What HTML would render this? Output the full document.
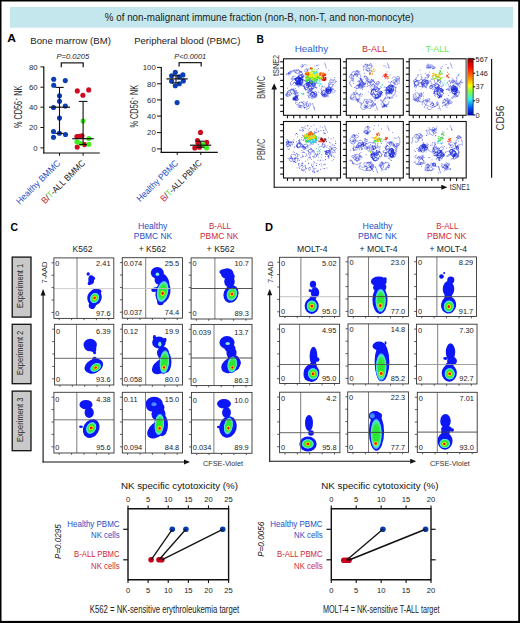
<!DOCTYPE html>
<html><head><meta charset="utf-8"><title>Figure</title>
<style>html,body{margin:0;padding:0;background:#fff;overflow:hidden;width:520px;height:623px;}svg{display:block;}text{font-family:"Liberation Sans",sans-serif;}</style>
</head><body>
<svg width="520" height="623" viewBox="0 0 520 623">
<rect x="0" y="0" width="520" height="623" fill="#fff" />
<rect x="10" y="7" width="503" height="20.7" fill="#c3e7ed" />
<text x="104.8" y="20.5" font-size="10" fill="#1a1a1a" textLength="309" lengthAdjust="spacingAndGlyphs">% of non-malignant immune fraction (non-B, non-T, and non-monocyte)</text>
<text x="7.2" y="42.1" font-size="10" fill="#000" font-weight="bold" textLength="8.7" lengthAdjust="spacingAndGlyphs">A</text>
<text x="30.3" y="44.4" font-size="9.8" fill="#222" textLength="80.6" lengthAdjust="spacingAndGlyphs">Bone marrow (BM)</text>
<text x="134.2" y="44.4" font-size="9.8" fill="#222" textLength="106.2" lengthAdjust="spacingAndGlyphs">Peripheral blood (PBMC)</text>
<text x="56.5" y="58.6" font-size="6.6" fill="#222" font-style="italic" textLength="32.7" lengthAdjust="spacingAndGlyphs">P=0.0205</text>
<path d="M61.3 67.2 V62.9 H83.2 V67.2" fill="none" stroke="#222" stroke-width="1.3"/>
<line x1="43.8" y1="66.4" x2="43.8" y2="153.6" stroke="#111" stroke-width="1.2" />
<line x1="43.2" y1="153.0" x2="99.8" y2="153.0" stroke="#111" stroke-width="1.2" />
<line x1="40.4" y1="66.9" x2="43.8" y2="66.9" stroke="#111" stroke-width="1.0" />
<text x="37.6" y="69.60000000000001" font-size="7.8" fill="#2a2a2a" text-anchor="end">80</text>
<line x1="40.4" y1="87.2" x2="43.8" y2="87.2" stroke="#111" stroke-width="1.0" />
<text x="37.6" y="89.9" font-size="7.8" fill="#2a2a2a" text-anchor="end">60</text>
<line x1="40.4" y1="107.2" x2="43.8" y2="107.2" stroke="#111" stroke-width="1.0" />
<text x="37.6" y="109.9" font-size="7.8" fill="#2a2a2a" text-anchor="end">40</text>
<line x1="40.4" y1="127.5" x2="43.8" y2="127.5" stroke="#111" stroke-width="1.0" />
<text x="37.6" y="130.2" font-size="7.8" fill="#2a2a2a" text-anchor="end">20</text>
<line x1="40.4" y1="147.9" x2="43.8" y2="147.9" stroke="#111" stroke-width="1.0" />
<text x="37.6" y="150.6" font-size="7.8" fill="#2a2a2a" text-anchor="end">0</text>
<line x1="59.5" y1="153" x2="59.5" y2="155.8" stroke="#111" stroke-width="1.0" />
<line x1="83.1" y1="153" x2="83.1" y2="155.8" stroke="#111" stroke-width="1.0" />
<circle cx="53.7" cy="79.2" r="2.55" fill="#0b3db5"/>
<circle cx="65.3" cy="80.6" r="2.55" fill="#0b3db5"/>
<circle cx="53.7" cy="85.3" r="2.55" fill="#0b3db5"/>
<circle cx="59.5" cy="95.7" r="2.55" fill="#0b3db5"/>
<circle cx="59.5" cy="101.2" r="2.55" fill="#0b3db5"/>
<circle cx="53.5" cy="107.5" r="2.55" fill="#0b3db5"/>
<circle cx="65.3" cy="106.0" r="2.55" fill="#0b3db5"/>
<circle cx="59.5" cy="118.0" r="2.55" fill="#0b3db5"/>
<circle cx="53.5" cy="131.5" r="2.55" fill="#0b3db5"/>
<circle cx="59.4" cy="133.3" r="2.55" fill="#0b3db5"/>
<circle cx="65.5" cy="134.5" r="2.55" fill="#0b3db5"/>
<circle cx="53.5" cy="137.3" r="2.55" fill="#0b3db5"/>
<circle cx="77.3" cy="90.9" r="2.55" fill="#cf0a20"/>
<circle cx="88.7" cy="89.9" r="2.55" fill="#cf0a20"/>
<circle cx="82.9" cy="95.2" r="2.55" fill="#cf0a20"/>
<circle cx="76.9" cy="136.5" r="2.55" fill="#cf0a20"/>
<circle cx="79.5" cy="136.2" r="2.55" fill="#cf0a20"/>
<circle cx="82.0" cy="135.7" r="2.55" fill="#cf0a20"/>
<circle cx="84.6" cy="144.6" r="2.55" fill="#cf0a20"/>
<circle cx="77.2" cy="147.1" r="2.55" fill="#cf0a20"/>
<circle cx="83.0" cy="121.1" r="2.55" fill="#3ef01e"/>
<circle cx="76.9" cy="141.8" r="2.55" fill="#3ef01e"/>
<circle cx="80.8" cy="143.5" r="2.55" fill="#3ef01e"/>
<circle cx="88.8" cy="138.5" r="2.55" fill="#3ef01e"/>
<circle cx="88.8" cy="144.2" r="2.55" fill="#3ef01e"/>
<line x1="49" y1="107.2" x2="70" y2="107.2" stroke="#111" stroke-width="1.2" />
<line x1="59.5" y1="87.4" x2="59.5" y2="133.4" stroke="#111" stroke-width="1.1" />
<line x1="55.3" y1="87.4" x2="63.7" y2="87.4" stroke="#111" stroke-width="1.1" />
<line x1="55.3" y1="133.4" x2="63.6" y2="133.4" stroke="#111" stroke-width="1.1" />
<line x1="72.3" y1="138.7" x2="93.8" y2="138.7" stroke="#111" stroke-width="1.2" />
<line x1="83.1" y1="101.4" x2="83.1" y2="144.5" stroke="#111" stroke-width="1.1" />
<line x1="78.8" y1="101.4" x2="87.5" y2="101.4" stroke="#111" stroke-width="1.1" />
<line x1="79.2" y1="144.5" x2="86.9" y2="144.5" stroke="#111" stroke-width="1.1" />
<text x="22.4" y="128.0" font-size="10.6" fill="#2a2a2a" textLength="42.3" lengthAdjust="spacingAndGlyphs" transform="rotate(-90 22.4 128.0)">% CD56<tspan font-size="6" dx="0.8" dy="-4">+</tspan><tspan dy="4"> NK</tspan></text>
<text x="174.2" y="58.6" font-size="6.6" fill="#222" font-style="italic" textLength="32.0" lengthAdjust="spacingAndGlyphs">P&lt;0.0001</text>
<path d="M179.1 66.6 V62.6 H201.2 V66.6" fill="none" stroke="#222" stroke-width="1.3"/>
<line x1="161.3" y1="67.0" x2="161.3" y2="152.9" stroke="#111" stroke-width="1.2" />
<line x1="160.7" y1="152.3" x2="217.8" y2="152.3" stroke="#111" stroke-width="1.2" />
<line x1="157.0" y1="67.4" x2="161.3" y2="67.4" stroke="#111" stroke-width="1.0" />
<text x="155.8" y="70.10000000000001" font-size="7.8" fill="#2a2a2a" text-anchor="end">100</text>
<line x1="157.0" y1="83.8" x2="161.3" y2="83.8" stroke="#111" stroke-width="1.0" />
<text x="155.8" y="86.5" font-size="7.8" fill="#2a2a2a" text-anchor="end">80</text>
<line x1="157.0" y1="99.9" x2="161.3" y2="99.9" stroke="#111" stroke-width="1.0" />
<text x="155.8" y="102.60000000000001" font-size="7.8" fill="#2a2a2a" text-anchor="end">60</text>
<line x1="157.0" y1="116.1" x2="161.3" y2="116.1" stroke="#111" stroke-width="1.0" />
<text x="155.8" y="118.8" font-size="7.8" fill="#2a2a2a" text-anchor="end">40</text>
<line x1="157.0" y1="132.6" x2="161.3" y2="132.6" stroke="#111" stroke-width="1.0" />
<text x="155.8" y="135.29999999999998" font-size="7.8" fill="#2a2a2a" text-anchor="end">20</text>
<line x1="157.0" y1="148.9" x2="161.3" y2="148.9" stroke="#111" stroke-width="1.0" />
<text x="155.8" y="151.6" font-size="7.8" fill="#2a2a2a" text-anchor="end">0</text>
<line x1="177.2" y1="152.3" x2="177.2" y2="155.0" stroke="#111" stroke-width="1.0" />
<line x1="200.8" y1="152.3" x2="200.8" y2="155.0" stroke="#111" stroke-width="1.0" />
<circle cx="175.3" cy="72.4" r="2.55" fill="#0b3db5"/>
<circle cx="171.6" cy="75.7" r="2.55" fill="#0b3db5"/>
<circle cx="182.9" cy="74.9" r="2.55" fill="#0b3db5"/>
<circle cx="179.3" cy="76.9" r="2.55" fill="#0b3db5"/>
<circle cx="171.6" cy="81.3" r="2.55" fill="#0b3db5"/>
<circle cx="183.3" cy="80.9" r="2.55" fill="#0b3db5"/>
<circle cx="175.3" cy="85.7" r="2.55" fill="#0b3db5"/>
<circle cx="179.3" cy="83.7" r="2.55" fill="#0b3db5"/>
<circle cx="177.1" cy="102.6" r="2.55" fill="#0b3db5"/>
<circle cx="200.5" cy="132.4" r="2.55" fill="#cf0a20"/>
<circle cx="197.5" cy="140.6" r="2.55" fill="#cf0a20"/>
<circle cx="206.7" cy="142.4" r="2.55" fill="#cf0a20"/>
<circle cx="198.1" cy="143.2" r="2.55" fill="#cf0a20"/>
<circle cx="194.8" cy="147.9" r="2.55" fill="#cf0a20"/>
<circle cx="199.5" cy="147.2" r="2.55" fill="#cf0a20"/>
<circle cx="203.2" cy="144.5" r="2.55" fill="#3ef01e"/>
<circle cx="206.5" cy="147.9" r="2.55" fill="#3ef01e"/>
<line x1="166.4" y1="78.9" x2="187.7" y2="78.9" stroke="#111" stroke-width="1.2" />
<line x1="176.0" y1="75.7" x2="176.0" y2="82.9" stroke="#111" stroke-width="1.1" />
<line x1="172.0" y1="75.7" x2="180.0" y2="75.7" stroke="#111" stroke-width="1.1" />
<line x1="172.0" y1="82.9" x2="180.0" y2="82.9" stroke="#111" stroke-width="1.1" />
<line x1="190.0" y1="145.2" x2="211.3" y2="145.2" stroke="#111" stroke-width="1.2" />
<line x1="200.8" y1="141.2" x2="200.8" y2="147.2" stroke="#111" stroke-width="1.1" />
<line x1="196.4" y1="141.2" x2="204.5" y2="141.2" stroke="#111" stroke-width="1.1" />
<line x1="196.4" y1="147.2" x2="204.5" y2="147.2" stroke="#111" stroke-width="1.1" />
<text x="137.9" y="127.6" font-size="10.6" fill="#2a2a2a" textLength="42.8" lengthAdjust="spacingAndGlyphs" transform="rotate(-90 137.9 127.6)">% CD56<tspan font-size="6" dx="0.8" dy="-4">+</tspan><tspan dy="4"> NK</tspan></text>
<text x="61.0" y="163.7" font-size="9.0" text-anchor="end" transform="rotate(-45 61.0 163.7)" textLength="58.5" lengthAdjust="spacingAndGlyphs"><tspan fill="#1f4ec2">Healthy BMMC</tspan></text>
<text x="85.7" y="163.7" font-size="9.0" text-anchor="end" transform="rotate(-45 85.7 163.7)" textLength="57.5" lengthAdjust="spacingAndGlyphs"><tspan fill="#d01f38">B</tspan><tspan fill="#222">/</tspan><tspan fill="#66e04a">T</tspan><tspan fill="#222">-ALL BMMC</tspan></text>
<text x="178.8" y="163.7" font-size="9.0" text-anchor="end" transform="rotate(-45 178.8 163.7)" textLength="54.5" lengthAdjust="spacingAndGlyphs"><tspan fill="#1f4ec2">Healthy PBMC</tspan></text>
<text x="202.5" y="163.7" font-size="9.0" text-anchor="end" transform="rotate(-45 202.5 163.7)" textLength="54.5" lengthAdjust="spacingAndGlyphs"><tspan fill="#d01f38">B</tspan><tspan fill="#222">/</tspan><tspan fill="#66e04a">T</tspan><tspan fill="#222">-ALL PBMC</tspan></text>
<text x="256.5" y="42.5" font-size="10.2" fill="#000" font-weight="bold" textLength="7.4" lengthAdjust="spacingAndGlyphs">B</text>
<text x="294.7" y="52.1" font-size="9.3" fill="#2f5fd0" textLength="33.4" lengthAdjust="spacingAndGlyphs">Healthy</text>
<text x="361.9" y="52.1" font-size="9.3" fill="#d01f38" textLength="25.0" lengthAdjust="spacingAndGlyphs">B-ALL</text>
<text x="425.4" y="52.1" font-size="9.3" fill="#6ee84e" textLength="23.8" lengthAdjust="spacingAndGlyphs">T-ALL</text>
<path d="M301.3 72.9 L301.8 72.3 L301.6 71.8 L300.8 71.4 L300.0 71.2 L299.3 71.5 L299.0 72.2 L298.6 72.7 L298.2 73.3 L297.4 73.5 L296.7 73.4 L295.9 73.1 L295.5 72.5 L295.3 72.0 L295.5 71.2 L296.0 70.5 L296.5 69.7 L297.0 70.2 L297.2 71.0 L297.2 71.7 L296.8 72.1 L296.3 72.4 L295.6 72.4 L294.8 72.1 L294.3 71.8 L293.9 71.4 L293.9 70.7 L294.3 70.2 L294.7 70.6" fill="none" stroke="#1422d6" stroke-width="0.70" stroke-opacity="0.90" stroke-dasharray="0.9 0.4"/>
<path d="M296.6 83.0 L296.9 82.5 L297.0 81.8 L297.6 81.3 L298.2 81.2 L298.8 81.5 L299.1 82.0 L299.0 82.8 L298.7 83.3 L298.3 83.9 L297.7 84.2 L297.0 84.3 L296.1 84.0 L295.5 83.5 L295.3 82.9 L295.0 82.4 L294.5 82.2 L293.6 82.3 L293.2 82.9" fill="none" stroke="#1422d6" stroke-width="0.70" stroke-opacity="0.90" stroke-dasharray="0.9 0.4"/>
<path d="M291.1 72.9 L290.5 72.6 L289.8 72.8 L289.1 72.8 L288.6 73.2 L287.8 73.6 L287.9 74.4 L288.3 75.0 L289.2 75.1 L289.7 74.8 L290.0 74.4 L290.0 73.8 L289.6 73.3 L289.1 72.8 L288.4 72.5 L288.3 73.1 L288.8 73.3 L289.6 73.5 L290.2 73.5 L290.9 73.2 L291.4 72.7 L291.5 72.1 L291.3 71.3 L290.8 70.9 L290.4 71.3" fill="none" stroke="#1422d6" stroke-width="0.70" stroke-opacity="0.90" stroke-dasharray="0.9 0.4"/>
<path d="M300.1 72.1 L300.0 71.2 L299.6 70.6 L298.9 70.2 L298.1 70.0 L297.3 70.1 L296.6 70.4 L295.9 70.3 L295.3 70.1 L294.5 70.0 L293.8 70.4 L293.3 70.7 L292.7 70.9 L292.0 70.6 L291.4 71.1 L290.9 71.6 L290.0 71.6 L289.4 71.9 L288.8 72.3 L288.6 72.8 L288.4 73.5 L287.9 73.9 L287.1 73.7 L286.5 73.9 L286.3 74.5 L286.4 75.4" fill="none" stroke="#1422d6" stroke-width="0.70" stroke-opacity="0.90" stroke-dasharray="0.9 0.4"/>
<path d="M302.9 74.6 L302.8 75.2 L302.5 76.0 L302.5 76.8 L302.3 77.4 L301.7 77.9 L300.9 78.0 L300.0 77.9 L299.2 77.7 L298.7 77.3 L298.3 76.5 L298.5 75.8 L298.7 75.1 L299.0 74.4 L299.2 73.8 L299.4 72.9 L299.7 72.4 L300.0 71.6 L300.5 71.0 L301.0 71.5 L300.9 72.4 L300.6 72.8 L300.1 73.3" fill="none" stroke="#1422d6" stroke-width="0.70" stroke-opacity="0.90" stroke-dasharray="0.9 0.4"/>
<path d="M299.2 79.5 L299.7 79.7 L300.2 80.3 L300.6 80.9 L300.8 81.6 L300.7 82.2 L300.3 82.8 L299.6 83.2 L298.8 83.4 L298.2 83.2 L297.7 82.4 L297.7 81.8 L298.0 81.3 L298.7 80.9 L299.5 80.6" fill="none" stroke="#1422d6" stroke-width="0.70" stroke-opacity="0.90" stroke-dasharray="0.9 0.4"/>
<path d="M301.4 82.4 L300.8 82.9 L300.2 83.0 L299.5 83.1 L299.0 83.4 L298.5 84.1 L298.1 84.5 L298.1 85.2 L298.1 85.9 L298.3 86.7 L299.0 87.2 L299.3 86.4 L299.3 85.8 L299.2 85.0 L299.4 84.2" fill="none" stroke="#1422d6" stroke-width="0.70" stroke-opacity="0.90" stroke-dasharray="0.9 0.4"/>
<path d="M302.2 76.4 L302.2 77.2 L301.8 77.8 L301.0 77.9 L300.4 77.6 L300.1 77.0 L299.6 76.6 L299.4 76.0 L299.7 75.4 L300.3 75.0 L301.1 74.9 L301.9 75.4 L302.5 75.9 L302.8 76.4 L302.9 77.0 L302.9 77.7 L302.5 78.4 L301.7 78.5 L300.9 78.5 L300.3 78.4 L299.7 78.0 L299.4 77.1 L298.8 76.7 L298.0 76.6 L297.3 76.9 L296.9 77.4 L296.4 78.0 L295.6 78.3 L294.8 78.5 L294.1 78.5 L293.5 78.3 L293.0 77.6 L292.9 76.8 L293.2 76.1 L293.6 75.7" fill="none" stroke="#1422d6" stroke-width="0.70" stroke-opacity="0.90" stroke-dasharray="0.9 0.4"/>
<path d="M298.7 83.0 L299.0 83.7 L298.9 84.5 L298.5 85.0 L297.8 85.5 L297.2 85.6 L296.5 85.3 L296.1 84.9 L295.6 84.1 L295.7 83.6 L295.4 82.9 L294.9 82.6 L294.1 82.7 L293.5 83.1 L293.1 83.8 L292.9 84.3 L292.3 84.8 L291.7 85.1 L290.9 85.0 L290.4 84.4 L290.4 83.7 L290.5 82.9 L290.7 82.1 L291.1 81.6 L291.7 81.4 L292.2 81.0 L292.6 80.5 L292.7 79.7 L292.4 79.0 L291.8 78.3 L291.2 77.8" fill="none" stroke="#1422d6" stroke-width="0.70" stroke-opacity="0.90" stroke-dasharray="0.9 0.4"/>
<path d="M297.4 81.7 L298.2 81.5 L299.0 81.6 L299.6 81.8 L300.0 82.1 L300.6 82.7 L300.9 83.2 L301.7 83.6 L302.2 83.2 L302.3 82.6 L302.0 82.1 L301.9 81.2 L302.0 80.5 L302.4 80.0 L302.1 79.4 L301.4 79.1 L300.8 79.0 L300.3 78.5 L299.8 78.2 L299.5 77.7 L298.9 77.8 L298.5 78.2 L298.3 79.0 L298.4 79.7" fill="none" stroke="#1422d6" stroke-width="0.90" stroke-opacity="1.00" stroke-dasharray="0.9 0.4"/>
<path d="M299.8 81.1 L300.0 82.0 L300.3 82.7 L300.2 83.3 L299.9 84.0 L299.4 84.5 L298.6 84.7 L297.8 84.3 L297.3 83.8 L296.9 83.1 L296.9 82.2 L297.1 81.7 L297.7 81.1 L298.3 81.0 L299.1 81.4 L299.4 82.0 L299.5 82.7 L299.2 83.5 L298.6 84.0 L298.0 84.1 L297.4 84.1 L297.0 83.6 L296.6 83.0" fill="none" stroke="#1422d6" stroke-width="0.90" stroke-opacity="1.00" stroke-dasharray="0.9 0.4"/>
<path d="M298.7 80.4 L298.7 79.6 L298.9 79.1 L299.5 78.4 L300.1 78.2 L300.9 78.2 L301.2 78.7 L301.8 79.3 L302.3 79.8 L302.1 80.5 L302.3 81.3 L302.5 82.1 L301.9 82.6 L301.3 83.2 L300.8 83.6 L300.7 84.2 L300.7 84.9 L300.1 85.1 L299.5 85.2 L299.0 84.9 L298.3 84.5 L297.4 84.6 L297.1 84.0 L297.2 83.4 L297.3 82.6 L297.6 81.9 L298.1 81.4 L298.9 81.2 L299.5 81.2 L300.3 81.2" fill="none" stroke="#1422d6" stroke-width="0.90" stroke-opacity="1.00" stroke-dasharray="0.9 0.4"/>
<path d="M295.9 81.1 L296.0 80.5 L296.0 79.7 L295.4 79.0 L295.8 78.4 L296.4 77.8 L297.0 77.5 L297.9 77.4 L298.6 77.4 L299.2 77.8 L300.0 78.1 L300.8 78.5 L301.5 79.0 L302.1 79.4 L301.8 79.9 L301.2 80.3 L300.4 80.6 L299.6 80.4 L299.1 79.8 L299.0 79.3 L298.9 78.5" fill="none" stroke="#1422d6" stroke-width="0.90" stroke-opacity="1.00" stroke-dasharray="0.9 0.4"/>
<path d="M297.7 80.7 L297.1 80.1 L296.5 79.7 L295.8 79.6 L295.6 80.3 L296.3 80.8 L297.0 81.1 L297.6 81.3 L298.3 81.5 L299.1 81.3 L299.8 81.4 L300.6 81.6 L301.0 82.1 L301.1 83.0 L300.8 83.5 L300.1 83.8 L299.3 83.6 L298.7 83.2" fill="none" stroke="#1422d6" stroke-width="0.90" stroke-opacity="1.00" stroke-dasharray="0.9 0.4"/>
<path d="M296.2 82.8 L295.8 83.5 L296.4 84.2 L297.0 84.3 L297.9 84.1 L298.5 83.9 L298.9 83.6 L299.7 83.6 L300.2 84.0 L300.7 84.7 L301.6 84.9 L302.0 84.5 L302.4 84.0 L302.8 83.2 L302.6 82.4 L302.2 81.7 L302.3 80.9 L302.7 80.5 L302.6 79.7 L302.1 79.3 L301.5 79.0 L301.1 78.3 L300.3 78.0 L299.5 77.9 L298.9 77.8 L298.3 77.9 L297.7 77.8 L297.1 77.9 L296.5 78.2 L296.0 78.9 L295.6 79.5 L296.0 80.3" fill="none" stroke="#1422d6" stroke-width="0.90" stroke-opacity="1.00" stroke-dasharray="0.9 0.4"/>
<path d="M311.9 85.7 L312.2 85.1 L312.5 84.3 L312.7 83.6 L312.7 82.9 L312.6 82.2 L312.4 81.7 L311.9 81.1 L311.1 80.7 L310.7 81.5 L310.8 82.3 L310.9 83.1 L311.0 83.6 L311.2 84.4 L311.0 84.9 L310.5 85.6 L309.7 85.9 L309.0 86.0 L308.3 85.8 L307.7 85.4 L307.2 84.8 L307.1 84.2 L307.3 83.6 L307.9 83.0 L308.5 82.5 L309.0 82.1 L309.8 82.1 L310.5 82.4 L311.1 82.9 L311.5 83.4" fill="none" stroke="#1422d6" stroke-width="0.70" stroke-opacity="1.00" stroke-dasharray="0.9 0.4"/>
<path d="M305.9 89.1 L305.2 88.7 L304.3 88.6 L304.2 87.7 L304.1 87.1 L303.6 86.6 L303.1 86.1 L302.3 85.9 L301.6 85.8 L301.2 85.2 L301.3 84.6 L302.0 84.5 L302.7 84.9 L303.0 85.3 L303.6 86.0 L304.1 86.6 L304.6 87.3 L304.8 88.0 L305.0 88.7 L305.0 89.5 L305.5 89.7 L306.2 89.7 L307.0 89.7 L307.6 89.5" fill="none" stroke="#1422d6" stroke-width="0.70" stroke-opacity="1.00" stroke-dasharray="0.9 0.4"/>
<path d="M313.0 82.5 L312.4 82.7 L312.0 83.2 L312.0 83.9 L312.2 84.6 L312.4 85.1 L313.0 85.8 L313.5 86.4 L314.2 86.5 L314.8 86.2 L315.1 85.7 L315.3 85.1 L315.3 84.5 L315.0 84.0 L314.5 83.5 L313.9 83.1 L313.4 82.6 L312.7 82.5 L312.0 82.6 L311.5 83.3 L311.3 84.1" fill="none" stroke="#1422d6" stroke-width="0.70" stroke-opacity="1.00" stroke-dasharray="0.9 0.4"/>
<path d="M306.9 83.1 L306.4 83.4 L305.8 83.9 L305.3 84.4 L304.9 84.9 L304.6 85.5 L304.4 86.0 L304.4 86.7 L304.7 87.5 L304.9 88.2 L304.8 88.8 L305.1 89.5 L305.6 89.8 L306.2 89.7 L306.8 89.5 L307.5 89.1 L308.1 89.0 L308.9 89.0 L309.6 89.3 L310.1 90.0" fill="none" stroke="#1422d6" stroke-width="0.70" stroke-opacity="1.00" stroke-dasharray="0.9 0.4"/>
<path d="M313.1 81.4 L312.5 81.9 L312.2 82.5 L312.2 83.3 L312.6 83.9 L313.3 84.4 L313.9 84.5 L314.5 84.5 L315.1 84.3 L315.5 83.8 L315.8 83.2 L316.0 82.3 L315.7 81.7 L314.9 81.7 L314.4 82.5 L314.1 83.1 L314.0 83.8" fill="none" stroke="#1422d6" stroke-width="0.70" stroke-opacity="1.00" stroke-dasharray="0.9 0.4"/>
<path d="M313.7 81.7 L314.1 82.2 L314.8 82.6 L315.5 83.0 L316.0 83.1 L316.9 82.8 L316.4 82.4 L315.7 82.7 L315.1 82.8 L314.4 82.9 L313.8 82.8 L313.2 82.8 L312.5 83.3 L312.1 83.9 L312.1 84.6" fill="none" stroke="#1422d6" stroke-width="0.70" stroke-opacity="1.00" stroke-dasharray="0.9 0.4"/>
<path d="M311.4 88.7 L312.2 88.4 L313.0 88.2 L313.6 88.2 L314.1 87.8 L314.8 87.7 L315.7 87.6 L316.5 87.4 L317.2 87.7 L316.5 88.2 L315.8 87.8 L315.4 87.3 L315.2 86.6 L314.8 86.0 L314.3 85.6 L313.7 85.3" fill="none" stroke="#1422d6" stroke-width="0.70" stroke-opacity="1.00" stroke-dasharray="0.9 0.4"/>
<path d="M308.9 86.5 L308.6 87.3 L308.7 87.9 L309.0 88.3 L309.5 88.8 L310.1 89.0 L310.9 89.3 L311.5 89.1 L312.2 89.0 L312.8 88.7 L313.4 88.4 L313.8 87.6 L313.7 86.9 L313.5 86.2 L313.2 85.4 L312.8 85.0 L312.3 84.4 L311.8 84.0 L311.1 84.0 L310.3 84.1 L309.5 84.0 L309.0 83.5 L308.9 82.9 L309.1 82.2 L309.7 81.6 L310.5 81.3 L311.4 81.3 L312.1 81.8 L312.8 82.2 L313.4 82.6 L313.7 83.1 L313.9 83.7 L313.9 84.4 L313.9 85.2 L313.4 86.0" fill="none" stroke="#1422d6" stroke-width="0.70" stroke-opacity="1.00" stroke-dasharray="0.9 0.4"/>
<path d="M312.8 92.0 L312.3 92.5 L311.5 92.6 L311.0 92.9 L310.7 93.5 L310.5 94.2 L310.4 95.0 L310.7 95.9 L311.1 96.3 L311.8 96.7 L312.4 96.5 L312.7 95.9 L312.5 95.3 L312.8 94.5 L313.2 94.0 L313.3 93.4 L312.9 93.0 L312.2 92.7 L311.4 93.1" fill="none" stroke="#1422d6" stroke-width="0.70" stroke-opacity="0.94" stroke-dasharray="0.9 0.4"/>
<path d="M310.5 91.1 L311.3 91.0 L312.0 91.0 L312.7 91.3 L313.2 91.6 L313.9 92.1 L314.3 92.6 L314.3 93.1 L314.1 93.7 L313.7 94.1 L313.2 94.9 L312.8 95.6 L312.9 96.2 L312.7 96.9 L312.5 97.5 L312.1 97.9 L311.6 98.2" fill="none" stroke="#1422d6" stroke-width="0.70" stroke-opacity="0.94" stroke-dasharray="0.9 0.4"/>
<path d="M309.5 90.5 L310.0 90.1 L310.6 89.5 L311.5 89.3 L311.8 89.9 L311.7 90.5 L311.2 91.3 L310.6 91.5 L309.8 91.5 L309.0 91.3 L308.3 91.1 L307.8 90.7 L308.3 90.3 L308.7 90.7 L309.3 91.4 L309.3 92.0 L309.0 92.7 L308.5 92.9 L307.7 92.8 L307.0 92.6 L307.4 92.0 L308.1 92.0 L308.7 92.4 L309.1 93.0 L309.3 93.9 L309.2 94.6 L309.1 95.5 L308.9 96.1 L308.5 96.5" fill="none" stroke="#1422d6" stroke-width="0.70" stroke-opacity="0.94" stroke-dasharray="0.9 0.4"/>
<path d="M309.0 96.2 L308.6 96.8 L308.2 97.3 L308.6 97.8 L309.4 97.9 L310.1 97.8 L310.9 97.8 L311.5 98.1 L312.1 98.6 L312.9 98.5 L313.3 98.2 L313.5 97.6 L314.1 96.9 L314.7 96.5 L315.4 96.0 L316.1 95.6 L316.7 95.6 L317.1 94.9 L316.7 94.3 L315.9 94.0 L315.2 93.9 L314.3 93.5 L313.8 92.9 L313.3 92.5 L312.7 92.3 L312.1 92.3 L311.5 92.8 L311.1 93.2 L310.8 93.9 L310.6 94.6" fill="none" stroke="#1422d6" stroke-width="0.70" stroke-opacity="0.94" stroke-dasharray="0.9 0.4"/>
<path d="M315.1 97.2 L315.4 97.8 L314.7 97.8 L314.3 97.2 L314.0 96.6 L313.9 96.0 L314.0 95.2 L314.4 94.6 L315.1 94.2 L315.7 94.2 L316.3 94.5 L316.6 95.1 L316.9 95.7 L316.2 95.9 L315.3 95.8 L314.8 95.5 L314.5 94.9 L314.6 94.1 L314.5 93.4 L313.8 92.9 L313.2 92.5 L312.4 92.5 L311.6 92.8 L311.0 93.3 L310.4 94.0 L310.1 94.8 L310.0 95.4 L310.4 96.0 L310.9 96.2 L311.5 96.3 L312.3 95.9 L312.7 95.1" fill="none" stroke="#1422d6" stroke-width="0.70" stroke-opacity="0.94" stroke-dasharray="0.9 0.4"/>
<path d="M315.8 95.9 L316.0 96.7 L315.2 96.9 L314.4 96.9 L313.6 96.7 L312.9 96.5 L312.4 96.0 L311.9 95.4 L311.5 94.8 L311.1 94.1 L310.9 93.5 L311.1 92.7 L311.6 92.2 L312.4 92.0 L313.3 92.2 L313.9 92.3 L314.5 92.9 L315.2 93.5 L315.8 93.5 L316.6 93.2 L317.0 92.5 L316.3 91.9 L315.7 91.7 L315.1 91.8 L314.5 92.0 L314.0 92.4 L313.8 93.2 L313.7 93.9 L314.1 94.7 L314.6 95.1 L315.3 95.1 L315.9 95.1 L316.6 94.9 L317.1 94.2" fill="none" stroke="#1422d6" stroke-width="0.70" stroke-opacity="0.94" stroke-dasharray="0.9 0.4"/>
<path d="M327.5 91.6 L327.0 92.2 L326.4 92.6 L325.7 92.7 L325.1 93.3 L325.0 93.9 L324.8 94.6 L324.4 95.2 L324.4 95.8 L324.9 96.5 L325.5 96.2 L326.2 95.7 L326.6 95.3 L327.0 94.9 L327.0 94.2 L326.8 93.6 L326.7 93.0 L326.6 92.2 L326.7 91.5 L326.7 90.7 L326.6 90.0 L326.4 89.4 L326.2 88.7 L325.9 88.1 L325.4 87.6 L324.7 87.0 L324.0 86.8 L323.2 87.2" fill="none" stroke="#1422d6" stroke-width="0.70" stroke-opacity="0.94" stroke-dasharray="0.9 0.4"/>
<path d="M328.6 96.0 L328.1 95.6 L327.5 95.2 L326.6 95.3 L326.1 95.8 L326.0 96.4 L326.0 96.9 L326.6 96.6 L327.1 96.2 L327.1 95.6 L326.9 95.0 L326.5 94.5 L325.8 94.2 L325.1 94.2 L324.5 94.4 L323.7 94.8 L323.3 95.6 L322.5 95.6 L322.0 95.3 L321.8 94.7 L321.8 93.9 L321.9 93.2 L321.9 92.5 L322.0 91.7 L322.3 91.1 L323.0 90.5 L323.5 90.2 L324.3 90.1 L325.0 90.6 L325.5 91.1 L325.6 91.9" fill="none" stroke="#1422d6" stroke-width="0.70" stroke-opacity="0.94" stroke-dasharray="0.9 0.4"/>
<path d="M324.7 94.8 L324.1 95.0 L323.5 95.3 L323.1 95.8 L322.5 95.6 L322.0 94.9 L322.5 94.4 L323.1 94.2 L324.0 94.5 L324.5 94.9 L324.9 95.6 L324.8 96.4 L324.4 97.0 L323.9 96.5 L324.2 95.9 L324.2 95.3 L323.9 94.5 L324.0 93.8 L324.3 93.3 L325.0 92.9 L325.7 92.6 L326.3 92.5 L327.0 92.3 L327.6 92.4" fill="none" stroke="#1422d6" stroke-width="0.70" stroke-opacity="0.94" stroke-dasharray="0.9 0.4"/>
<path d="M325.8 94.5 L325.0 94.7 L324.1 94.6 L323.4 94.4 L322.8 94.1 L322.4 93.5 L322.0 92.8 L322.0 92.1 L321.9 91.4 L321.6 90.7 L321.4 90.0 L321.0 89.6 L321.2 89.0 L321.4 88.3 L321.8 87.6 L321.6 87.0 L321.9 86.4 L322.3 85.8" fill="none" stroke="#1422d6" stroke-width="0.70" stroke-opacity="0.94" stroke-dasharray="0.9 0.4"/>
<path d="M325.9 95.4 L325.6 95.9 L325.3 96.7 L324.6 97.0 L323.9 97.0 L323.2 96.8 L322.7 96.4 L322.2 95.7 L322.0 95.1 L321.5 94.5 L321.1 93.7 L320.8 93.2 L321.2 92.6 L321.7 92.3 L322.5 92.1" fill="none" stroke="#1422d6" stroke-width="0.70" stroke-opacity="0.94" stroke-dasharray="0.9 0.4"/>
<path d="M322.9 90.3 L323.7 90.2 L324.2 90.5 L324.7 91.0 L324.9 91.7 L324.8 92.5 L324.7 93.3 L324.2 94.0 L323.7 94.3 L323.1 94.4 L322.5 94.0 L322.1 93.5 L321.4 92.9 L321.8 92.4 L322.5 92.0 L323.0 91.9 L323.8 92.2" fill="none" stroke="#1422d6" stroke-width="0.70" stroke-opacity="0.94" stroke-dasharray="0.9 0.4"/>
<path d="M329.2 87.5 L328.9 86.9 L328.7 86.0 L328.9 85.5 L329.3 84.9 L329.7 84.3 L330.2 83.8 L330.3 83.1 L330.2 82.4 L329.5 82.5 L328.9 82.9 L328.4 83.3 L328.2 84.0 L328.4 84.5 L329.1 84.9 L329.9 84.8 L330.6 84.5 L331.3 84.0 L332.1 84.2 L332.6 84.7 L332.7 85.4 L332.5 86.2 L332.2 86.7 L331.8 87.3 L331.5 88.1 L331.6 88.8 L332.1 89.3 L331.8 90.1 L331.8 90.7 L332.1 91.4 L331.8 92.0" fill="none" stroke="#1422d6" stroke-width="0.70" stroke-opacity="0.94" stroke-dasharray="0.9 0.4"/>
<path d="M326.4 92.0 L326.0 91.6 L326.3 91.1 L326.9 90.4 L327.1 89.8 L327.3 89.2 L327.7 88.5 L328.2 87.8 L328.8 87.5 L329.6 87.4 L330.3 87.5 L330.4 88.3 L330.2 88.9 L329.9 89.4 L329.4 89.9 L328.7 90.0 L328.2 90.1 L327.4 89.9" fill="none" stroke="#1422d6" stroke-width="0.90" stroke-opacity="1.00" stroke-dasharray="0.9 0.4"/>
<path d="M330.5 88.7 L331.2 88.7 L331.8 89.0 L331.8 89.6 L331.4 90.3 L330.8 90.9 L330.3 91.5 L330.3 92.1 L330.5 92.8 L329.8 93.2 L329.2 93.7 L328.4 94.0 L327.8 93.9 L327.1 93.6 L326.8 93.0 L326.7 92.4 L326.2 91.8 L326.2 91.0 L326.0 90.1 L326.4 89.4 L326.4 88.9 L326.2 88.3 L326.7 87.8 L327.5 87.7 L327.9 87.1 L327.9 86.5 L328.7 86.2 L329.4 86.5 L330.1 87.1 L330.5 87.6 L330.2 88.2 L329.8 88.8 L329.1 89.3 L328.4 89.3 L327.7 89.3" fill="none" stroke="#1422d6" stroke-width="0.90" stroke-opacity="1.00" stroke-dasharray="0.9 0.4"/>
<path d="M328.6 91.8 L328.4 91.2 L327.9 90.7 L327.0 90.7 L326.5 90.9 L325.8 90.9 L326.2 90.2 L326.6 89.4 L327.2 89.2 L327.9 89.1 L328.5 89.1 L329.1 89.4 L329.4 89.9 L329.9 90.6 L330.4 91.4 L330.5 92.3 L330.4 93.0 L329.5 93.1 L328.9 92.6 L328.5 92.1 L328.6 91.3 L329.1 90.6 L329.6 90.2 L330.3 89.7 L331.1 89.7 L330.7 90.3 L330.3 90.7 L329.6 91.0 L328.8 91.1 L328.2 91.0 L327.8 90.6 L327.7 90.0 L327.8 89.2 L328.1 88.6 L328.6 88.3" fill="none" stroke="#1422d6" stroke-width="0.90" stroke-opacity="1.00" stroke-dasharray="0.9 0.4"/>
<path d="M327.1 88.3 L326.4 88.5 L325.6 88.9 L325.8 89.5 L326.5 89.8 L327.3 90.0 L328.0 90.2 L328.7 90.0 L329.4 89.9 L330.0 90.0 L330.7 90.2 L331.4 90.3 L331.4 90.9 L331.0 91.4 L330.4 91.5" fill="none" stroke="#1422d6" stroke-width="0.90" stroke-opacity="1.00" stroke-dasharray="0.9 0.4"/>
<path d="M328.1 91.2 L328.1 90.5 L328.5 90.0 L329.0 89.5 L329.7 89.3 L330.5 89.4 L331.0 89.7 L330.7 90.3 L330.0 90.8 L329.2 90.7 L328.4 91.2 L327.9 91.8 L327.7 92.3 L327.7 93.2 L327.8 94.0 L328.3 93.5 L328.5 92.9 L328.5 92.3 L328.2 91.8 L327.4 91.8 L326.7 92.0 L326.5 92.6 L327.1 92.4 L327.6 91.6 L327.4 90.8 L327.0 90.0 L326.4 89.8 L325.5 90.0 L326.0 90.6 L326.6 90.3 L327.4 90.7 L327.9 91.2" fill="none" stroke="#1422d6" stroke-width="0.90" stroke-opacity="1.00" stroke-dasharray="0.9 0.4"/>
<path d="M294.5 92.9 L294.1 92.4 L294.1 91.6 L294.3 90.9 L294.0 90.2 L293.6 89.7 L293.2 90.4 L293.3 91.1 L293.8 91.8 L294.4 92.2 L295.3 92.1 L295.9 91.8 L296.2 91.3 L296.4 90.7 L295.7 90.6 L295.3 90.2 L294.6 89.8 L293.9 89.5 L293.1 89.4 L292.6 89.5 L291.7 89.6 L291.1 89.7 L290.4 90.1 L290.0 90.4 L289.1 90.4 L288.6 90.8 L288.1 91.4 L287.6 91.7 L287.2 92.4 L287.2 93.1 L287.0 93.8 L286.6 94.4" fill="none" stroke="#1422d6" stroke-width="0.70" stroke-opacity="0.86" stroke-dasharray="0.9 0.4"/>
<path d="M287.5 92.6 L288.3 92.7 L288.9 92.9 L289.5 93.5 L289.7 94.3 L289.7 94.9 L289.7 95.5 L289.3 96.2 L288.8 96.7 L288.3 96.7 L287.5 96.4 L286.8 96.0 L286.4 95.4 L287.0 95.0 L287.5 94.7 L288.3 94.6 L289.1 94.9 L289.7 95.0 L290.3 94.9 L291.2 94.6 L291.5 94.1 L291.4 93.2 L291.1 92.6 L290.3 92.3 L289.6 92.2" fill="none" stroke="#1422d6" stroke-width="0.70" stroke-opacity="0.86" stroke-dasharray="0.9 0.4"/>
<path d="M293.4 90.4 L292.9 89.9 L292.7 89.2 L292.2 88.8 L291.5 88.8 L291.1 89.2 L290.5 89.5 L290.1 90.1 L289.5 90.6 L288.8 90.6 L288.1 91.0 L287.9 91.6 L288.0 92.4 L287.9 93.1 L287.3 93.7 L286.7 94.0 L286.2 93.9 L285.8 94.4 L285.7 94.9 L286.0 95.7 L286.5 96.4 L287.1 96.3 L287.7 95.8 L288.0 95.3 L287.9 94.5 L287.5 94.1 L286.9 94.0 L286.1 94.1 L285.9 94.9" fill="none" stroke="#1422d6" stroke-width="0.70" stroke-opacity="0.86" stroke-dasharray="0.9 0.4"/>
<path d="M298.1 95.4 L297.6 95.8 L297.0 95.9 L296.3 95.7 L295.9 95.0 L295.5 94.2 L295.7 93.5 L296.5 93.0 L297.2 93.1 L297.6 93.5 L298.2 94.2 L298.6 94.9 L298.0 95.6 L297.3 96.0 L296.4 96.1 L295.8 95.7 L295.6 95.0 L295.5 94.4 L295.5 93.7 L295.7 93.1 L296.1 92.7 L296.8 92.4 L297.4 92.3 L298.1 92.5 L297.6 93.3 L297.0 93.7 L296.5 94.0 L295.6 93.7 L295.3 93.2 L295.0 92.4 L295.0 91.7 L295.5 91.3 L296.2 90.9 L296.9 91.1" fill="none" stroke="#1422d6" stroke-width="0.70" stroke-opacity="0.86" stroke-dasharray="0.9 0.4"/>
<path d="M294.5 96.7 L295.3 96.5 L296.1 96.1 L296.7 95.7 L297.3 95.6 L298.0 95.5 L298.6 95.9 L298.1 96.4 L297.6 96.7 L296.8 96.7 L296.1 96.5 L295.7 96.1 L295.2 95.7 L294.8 95.1 L294.6 94.4 L294.4 93.6 L294.5 93.0 L294.8 92.3 L294.6 91.4 L294.3 90.6 L293.9 89.8 L293.2 90.1 L292.5 90.1 L291.6 89.9 L290.9 89.9 L290.4 90.7 L290.3 91.4 L290.6 92.0 L290.8 92.6 L291.2 93.1 L291.9 93.5 L292.5 93.7 L293.2 93.8 L293.9 93.6 L294.5 93.8" fill="none" stroke="#1422d6" stroke-width="0.70" stroke-opacity="0.86" stroke-dasharray="0.9 0.4"/>
<path d="M294.4 97.7 L293.8 98.2 L292.9 98.4 L292.7 98.9 L293.3 99.6 L294.0 99.7 L294.6 99.6 L295.2 99.5 L295.8 99.4 L296.4 99.1 L296.8 98.6 L297.1 97.7 L297.3 97.1 L297.4 96.4 L296.6 96.6 L296.5 97.4 L296.8 97.8 L297.2 98.4 L297.9 98.8 L298.6 99.3 L298.0 99.8 L297.2 100.0 L296.5 99.9 L295.7 99.5 L295.1 99.1 L294.5 98.5 L293.9 98.0 L293.3 98.1 L293.5 98.9 L294.1 99.1 L294.8 98.8" fill="none" stroke="#1422d6" stroke-width="0.90" stroke-opacity="1.00" stroke-dasharray="0.9 0.4"/>
<path d="M294.4 99.6 L295.0 99.4 L295.5 99.6 L295.9 100.3 L295.8 100.9 L295.0 100.6 L294.8 100.1 L294.8 99.5 L295.1 98.7 L294.9 98.0 L294.3 97.6 L293.6 97.4 L293.9 98.2 L294.5 98.5 L295.1 98.4 L295.7 98.0 L296.2 97.6 L296.3 96.9 L296.0 96.2 L295.6 96.6 L294.8 96.9 L294.4 97.4 L293.8 97.5 L293.6 98.1 L293.5 98.8 L293.7 99.3 L293.9 100.1 L294.1 100.6" fill="none" stroke="#1422d6" stroke-width="0.90" stroke-opacity="1.00" stroke-dasharray="0.9 0.4"/>
<path d="M294.5 99.2 L293.6 99.3 L292.8 99.5 L293.3 99.9 L294.2 99.8 L294.8 99.2 L295.4 98.5 L295.8 97.9 L295.6 97.0 L295.1 96.4 L294.9 97.0 L295.4 97.6 L295.9 98.1 L296.7 98.1 L297.3 97.7 L297.4 97.2 L296.6 97.2 L295.9 97.5 L295.5 98.2 L295.5 99.0 L295.9 99.5 L296.5 100.0 L297.2 100.0 L297.8 100.3" fill="none" stroke="#1422d6" stroke-width="0.90" stroke-opacity="1.00" stroke-dasharray="0.9 0.4"/>
<path d="M303.6 106.5 L304.2 106.8 L304.7 107.5 L305.0 108.0 L304.1 108.1 L303.8 107.5 L303.8 106.9 L304.0 106.4 L304.2 105.8 L304.5 105.2 L305.0 104.8 L305.8 104.7 L306.6 105.1 L307.0 105.7 L307.3 106.2 L307.3 107.0 L306.7 107.3 L306.0 107.5 L305.2 107.5 L304.5 107.7 L303.8 107.7" fill="none" stroke="#1422d6" stroke-width="0.70" stroke-opacity="0.83" stroke-dasharray="0.9 0.4"/>
<path d="M306.3 103.7 L306.0 102.9 L306.1 102.4 L306.6 101.8 L307.3 101.4 L307.3 102.0 L306.9 102.6 L306.4 103.3 L305.7 103.8 L305.0 104.1 L304.2 104.1 L303.5 103.9 L303.0 103.6 L302.7 103.0 L302.7 102.4 L303.1 101.8 L303.7 101.5 L304.5 101.8" fill="none" stroke="#1422d6" stroke-width="0.70" stroke-opacity="0.83" stroke-dasharray="0.9 0.4"/>
<path d="M301.1 102.1 L301.7 102.2 L302.5 102.5 L303.0 102.9 L303.5 103.5 L303.6 104.3 L303.5 105.2 L303.1 105.7 L302.2 105.8 L301.6 105.4 L300.7 105.4 L300.0 105.6 L299.5 106.0 L299.3 106.7 L299.6 107.3 L300.0 107.9 L300.6 107.7 L300.9 107.0 L300.8 106.1 L300.4 105.5 L299.7 104.9 L299.1 104.9 L298.5 105.0 L298.0 105.5 L298.0 106.4 L298.2 107.2 L298.9 107.3 L299.7 107.4 L300.4 107.0 L300.8 106.5 L300.8 105.7 L301.1 105.0" fill="none" stroke="#1422d6" stroke-width="0.70" stroke-opacity="0.83" stroke-dasharray="0.9 0.4"/>
<path d="M307.1 103.2 L307.0 103.7 L306.6 104.3 L306.5 104.8 L306.5 105.7 L307.1 106.2 L307.7 106.2 L308.5 106.0 L308.8 105.5 L309.6 105.3 L310.4 105.4 L310.9 104.8 L310.8 104.1 L310.5 103.3 L309.9 103.2 L309.3 103.3 L308.8 103.9 L308.6 104.5 L308.5 105.1 L308.5 105.8 L309.2 106.4 L309.3 107.2 L309.1 107.9 L308.7 108.3 L308.1 108.8 L307.5 109.1 L306.8 109.3 L306.0 109.2" fill="none" stroke="#1422d6" stroke-width="0.70" stroke-opacity="0.83" stroke-dasharray="0.9 0.4"/>
<path d="M302.3 102.9 L301.8 102.5 L301.1 102.3 L300.5 102.2 L299.8 102.3 L299.2 102.9 L299.0 103.6 L298.7 104.2 L298.0 104.6 L297.3 104.7 L296.6 104.6 L296.2 104.1 L295.6 103.4 L295.6 102.7 L296.3 102.2 L296.9 102.2 L297.6 102.7" fill="none" stroke="#1422d6" stroke-width="0.70" stroke-opacity="0.83" stroke-dasharray="0.9 0.4"/>
<path d="M334.8 79.1 L334.4 79.5 L333.8 79.9 L333.1 80.1 L332.4 80.3 L331.7 80.4 L331.0 80.4 L330.4 80.2 L329.7 80.6 L329.7 81.2 L330.1 81.8 L331.0 82.2 L331.7 82.5 L332.5 82.4 L333.2 82.3" fill="none" stroke="#1422d6" stroke-width="0.70" stroke-opacity="0.76" stroke-dasharray="0.9 0.4"/>
<path d="M335.8 82.0 L335.6 81.3 L335.3 80.5 L334.7 80.2 L334.1 80.1 L333.4 80.5 L333.1 81.0 L333.1 81.6 L333.3 82.4 L333.8 82.9 L334.6 83.1 L335.3 82.9 L335.9 82.4 L336.4 81.9 L336.5 81.3 L335.9 81.2" fill="none" stroke="#1422d6" stroke-width="0.70" stroke-opacity="0.76" stroke-dasharray="0.9 0.4"/>
<path d="M332.7 85.9 L332.3 86.3 L331.9 86.7 L331.6 87.3 L331.6 88.0 L332.0 88.6 L332.6 89.0 L333.3 89.3 L334.1 89.6 L334.6 90.0 L334.9 90.5 L335.1 91.2 L335.1 92.0 L334.3 92.2 L333.5 92.7 L333.0 93.2 L332.4 93.1 L331.8 92.7 L331.3 92.0 L331.0 91.3 L330.7 90.8 L330.4 90.1 L330.1 89.4 L329.5 88.7" fill="none" stroke="#1422d6" stroke-width="0.70" stroke-opacity="0.76" stroke-dasharray="0.9 0.4"/>
<path d="M307.5 77.3 L308.0 77.8 L308.5 77.9 L309.2 77.6 L309.7 77.3 L310.1 76.8 L310.2 76.2 L310.2 75.5 L309.9 74.9 L309.4 74.2 L308.5 74.0 L307.8 74.1 L307.3 74.6 L306.9 75.2 L307.0 76.0 L307.2 76.9 L307.5 77.5 L308.0 78.1 L308.7 78.4 L309.5 78.5 L310.1 78.4 L310.9 78.1 L311.2 77.3 L311.1 76.5 L311.2 75.7 L311.9 75.2 L312.5 74.9 L313.1 74.8 L313.8 74.7 L314.6 75.1 L315.2 75.6 L315.5 76.2 L315.8 77.0 L315.6 77.9 L315.2 78.6" fill="none" stroke="#1422d6" stroke-width="0.70" stroke-opacity="0.80" stroke-dasharray="0.9 0.4"/>
<path d="M319.3 78.7 L320.0 79.0 L320.7 78.7 L321.3 79.0 L321.7 78.2 L321.8 77.4 L322.0 76.8 L322.5 76.5 L322.2 75.9 L321.4 75.6 L320.8 75.5 L320.0 75.6 L319.2 75.9 L318.6 76.5 L318.2 77.2 L318.3 78.1" fill="none" stroke="#1422d6" stroke-width="0.70" stroke-opacity="0.80" stroke-dasharray="0.9 0.4"/>
<path d="M314.2 73.1 L313.6 73.4 L313.1 74.0 L312.8 74.5 L312.6 75.3 L312.4 75.9 L312.0 76.7 L311.6 77.2 L311.6 78.0 L311.4 78.5 L311.0 79.0 L310.5 79.5 L309.8 80.0 L309.2 80.2 L309.1 79.5 L309.4 78.8 L310.0 78.3 L310.7 77.9 L311.3 77.7 L312.1 77.7 L312.7 78.0 L313.2 78.4 L313.6 78.7 L314.2 79.2 L314.8 79.4 L315.3 79.5" fill="none" stroke="#1422d6" stroke-width="0.70" stroke-opacity="0.80" stroke-dasharray="0.9 0.4"/>
<path d="M309.4 69.1 L308.6 69.0 L308.0 69.2 L307.6 69.8 L307.3 70.4 L307.3 71.2 L306.8 71.5 L306.2 71.8 L305.5 71.8 L304.8 71.7 L304.3 71.2 L304.6 70.5 L304.9 69.8 L305.5 69.2 L306.1 68.9 L306.8 68.9 L307.5 69.4 L307.8 69.9 L308.0 70.4 L307.8 71.2 L307.3 70.9 L307.0 70.1 L306.9 69.3 L306.9 68.6 L307.1 68.0" fill="none" stroke="#1422d6" stroke-width="0.70" stroke-opacity="0.73" stroke-dasharray="0.9 0.4"/>
<path d="M306.7 65.4 L306.3 65.1 L305.8 64.7 L305.3 64.5 L304.7 64.5 L304.1 64.8 L303.9 65.3 L303.5 65.7 L302.7 65.8 L302.0 65.4 L301.7 64.6 L302.4 64.4 L303.0 64.6 L303.4 65.3 L303.2 66.1 L302.6 66.7 L301.9 66.9 L301.2 66.8 L300.6 66.6 L300.3 66.2 L300.8 65.7" fill="none" stroke="#1422d6" stroke-width="0.70" stroke-opacity="0.73" stroke-dasharray="0.9 0.4"/>
<path d="M296.8 83.6 L296.0 83.8 L295.7 83.0 L296.3 82.3 L297.1 82.0 L297.6 81.7 L298.3 81.7 L299.0 81.9 L299.7 82.4 L300.3 82.8 L300.6 83.4 L301.0 84.1 L300.9 84.9 L300.1 84.5 L299.6 84.2 L299.1 83.8 L298.5 83.3 L298.2 82.6 L298.3 81.9 L298.9 81.3 L299.3 80.7 L299.5 80.2 L299.3 79.3 L298.8 78.8 L298.2 78.3 L297.5 78.2 L296.9 78.1 L296.3 78.4 L295.8 79.0 L295.0 79.2" fill="none" stroke="#1422d6" stroke-width="0.90" stroke-opacity="1.00" stroke-dasharray="0.9 0.4"/>
<path d="M295.3 78.3 L295.9 78.6 L296.7 78.5 L297.3 77.9 L298.0 77.6 L298.7 77.4 L299.3 77.4 L299.9 77.8 L300.2 78.5 L300.0 79.1 L299.6 79.6 L299.0 80.0 L298.2 79.8 L297.7 79.4 L297.5 78.8 L297.6 78.2 L298.0 77.5 L298.4 77.1 L299.1 76.7" fill="none" stroke="#1422d6" stroke-width="0.90" stroke-opacity="1.00" stroke-dasharray="0.9 0.4"/>
<path d="M301.0 80.7 L300.5 81.0 L299.8 81.1 L299.2 81.2 L298.7 80.8 L298.3 80.3 L298.2 79.7 L298.7 79.1 L299.4 78.6 L300.0 78.7 L300.7 79.2 L300.8 79.8 L300.4 80.2 L299.7 80.7 L299.1 80.6" fill="none" stroke="#1422d6" stroke-width="0.90" stroke-opacity="1.00" stroke-dasharray="0.9 0.4"/>
<path d="M297.8 83.6 L297.1 83.6 L296.5 83.8 L295.8 83.6 L295.6 82.8 L296.0 82.3 L296.3 81.7 L296.3 81.1 L295.9 80.4 L295.4 80.1 L294.6 79.7 L294.0 79.1 L294.8 78.7 L295.6 78.9 L296.1 79.4 L296.5 80.1 L296.3 80.8 L296.4 81.4 L296.5 82.2 L297.1 82.8 L297.9 82.9 L298.6 82.7 L299.2 82.4 L299.7 81.7" fill="none" stroke="#1422d6" stroke-width="0.90" stroke-opacity="1.00" stroke-dasharray="0.9 0.4"/>
<path d="M303.4 75.8 L304.1 75.9 L304.2 76.5 L303.6 77.0 L302.9 77.3 L302.4 77.3 L301.8 76.9 L301.4 76.1 L301.1 75.3 L301.2 74.6 L301.4 74.1 L301.9 73.7 L302.6 73.6 L302.9 74.3 L302.5 74.7 L301.9 75.0 L301.3 75.1 L300.5 75.0 L299.8 75.1 L299.2 75.3 L298.6 76.0 L298.4 76.6 L298.7 77.2 L299.3 77.7 L299.8 78.0 L300.4 78.6 L300.6 79.2 L300.6 79.9 L300.2 80.5 L299.5 81.1 L298.7 81.5 L298.0 81.4 L297.5 81.0" fill="none" stroke="#1422d6" stroke-width="0.90" stroke-opacity="1.00" stroke-dasharray="0.9 0.4"/>
<path d="M303.5 76.0 L302.9 76.6 L302.3 76.8 L301.6 76.9 L301.2 77.3 L300.9 77.8 L301.0 78.7 L301.0 79.3 L301.3 79.8 L302.1 80.2 L302.6 80.5 L303.4 80.9 L304.2 81.2 L304.4 80.5 L304.2 80.0 L303.6 79.4 L302.9 79.0 L302.1 79.0 L301.5 79.4 L300.9 79.8 L300.3 80.2 L299.4 80.2 L298.7 80.2 L297.9 79.8" fill="none" stroke="#1422d6" stroke-width="0.90" stroke-opacity="1.00" stroke-dasharray="0.9 0.4"/>
<path d="M306.6 84.6 L306.7 84.1 L306.6 83.5 L306.3 82.9 L306.3 82.2 L306.4 81.6 L306.9 81.2 L307.7 80.9 L308.3 80.7 L309.2 80.7 L309.7 80.5 L310.4 80.4 L310.9 80.5 L311.7 80.9 L312.3 80.9 L312.8 81.2 L312.9 82.0 L312.3 82.6 L311.6 83.0 L311.0 83.2 L310.2 83.0 L309.5 82.5 L309.4 82.0 L309.4 81.3 L310.1 81.6 L310.6 82.2 L310.5 83.0 L310.0 83.4 L309.3 83.6 L308.7 83.3 L308.1 82.8 L307.9 82.0" fill="none" stroke="#1422d6" stroke-width="0.90" stroke-opacity="1.00" stroke-dasharray="0.9 0.4"/>
<path d="M310.0 85.3 L310.0 86.0 L310.3 86.6 L310.9 87.2 L311.4 87.7 L312.0 87.7 L312.5 88.1 L312.9 88.7 L312.9 89.3 L312.1 89.0 L311.7 88.6 L311.1 88.3 L310.3 88.4 L309.8 88.9 L309.4 89.6 L309.8 90.3 L310.3 90.7 L311.1 91.0 L311.5 90.3 L311.7 89.7" fill="none" stroke="#1422d6" stroke-width="0.90" stroke-opacity="1.00" stroke-dasharray="0.9 0.4"/>
<path d="M306.0 84.0 L306.5 83.3 L307.1 82.8 L307.8 82.6 L308.5 82.7 L308.9 83.3 L309.2 84.1 L309.3 84.7 L309.0 85.3 L308.6 85.9 L307.8 86.1 L307.2 85.9 L306.7 85.2 L306.7 84.7 L307.1 84.2 L307.7 84.1 L308.4 84.2 L309.1 84.7 L309.3 85.5 L309.3 86.1 L309.2 86.8 L308.9 87.4 L308.2 88.0 L307.6 88.4 L307.4 87.8" fill="none" stroke="#1422d6" stroke-width="0.90" stroke-opacity="1.00" stroke-dasharray="0.9 0.4"/>
<path d="M312.3 86.1 L312.2 85.4 L311.8 84.8 L311.4 84.3 L311.4 83.8 L311.5 83.0 L311.7 82.3 L312.1 81.7 L312.7 81.2 L313.4 81.8 L313.9 82.3 L314.4 83.0 L314.7 83.7 L315.0 84.2 L315.1 85.0 L314.8 85.7 L314.1 86.3 L313.6 86.5 L312.8 86.7 L312.0 86.7 L311.3 86.5 L310.4 86.2 L309.9 85.6 L309.4 85.2 L309.1 84.5 L308.9 83.7 L308.8 83.1 L308.8 82.4 L309.1 81.8" fill="none" stroke="#1422d6" stroke-width="0.90" stroke-opacity="1.00" stroke-dasharray="0.9 0.4"/>
<path d="M307.8 87.5 L308.3 87.0 L308.3 86.2 L307.8 85.5 L307.1 85.4 L306.4 85.7 L306.0 86.3 L305.7 87.1 L306.3 87.4 L306.9 87.4 L307.7 87.2 L308.1 86.8 L308.5 86.1 L308.7 85.5 L308.9 84.7 L308.7 83.9 L308.4 83.1 L307.9 82.5 L307.4 82.2 L307.0 82.8 L307.2 83.6 L307.2 84.5 L306.8 85.1 L306.2 85.7" fill="none" stroke="#1422d6" stroke-width="0.90" stroke-opacity="1.00" stroke-dasharray="0.9 0.4"/>
<path d="M324.5 62.8 L325.5 65.3 L326.5 68.3" fill="none" stroke="#1422d6" stroke-width="0.70" stroke-opacity="0.83" stroke-dasharray="0.9 0.4"/>
<path d="M312.3 103.3 L313.5 106.3 L315.0 110.8" fill="none" stroke="#1422d6" stroke-width="0.70" stroke-opacity="0.83" stroke-dasharray="0.9 0.4"/>
<rect x="308.2" y="86.1" width="0.8" height="0.8" fill="#1422d6" fill-opacity="0.75"/>
<rect x="328.4" y="69.9" width="0.8" height="0.8" fill="#1422d6" fill-opacity="0.75"/>
<rect x="312.5" y="73.5" width="0.8" height="0.8" fill="#1422d6" fill-opacity="0.75"/>
<rect x="301.4" y="66.7" width="0.8" height="0.8" fill="#1422d6" fill-opacity="0.75"/>
<rect x="297.1" y="98.1" width="0.8" height="0.8" fill="#1422d6" fill-opacity="0.75"/>
<rect x="304.6" y="107.0" width="0.8" height="0.8" fill="#1422d6" fill-opacity="0.75"/>
<rect x="298.0" y="69.3" width="0.8" height="0.8" fill="#1422d6" fill-opacity="0.75"/>
<rect x="310.4" y="90.0" width="0.8" height="0.8" fill="#1422d6" fill-opacity="0.75"/>
<rect x="293.4" y="87.9" width="0.8" height="0.8" fill="#1422d6" fill-opacity="0.75"/>
<rect x="313.8" y="107.3" width="0.8" height="0.8" fill="#1422d6" fill-opacity="0.75"/>
<rect x="316.4" y="96.5" width="0.8" height="0.8" fill="#1422d6" fill-opacity="0.75"/>
<rect x="316.1" y="65.1" width="0.8" height="0.8" fill="#1422d6" fill-opacity="0.75"/>
<rect x="302.9" y="85.1" width="0.8" height="0.8" fill="#1422d6" fill-opacity="0.75"/>
<rect x="297.4" y="83.6" width="0.8" height="0.8" fill="#1422d6" fill-opacity="0.75"/>
<rect x="312.8" y="92.1" width="0.8" height="0.8" fill="#1422d6" fill-opacity="0.75"/>
<rect x="304.6" y="83.6" width="0.8" height="0.8" fill="#1422d6" fill-opacity="0.75"/>
<rect x="312.5" y="92.1" width="0.8" height="0.8" fill="#1422d6" fill-opacity="0.75"/>
<rect x="292.6" y="71.4" width="0.8" height="0.8" fill="#1422d6" fill-opacity="0.75"/>
<rect x="303.8" y="84.5" width="0.8" height="0.8" fill="#1422d6" fill-opacity="0.75"/>
<rect x="300.7" y="71.6" width="0.8" height="0.8" fill="#1422d6" fill-opacity="0.75"/>
<rect x="317.9" y="68.1" width="0.8" height="0.8" fill="#1422d6" fill-opacity="0.75"/>
<rect x="316.3" y="70.8" width="0.8" height="0.8" fill="#1422d6" fill-opacity="0.75"/>
<rect x="312.2" y="79.4" width="0.8" height="0.8" fill="#1422d6" fill-opacity="0.75"/>
<rect x="332.7" y="88.4" width="0.8" height="0.8" fill="#1422d6" fill-opacity="0.75"/>
<rect x="322.1" y="85.8" width="0.8" height="0.8" fill="#1422d6" fill-opacity="0.75"/>
<rect x="330.4" y="78.7" width="0.8" height="0.8" fill="#1422d6" fill-opacity="0.75"/>
<rect x="314.5" y="65.7" width="0.8" height="0.8" fill="#1422d6" fill-opacity="0.75"/>
<rect x="312.0" y="76.5" width="0.8" height="0.8" fill="#1422d6" fill-opacity="0.75"/>
<rect x="317.4" y="71.7" width="0.8" height="0.8" fill="#1422d6" fill-opacity="0.75"/>
<rect x="334.1" y="77.0" width="0.8" height="0.8" fill="#1422d6" fill-opacity="0.75"/>
<rect x="291.9" y="77.8" width="0.8" height="0.8" fill="#1422d6" fill-opacity="0.75"/>
<rect x="311.5" y="70.0" width="0.8" height="0.8" fill="#1422d6" fill-opacity="0.75"/>
<rect x="320.3" y="78.6" width="0.8" height="0.8" fill="#1422d6" fill-opacity="0.75"/>
<rect x="316.4" y="73.0" width="0.8" height="0.8" fill="#1422d6" fill-opacity="0.75"/>
<rect x="287.2" y="87.8" width="0.8" height="0.8" fill="#1422d6" fill-opacity="0.75"/>
<rect x="333.0" y="84.1" width="0.8" height="0.8" fill="#1422d6" fill-opacity="0.75"/>
<rect x="305.8" y="83.3" width="0.8" height="0.8" fill="#1422d6" fill-opacity="0.75"/>
<rect x="327.5" y="96.4" width="0.8" height="0.8" fill="#1422d6" fill-opacity="0.75"/>
<rect x="300.7" y="83.4" width="0.8" height="0.8" fill="#1422d6" fill-opacity="0.75"/>
<rect x="318.2" y="91.7" width="0.8" height="0.8" fill="#1422d6" fill-opacity="0.75"/>
<rect x="331.5" y="79.3" width="0.8" height="0.8" fill="#1422d6" fill-opacity="0.75"/>
<rect x="302.3" y="66.0" width="0.8" height="0.8" fill="#1422d6" fill-opacity="0.75"/>
<rect x="318.4" y="64.6" width="0.8" height="0.8" fill="#1422d6" fill-opacity="0.75"/>
<rect x="299.4" y="105.1" width="0.8" height="0.8" fill="#1422d6" fill-opacity="0.75"/>
<rect x="294.6" y="75.9" width="0.8" height="0.8" fill="#1422d6" fill-opacity="0.75"/>
<rect x="300.4" y="85.4" width="0.8" height="0.8" fill="#1422d6" fill-opacity="0.75"/>
<rect x="301.4" y="107.5" width="0.8" height="0.8" fill="#1422d6" fill-opacity="0.75"/>
<rect x="294.9" y="87.9" width="0.8" height="0.8" fill="#1422d6" fill-opacity="0.75"/>
<rect x="330.7" y="90.3" width="0.8" height="0.8" fill="#1422d6" fill-opacity="0.75"/>
<rect x="315.8" y="92.8" width="0.8" height="0.8" fill="#1422d6" fill-opacity="0.75"/>
<rect x="293.5" y="79.3" width="0.8" height="0.8" fill="#1422d6" fill-opacity="0.75"/>
<rect x="311.4" y="94.6" width="0.8" height="0.8" fill="#1422d6" fill-opacity="0.75"/>
<rect x="316.9" y="65.3" width="0.8" height="0.8" fill="#1422d6" fill-opacity="0.75"/>
<rect x="307.5" y="94.9" width="0.8" height="0.8" fill="#1422d6" fill-opacity="0.75"/>
<rect x="294.5" y="85.1" width="0.8" height="0.8" fill="#1422d6" fill-opacity="0.75"/>
<rect x="314.2" y="94.2" width="0.8" height="0.8" fill="#1422d6" fill-opacity="0.75"/>
<rect x="323.1" y="76.0" width="0.8" height="0.8" fill="#1422d6" fill-opacity="0.75"/>
<rect x="292.4" y="76.1" width="0.8" height="0.8" fill="#1422d6" fill-opacity="0.75"/>
<rect x="290.9" y="78.9" width="0.8" height="0.8" fill="#1422d6" fill-opacity="0.75"/>
<rect x="316.8" y="69.3" width="0.8" height="0.8" fill="#1422d6" fill-opacity="0.75"/>
<rect x="317.2" y="76.3" width="1.4" height="1.4" fill="#30e030"/>
<rect x="307.9" y="79.4" width="1.4" height="1.4" fill="#30e030"/>
<rect x="316.7" y="76.8" width="1.4" height="1.4" fill="#30e030"/>
<rect x="305.3" y="80.3" width="1.4" height="1.4" fill="#30e030"/>
<rect x="313.8" y="78.5" width="1.4" height="1.4" fill="#30e030"/>
<rect x="307.0" y="76.1" width="1.4" height="1.4" fill="#30e030"/>
<rect x="305.1" y="79.5" width="1.4" height="1.4" fill="#30e030"/>
<rect x="316.4" y="79.3" width="1.4" height="1.4" fill="#30e030"/>
<rect x="314.7" y="80.3" width="1.4" height="1.4" fill="#30e030"/>
<rect x="311.7" y="75.7" width="1.4" height="1.4" fill="#30e030"/>
<rect x="315.9" y="76.8" width="1.4" height="1.4" fill="#30e030"/>
<rect x="310.5" y="77.6" width="1.4" height="1.4" fill="#30e030"/>
<rect x="306.7" y="79.2" width="1.4" height="1.4" fill="#30e030"/>
<rect x="315.2" y="75.8" width="1.4" height="1.4" fill="#30e030"/>
<rect x="319.0" y="78.0" width="1.4" height="1.4" fill="#30e030"/>
<rect x="314.2" y="77.4" width="1.4" height="1.4" fill="#30e030"/>
<rect x="311.2" y="81.6" width="1.4" height="1.4" fill="#30e030"/>
<rect x="310.2" y="81.8" width="1.4" height="1.4" fill="#30e030"/>
<rect x="306.3" y="78.6" width="1.4" height="1.4" fill="#30e030"/>
<rect x="313.0" y="81.7" width="1.4" height="1.4" fill="#30e030"/>
<rect x="314.8" y="80.7" width="1.4" height="1.4" fill="#30e030"/>
<rect x="318.2" y="77.9" width="1.4" height="1.4" fill="#30e030"/>
<rect x="316.5" y="78.5" width="1.4" height="1.4" fill="#30e030"/>
<rect x="305.1" y="80.4" width="1.4" height="1.4" fill="#30e030"/>
<rect x="312.4" y="77.4" width="1.4" height="1.4" fill="#30e030"/>
<rect x="305.4" y="79.9" width="1.4" height="1.4" fill="#30e030"/>
<rect x="307.9" y="78.5" width="1.4" height="1.4" fill="#30e030"/>
<rect x="316.5" y="79.0" width="1.4" height="1.4" fill="#30e030"/>
<rect x="311.4" y="78.9" width="1.4" height="1.4" fill="#30e030"/>
<rect x="306.3" y="80.0" width="1.4" height="1.4" fill="#30e030"/>
<rect x="314.1" y="78.0" width="1.4" height="1.4" fill="#30e030"/>
<rect x="311.4" y="76.6" width="1.4" height="1.4" fill="#30e030"/>
<rect x="305.0" y="77.1" width="1.4" height="1.4" fill="#30e030"/>
<rect x="306.0" y="77.4" width="1.4" height="1.4" fill="#30e030"/>
<rect x="307.9" y="76.1" width="1.4" height="1.4" fill="#30e030"/>
<rect x="317.7" y="76.7" width="1.4" height="1.4" fill="#30e030"/>
<rect x="313.2" y="78.5" width="1.4" height="1.4" fill="#30e030"/>
<rect x="314.3" y="78.0" width="1.4" height="1.4" fill="#30e030"/>
<rect x="315.1" y="80.5" width="1.4" height="1.4" fill="#30e030"/>
<rect x="313.3" y="79.8" width="1.4" height="1.4" fill="#30e030"/>
<rect x="319.1" y="77.6" width="1.4" height="1.4" fill="#30e030"/>
<rect x="319.2" y="77.2" width="1.4" height="1.4" fill="#30e030"/>
<rect x="306.3" y="76.0" width="1.4" height="1.4" fill="#30e030"/>
<rect x="308.8" y="78.6" width="1.4" height="1.4" fill="#30e030"/>
<rect x="307.3" y="76.3" width="1.4" height="1.4" fill="#30e030"/>
<rect x="311.4" y="77.2" width="1.4" height="1.4" fill="#b0f000"/>
<rect x="316.3" y="75.5" width="1.4" height="1.4" fill="#b0f000"/>
<rect x="313.9" y="73.1" width="1.4" height="1.4" fill="#b0f000"/>
<rect x="315.6" y="75.8" width="1.4" height="1.4" fill="#b0f000"/>
<rect x="308.7" y="76.4" width="1.4" height="1.4" fill="#b0f000"/>
<rect x="313.2" y="71.6" width="1.4" height="1.4" fill="#b0f000"/>
<rect x="317.9" y="75.5" width="1.4" height="1.4" fill="#b0f000"/>
<rect x="316.3" y="72.6" width="1.4" height="1.4" fill="#b0f000"/>
<rect x="310.8" y="73.2" width="1.4" height="1.4" fill="#b0f000"/>
<rect x="313.4" y="72.9" width="1.4" height="1.4" fill="#b0f000"/>
<rect x="315.8" y="72.6" width="1.4" height="1.4" fill="#b0f000"/>
<rect x="306.4" y="72.6" width="1.4" height="1.4" fill="#b0f000"/>
<rect x="309.8" y="74.0" width="1.4" height="1.4" fill="#b0f000"/>
<rect x="310.9" y="77.9" width="1.4" height="1.4" fill="#b0f000"/>
<rect x="311.3" y="74.2" width="1.4" height="1.4" fill="#b0f000"/>
<rect x="316.5" y="73.1" width="1.4" height="1.4" fill="#b0f000"/>
<rect x="318.0" y="75.6" width="1.4" height="1.4" fill="#b0f000"/>
<rect x="311.0" y="76.1" width="1.4" height="1.4" fill="#b0f000"/>
<rect x="311.7" y="79.1" width="1.4" height="1.4" fill="#b0f000"/>
<rect x="306.6" y="72.7" width="1.4" height="1.4" fill="#b0f000"/>
<rect x="315.3" y="73.1" width="1.4" height="1.4" fill="#b0f000"/>
<rect x="312.6" y="78.1" width="1.4" height="1.4" fill="#b0f000"/>
<rect x="315.4" y="72.6" width="1.4" height="1.4" fill="#b0f000"/>
<rect x="311.8" y="73.8" width="1.4" height="1.4" fill="#b0f000"/>
<rect x="309.9" y="73.7" width="1.4" height="1.4" fill="#b0f000"/>
<rect x="305.7" y="72.9" width="1.4" height="1.4" fill="#b0f000"/>
<rect x="309.4" y="76.3" width="1.4" height="1.4" fill="#b0f000"/>
<rect x="308.8" y="73.4" width="1.4" height="1.4" fill="#b0f000"/>
<rect x="305.0" y="74.9" width="1.4" height="1.4" fill="#b0f000"/>
<rect x="316.7" y="74.6" width="1.4" height="1.4" fill="#b0f000"/>
<rect x="307.9" y="72.1" width="1.4" height="1.4" fill="#b0f000"/>
<rect x="313.5" y="72.0" width="1.4" height="1.4" fill="#b0f000"/>
<rect x="315.5" y="77.1" width="1.4" height="1.4" fill="#b0f000"/>
<rect x="306.0" y="77.5" width="1.4" height="1.4" fill="#b0f000"/>
<rect x="305.8" y="73.0" width="1.4" height="1.4" fill="#b0f000"/>
<rect x="316.5" y="74.6" width="1.4" height="1.4" fill="#b0f000"/>
<rect x="307.0" y="78.0" width="1.4" height="1.4" fill="#b0f000"/>
<rect x="316.6" y="73.1" width="1.4" height="1.4" fill="#b0f000"/>
<rect x="313.3" y="77.8" width="1.4" height="1.4" fill="#b0f000"/>
<rect x="316.6" y="72.7" width="1.4" height="1.4" fill="#b0f000"/>
<rect x="311.5" y="70.9" width="1.4" height="1.4" fill="#f0f000"/>
<rect x="312.5" y="73.5" width="1.4" height="1.4" fill="#f0f000"/>
<rect x="309.2" y="75.0" width="1.4" height="1.4" fill="#f0f000"/>
<rect x="309.9" y="74.0" width="1.4" height="1.4" fill="#f0f000"/>
<rect x="310.3" y="75.9" width="1.4" height="1.4" fill="#f0f000"/>
<rect x="309.6" y="74.6" width="1.4" height="1.4" fill="#f0f000"/>
<rect x="315.6" y="74.2" width="1.4" height="1.4" fill="#f0f000"/>
<rect x="308.0" y="75.0" width="1.4" height="1.4" fill="#f0f000"/>
<rect x="308.4" y="72.3" width="1.4" height="1.4" fill="#f0f000"/>
<rect x="315.9" y="74.5" width="1.4" height="1.4" fill="#f0f000"/>
<rect x="311.2" y="75.1" width="1.4" height="1.4" fill="#f0f000"/>
<rect x="305.8" y="72.8" width="1.4" height="1.4" fill="#f0f000"/>
<rect x="311.5" y="74.2" width="1.4" height="1.4" fill="#f0f000"/>
<rect x="311.1" y="73.4" width="1.4" height="1.4" fill="#f0f000"/>
<rect x="305.9" y="72.6" width="1.4" height="1.4" fill="#f0f000"/>
<rect x="311.5" y="73.4" width="1.4" height="1.4" fill="#f0f000"/>
<rect x="312.0" y="74.6" width="1.4" height="1.4" fill="#f0f000"/>
<rect x="309.6" y="71.7" width="1.4" height="1.4" fill="#f0f000"/>
<rect x="308.0" y="74.8" width="1.4" height="1.4" fill="#f0f000"/>
<rect x="314.9" y="75.8" width="1.4" height="1.4" fill="#f0f000"/>
<rect x="308.9" y="74.6" width="1.4" height="1.4" fill="#f0f000"/>
<rect x="310.7" y="75.0" width="1.4" height="1.4" fill="#f0f000"/>
<rect x="312.3" y="73.5" width="1.4" height="1.4" fill="#f0f000"/>
<rect x="312.0" y="74.4" width="1.4" height="1.4" fill="#f0f000"/>
<rect x="309.1" y="76.0" width="1.4" height="1.4" fill="#f0f000"/>
<rect x="312.4" y="75.5" width="1.4" height="1.4" fill="#f0f000"/>
<rect x="310.7" y="74.4" width="1.4" height="1.4" fill="#f0f000"/>
<rect x="313.5" y="75.6" width="1.4" height="1.4" fill="#f0f000"/>
<rect x="306.4" y="72.2" width="1.4" height="1.4" fill="#f0f000"/>
<rect x="314.8" y="71.7" width="1.4" height="1.4" fill="#f0f000"/>
<rect x="311.8" y="71.1" width="1.2" height="1.2" fill="#a0f020"/>
<rect x="313.3" y="72.3" width="1.2" height="1.2" fill="#a0f020"/>
<rect x="314.3" y="68.7" width="1.2" height="1.2" fill="#a0f020"/>
<rect x="312.0" y="68.4" width="1.2" height="1.2" fill="#a0f020"/>
<rect x="311.8" y="67.9" width="1.2" height="1.2" fill="#a0f020"/>
<rect x="310.6" y="68.8" width="1.2" height="1.2" fill="#a0f020"/>
<rect x="313.8" y="70.9" width="1.2" height="1.2" fill="#a0f020"/>
<rect x="312.9" y="70.4" width="1.2" height="1.2" fill="#a0f020"/>
<rect x="310.7" y="69.0" width="1.2" height="1.2" fill="#a0f020"/>
<rect x="312.9" y="71.0" width="1.2" height="1.2" fill="#a0f020"/>
<rect x="311.8" y="67.9" width="1.2" height="1.2" fill="#a0f020"/>
<rect x="315.8" y="70.9" width="1.2" height="1.2" fill="#a0f020"/>
<rect x="305.5" y="72.5" width="1.3" height="1.3" fill="#ff5000"/>
<rect x="306.0" y="73.8" width="1.3" height="1.3" fill="#ff5000"/>
<rect x="305.1" y="73.1" width="1.3" height="1.3" fill="#ff5000"/>
<rect x="307.0" y="73.9" width="1.3" height="1.3" fill="#ff5000"/>
<rect x="307.7" y="74.0" width="1.3" height="1.3" fill="#ff5000"/>
<rect x="304.8" y="73.2" width="1.3" height="1.3" fill="#ff5000"/>
<rect x="307.9" y="72.6" width="1.3" height="1.3" fill="#ff5000"/>
<rect x="307.2" y="71.5" width="1.3" height="1.3" fill="#ff5000"/>
<rect x="307.2" y="74.2" width="1.3" height="1.3" fill="#ff5000"/>
<rect x="304.9" y="73.1" width="1.3" height="1.3" fill="#ff5000"/>
<rect x="310.1" y="67.3" width="1.2" height="1.2" fill="#ff3000"/>
<rect x="309.7" y="67.9" width="1.2" height="1.2" fill="#ff3000"/>
<rect x="311.2" y="67.7" width="1.2" height="1.2" fill="#ff3000"/>
<rect x="321.5" y="79.2" width="1.4" height="1.4" fill="#ff2000"/>
<rect x="322.8" y="72.6" width="1.4" height="1.4" fill="#ff2000"/>
<rect x="323.8" y="74.0" width="1.4" height="1.4" fill="#ff2000"/>
<rect x="320.0" y="73.2" width="1.4" height="1.4" fill="#ff2000"/>
<rect x="324.4" y="73.5" width="1.4" height="1.4" fill="#ff2000"/>
<rect x="321.1" y="76.8" width="1.4" height="1.4" fill="#ff2000"/>
<rect x="324.8" y="74.1" width="1.4" height="1.4" fill="#ff2000"/>
<rect x="321.0" y="77.4" width="1.4" height="1.4" fill="#ff2000"/>
<rect x="321.2" y="76.6" width="1.4" height="1.4" fill="#ff2000"/>
<rect x="321.7" y="76.7" width="1.4" height="1.4" fill="#ff2000"/>
<rect x="322.8" y="75.5" width="1.4" height="1.4" fill="#ff2000"/>
<rect x="323.5" y="78.9" width="1.4" height="1.4" fill="#ff2000"/>
<rect x="322.4" y="74.8" width="1.4" height="1.4" fill="#ff2000"/>
<rect x="319.5" y="74.0" width="1.4" height="1.4" fill="#ff2000"/>
<rect x="323.1" y="74.8" width="1.4" height="1.4" fill="#ff2000"/>
<rect x="324.8" y="77.2" width="1.4" height="1.4" fill="#ff2000"/>
<rect x="324.1" y="74.5" width="1.4" height="1.4" fill="#ff2000"/>
<rect x="322.4" y="74.6" width="1.4" height="1.4" fill="#ff2000"/>
<rect x="322.2" y="79.1" width="1.4" height="1.4" fill="#c00000"/>
<rect x="323.3" y="79.7" width="1.4" height="1.4" fill="#c00000"/>
<rect x="323.2" y="77.2" width="1.4" height="1.4" fill="#c00000"/>
<rect x="325.0" y="79.1" width="1.4" height="1.4" fill="#c00000"/>
<rect x="322.5" y="77.4" width="1.4" height="1.4" fill="#c00000"/>
<rect x="324.9" y="77.2" width="1.4" height="1.4" fill="#c00000"/>
<rect x="323.7" y="79.3" width="1.4" height="1.4" fill="#c00000"/>
<rect x="324.4" y="78.4" width="1.4" height="1.4" fill="#c00000"/>
<rect x="318.7" y="73.0" width="1.3" height="1.3" fill="#ff8000"/>
<rect x="321.5" y="73.4" width="1.3" height="1.3" fill="#ff8000"/>
<rect x="321.5" y="73.0" width="1.3" height="1.3" fill="#ff8000"/>
<rect x="320.3" y="72.0" width="1.3" height="1.3" fill="#ff8000"/>
<rect x="319.2" y="74.3" width="1.3" height="1.3" fill="#ff8000"/>
<rect x="320.8" y="72.6" width="1.3" height="1.3" fill="#ff8000"/>
<rect x="319.3" y="72.4" width="1.3" height="1.3" fill="#ff8000"/>
<rect x="323.2" y="73.0" width="1.3" height="1.3" fill="#ff8000"/>
<rect x="320.6" y="76.1" width="1.2" height="1.2" fill="#e0e000"/>
<rect x="318.5" y="78.0" width="1.2" height="1.2" fill="#e0e000"/>
<rect x="321.8" y="77.8" width="1.2" height="1.2" fill="#e0e000"/>
<rect x="320.8" y="76.6" width="1.2" height="1.2" fill="#e0e000"/>
<rect x="321.4" y="76.9" width="1.2" height="1.2" fill="#e0e000"/>
<rect x="319.7" y="77.4" width="1.2" height="1.2" fill="#e0e000"/>
<rect x="314.0" y="72.1" width="1.1" height="1.1" fill="#40e0ff"/>
<rect x="314.0" y="73.0" width="1.1" height="1.1" fill="#40e0ff"/>
<rect x="315.7" y="71.8" width="1.1" height="1.1" fill="#40e0ff"/>
<rect x="315.6" y="71.0" width="1.1" height="1.1" fill="#40e0ff"/>
<rect x="313.9" y="72.5" width="1.1" height="1.1" fill="#40e0ff"/>
<rect x="315.7" y="71.7" width="1.1" height="1.1" fill="#40e0ff"/>
<rect x="317.2" y="83.2" width="1.0" height="1.0" fill="#40e0e0"/>
<rect x="317.6" y="83.0" width="1.0" height="1.0" fill="#40e0e0"/>
<rect x="318.6" y="85.5" width="1.0" height="1.0" fill="#40e0e0"/>
<rect x="319.6" y="83.8" width="1.0" height="1.0" fill="#40e0e0"/>
<rect x="320.1" y="83.1" width="1.0" height="1.0" fill="#40e0e0"/>
<rect x="319.3" y="80.5" width="1.0" height="1.0" fill="#40e0e0"/>
<rect x="318.4" y="79.8" width="1.0" height="1.0" fill="#40e0e0"/>
<rect x="319.5" y="80.7" width="1.0" height="1.0" fill="#40e0e0"/>
<rect x="319.1" y="82.5" width="1.0" height="1.0" fill="#40e0e0"/>
<rect x="318.9" y="85.1" width="1.0" height="1.0" fill="#40e0e0"/>
<rect x="320.3" y="83.8" width="1.0" height="1.0" fill="#40e0e0"/>
<rect x="317.1" y="80.1" width="1.0" height="1.0" fill="#40e0e0"/>
<rect x="314.8" y="81.6" width="1.0" height="1.0" fill="#60e8a0"/>
<rect x="316.0" y="81.0" width="1.0" height="1.0" fill="#60e8a0"/>
<rect x="313.6" y="81.5" width="1.0" height="1.0" fill="#60e8a0"/>
<rect x="312.6" y="80.0" width="1.0" height="1.0" fill="#60e8a0"/>
<rect x="315.4" y="81.5" width="1.0" height="1.0" fill="#60e8a0"/>
<rect x="317.4" y="81.6" width="1.0" height="1.0" fill="#60e8a0"/>
<rect x="312.2" y="80.3" width="1.0" height="1.0" fill="#60e8a0"/>
<rect x="315.0" y="82.2" width="1.0" height="1.0" fill="#60e8a0"/>
<rect x="301.1" y="93.2" width="1.0" height="1.0" fill="#40e0a0"/>
<rect x="301.9" y="93.6" width="1.0" height="1.0" fill="#40e0a0"/>
<rect x="302.4" y="92.8" width="1.0" height="1.0" fill="#40e0a0"/>
<rect x="303.2" y="93.1" width="1.0" height="1.0" fill="#40e0a0"/>
<rect x="303.1" y="94.1" width="1.0" height="1.0" fill="#40e0a0"/>
<path d="M358.6 86.8 L358.1 87.1 L357.8 88.0 L357.3 88.6 L356.7 89.0 L356.2 88.5 L355.8 87.9 L355.8 87.0 L356.0 86.3 L356.4 85.6 L357.1 85.3 L357.9 85.3 L358.7 85.6 L359.1 86.1 L359.1 87.0 L359.0 87.6 L358.7 88.3 L358.1 88.9 L357.6 88.4" fill="none" stroke="#1422d6" stroke-width="0.70" stroke-opacity="0.90" stroke-dasharray="0.9 0.4"/>
<path d="M352.8 82.2 L353.3 81.5 L353.4 80.8 L353.1 80.3 L352.3 80.0 L351.5 80.0 L350.8 80.5 L350.2 81.1 L350.0 81.8 L349.7 82.5 L349.7 83.1 L349.8 83.9 L350.4 84.2 L350.8 84.7 L350.9 85.3 L350.9 86.0 L351.5 86.3 L352.0 86.6" fill="none" stroke="#1422d6" stroke-width="0.70" stroke-opacity="0.90" stroke-dasharray="0.9 0.4"/>
<path d="M351.8 76.4 L351.4 76.8 L351.2 77.3 L351.5 77.9 L352.0 78.4 L352.7 78.6 L353.2 78.2 L353.6 77.8 L353.7 77.3 L353.6 76.5 L353.5 75.6 L354.0 75.0 L354.7 74.5 L355.3 74.5 L356.1 74.2 L356.7 73.8 L357.1 73.4 L357.3 72.5" fill="none" stroke="#1422d6" stroke-width="0.70" stroke-opacity="0.90" stroke-dasharray="0.9 0.4"/>
<path d="M351.6 80.0 L352.1 80.2 L352.9 80.2 L353.5 79.8 L353.7 79.0 L353.3 78.2 L352.6 77.8 L352.0 78.0 L351.4 78.3 L350.7 78.2 L350.1 77.9 L349.6 77.4 L349.5 76.9 L349.5 76.0 L350.1 76.0 L350.8 75.4 L351.4 74.8 L351.7 74.3 L351.7 73.7 L351.5 73.1 L352.0 72.4 L352.7 72.1 L353.4 71.7 L354.0 71.7 L354.8 71.6 L355.3 71.2 L355.9 71.3 L356.6 71.1 L357.2 70.7 L357.8 70.9 L358.4 70.9" fill="none" stroke="#1422d6" stroke-width="0.70" stroke-opacity="0.90" stroke-dasharray="0.9 0.4"/>
<path d="M358.4 77.3 L357.7 76.9 L357.2 76.3 L357.1 75.6 L357.4 75.0 L358.2 74.7 L359.0 74.6 L359.8 74.7 L360.3 75.1 L360.7 75.8 L360.8 76.6 L360.7 77.2 L360.2 77.7 L360.1 78.3 L360.2 78.9 L360.8 79.4 L361.5 79.5 L362.1 80.1 L362.3 80.7 L362.4 81.3 L362.3 81.9 L361.9 82.6 L361.3 82.9 L360.8 82.8 L360.1 83.2 L359.6 83.7 L359.4 84.3 L359.4 84.8 L359.6 85.4" fill="none" stroke="#1422d6" stroke-width="0.70" stroke-opacity="0.90" stroke-dasharray="0.9 0.4"/>
<path d="M364.4 76.9 L365.2 76.6 L365.7 76.5 L366.4 76.8 L367.0 77.4 L367.5 78.0 L367.8 78.5 L367.3 78.8 L366.7 79.1 L366.0 78.9 L365.2 78.6 L364.7 78.1 L364.3 77.5 L364.0 77.0 L364.2 76.4 L364.7 76.0 L365.3 76.0 L366.1 76.1 L366.6 76.6 L367.0 77.2 L367.2 77.9 L367.2 78.6 L367.0 79.3 L366.6 79.8 L366.1 80.3" fill="none" stroke="#1422d6" stroke-width="0.70" stroke-opacity="0.90" stroke-dasharray="0.9 0.4"/>
<path d="M352.5 74.9 L352.0 74.6 L351.4 74.2 L350.7 74.2 L350.9 75.0 L351.5 75.5 L352.2 75.8 L352.9 76.0 L353.4 75.9 L353.9 75.3 L354.5 74.9 L355.1 74.5 L355.8 74.4 L356.5 74.5 L357.1 74.6 L357.6 74.5 L358.2 73.9 L358.5 73.1 L358.4 72.3 L358.2 71.7 L357.8 71.3 L356.9 71.0 L356.1 71.1" fill="none" stroke="#1422d6" stroke-width="0.70" stroke-opacity="0.90" stroke-dasharray="0.9 0.4"/>
<path d="M360.0 74.2 L359.9 73.6 L359.6 73.0 L359.1 72.5 L358.6 72.1 L357.8 71.9 L357.1 71.7 L356.2 71.8 L355.6 72.1 L355.1 72.7 L354.7 73.4 L354.5 74.1 L354.8 74.8 L355.1 75.2 L355.7 75.6 L356.3 76.0 L356.9 75.8 L357.3 75.4 L357.4 74.6 L357.4 73.9 L357.0 73.4 L356.2 73.2 L355.5 73.4 L354.8 73.8 L354.2 74.0" fill="none" stroke="#1422d6" stroke-width="0.70" stroke-opacity="0.90" stroke-dasharray="0.9 0.4"/>
<path d="M361.4 85.5 L360.8 85.0 L360.2 84.8 L359.5 84.9 L359.1 85.3 L358.9 86.1 L359.0 86.9 L359.5 87.4 L360.0 87.7 L360.8 87.8 L361.3 87.6 L361.7 87.1 L362.0 86.4 L361.9 85.9 L361.4 85.4 L360.8 84.9 L360.0 84.7 L359.2 85.0 L358.6 85.4 L358.4 86.2 L358.6 87.0 L359.2 87.7 L359.8 88.1 L360.6 88.3 L361.2 88.3 L362.1 88.0 L362.8 87.9 L363.4 87.4 L364.1 87.0 L364.4 86.3 L365.1 85.8" fill="none" stroke="#1422d6" stroke-width="0.70" stroke-opacity="0.90" stroke-dasharray="0.9 0.4"/>
<path d="M362.7 85.2 L362.9 86.0 L363.0 86.7 L362.5 86.5 L362.0 86.0 L361.6 85.3 L361.7 84.5 L362.1 83.8 L362.7 83.5 L363.3 83.6 L363.7 84.0 L364.1 84.6 L364.3 85.2 L364.0 85.8 L363.4 85.7 L362.7 85.2 L362.1 84.6 L362.0 83.8 L362.3 83.0 L362.8 82.7 L363.4 82.7 L364.3 82.8 L364.8 83.0 L365.1 83.6 L365.1 84.2 L364.5 84.5 L363.8 84.6 L363.0 84.4" fill="none" stroke="#1422d6" stroke-width="0.70" stroke-opacity="0.97" stroke-dasharray="0.9 0.4"/>
<path d="M362.3 81.6 L362.0 80.8 L361.7 80.2 L361.6 79.5 L361.5 78.9 L361.3 78.3 L360.4 78.5 L360.2 79.2 L360.4 79.9 L361.0 80.4 L361.4 80.8 L361.8 81.6 L361.9 82.1 L361.6 82.8 L361.2 83.2 L360.6 83.5 L360.4 84.1 L360.1 84.7 L359.9 85.3 L359.9 86.1 L360.2 86.6 L360.7 87.0 L361.3 87.1 L361.8 86.9 L362.2 86.2 L362.9 85.8 L363.7 85.9" fill="none" stroke="#1422d6" stroke-width="0.70" stroke-opacity="0.97" stroke-dasharray="0.9 0.4"/>
<path d="M358.9 85.3 L359.2 86.0 L359.8 86.6 L360.3 86.0 L360.3 85.3 L360.0 84.6 L359.3 84.2 L358.8 84.1 L358.1 84.3 L357.6 84.7 L358.2 85.1 L359.0 85.1 L359.6 84.8 L359.8 84.2 L359.8 83.6 L359.7 83.0 L360.0 82.2 L359.9 81.6 L359.7 80.9 L358.9 80.5 L358.2 80.8 L357.6 81.3 L358.1 81.7 L358.7 81.9 L359.3 81.7 L359.8 81.1 L360.0 80.3 L360.7 80.0 L361.3 80.1" fill="none" stroke="#1422d6" stroke-width="0.70" stroke-opacity="0.97" stroke-dasharray="0.9 0.4"/>
<path d="M363.4 84.0 L363.7 83.5 L363.8 82.9 L363.4 82.2 L362.8 81.8 L361.9 81.5 L361.3 81.6 L360.7 82.1 L360.1 82.6 L360.1 83.4 L360.2 84.0 L360.6 84.6 L361.1 84.8 L361.8 84.9 L362.5 84.4 L363.1 83.8 L363.2 83.0 L363.0 82.3 L362.6 81.6 L362.1 80.9" fill="none" stroke="#1422d6" stroke-width="0.70" stroke-opacity="0.97" stroke-dasharray="0.9 0.4"/>
<path d="M374.5 87.3 L374.4 87.9 L374.1 88.6 L373.8 89.4 L373.5 89.9 L372.9 89.7 L372.4 89.5 L372.0 88.9 L371.5 88.3 L371.0 87.7 L370.8 87.2 L370.8 86.6 L371.0 85.8 L371.3 85.3 L371.8 85.0 L372.4 84.6 L373.1 84.4 L373.7 84.5 L374.2 84.8 L374.6 85.6 L374.8 86.2 L375.0 86.8 L374.9 87.5" fill="none" stroke="#1422d6" stroke-width="0.70" stroke-opacity="0.90" stroke-dasharray="0.9 0.4"/>
<path d="M366.0 84.1 L365.5 83.8 L364.7 83.6 L363.9 83.6 L364.1 84.3 L364.7 84.3 L365.4 84.0 L366.0 83.5 L366.0 82.8 L365.6 82.0 L365.9 81.4 L366.5 80.8 L367.0 80.2 L367.5 79.9 L368.2 79.8 L369.0 79.8 L369.8 80.0" fill="none" stroke="#1422d6" stroke-width="0.70" stroke-opacity="0.90" stroke-dasharray="0.9 0.4"/>
<path d="M377.6 84.1 L378.5 84.1 L379.1 83.6 L379.3 83.0 L379.1 82.4 L378.7 81.8 L378.0 81.7 L377.2 81.8 L376.5 82.2 L376.3 82.9 L376.1 83.6 L376.6 84.3 L377.4 84.4 L377.8 84.8 L377.8 85.4 L377.6 86.0 L377.1 86.3 L376.5 86.3 L376.1 85.8 L375.4 85.8 L374.6 86.2 L374.2 86.5 L373.4 86.9 L372.7 86.6 L372.1 86.0 L372.0 85.3 L372.0 84.5 L372.6 83.9 L373.5 83.9 L374.1 84.2 L374.6 84.8 L374.9 85.5 L374.6 86.2" fill="none" stroke="#1422d6" stroke-width="0.70" stroke-opacity="0.90" stroke-dasharray="0.9 0.4"/>
<path d="M370.3 84.6 L370.1 83.9 L369.9 83.2 L369.9 82.6 L369.9 81.8 L370.1 81.0 L370.4 80.4 L371.0 79.9 L371.7 79.5 L372.0 80.1 L372.3 80.9 L372.1 81.5 L371.8 82.1 L371.0 82.5 L370.3 82.5 L369.4 82.4 L368.8 82.2 L368.3 81.9 L367.7 81.5 L367.2 81.1 L366.7 80.5 L367.4 80.4 L367.9 80.8 L368.2 81.6 L368.6 82.4 L369.1 82.9" fill="none" stroke="#1422d6" stroke-width="0.70" stroke-opacity="0.90" stroke-dasharray="0.9 0.4"/>
<path d="M371.0 80.2 L371.4 79.5 L372.0 79.7 L372.2 80.2 L372.3 81.0 L371.9 81.6 L371.5 81.9 L370.8 82.0 L370.2 81.8 L369.7 81.2 L368.8 81.2 L368.1 81.5 L367.8 82.3 L367.6 82.9 L367.5 83.8 L367.6 84.6 L368.0 85.2 L368.4 85.7 L369.2 85.9 L369.7 85.7 L370.2 85.1 L370.5 84.3 L370.1 83.6 L370.3 82.8 L370.8 82.2 L371.5 82.0 L372.0 82.1" fill="none" stroke="#1422d6" stroke-width="0.70" stroke-opacity="0.90" stroke-dasharray="0.9 0.4"/>
<path d="M375.1 82.2 L374.3 82.1 L373.7 82.0 L373.3 81.5 L373.0 80.8 L372.8 80.2 L372.9 79.5 L373.4 79.6 L373.5 80.3 L373.7 80.9 L374.0 81.4 L374.3 82.1 L374.6 82.7 L374.9 83.2 L375.4 83.7 L376.1 84.0 L376.9 83.8 L377.5 83.7 L378.1 83.4 L378.7 83.0 L379.2 82.6 L379.4 82.0 L379.0 81.6 L378.2 81.4" fill="none" stroke="#1422d6" stroke-width="0.70" stroke-opacity="0.90" stroke-dasharray="0.9 0.4"/>
<path d="M375.5 96.0 L375.2 95.2 L374.7 94.6 L374.2 94.2 L373.5 94.1 L372.9 94.3 L372.5 94.7 L371.8 95.0 L371.9 94.3 L372.5 93.8 L373.0 93.2 L373.4 92.5 L373.5 91.8 L373.1 91.1 L373.3 90.2 L373.8 89.6 L374.4 89.4 L375.0 89.5 L375.4 90.1 L375.5 90.9 L376.2 91.4 L376.8 91.4 L377.3 90.9 L377.4 90.2 L377.0 89.6 L376.4 89.4 L375.6 89.5 L375.2 90.0 L374.7 90.4 L374.1 90.5" fill="none" stroke="#1422d6" stroke-width="0.90" stroke-opacity="1.00" stroke-dasharray="0.9 0.4"/>
<path d="M375.5 92.0 L376.1 91.7 L376.9 91.7 L377.6 91.8 L378.1 91.5 L378.4 91.0 L378.7 90.5 L378.7 89.7 L378.5 88.9 L378.1 88.5 L377.4 88.3 L376.8 88.5 L376.1 88.7 L375.5 89.2 L374.7 89.4 L374.2 89.5 L373.3 89.3 L372.6 89.2 L372.3 89.9 L372.0 90.6 L371.5 91.3 L371.3 92.0" fill="none" stroke="#1422d6" stroke-width="0.90" stroke-opacity="1.00" stroke-dasharray="0.9 0.4"/>
<path d="M375.3 96.6 L375.9 96.7 L376.5 97.1 L377.0 97.5 L377.6 97.6 L378.2 97.7 L378.5 97.1 L378.6 96.3 L378.6 95.4 L378.6 94.8 L379.1 94.1 L379.8 93.8 L380.4 93.9 L381.2 94.0 L381.7 93.4 L381.9 92.7 L381.6 92.1 L381.1 91.7" fill="none" stroke="#1422d6" stroke-width="0.90" stroke-opacity="1.00" stroke-dasharray="0.9 0.4"/>
<path d="M377.2 94.9 L377.9 94.8 L378.6 94.8 L379.4 94.9 L379.9 95.4 L380.2 95.9 L380.5 96.6 L379.7 96.7 L379.2 96.5 L378.7 96.2 L378.1 96.2 L377.5 96.4 L377.0 97.1 L376.7 97.8 L376.7 98.5 L376.2 99.0 L375.4 99.0 L374.8 98.7 L375.0 98.1 L375.7 97.6 L376.5 97.7 L377.2 97.9" fill="none" stroke="#1422d6" stroke-width="0.90" stroke-opacity="1.00" stroke-dasharray="0.9 0.4"/>
<path d="M381.1 91.5 L381.9 91.5 L382.2 91.9 L382.2 92.7 L381.8 93.4 L381.2 93.9 L380.9 94.6 L380.8 95.3 L380.6 95.9 L380.0 96.4 L379.4 96.8 L378.8 97.1 L378.4 97.8 L377.7 98.1 L377.1 97.9 L376.3 97.7 L375.5 97.8 L374.9 97.8 L374.0 97.6 L373.4 97.2 L373.1 96.7 L372.8 95.8 L372.5 95.4 L371.9 95.0 L371.3 95.0 L370.9 94.4 L370.8 93.7 L370.8 92.9 L371.3 92.2 L371.7 91.5 L371.9 90.9 L371.9 90.4" fill="none" stroke="#1422d6" stroke-width="0.90" stroke-opacity="1.00" stroke-dasharray="0.9 0.4"/>
<path d="M375.6 94.9 L375.0 95.4 L374.8 96.0 L374.9 96.8 L375.2 97.3 L375.2 98.1 L375.7 98.5 L376.4 98.5 L377.2 98.2 L377.7 97.8 L378.3 97.1 L378.9 96.8 L379.4 96.9 L380.0 96.5 L380.6 96.0 L380.7 95.4 L380.7 94.7 L380.4 93.9 L379.8 93.4 L379.2 93.2 L378.5 93.1 L377.9 93.3 L377.5 93.7 L377.3 94.4 L376.7 94.9 L376.1 95.2 L375.2 95.0 L374.7 94.6 L374.5 94.0 L374.5 93.2" fill="none" stroke="#1422d6" stroke-width="0.90" stroke-opacity="1.00" stroke-dasharray="0.9 0.4"/>
<path d="M378.4 89.9 L379.1 89.4 L379.7 89.2 L380.3 88.6 L379.6 88.5 L379.1 88.8 L378.4 88.5 L377.8 88.1 L377.6 87.4 L377.0 87.3 L376.3 87.3 L375.8 87.6 L375.1 88.1 L374.3 88.3 L373.5 88.4 L373.1 89.1 L372.5 89.6 L371.8 90.0 L371.5 90.7 L371.5 91.3 L371.7 92.1 L371.5 92.6 L371.0 93.2 L371.1 94.0 L371.5 94.5" fill="none" stroke="#1422d6" stroke-width="0.90" stroke-opacity="1.00" stroke-dasharray="0.9 0.4"/>
<path d="M379.5 90.0 L380.1 90.5 L380.5 91.3 L380.8 92.1 L380.8 93.0 L380.7 93.6 L380.3 94.3 L379.9 94.7 L379.2 95.3 L378.6 95.4 L378.1 95.2 L377.6 94.9 L377.2 94.4 L377.2 93.7 L377.6 93.2 L378.0 92.6 L378.7 92.4 L379.5 92.6 L380.2 92.9 L381.0 93.2 L381.5 93.9 L380.7 94.2 L380.1 94.6" fill="none" stroke="#1422d6" stroke-width="0.90" stroke-opacity="1.00" stroke-dasharray="0.9 0.4"/>
<path d="M387.9 87.8 L387.2 87.9 L386.4 88.1 L385.7 88.6 L385.5 89.3 L385.7 90.0 L386.1 90.6 L386.6 90.7 L387.3 90.4 L388.0 90.2 L388.7 90.1 L389.3 90.3 L389.9 91.0 L390.4 91.5 L391.0 91.8 L391.7 91.7 L392.3 91.4 L392.9 90.8 L392.9 89.9 L392.5 89.4 L392.0 88.7" fill="none" stroke="#1422d6" stroke-width="0.70" stroke-opacity="0.97" stroke-dasharray="0.9 0.4"/>
<path d="M390.4 85.0 L389.7 85.2 L389.2 85.6 L389.1 86.2 L389.3 86.7 L389.9 87.0 L390.4 87.1 L391.2 86.8 L391.6 86.2 L392.3 85.9 L392.9 85.7 L393.7 85.9 L394.2 86.4 L394.3 87.1 L394.1 87.6 L393.3 88.0 L392.7 88.0 L392.2 88.4 L391.7 88.9 L391.5 89.6 L391.8 90.3 L392.2 90.9 L392.9 91.1 L393.5 91.2 L394.4 91.1 L394.8 90.6" fill="none" stroke="#1422d6" stroke-width="0.70" stroke-opacity="0.97" stroke-dasharray="0.9 0.4"/>
<path d="M391.5 97.1 L390.8 96.9 L390.0 96.9 L389.3 97.5 L389.1 98.2 L389.2 98.9 L389.7 98.3 L389.7 97.8 L389.3 97.4 L388.7 97.1 L388.1 97.1 L387.5 97.4 L387.2 98.1 L386.5 98.2 L385.8 97.9 L385.3 97.5 L384.9 97.0" fill="none" stroke="#1422d6" stroke-width="0.70" stroke-opacity="0.97" stroke-dasharray="0.9 0.4"/>
<path d="M388.6 89.4 L388.0 89.3 L387.1 89.4 L386.4 89.8 L386.2 90.6 L386.4 91.4 L386.7 92.2 L387.2 92.6 L387.8 92.7 L388.4 92.5 L389.2 92.0 L389.6 91.6 L389.6 90.9 L388.9 90.3 L388.2 90.0 L387.6 90.1 L387.0 90.5 L386.5 91.1 L386.3 91.6 L386.2 92.4 L386.3 93.0 L386.9 93.4 L387.7 93.4 L388.4 93.2 L389.0 93.4 L389.3 93.8 L389.4 94.4" fill="none" stroke="#1422d6" stroke-width="0.70" stroke-opacity="0.97" stroke-dasharray="0.9 0.4"/>
<path d="M387.3 96.1 L386.8 95.8 L386.4 95.4 L386.1 94.6 L386.0 93.7 L386.2 93.1 L386.5 92.3 L387.2 92.1 L387.8 92.3 L388.2 93.0 L388.9 93.5 L389.7 93.4 L390.2 92.8 L390.0 92.2 L390.3 91.4 L390.6 90.8 L391.4 90.5 L392.0 90.7 L392.4 91.5 L392.4 92.3 L392.1 93.1 L391.4 93.4 L390.9 93.2 L390.4 92.5 L390.1 91.8 L390.3 91.1 L389.9 90.3 L389.3 89.7 L388.6 89.4 L387.8 89.3" fill="none" stroke="#1422d6" stroke-width="0.70" stroke-opacity="0.97" stroke-dasharray="0.9 0.4"/>
<path d="M390.1 82.6 L390.5 82.1 L391.3 81.8 L391.8 82.0 L392.4 82.1 L393.1 82.3 L393.8 82.8 L394.6 83.0 L395.3 83.1 L395.1 83.7 L394.7 84.5 L394.2 85.1 L393.6 85.4 L392.9 85.4 L392.2 85.4 L391.6 85.3 L390.7 85.3 L389.9 85.3 L389.3 85.4 L388.6 85.8 L388.0 86.1 L387.3 86.7 L386.8 87.0 L386.5 87.8 L386.5 88.5 L386.5 89.1 L386.3 89.8 L385.9 90.3 L385.4 90.5 L384.6 90.6 L383.8 90.4" fill="none" stroke="#1422d6" stroke-width="0.70" stroke-opacity="0.97" stroke-dasharray="0.9 0.4"/>
<path d="M387.4 94.3 L386.7 94.3 L386.3 93.8 L386.0 93.2 L385.9 92.3 L386.2 91.8 L386.8 91.4 L387.3 90.6 L387.5 90.1 L387.9 89.3 L387.7 88.5 L387.1 88.0 L386.7 87.6 L386.1 87.3 L385.3 87.2 L384.5 87.2 L383.7 87.3" fill="none" stroke="#1422d6" stroke-width="0.70" stroke-opacity="0.97" stroke-dasharray="0.9 0.4"/>
<path d="M393.7 87.4 L393.0 86.8 L392.8 86.3 L392.5 85.8 L392.1 85.4 L391.6 85.0 L390.9 84.6 L390.3 84.6 L389.7 85.0 L389.2 85.6 L388.9 86.3 L389.0 87.1 L389.3 87.8 L389.8 88.5 L390.3 88.7 L391.1 89.0 L391.9 89.0" fill="none" stroke="#1422d6" stroke-width="0.70" stroke-opacity="0.97" stroke-dasharray="0.9 0.4"/>
<path d="M395.1 87.1 L395.9 87.1 L396.2 87.6 L395.9 88.3 L395.5 88.9 L395.5 89.7 L395.6 90.4 L395.6 91.1 L395.7 91.9 L395.1 92.5 L394.8 93.3 L394.9 94.2 L394.6 94.7 L394.0 94.9 L393.4 95.1 L393.0 95.8 L392.9 96.6 L392.9 97.4 L392.4 97.9 L391.8 98.1 L390.9 98.1 L390.2 98.5 L389.5 98.3 L389.1 97.8 L388.7 97.4 L388.2 96.9" fill="none" stroke="#1422d6" stroke-width="0.70" stroke-opacity="0.97" stroke-dasharray="0.9 0.4"/>
<path d="M389.8 88.5 L390.3 88.0 L390.9 88.0 L391.4 88.4 L391.6 89.3 L391.3 90.0 L390.9 90.8 L390.3 91.1 L389.7 91.1 L389.2 90.9 L388.7 90.5 L389.1 89.9 L389.7 89.7 L390.5 89.2 L391.3 89.0 L391.9 89.2" fill="none" stroke="#1422d6" stroke-width="0.90" stroke-opacity="1.00" stroke-dasharray="0.9 0.4"/>
<path d="M389.2 88.6 L388.9 89.2 L388.7 89.8 L389.1 90.2 L389.7 90.9 L389.7 91.8 L389.6 92.6 L389.0 93.2 L388.8 92.6 L388.6 91.9 L388.6 91.2 L388.6 90.5 L388.9 89.7 L388.8 89.2 L389.0 88.5 L389.1 87.8 L389.8 87.5 L390.4 87.1 L391.0 86.8 L391.3 86.1 L391.5 85.3 L392.3 84.9 L392.7 85.4 L392.7 86.2 L392.3 86.8" fill="none" stroke="#1422d6" stroke-width="0.90" stroke-opacity="1.00" stroke-dasharray="0.9 0.4"/>
<path d="M390.4 92.7 L390.1 92.0 L390.1 91.4 L390.4 90.6 L390.9 90.0 L391.5 89.5 L392.0 89.3 L392.6 89.2 L393.2 89.2 L393.9 89.6 L393.6 90.1 L393.2 90.9 L392.6 91.3 L391.9 91.7 L391.1 91.9 L390.5 91.9 L389.9 91.3 L389.8 90.7 L389.9 90.0 L390.0 89.3 L390.4 88.8 L390.8 88.4 L391.3 88.0" fill="none" stroke="#1422d6" stroke-width="0.90" stroke-opacity="1.00" stroke-dasharray="0.9 0.4"/>
<path d="M391.2 86.9 L390.6 86.5 L390.3 86.0 L389.5 86.0 L388.7 86.1 L388.2 86.4 L387.6 87.0 L387.3 87.6 L387.0 88.3 L387.1 89.1 L387.2 89.9 L387.6 90.5 L387.9 91.0 L388.6 91.4 L389.2 91.6 L389.6 92.3 L389.6 93.1 L390.1 93.6 L390.9 93.8 L391.5 93.7 L392.0 94.1 L392.1 93.4 L391.8 92.9 L391.3 92.4 L390.5 92.3 L389.8 91.8 L389.7 91.2 L389.8 90.7 L390.2 90.2 L390.8 90.1 L391.5 90.4 L391.9 91.0" fill="none" stroke="#1422d6" stroke-width="0.90" stroke-opacity="1.00" stroke-dasharray="0.9 0.4"/>
<path d="M393.1 89.9 L393.8 89.6 L393.7 88.7 L393.1 88.3 L392.6 87.8 L392.4 87.1 L392.1 86.4 L392.4 85.6 L392.9 86.3 L392.6 86.8 L392.0 87.2 L391.6 87.8 L391.6 88.7 L391.8 89.2 L392.1 90.0 L392.5 90.6" fill="none" stroke="#1422d6" stroke-width="0.90" stroke-opacity="1.00" stroke-dasharray="0.9 0.4"/>
<path d="M356.0 100.5 L356.5 100.0 L357.2 99.6 L357.8 99.7 L358.3 100.1 L358.9 100.6 L359.1 101.3 L358.4 101.4 L357.9 101.2 L357.3 100.7 L356.6 100.2 L356.3 99.3 L356.1 98.5 L355.8 97.9 L355.2 97.6" fill="none" stroke="#1422d6" stroke-width="0.70" stroke-opacity="0.86" stroke-dasharray="0.9 0.4"/>
<path d="M354.4 97.1 L353.9 97.7 L353.1 98.0 L352.4 97.9 L351.5 97.9 L350.9 98.1 L350.5 98.8 L351.0 99.0 L351.8 99.0 L352.3 98.8 L352.9 98.4 L353.3 97.9 L353.7 97.3 L354.0 96.6 L353.8 95.8 L353.3 95.1 L352.9 94.7 L352.1 94.4 L351.3 94.3 L350.8 94.6 L351.0 95.3 L351.3 95.9 L351.1 96.5 L350.7 97.0 L350.2 97.4 L350.2 98.0" fill="none" stroke="#1422d6" stroke-width="0.70" stroke-opacity="0.86" stroke-dasharray="0.9 0.4"/>
<path d="M357.8 93.3 L357.0 93.4 L356.4 93.8 L356.0 94.3 L355.7 95.1 L355.6 95.8 L355.6 96.4 L355.9 97.2 L356.3 97.9 L356.8 98.6 L357.2 99.1 L357.7 99.3 L358.4 99.3 L359.2 99.1 L359.7 98.5 L359.8 97.7 L359.5 97.1 L359.1 96.6 L359.0 96.1 L359.2 95.4 L359.6 94.8 L359.8 94.3 L360.3 93.6 L361.0 93.4 L361.2 93.9 L360.7 94.3 L360.0 94.7 L359.3 94.9 L358.6 94.7 L357.7 94.4 L357.2 94.0 L356.8 93.5" fill="none" stroke="#1422d6" stroke-width="0.70" stroke-opacity="0.86" stroke-dasharray="0.9 0.4"/>
<path d="M350.4 96.6 L350.7 97.2 L350.7 98.0 L350.6 98.8 L351.2 99.3 L351.9 99.6 L352.5 99.7 L353.3 99.7 L353.8 99.8 L354.6 99.5 L355.4 99.3 L356.2 99.1 L357.0 99.3 L357.6 99.7 L358.1 100.1 L358.4 101.0 L358.6 101.8 L358.0 101.6 L357.7 101.0 L357.5 100.3 L357.6 99.6 L358.0 99.2 L358.6 99.1 L359.3 99.4 L359.7 99.8" fill="none" stroke="#1422d6" stroke-width="0.70" stroke-opacity="0.86" stroke-dasharray="0.9 0.4"/>
<path d="M355.0 94.8 L354.4 94.4 L354.2 93.5 L354.5 92.8 L355.0 92.3 L355.6 92.0 L356.2 92.1 L356.7 92.7 L356.7 93.4 L356.2 94.0 L355.6 94.6 L355.0 94.7 L354.5 94.6 L353.8 94.3 L353.4 93.8 L353.2 93.0 L353.4 92.3 L354.1 92.3 L354.8 92.8 L355.1 93.3" fill="none" stroke="#1422d6" stroke-width="0.70" stroke-opacity="0.86" stroke-dasharray="0.9 0.4"/>
<path d="M363.2 103.2 L362.7 103.8 L362.1 104.0 L361.2 104.1 L360.6 103.9 L359.9 103.3 L359.4 102.8 L359.9 102.3 L360.5 102.3 L361.2 102.7 L361.5 103.3 L361.6 104.2 L361.4 105.0 L361.3 105.5 L360.9 106.0 L360.3 106.5 L360.7 107.3 L361.0 108.0 L361.5 108.5 L361.9 108.9 L362.4 109.1 L363.0 109.3 L363.6 109.4 L364.4 109.4 L365.0 109.1 L365.6 108.7 L366.4 108.4 L366.8 108.1 L367.2 107.5 L367.8 106.9 L368.4 106.3 L369.2 106.0 L370.0 105.9 L370.7 106.2" fill="none" stroke="#1422d6" stroke-width="0.70" stroke-opacity="0.86" stroke-dasharray="0.9 0.4"/>
<path d="M367.0 101.1 L366.3 101.3 L365.8 101.6 L365.5 102.2 L365.6 102.9 L366.0 103.4 L366.6 103.5 L367.4 103.2 L368.0 102.7 L368.3 101.8 L367.9 101.0 L367.3 100.8 L366.7 101.0 L366.2 101.5 L366.2 102.1 L366.5 102.7 L367.2 102.8 L367.8 102.7 L368.3 102.3 L369.1 101.9 L369.8 101.9 L370.4 102.2 L371.0 102.6 L371.5 102.5 L372.1 102.3 L372.5 101.8 L372.5 101.0 L372.1 100.4" fill="none" stroke="#1422d6" stroke-width="0.70" stroke-opacity="0.86" stroke-dasharray="0.9 0.4"/>
<path d="M363.6 102.7 L363.4 101.9 L363.4 101.2 L363.9 100.8 L364.5 100.6 L365.0 100.2 L365.6 99.6 L366.3 99.5 L366.8 99.4 L367.4 99.6 L367.9 99.9 L368.6 99.9 L369.3 99.7 L369.9 100.1 L370.7 100.1 L371.3 100.6 L371.6 101.1 L371.5 101.7 L371.0 102.4 L370.4 102.5" fill="none" stroke="#1422d6" stroke-width="0.70" stroke-opacity="0.86" stroke-dasharray="0.9 0.4"/>
<path d="M375.1 103.9 L375.3 104.6 L374.7 105.0 L373.8 105.1 L373.3 104.7 L372.5 104.7 L371.9 105.0 L371.6 105.6 L371.6 106.1 L372.2 106.6 L372.8 106.6 L373.3 106.4 L373.9 106.2 L373.3 105.7 L372.6 105.6 L372.0 106.0 L371.4 106.6 L371.2 107.2 L371.0 107.9 L370.6 108.3 L370.0 108.4 L369.4 108.6 L368.5 108.4 L367.7 108.1 L367.1 107.6 L366.8 107.2 L366.6 106.6 L366.7 106.0 L367.1 105.2 L367.7 104.6 L368.1 103.8 L367.9 103.3 L367.2 103.0 L366.6 102.9" fill="none" stroke="#1422d6" stroke-width="0.70" stroke-opacity="0.86" stroke-dasharray="0.9 0.4"/>
<path d="M367.8 106.0 L367.0 105.8 L366.3 105.9 L365.5 106.1 L365.1 106.6 L364.8 107.4 L365.0 108.0 L365.8 107.9 L366.2 107.1 L366.4 106.3 L366.1 105.6 L365.5 105.1 L364.8 105.0 L364.3 105.4 L363.9 106.0 L364.0 106.7 L364.3 107.5 L364.8 108.0 L365.6 107.7 L366.0 107.0 L365.9 106.4 L365.7 105.6 L365.3 105.3 L364.7 105.1" fill="none" stroke="#1422d6" stroke-width="0.70" stroke-opacity="0.86" stroke-dasharray="0.9 0.4"/>
<path d="M369.7 104.5 L370.0 105.1 L370.6 105.4 L371.2 105.4 L371.7 105.1 L372.0 104.3 L372.5 103.7 L373.2 103.2 L373.9 103.2 L374.6 103.4 L375.2 104.0 L375.5 104.6 L374.7 105.0 L374.1 105.1 L373.6 105.2 L372.9 104.9 L372.5 104.4 L372.6 103.8 L373.0 103.4 L373.2 102.8 L373.4 102.0 L373.2 101.4 L372.5 100.9 L371.8 100.9 L371.0 101.0" fill="none" stroke="#1422d6" stroke-width="0.70" stroke-opacity="0.86" stroke-dasharray="0.9 0.4"/>
<path d="M383.5 104.5 L384.1 105.0 L384.5 105.6 L384.8 106.4 L384.5 107.2 L384.1 106.8 L383.9 106.2 L384.1 105.5 L384.6 105.2 L385.2 105.1 L385.9 105.6 L386.4 106.2 L386.6 107.1 L385.9 107.0 L385.9 106.3 L385.3 105.6 L384.4 105.6 L383.8 106.3 L383.5 106.9 L382.8 106.9 L382.1 106.8 L381.3 106.5" fill="none" stroke="#1422d6" stroke-width="0.70" stroke-opacity="0.86" stroke-dasharray="0.9 0.4"/>
<path d="M388.4 104.7 L387.6 104.6 L387.0 104.6 L386.5 105.2 L386.2 105.7 L386.3 106.4 L386.7 106.9 L387.2 106.2 L386.6 105.6 L386.0 105.5 L385.4 105.7 L384.6 106.0 L384.0 106.4 L383.5 106.7 L382.9 107.2 L382.0 107.3 L381.6 106.7" fill="none" stroke="#1422d6" stroke-width="0.70" stroke-opacity="0.86" stroke-dasharray="0.9 0.4"/>
<path d="M383.9 104.0 L384.3 104.6 L384.4 105.3 L384.3 105.8 L384.0 106.6 L383.5 107.2 L382.9 106.7 L383.2 106.0 L383.8 105.4 L384.1 104.8 L384.2 104.1 L383.9 103.5 L383.4 102.8 L382.7 102.6 L381.9 102.8 L381.5 103.2 L381.3 103.9 L381.3 104.6 L381.7 105.1 L382.1 105.5 L382.8 105.6 L383.5 105.9 L384.2 106.0 L384.9 106.0 L385.8 105.7 L386.5 105.6" fill="none" stroke="#1422d6" stroke-width="0.70" stroke-opacity="0.86" stroke-dasharray="0.9 0.4"/>
<path d="M382.1 100.0 L381.5 100.0 L380.7 99.8 L380.3 100.3 L380.6 100.8 L381.3 101.2 L382.1 101.5 L382.7 101.4 L383.2 101.1 L383.8 100.7 L384.3 100.2 L384.7 99.7 L384.8 99.0 L384.9 98.4 L384.1 98.8 L383.8 99.4 L383.3 100.2 L383.0 100.8 L382.7 101.3 L382.8 101.9 L382.8 102.7 L383.2 103.1 L383.6 103.8 L384.3 104.1 L384.9 104.4 L385.6 104.7 L386.2 104.5 L387.0 104.2 L387.8 104.0 L388.4 103.4 L388.5 102.8 L388.4 102.2" fill="none" stroke="#1422d6" stroke-width="0.70" stroke-opacity="0.86" stroke-dasharray="0.9 0.4"/>
<path d="M364.0 69.5 L364.1 68.8 L363.6 68.0 L363.3 67.4 L363.2 66.9 L363.8 66.3 L363.9 65.7 L364.3 65.2 L364.8 65.0 L365.3 64.3 L366.0 64.5 L366.7 65.0 L367.1 65.6 L367.3 66.1 L367.2 66.7 L366.6 67.2 L365.7 67.2 L365.0 67.1 L364.6 66.6 L364.0 66.2 L363.3 65.9" fill="none" stroke="#1422d6" stroke-width="0.70" stroke-opacity="0.83" stroke-dasharray="0.9 0.4"/>
<path d="M366.8 67.8 L366.2 68.5 L366.0 69.1 L366.0 69.8 L366.4 70.3 L366.8 70.8 L367.4 71.1 L368.3 71.4 L368.8 71.4 L369.5 70.9 L369.7 70.2 L369.6 69.4 L369.2 69.0 L368.4 68.6 L367.7 68.4 L367.2 68.6 L366.8 69.3 L366.7 69.9 L367.3 70.5 L368.1 70.8 L368.9 70.9 L369.6 70.7 L370.0 70.3 L370.7 70.2 L371.4 70.6 L371.7 71.2 L371.2 71.9 L370.6 72.2 L369.9 72.2" fill="none" stroke="#1422d6" stroke-width="0.70" stroke-opacity="0.83" stroke-dasharray="0.9 0.4"/>
<path d="M369.3 68.5 L370.1 68.3 L370.6 68.0 L371.0 67.5 L371.4 67.0 L371.3 66.2 L370.8 65.5 L370.0 65.2 L369.1 65.3 L368.4 64.9 L367.6 64.6 L366.9 64.3 L366.0 64.2 L365.5 64.0 L365.5 64.9 L365.8 65.5 L366.6 66.0 L367.3 66.1 L368.1 65.8 L368.7 65.4 L369.4 64.9 L369.9 64.5 L370.4 63.8 L371.1 63.9 L371.6 64.4 L371.6 65.0 L371.9 65.7 L372.3 66.4 L372.7 67.0 L373.4 67.2" fill="none" stroke="#1422d6" stroke-width="0.70" stroke-opacity="0.83" stroke-dasharray="0.9 0.4"/>
<path d="M394.7 83.2 L394.8 83.8 L395.5 84.4 L396.3 84.8 L397.1 84.7 L397.5 84.4 L397.6 83.8 L397.5 83.1 L397.0 82.3 L396.7 81.6 L396.6 80.8 L396.2 80.4 L395.6 79.8 L395.1 79.5 L394.4 79.4 L393.6 79.8 L393.1 80.3 L393.4 81.0 L393.8 81.5 L394.4 81.7 L395.1 81.6 L395.8 81.1 L396.2 80.6 L396.5 80.0 L396.6 79.3 L396.3 78.5 L395.9 77.8 L395.5 77.2 L394.6 77.0 L394.0 77.0 L393.3 77.1 L392.7 77.5 L392.3 78.0 L392.0 78.5" fill="none" stroke="#1422d6" stroke-width="0.70" stroke-opacity="0.76" stroke-dasharray="0.9 0.4"/>
<path d="M398.1 84.2 L398.7 83.6 L399.2 83.3 L399.3 82.5 L399.3 81.8 L399.2 81.0 L399.4 80.4 L399.2 79.8 L398.8 79.3 L398.0 79.0 L397.4 78.9 L396.9 78.7 L396.6 78.2 L396.4 77.6 L396.6 77.0 L397.0 76.6 L397.5 76.4 L398.4 76.4 L399.1 76.5 L399.3 77.1 L399.4 77.8 L399.3 78.4 L399.3 79.2" fill="none" stroke="#1422d6" stroke-width="0.70" stroke-opacity="0.76" stroke-dasharray="0.9 0.4"/>
<path d="M395.7 78.7 L395.2 79.3 L395.1 79.8 L395.2 80.4 L395.5 81.0 L396.1 81.4 L397.0 81.5 L397.6 81.2 L398.2 80.6 L398.7 79.9 L399.2 79.2 L399.4 78.4 L398.8 78.2 L398.1 78.3 L397.6 78.6 L397.1 79.3 L397.2 80.2 L397.2 80.7 L396.8 81.5 L396.0 81.9 L395.4 82.0 L394.7 82.0 L394.1 82.6 L393.7 83.1 L393.4 83.5 L393.8 84.2" fill="none" stroke="#1422d6" stroke-width="0.70" stroke-opacity="0.76" stroke-dasharray="0.9 0.4"/>
<path d="M387.3 62.8 L388.3 65.3 L389.3 68.3" fill="none" stroke="#1422d6" stroke-width="0.70" stroke-opacity="0.83" stroke-dasharray="0.9 0.4"/>
<path d="M375.1 103.3 L376.3 106.3 L377.8 110.8" fill="none" stroke="#1422d6" stroke-width="0.70" stroke-opacity="0.83" stroke-dasharray="0.9 0.4"/>
<rect x="385.5" y="96.6" width="0.8" height="0.8" fill="#1422d6" fill-opacity="0.75"/>
<rect x="362.0" y="87.4" width="0.8" height="0.8" fill="#1422d6" fill-opacity="0.75"/>
<rect x="363.9" y="98.9" width="0.8" height="0.8" fill="#1422d6" fill-opacity="0.75"/>
<rect x="391.1" y="81.2" width="0.8" height="0.8" fill="#1422d6" fill-opacity="0.75"/>
<rect x="395.9" y="95.7" width="0.8" height="0.8" fill="#1422d6" fill-opacity="0.75"/>
<rect x="354.2" y="87.1" width="0.8" height="0.8" fill="#1422d6" fill-opacity="0.75"/>
<rect x="361.4" y="95.6" width="0.8" height="0.8" fill="#1422d6" fill-opacity="0.75"/>
<rect x="375.3" y="90.9" width="0.8" height="0.8" fill="#1422d6" fill-opacity="0.75"/>
<rect x="384.9" y="101.4" width="0.8" height="0.8" fill="#1422d6" fill-opacity="0.75"/>
<rect x="370.6" y="89.2" width="0.8" height="0.8" fill="#1422d6" fill-opacity="0.75"/>
<rect x="382.0" y="76.5" width="0.8" height="0.8" fill="#1422d6" fill-opacity="0.75"/>
<rect x="393.5" y="86.1" width="0.8" height="0.8" fill="#1422d6" fill-opacity="0.75"/>
<rect x="356.6" y="70.3" width="0.8" height="0.8" fill="#1422d6" fill-opacity="0.75"/>
<rect x="385.7" y="67.3" width="0.8" height="0.8" fill="#1422d6" fill-opacity="0.75"/>
<rect x="368.5" y="78.5" width="0.8" height="0.8" fill="#1422d6" fill-opacity="0.75"/>
<rect x="388.3" y="66.9" width="0.8" height="0.8" fill="#1422d6" fill-opacity="0.75"/>
<rect x="359.8" y="78.3" width="0.8" height="0.8" fill="#1422d6" fill-opacity="0.75"/>
<rect x="364.2" y="72.6" width="0.8" height="0.8" fill="#1422d6" fill-opacity="0.75"/>
<rect x="357.3" y="85.1" width="0.8" height="0.8" fill="#1422d6" fill-opacity="0.75"/>
<rect x="367.9" y="91.6" width="0.8" height="0.8" fill="#1422d6" fill-opacity="0.75"/>
<rect x="380.8" y="90.9" width="0.8" height="0.8" fill="#1422d6" fill-opacity="0.75"/>
<rect x="373.1" y="92.8" width="0.8" height="0.8" fill="#1422d6" fill-opacity="0.75"/>
<rect x="389.6" y="74.5" width="0.8" height="0.8" fill="#1422d6" fill-opacity="0.75"/>
<rect x="355.6" y="90.4" width="0.8" height="0.8" fill="#1422d6" fill-opacity="0.75"/>
<rect x="386.8" y="71.5" width="0.8" height="0.8" fill="#1422d6" fill-opacity="0.75"/>
<rect x="389.9" y="82.7" width="0.8" height="0.8" fill="#1422d6" fill-opacity="0.75"/>
<rect x="370.5" y="63.4" width="0.8" height="0.8" fill="#1422d6" fill-opacity="0.75"/>
<rect x="377.9" y="97.9" width="0.8" height="0.8" fill="#1422d6" fill-opacity="0.75"/>
<rect x="353.3" y="83.1" width="0.8" height="0.8" fill="#1422d6" fill-opacity="0.75"/>
<rect x="382.1" y="94.6" width="0.8" height="0.8" fill="#1422d6" fill-opacity="0.75"/>
<rect x="374.6" y="100.2" width="0.8" height="0.8" fill="#1422d6" fill-opacity="0.75"/>
<rect x="388.0" y="81.5" width="0.8" height="0.8" fill="#1422d6" fill-opacity="0.75"/>
<rect x="365.4" y="86.4" width="0.8" height="0.8" fill="#1422d6" fill-opacity="0.75"/>
<rect x="367.2" y="64.4" width="0.8" height="0.8" fill="#1422d6" fill-opacity="0.75"/>
<rect x="361.2" y="80.2" width="0.8" height="0.8" fill="#1422d6" fill-opacity="0.75"/>
<rect x="369.4" y="72.2" width="0.8" height="0.8" fill="#1422d6" fill-opacity="0.75"/>
<rect x="383.5" y="65.4" width="0.8" height="0.8" fill="#1422d6" fill-opacity="0.75"/>
<rect x="365.7" y="70.3" width="0.8" height="0.8" fill="#1422d6" fill-opacity="0.75"/>
<rect x="384.7" y="98.4" width="0.8" height="0.8" fill="#1422d6" fill-opacity="0.75"/>
<rect x="360.5" y="95.6" width="0.8" height="0.8" fill="#1422d6" fill-opacity="0.75"/>
<rect x="355.8" y="87.7" width="0.8" height="0.8" fill="#1422d6" fill-opacity="0.75"/>
<rect x="370.7" y="98.6" width="0.8" height="0.8" fill="#1422d6" fill-opacity="0.75"/>
<rect x="380.7" y="87.1" width="0.8" height="0.8" fill="#1422d6" fill-opacity="0.75"/>
<rect x="374.8" y="109.7" width="0.8" height="0.8" fill="#1422d6" fill-opacity="0.75"/>
<rect x="388.6" y="101.4" width="0.8" height="0.8" fill="#1422d6" fill-opacity="0.75"/>
<rect x="387.8" y="87.1" width="0.8" height="0.8" fill="#1422d6" fill-opacity="0.75"/>
<rect x="361.9" y="89.2" width="0.8" height="0.8" fill="#1422d6" fill-opacity="0.75"/>
<rect x="363.0" y="69.6" width="0.8" height="0.8" fill="#1422d6" fill-opacity="0.75"/>
<rect x="388.4" y="87.0" width="0.8" height="0.8" fill="#1422d6" fill-opacity="0.75"/>
<rect x="384.7" y="65.5" width="0.8" height="0.8" fill="#1422d6" fill-opacity="0.75"/>
<rect x="359.3" y="70.9" width="0.8" height="0.8" fill="#1422d6" fill-opacity="0.75"/>
<rect x="368.3" y="67.5" width="0.8" height="0.8" fill="#1422d6" fill-opacity="0.75"/>
<rect x="373.6" y="71.1" width="0.8" height="0.8" fill="#1422d6" fill-opacity="0.75"/>
<rect x="362.2" y="93.9" width="0.8" height="0.8" fill="#1422d6" fill-opacity="0.75"/>
<rect x="379.0" y="91.3" width="0.8" height="0.8" fill="#1422d6" fill-opacity="0.75"/>
<rect x="356.9" y="101.6" width="0.8" height="0.8" fill="#1422d6" fill-opacity="0.75"/>
<rect x="367.1" y="86.0" width="0.8" height="0.8" fill="#1422d6" fill-opacity="0.75"/>
<rect x="365.9" y="106.3" width="0.8" height="0.8" fill="#1422d6" fill-opacity="0.75"/>
<rect x="362.5" y="79.1" width="0.8" height="0.8" fill="#1422d6" fill-opacity="0.75"/>
<rect x="394.8" y="87.3" width="0.8" height="0.8" fill="#1422d6" fill-opacity="0.75"/>
<rect x="371.8" y="72.5" width="1.0" height="1.0" fill="#e0c000"/>
<rect x="371.4" y="69.7" width="1.0" height="1.0" fill="#e0c000"/>
<rect x="370.8" y="67.9" width="1.0" height="1.0" fill="#e0c000"/>
<rect x="371.5" y="70.3" width="1.0" height="1.0" fill="#e0c000"/>
<rect x="371.6" y="71.0" width="1.0" height="1.0" fill="#e0c000"/>
<rect x="373.2" y="69.1" width="1.0" height="1.0" fill="#e0c000"/>
<rect x="373.0" y="68.6" width="1.0" height="1.0" fill="#e0c000"/>
<rect x="374.5" y="69.5" width="1.0" height="1.0" fill="#e0c000"/>
<rect x="369.2" y="73.8" width="1.1" height="1.1" fill="#ff6000"/>
<rect x="369.2" y="73.2" width="1.1" height="1.1" fill="#ff6000"/>
<rect x="369.4" y="73.1" width="1.1" height="1.1" fill="#ff6000"/>
<rect x="371.6" y="73.4" width="1.1" height="1.1" fill="#ff6000"/>
<rect x="369.2" y="73.0" width="1.1" height="1.1" fill="#ff6000"/>
<rect x="383.8" y="75.7" width="1.2" height="1.2" fill="#ff2000"/>
<rect x="386.2" y="73.9" width="1.2" height="1.2" fill="#ff2000"/>
<rect x="383.3" y="74.6" width="1.2" height="1.2" fill="#ff2000"/>
<rect x="384.9" y="74.8" width="1.2" height="1.2" fill="#ff2000"/>
<rect x="385.2" y="77.5" width="1.2" height="1.2" fill="#ff2000"/>
<rect x="385.3" y="73.4" width="1.2" height="1.2" fill="#ff2000"/>
<rect x="385.4" y="75.3" width="1.2" height="1.2" fill="#ff2000"/>
<rect x="384.4" y="76.3" width="1.2" height="1.2" fill="#ff2000"/>
<rect x="384.4" y="73.8" width="1.2" height="1.2" fill="#ff2000"/>
<rect x="385.3" y="74.2" width="1.2" height="1.2" fill="#ff2000"/>
<rect x="387.3" y="76.3" width="1.2" height="1.2" fill="#ff2000"/>
<rect x="386.2" y="76.0" width="1.2" height="1.2" fill="#ff2000"/>
<rect x="387.5" y="77.5" width="1.0" height="1.0" fill="#e0a000"/>
<rect x="387.4" y="76.6" width="1.0" height="1.0" fill="#e0a000"/>
<rect x="387.6" y="77.9" width="1.0" height="1.0" fill="#e0a000"/>
<rect x="387.0" y="78.4" width="1.0" height="1.0" fill="#e0a000"/>
<rect x="380.9" y="86.7" width="0.9" height="0.9" fill="#60e0e0"/>
<rect x="381.6" y="85.3" width="0.9" height="0.9" fill="#60e0e0"/>
<rect x="381.5" y="84.3" width="0.9" height="0.9" fill="#60e0e0"/>
<rect x="382.1" y="84.2" width="0.9" height="0.9" fill="#60e0e0"/>
<rect x="380.1" y="86.1" width="0.9" height="0.9" fill="#60e0e0"/>
<rect x="382.0" y="84.3" width="0.9" height="0.9" fill="#60e0e0"/>
<path d="M423.5 83.6 L424.1 83.4 L424.8 83.6 L425.1 84.2 L425.0 84.8 L424.7 85.3 L424.1 85.7 L423.3 85.5 L422.9 85.2 L422.9 84.5 L423.3 84.1 L423.8 83.7 L424.4 83.4 L425.0 83.4 L425.8 83.4 L426.3 83.7 L426.8 84.1 L427.1 84.6 L427.1 85.3 L426.9 86.1 L426.5 86.6 L426.4 87.2 L426.5 88.0 L425.6 87.9 L425.3 87.2 L425.4 86.7 L425.2 86.0 L424.8 85.5 L424.2 85.1 L423.4 85.2 L422.9 85.6 L422.6 86.2 L422.4 87.1" fill="none" stroke="#1422d6" stroke-width="0.70" stroke-opacity="0.90" stroke-dasharray="0.9 0.4"/>
<path d="M413.4 83.1 L414.2 83.1 L414.7 83.5 L415.2 84.0 L415.4 84.6 L414.9 85.4 L414.7 86.2 L414.7 87.1 L415.3 87.7 L415.9 87.8 L416.4 87.3 L416.5 86.5 L416.3 85.7 L416.0 85.2 L415.3 85.0 L414.7 85.2 L414.2 85.7 L414.3 86.4 L414.9 86.1 L415.3 85.5 L415.3 84.8 L414.8 84.4 L414.5 83.8 L414.7 83.1 L414.5 82.3 L414.0 82.0 L413.9 81.4 L414.4 80.7" fill="none" stroke="#1422d6" stroke-width="0.70" stroke-opacity="0.90" stroke-dasharray="0.9 0.4"/>
<path d="M421.6 85.3 L421.9 84.6 L421.8 84.0 L421.2 83.5 L420.5 83.1 L419.9 82.9 L419.1 82.8 L418.6 83.0 L418.0 83.3 L417.8 84.0 L417.9 84.7 L418.1 85.2 L418.7 85.9 L419.5 86.3 L420.2 86.5 L421.0 86.5 L421.7 86.4 L422.3 85.9 L422.6 85.1 L422.4 84.4 L422.1 83.7 L421.7 82.9 L420.9 82.6 L420.1 82.7 L419.5 82.9" fill="none" stroke="#1422d6" stroke-width="0.70" stroke-opacity="0.90" stroke-dasharray="0.9 0.4"/>
<path d="M417.0 81.6 L417.1 80.8 L416.8 80.3 L416.2 79.7 L415.6 79.5 L414.8 79.5 L414.2 79.9 L413.7 80.6 L413.9 81.3 L414.5 81.8 L415.2 81.9 L416.0 81.7 L416.4 81.2 L416.6 80.7 L417.4 80.4" fill="none" stroke="#1422d6" stroke-width="0.70" stroke-opacity="0.90" stroke-dasharray="0.9 0.4"/>
<path d="M422.7 83.0 L422.2 83.4 L422.0 84.0 L422.0 84.5 L422.1 85.2 L422.4 85.8 L422.9 86.5 L423.5 86.6 L424.4 86.6 L425.0 86.5 L425.7 86.1 L426.4 85.6 L426.8 84.9 L426.9 84.2 L426.9 83.3 L426.8 82.6 L426.3 81.9 L425.6 81.6 L425.0 81.3 L424.2 81.6 L423.8 82.0 L423.7 82.8 L423.8 83.4 L424.1 83.9 L424.9 84.1" fill="none" stroke="#1422d6" stroke-width="0.70" stroke-opacity="0.90" stroke-dasharray="0.9 0.4"/>
<path d="M421.7 76.9 L421.9 77.7 L421.8 78.3 L421.5 78.8 L421.0 79.3 L420.6 79.7 L420.0 80.1 L419.5 80.5 L418.6 80.7 L417.9 80.7 L417.1 80.6 L416.4 80.0 L415.9 79.3 L416.0 78.5 L416.2 77.8 L416.5 77.2 L417.0 76.5 L417.6 76.0 L418.2 75.4 L418.2 74.8 L418.1 74.0" fill="none" stroke="#1422d6" stroke-width="0.70" stroke-opacity="0.90" stroke-dasharray="0.9 0.4"/>
<path d="M426.3 74.9 L426.9 75.3 L427.7 75.3 L428.4 75.0 L428.9 74.2 L428.4 74.0 L427.6 74.1 L427.3 74.5 L427.1 75.3 L427.3 75.9 L427.8 76.5 L428.6 76.8 L429.1 76.5 L429.6 75.8 L429.8 75.3 L428.9 75.4 L428.6 75.9 L428.4 76.5 L428.5 77.1 L428.2 77.6 L427.6 78.2 L426.9 78.2 L426.3 77.8 L426.0 77.2" fill="none" stroke="#1422d6" stroke-width="0.70" stroke-opacity="0.90" stroke-dasharray="0.9 0.4"/>
<path d="M415.5 81.9 L415.9 81.2 L416.6 80.9 L417.3 80.7 L417.9 80.9 L418.5 81.1 L418.8 81.8 L419.0 82.4 L419.1 83.1 L418.9 83.7 L418.6 84.6 L418.2 85.1 L417.6 85.4 L417.0 85.7 L416.3 85.6 L415.7 85.7 L415.1 85.3 L414.7 84.5 L414.4 83.7 L414.4 83.0 L414.7 82.1 L415.0 81.6 L415.4 81.3 L416.1 81.0 L416.9 81.2 L417.4 81.8 L417.9 82.5 L418.1 83.0 L418.3 83.5" fill="none" stroke="#1422d6" stroke-width="0.70" stroke-opacity="0.90" stroke-dasharray="0.9 0.4"/>
<path d="M425.4 77.3 L425.3 78.0 L425.1 78.7 L424.6 79.3 L424.0 79.8 L423.5 80.1 L422.8 80.4 L422.4 81.0 L421.9 81.7 L421.8 82.4 L422.2 82.9 L422.6 83.5 L423.0 84.2 L423.2 84.8 L423.0 85.5 L422.3 86.1 L421.9 86.5" fill="none" stroke="#1422d6" stroke-width="0.70" stroke-opacity="0.90" stroke-dasharray="0.9 0.4"/>
<path d="M425.8 79.7 L425.1 79.1 L424.4 79.2 L423.9 79.8 L423.6 80.6 L422.8 80.9 L422.1 80.6 L421.7 80.0 L421.5 79.4 L422.1 79.2 L422.7 79.8 L423.4 80.1 L424.2 80.2 L424.8 80.8 L424.9 81.5" fill="none" stroke="#1422d6" stroke-width="0.70" stroke-opacity="0.97" stroke-dasharray="0.9 0.4"/>
<path d="M427.7 84.1 L427.1 83.6 L426.9 82.8 L427.1 82.1 L427.6 81.6 L428.2 81.6 L428.1 82.2 L427.6 82.9 L427.0 83.2 L426.4 83.2 L425.7 82.7 L425.3 82.0 L425.3 81.4 L425.6 80.8 L426.1 80.3 L426.7 80.0 L427.3 79.9 L427.4 80.5 L427.0 81.2 L426.5 81.7 L426.2 82.4" fill="none" stroke="#1422d6" stroke-width="0.70" stroke-opacity="0.97" stroke-dasharray="0.9 0.4"/>
<path d="M425.1 80.0 L425.5 80.5 L426.2 80.8 L426.8 80.8 L427.6 80.8 L428.4 80.5 L428.9 81.2 L429.1 82.0 L428.9 82.8 L428.5 83.4 L427.7 83.5 L426.9 83.6 L426.1 83.3 L425.6 82.8 L425.2 82.2 L425.1 81.5 L425.3 81.0 L425.7 80.5 L426.4 80.4 L427.1 80.5 L427.7 80.9 L428.2 81.5 L428.3 82.1 L428.0 82.7 L427.9 83.4 L428.2 84.2" fill="none" stroke="#1422d6" stroke-width="0.70" stroke-opacity="0.97" stroke-dasharray="0.9 0.4"/>
<path d="M422.1 82.4 L422.7 82.1 L423.4 82.3 L424.1 82.6 L424.5 83.2 L424.3 83.9 L423.7 84.5 L422.9 84.6 L422.1 84.4 L421.6 84.0 L421.5 83.3 L421.4 82.5 L421.5 81.8 L421.9 81.4 L422.5 81.3 L423.0 81.7 L423.1 82.3 L423.7 82.7 L424.3 82.8" fill="none" stroke="#1422d6" stroke-width="0.70" stroke-opacity="0.97" stroke-dasharray="0.9 0.4"/>
<path d="M434.0 86.1 L434.6 85.5 L434.8 85.0 L435.5 84.5 L436.1 84.3 L436.8 84.1 L437.6 84.4 L438.3 84.7 L438.8 85.2 L439.0 86.1 L438.9 86.9 L438.9 87.5 L438.6 88.2 L438.4 88.7 L438.3 89.6 L437.6 89.9 L437.1 89.5 L436.8 88.7 L437.0 87.9 L437.2 87.2 L437.7 86.6 L438.2 86.2 L438.7 85.9 L439.4 85.9 L440.0 85.9 L440.5 86.2 L441.2 86.4 L441.8 86.3 L442.4 86.2 L443.0 85.7 L443.6 85.1 L443.4 84.5 L442.8 84.3" fill="none" stroke="#1422d6" stroke-width="0.70" stroke-opacity="0.90" stroke-dasharray="0.9 0.4"/>
<path d="M431.0 82.9 L431.3 83.5 L431.9 84.0 L432.4 84.3 L433.1 84.5 L433.8 84.5 L434.4 84.6 L435.2 85.0 L435.6 85.4 L436.0 86.0 L436.0 86.8 L435.7 87.3 L435.1 87.8 L434.6 88.2 L433.8 88.3 L433.0 88.0 L432.3 87.6 L431.7 87.0 L431.3 86.2 L431.4 85.6 L431.8 85.2" fill="none" stroke="#1422d6" stroke-width="0.70" stroke-opacity="0.90" stroke-dasharray="0.9 0.4"/>
<path d="M438.2 81.1 L438.6 80.3 L438.4 79.6 L437.8 80.0 L437.6 80.7 L437.9 81.3 L438.5 82.0 L439.0 82.3 L439.6 82.6 L440.3 82.5 L441.0 81.9 L441.2 81.3 L440.8 80.6 L440.2 80.1 L439.5 79.8 L438.7 79.7 L438.1 79.8 L437.3 80.0 L436.7 79.8" fill="none" stroke="#1422d6" stroke-width="0.70" stroke-opacity="0.90" stroke-dasharray="0.9 0.4"/>
<path d="M432.3 85.7 L431.6 85.5 L430.9 85.6 L430.3 86.1 L430.1 86.7 L430.0 87.5 L430.0 88.2 L430.4 88.6 L431.0 88.8 L431.7 88.3 L432.3 87.8 L432.8 87.1 L432.7 86.4 L432.2 86.0 L431.6 85.7 L430.9 85.6 L430.4 86.0 L429.8 86.7 L429.7 87.5 L430.0 88.2 L430.7 88.5 L431.3 88.3 L432.0 87.7 L432.5 87.1 L432.8 86.4 L432.5 85.6 L431.7 85.2 L431.1 85.1 L430.3 85.5" fill="none" stroke="#1422d6" stroke-width="0.70" stroke-opacity="0.90" stroke-dasharray="0.9 0.4"/>
<path d="M431.5 82.1 L430.7 81.8 L430.3 81.2 L430.0 80.6 L430.4 79.9 L430.8 79.5 L431.5 79.0 L432.1 79.0 L432.7 79.2 L433.3 79.6 L433.8 79.9 L434.4 80.3 L434.6 80.9 L434.8 81.8 L434.8 82.3 L435.1 82.9 L435.6 83.6 L436.2 83.9 L436.9 84.0 L437.6 84.0 L438.3 84.5 L438.8 85.1 L438.9 85.7 L438.5 86.5 L437.9 87.1 L437.2 87.5 L436.3 87.6 L435.4 87.5 L434.7 87.2 L434.2 86.8" fill="none" stroke="#1422d6" stroke-width="0.70" stroke-opacity="0.90" stroke-dasharray="0.9 0.4"/>
<path d="M440.8 82.0 L440.3 81.3 L439.7 80.7 L439.1 80.4 L438.6 80.5 L438.0 80.9 L437.5 81.5 L437.0 82.2 L436.7 82.8 L436.0 83.3 L435.2 83.5 L434.7 83.8 L434.1 84.4 L433.9 85.2 L433.8 86.0 L434.2 86.7 L434.7 87.1 L435.4 87.6 L436.2 87.8 L437.0 87.6 L437.5 87.3 L438.1 86.6 L438.6 85.9 L438.9 85.4 L438.9 84.8 L438.7 84.1 L438.2 83.5" fill="none" stroke="#1422d6" stroke-width="0.70" stroke-opacity="0.90" stroke-dasharray="0.9 0.4"/>
<path d="M440.8 88.7 L441.1 88.0 L441.7 87.8 L441.9 88.3 L441.5 88.8 L440.8 88.9 L440.3 88.5 L439.8 88.0 L439.5 87.3 L438.8 87.0 L438.1 87.3 L437.3 87.7 L436.8 88.3 L436.4 88.9 L435.8 89.1 L435.2 89.0 L434.6 89.4 L434.4 90.0 L434.4 90.7 L434.3 91.4 L434.4 92.1" fill="none" stroke="#1422d6" stroke-width="0.90" stroke-opacity="1.00" stroke-dasharray="0.9 0.4"/>
<path d="M442.5 95.8 L442.0 95.4 L441.1 95.1 L440.6 95.3 L440.2 96.0 L440.2 96.7 L440.8 97.3 L441.3 97.4 L441.4 96.8 L441.1 96.1 L440.6 95.8 L439.9 96.0 L439.4 96.6 L439.1 97.2 L439.4 98.0 L439.9 97.8 L439.7 96.9 L439.3 96.4 L439.2 95.6 L439.7 94.9 L440.3 94.4" fill="none" stroke="#1422d6" stroke-width="0.90" stroke-opacity="1.00" stroke-dasharray="0.9 0.4"/>
<path d="M439.5 93.5 L439.2 93.0 L438.9 92.3 L438.4 91.6 L437.7 91.2 L436.9 90.9 L436.1 91.0 L435.5 91.1 L434.9 91.3 L434.2 91.2 L434.0 91.8 L434.1 92.4 L434.5 92.9 L435.1 93.6 L435.3 94.4 L435.0 95.1 L434.7 95.6 L435.1 96.1 L435.9 96.2" fill="none" stroke="#1422d6" stroke-width="0.90" stroke-opacity="1.00" stroke-dasharray="0.9 0.4"/>
<path d="M437.9 93.4 L438.1 94.0 L438.2 94.6 L438.1 95.5 L437.6 96.1 L437.7 96.8 L438.1 97.5 L438.8 97.8 L439.3 97.3 L439.7 96.5 L439.6 95.9 L439.3 95.2 L438.8 94.8 L438.0 94.8 L437.3 94.3 L436.9 93.6 L436.8 92.9 L436.9 92.2 L437.5 91.8 L437.8 91.3 L438.1 90.6 L438.1 89.8 L438.0 89.1 L437.5 88.7 L436.7 88.6 L435.9 88.7 L435.8 89.4 L436.1 90.0 L436.5 90.4" fill="none" stroke="#1422d6" stroke-width="0.90" stroke-opacity="1.00" stroke-dasharray="0.9 0.4"/>
<path d="M441.7 90.5 L442.6 90.7 L443.0 90.3 L443.4 89.8 L442.5 89.7 L441.9 90.0 L441.3 90.5 L441.2 91.1 L441.3 91.7 L442.0 92.3 L442.8 92.4 L443.3 92.7 L443.5 93.2 L443.2 94.0 L442.7 94.5 L442.0 94.8 L441.4 94.9 L440.7 94.9 L440.2 94.5 L439.8 93.9 L439.6 93.1 L439.9 92.6 L440.5 92.2 L441.2 92.2 L442.1 92.0 L442.5 91.5 L442.6 90.8 L442.5 90.1 L442.0 89.3 L441.5 89.1 L441.0 89.3 L440.6 89.9 L440.6 90.6 L440.8 91.2 L441.4 91.6" fill="none" stroke="#1422d6" stroke-width="0.90" stroke-opacity="1.00" stroke-dasharray="0.9 0.4"/>
<path d="M434.4 93.9 L434.3 93.3 L434.4 92.7 L434.9 92.0 L435.2 91.5 L435.9 91.0 L436.5 90.7 L437.4 90.7 L437.9 90.9 L438.3 91.6 L438.2 92.1 L437.7 92.6 L437.5 93.1 L437.4 94.0 L437.6 94.7 L438.1 95.2 L438.6 95.7 L439.2 96.1 L439.7 96.4 L440.4 96.6 L441.2 96.5 L442.0 96.1" fill="none" stroke="#1422d6" stroke-width="0.90" stroke-opacity="1.00" stroke-dasharray="0.9 0.4"/>
<path d="M439.8 89.8 L439.1 89.4 L438.9 88.8 L438.7 88.1 L438.7 87.5 L438.1 87.2 L437.4 87.4 L436.9 87.7 L436.9 88.6 L437.1 89.2 L437.6 89.7 L438.1 89.8 L438.8 89.5 L439.2 88.9 L439.3 88.2 L439.1 87.5" fill="none" stroke="#1422d6" stroke-width="0.90" stroke-opacity="1.00" stroke-dasharray="0.9 0.4"/>
<path d="M440.8 89.0 L440.1 88.9 L439.4 88.9 L438.7 89.5 L438.6 90.1 L439.0 90.8 L439.6 91.2 L440.4 91.1 L441.1 90.7 L441.4 90.3 L442.2 90.0 L442.8 89.8 L443.5 90.0 L443.4 90.6 L443.1 91.3 L442.4 91.7 L441.8 91.6 L441.2 91.0 L440.9 90.1 L440.9 89.4 L440.7 88.7" fill="none" stroke="#1422d6" stroke-width="0.90" stroke-opacity="1.00" stroke-dasharray="0.9 0.4"/>
<path d="M457.9 86.6 L457.7 85.8 L457.5 85.1 L457.2 84.4 L456.8 84.0 L456.1 83.7 L455.4 83.7 L454.5 83.8 L454.0 84.1 L453.6 84.7 L453.4 85.4 L453.6 86.3 L453.7 87.2 L453.7 88.0 L453.4 88.7 L452.9 89.1 L452.2 89.2 L451.6 89.0 L451.2 88.5" fill="none" stroke="#1422d6" stroke-width="0.70" stroke-opacity="0.97" stroke-dasharray="0.9 0.4"/>
<path d="M450.3 81.4 L449.9 80.8 L449.4 80.2 L448.9 80.7 L449.1 81.4 L449.5 82.1 L450.2 82.6 L451.0 82.6 L451.6 82.0 L451.8 81.4 L451.8 80.7 L452.0 80.1 L452.7 79.7 L453.5 79.8 L454.0 80.0 L454.3 80.5 L454.2 81.3 L453.9 81.8 L453.4 82.4 L452.7 82.6 L452.1 82.2 L451.9 81.5 L452.0 80.9 L452.6 80.5 L453.3 80.6 L453.8 81.2 L453.9 81.9 L453.6 82.5 L453.1 82.7 L452.3 82.7 L451.8 82.3 L451.6 81.6" fill="none" stroke="#1422d6" stroke-width="0.70" stroke-opacity="0.97" stroke-dasharray="0.9 0.4"/>
<path d="M452.3 87.9 L451.8 88.2 L451.7 88.7 L451.9 89.3 L452.6 89.6 L453.3 89.6 L453.6 89.1 L453.7 88.5 L453.7 87.8 L453.2 87.3 L452.4 87.1 L451.7 87.2 L451.3 87.7 L451.1 88.3 L451.4 88.9 L452.1 89.3 L453.0 89.2 L453.4 88.6 L453.7 88.1 L454.5 87.8 L454.8 87.1 L454.6 86.5 L454.0 85.9 L453.3 85.6 L452.5 85.9 L452.2 86.5 L452.2 87.0 L452.4 87.7 L453.0 88.2 L453.7 88.3 L454.4 88.2 L454.8 87.7 L454.9 87.1 L454.6 86.5" fill="none" stroke="#1422d6" stroke-width="0.70" stroke-opacity="0.97" stroke-dasharray="0.9 0.4"/>
<path d="M456.6 96.0 L456.9 96.5 L457.6 96.5 L458.2 95.9 L458.4 95.3 L458.7 94.8 L459.0 94.0 L459.3 93.1 L459.4 92.3 L459.3 91.6 L458.8 90.9 L458.2 90.5 L457.8 90.1 L457.2 89.5 L456.7 89.0 L456.2 88.6 L455.7 88.5 L454.9 88.7" fill="none" stroke="#1422d6" stroke-width="0.70" stroke-opacity="0.97" stroke-dasharray="0.9 0.4"/>
<path d="M456.5 90.3 L456.5 91.0 L456.6 91.6 L457.0 92.0 L457.5 92.5 L458.2 92.8 L458.2 91.9 L457.8 91.2 L457.2 90.8 L456.4 90.6 L455.6 90.9 L454.9 91.1 L454.3 91.3 L453.7 91.5 L453.0 91.3 L452.6 90.9 L452.3 90.2 L452.5 89.3 L452.1 88.6 L451.5 88.0 L450.9 87.7 L450.5 87.3 L450.3 86.6 L450.3 86.0 L450.7 85.3 L451.3 85.0" fill="none" stroke="#1422d6" stroke-width="0.70" stroke-opacity="0.97" stroke-dasharray="0.9 0.4"/>
<path d="M455.8 86.7 L456.4 87.2 L456.8 87.6 L457.4 88.3 L457.6 88.9 L457.5 89.7 L457.0 90.5 L456.6 91.1 L456.0 91.3 L455.2 91.2 L454.5 90.7 L454.3 90.2 L454.3 89.4 L454.3 88.7 L454.6 88.1 L455.0 87.6 L455.4 87.0 L456.1 86.8 L456.9 87.1 L457.2 87.6 L457.4 88.3 L457.5 89.1 L457.4 89.8 L457.1 90.6 L456.6 91.3 L455.8 91.5 L455.2 91.5 L454.4 91.1 L453.8 90.5 L453.5 89.9 L453.4 89.0 L453.7 88.4 L454.4 87.9 L454.9 87.6 L455.6 87.4" fill="none" stroke="#1422d6" stroke-width="0.70" stroke-opacity="0.97" stroke-dasharray="0.9 0.4"/>
<path d="M454.7 92.7 L454.7 93.2 L454.9 94.0 L455.1 94.8 L455.5 95.6 L456.0 95.9 L456.5 96.1 L457.2 95.9 L457.3 95.3 L456.9 94.8 L456.2 94.6 L455.5 94.5 L454.7 94.5 L454.0 94.9 L453.6 95.3" fill="none" stroke="#1422d6" stroke-width="0.70" stroke-opacity="0.97" stroke-dasharray="0.9 0.4"/>
<path d="M447.7 83.8 L448.3 84.4 L448.7 85.0 L449.0 85.7 L449.2 86.5 L449.2 87.1 L449.2 87.8 L449.1 88.6 L448.7 89.1 L448.2 89.4 L447.6 89.6 L447.0 89.6 L446.2 89.6 L446.6 89.1 L447.1 88.9 L447.7 88.7 L448.3 88.8 L448.8 89.1 L449.3 89.5 L449.5 90.2 L449.6 91.0" fill="none" stroke="#1422d6" stroke-width="0.70" stroke-opacity="0.97" stroke-dasharray="0.9 0.4"/>
<path d="M457.8 89.7 L457.2 89.2 L456.6 88.7 L455.8 88.6 L455.1 89.0 L454.8 89.5 L454.5 90.0 L454.3 90.8 L454.4 91.4 L454.8 92.2 L455.4 92.7 L456.0 93.4 L456.2 94.3 L456.1 95.0 L456.0 95.6 L455.6 96.1 L454.9 96.5 L454.4 96.9 L453.6 97.3 L453.2 97.8 L452.9 98.3 L452.2 98.6 L451.8 98.2 L451.8 97.4 L452.3 96.8 L452.8 96.4 L453.6 96.1 L454.3 96.1 L455.0 96.6 L455.5 97.0 L455.9 97.6" fill="none" stroke="#1422d6" stroke-width="0.70" stroke-opacity="0.97" stroke-dasharray="0.9 0.4"/>
<path d="M454.9 93.1 L455.0 92.6 L455.2 92.0 L455.7 91.3 L456.0 90.6 L456.1 89.9 L455.8 89.2 L455.1 88.8 L454.3 88.7 L453.6 89.3 L453.1 90.0 L453.1 90.7 L453.6 91.4 L454.3 91.7 L455.1 92.0 L455.7 91.8 L456.4 91.3 L456.6 90.8 L456.4 90.0 L456.2 89.4 L455.7 88.8 L455.1 88.6 L454.4 88.8 L453.7 89.1 L453.1 89.8" fill="none" stroke="#1422d6" stroke-width="0.90" stroke-opacity="1.00" stroke-dasharray="0.9 0.4"/>
<path d="M454.7 93.4 L455.3 93.7 L455.9 93.6 L456.5 93.3 L457.0 93.0 L456.8 92.2 L456.3 91.9 L455.6 91.5 L455.3 90.8 L455.4 90.1 L455.8 89.6 L456.5 89.6 L457.1 89.6 L456.7 90.3 L455.9 90.4 L455.3 90.1 L455.0 89.5 L454.3 89.0 L453.6 88.8 L453.0 88.8 L452.6 89.3 L452.5 89.9 L452.8 90.5 L453.5 91.0 L454.3 91.2" fill="none" stroke="#1422d6" stroke-width="0.90" stroke-opacity="1.00" stroke-dasharray="0.9 0.4"/>
<path d="M455.6 93.1 L455.5 93.8 L455.0 94.2 L454.2 94.0 L453.7 93.7 L453.1 93.2 L452.4 92.8 L452.2 91.9 L451.8 91.5 L451.9 90.7 L451.7 90.0 L452.3 89.7 L453.2 89.7 L454.0 89.5 L454.6 89.2 L455.1 88.7 L455.6 88.1 L455.7 87.4 L455.5 86.7 L455.2 86.1 L454.4 86.4 L453.9 86.7 L453.4 87.1 L452.8 87.6 L452.4 88.0 L452.0 88.4 L451.8 89.2 L451.9 90.0 L452.0 90.6 L452.1 91.3 L452.2 92.0" fill="none" stroke="#1422d6" stroke-width="0.90" stroke-opacity="1.00" stroke-dasharray="0.9 0.4"/>
<path d="M453.6 93.4 L454.3 93.9 L455.1 94.0 L455.8 93.4 L456.2 92.8 L456.7 92.1 L456.8 91.2 L456.7 90.5 L456.4 89.7 L456.6 89.1 L457.0 88.5 L456.9 87.8 L456.5 87.0 L455.9 86.4 L455.2 86.3 L454.5 85.9 L454.0 85.5 L453.1 85.3 L452.6 85.7 L452.0 86.1 L451.4 86.7 L451.3 87.4 L451.2 88.1 L451.0 88.7 L451.2 89.4 L451.5 89.9 L452.1 90.5 L452.3 91.0 L452.1 91.6 L451.7 92.0 L451.9 92.7 L452.6 93.3 L453.2 93.7 L454.0 93.8 L454.6 93.8" fill="none" stroke="#1422d6" stroke-width="0.90" stroke-opacity="1.00" stroke-dasharray="0.9 0.4"/>
<path d="M453.1 86.3 L453.1 86.9 L453.2 87.6 L453.6 88.4 L454.1 89.0 L454.6 89.4 L455.4 89.5 L456.2 89.3 L456.6 88.8 L456.9 88.2 L456.1 88.1 L455.3 88.3 L454.8 88.6 L454.2 89.0 L453.8 89.4 L453.0 89.6 L452.3 89.6 L451.4 89.5 L451.1 89.9" fill="none" stroke="#1422d6" stroke-width="0.90" stroke-opacity="1.00" stroke-dasharray="0.9 0.4"/>
<path d="M415.7 94.2 L415.5 94.9 L415.1 95.6 L415.1 96.1 L415.2 96.8 L415.0 97.5 L414.6 98.1 L413.9 98.6 L413.2 99.0 L413.2 99.6 L413.6 100.0 L414.2 100.4 L414.9 100.6 L415.7 101.0 L416.2 100.8 L416.8 100.3" fill="none" stroke="#1422d6" stroke-width="0.70" stroke-opacity="0.86" stroke-dasharray="0.9 0.4"/>
<path d="M419.8 101.4 L419.0 101.3 L418.3 101.8 L417.6 101.8 L417.0 101.6 L416.6 100.9 L416.1 100.2 L415.3 100.1 L414.8 100.3 L414.2 99.7 L414.7 99.2 L415.3 99.0 L416.2 99.1 L416.9 99.4 L417.5 99.7 L418.3 100.1 L418.9 100.8 L419.5 101.2 L420.2 101.1 L420.8 101.4 L421.3 102.0 L421.8 102.2 L422.4 102.0" fill="none" stroke="#1422d6" stroke-width="0.70" stroke-opacity="0.86" stroke-dasharray="0.9 0.4"/>
<path d="M415.2 99.8 L415.1 99.2 L414.8 98.6 L414.3 98.3 L413.7 97.8 L413.2 97.5 L413.1 96.9 L413.4 96.4 L413.5 95.5 L413.2 94.7 L413.7 94.2 L414.4 93.7 L415.1 93.4 L415.6 93.0 L416.2 92.9 L416.9 92.8 L417.6 92.9 L418.1 93.3 L418.7 93.8 L419.2 94.5 L419.4 95.1 L419.7 95.8 L419.7 96.7 L419.4 97.2 L418.7 97.7 L418.0 97.8 L417.3 97.8" fill="none" stroke="#1422d6" stroke-width="0.70" stroke-opacity="0.86" stroke-dasharray="0.9 0.4"/>
<path d="M418.5 98.3 L418.9 98.9 L419.0 99.6 L418.7 100.2 L418.2 100.9 L417.6 101.3 L416.8 101.1 L416.2 100.9 L415.8 100.2 L415.5 99.4 L415.8 98.8 L416.3 98.2 L417.0 98.1 L417.8 98.3 L418.5 98.8 L418.6 99.4 L418.3 100.0 L417.7 100.2 L417.0 99.9 L416.8 99.2 L416.8 98.4 L417.1 97.8 L417.6 97.5 L418.3 97.4 L419.1 97.4 L419.6 97.6 L420.2 97.9 L420.3 98.6 L420.0 99.4" fill="none" stroke="#1422d6" stroke-width="0.70" stroke-opacity="0.86" stroke-dasharray="0.9 0.4"/>
<path d="M422.1 92.5 L421.4 92.8 L421.1 93.3 L421.0 94.0 L421.1 94.7 L420.9 95.5 L420.3 96.0 L419.6 95.9 L419.1 95.4 L419.1 94.5 L419.4 93.9 L420.0 93.4 L420.9 93.4 L421.6 93.9 L421.9 94.7 L422.0 95.4 L421.9 96.1 L421.4 96.7 L420.8 96.8 L420.3 96.8 L419.7 96.3 L419.5 95.7 L419.8 95.2 L420.3 94.8 L420.9 95.0 L421.3 95.6 L421.5 96.4 L421.1 96.9" fill="none" stroke="#1422d6" stroke-width="0.70" stroke-opacity="0.86" stroke-dasharray="0.9 0.4"/>
<path d="M437.5 104.7 L437.1 104.0 L437.2 103.2 L437.7 102.9 L438.3 102.2 L437.7 101.8 L437.0 101.9 L436.5 102.4 L436.3 103.0 L436.3 103.6 L436.7 104.3 L437.1 104.6 L437.9 104.9 L437.3 105.4 L436.7 105.4 L436.0 105.5 L435.2 105.8" fill="none" stroke="#1422d6" stroke-width="0.70" stroke-opacity="0.86" stroke-dasharray="0.9 0.4"/>
<path d="M429.6 106.4 L428.9 105.9 L428.1 105.7 L427.5 105.6 L426.7 105.4 L426.1 105.2 L425.4 104.9 L425.0 104.4 L424.7 103.9 L424.4 103.3 L424.2 102.7 L423.8 102.1 L423.1 101.9 L423.2 101.0 L423.8 100.6 L424.4 100.5" fill="none" stroke="#1422d6" stroke-width="0.70" stroke-opacity="0.86" stroke-dasharray="0.9 0.4"/>
<path d="M430.2 106.6 L430.7 106.8 L431.4 106.8 L432.1 106.4 L432.6 106.1 L432.9 105.4 L433.2 104.7 L433.3 103.9 L433.1 103.4 L432.9 102.7 L432.2 102.1 L431.4 102.0 L430.8 101.9 L430.1 102.1 L429.3 102.0 L428.8 101.6 L428.4 101.1 L428.2 100.4 L427.8 99.7 L427.3 100.3 L427.1 101.0 L426.8 101.6 L427.0 102.4 L426.9 103.2 L426.6 103.8 L426.2 104.5 L425.8 105.2 L425.4 105.8 L425.0 106.2 L424.3 106.7 L424.4 107.6 L424.9 108.1" fill="none" stroke="#1422d6" stroke-width="0.70" stroke-opacity="0.86" stroke-dasharray="0.9 0.4"/>
<path d="M427.0 107.0 L427.3 107.5 L427.1 108.1 L427.4 108.8 L428.1 109.2 L428.7 109.5 L429.3 109.6 L430.1 109.6 L430.9 109.4 L431.5 108.9 L431.8 108.4 L432.3 108.0 L432.6 107.3 L433.4 107.1 L434.1 107.2" fill="none" stroke="#1422d6" stroke-width="0.70" stroke-opacity="0.86" stroke-dasharray="0.9 0.4"/>
<path d="M422.6 104.7 L422.2 104.1 L422.3 103.4 L422.0 102.9 L422.2 102.1 L422.4 101.5 L422.9 101.1 L423.3 100.7 L423.8 100.3 L424.5 100.2 L425.2 100.1 L425.8 100.0 L426.4 99.7 L427.1 99.3 L427.8 99.1 L428.6 98.9 L429.4 98.7 L429.6 99.6 L429.5 100.3 L428.7 100.7 L428.0 101.0 L427.1 101.2 L426.5 101.1 L425.8 100.7 L425.4 100.1 L426.0 99.8 L426.4 100.4" fill="none" stroke="#1422d6" stroke-width="0.70" stroke-opacity="0.86" stroke-dasharray="0.9 0.4"/>
<path d="M430.2 104.6 L431.0 104.2 L431.4 103.7 L431.8 103.3 L432.5 103.0 L433.3 103.3 L433.7 104.1 L433.5 104.7 L433.3 105.4 L432.7 105.6 L432.1 105.6 L431.5 105.2 L431.1 104.6 L431.1 103.8 L431.6 103.1 L432.1 103.0 L432.8 103.2 L433.5 103.7 L433.8 104.5 L433.8 105.2 L433.9 105.8 L434.2 106.3 L434.7 106.7 L435.4 106.6 L435.8 106.0 L436.5 105.5" fill="none" stroke="#1422d6" stroke-width="0.70" stroke-opacity="0.86" stroke-dasharray="0.9 0.4"/>
<path d="M443.3 101.5 L442.9 101.1 L442.9 100.3 L443.6 100.1 L444.2 99.9 L444.6 99.3 L445.3 99.7 L445.6 100.2 L445.6 101.0 L445.3 101.6 L444.7 102.1 L444.1 102.6 L443.4 103.0 L442.7 103.3 L442.0 103.3 L442.3 102.6 L443.1 102.3 L443.9 102.2 L444.4 102.4 L444.9 103.1 L445.3 103.8 L445.2 104.5 L445.1 105.0 L444.5 105.6 L444.0 106.0 L443.7 105.5 L443.2 105.0" fill="none" stroke="#1422d6" stroke-width="0.70" stroke-opacity="0.86" stroke-dasharray="0.9 0.4"/>
<path d="M449.2 103.2 L448.6 103.1 L447.9 102.6 L447.8 101.7 L448.1 100.9 L448.6 100.5 L449.4 100.6 L450.0 101.1 L450.2 101.8 L450.3 102.5 L450.0 103.3 L449.6 103.9 L448.8 104.1 L448.1 104.0 L447.7 103.7 L447.4 103.2" fill="none" stroke="#1422d6" stroke-width="0.70" stroke-opacity="0.86" stroke-dasharray="0.9 0.4"/>
<path d="M447.7 98.9 L446.9 98.4 L446.0 98.6 L445.4 99.1 L444.6 99.0 L444.7 99.7 L445.1 100.5 L445.8 100.9 L446.4 101.0 L447.2 100.8 L447.7 100.5 L448.1 99.7 L448.2 99.2 L448.0 98.5 L447.5 98.9 L447.0 99.5 L446.8 100.4 L447.0 101.0 L447.7 101.4 L448.0 101.9 L448.2 102.8 L448.3 103.6 L448.1 104.4 L447.8 105.0 L447.4 105.6 L446.8 105.9 L446.2 105.9 L445.5 105.4 L445.2 105.0 L444.8 104.4" fill="none" stroke="#1422d6" stroke-width="0.70" stroke-opacity="0.86" stroke-dasharray="0.9 0.4"/>
<path d="M445.9 106.1 L445.3 105.6 L445.3 104.8 L445.6 104.1 L446.1 103.6 L446.6 103.2 L447.1 103.0 L447.9 103.0 L448.4 102.7 L448.5 102.1 L448.5 101.5 L448.7 100.9 L449.0 100.3 L449.4 99.9 L450.0 99.4 L450.2 100.2 L450.1 100.8 L449.5 101.2 L449.0 101.7 L448.9 102.3 L449.2 102.8 L449.6 103.3 L450.1 103.6 L450.7 103.7 L451.2 103.6 L451.8 103.0 L452.0 102.2 L452.0 101.4 L451.4 101.1" fill="none" stroke="#1422d6" stroke-width="0.70" stroke-opacity="0.86" stroke-dasharray="0.9 0.4"/>
<path d="M428.8 65.5 L428.1 65.4 L427.5 65.4 L426.8 65.2 L426.2 65.8 L426.7 66.4 L427.2 67.0 L427.6 67.5 L428.2 67.8 L428.9 68.0 L429.5 67.7 L430.0 67.5 L430.5 67.5 L431.2 67.7 L431.7 67.9" fill="none" stroke="#1422d6" stroke-width="0.70" stroke-opacity="0.83" stroke-dasharray="0.9 0.4"/>
<path d="M430.4 69.0 L430.0 68.5 L429.9 67.8 L430.1 66.9 L430.6 66.6 L431.4 66.7 L431.9 67.1 L432.1 67.7 L432.6 68.4 L433.2 68.7 L433.9 68.7 L434.5 68.3 L434.7 67.6 L434.6 67.0 L434.0 66.5 L433.3 66.3 L432.6 66.5 L432.1 66.8 L431.9 67.4 L432.1 68.2 L432.6 68.7 L433.3 68.7 L433.9 68.4" fill="none" stroke="#1422d6" stroke-width="0.70" stroke-opacity="0.83" stroke-dasharray="0.9 0.4"/>
<path d="M428.3 67.9 L428.5 67.2 L428.2 66.4 L427.9 65.7 L427.8 65.0 L427.7 64.3 L428.4 64.1 L429.1 64.5 L429.4 65.1 L429.5 65.7 L429.4 66.4 L429.2 67.1 L428.8 67.5 L428.2 68.0 L427.4 68.3 L426.8 68.2 L426.0 67.8 L426.5 67.3 L427.0 67.0 L427.9 66.9 L428.6 67.0 L429.2 67.3 L429.8 67.2 L430.2 66.8 L430.6 66.2 L430.9 65.4 L431.5 65.0 L432.1 65.0 L432.6 65.2 L433.1 65.7 L433.6 66.4 L433.9 66.9 L433.8 67.5 L433.7 68.3 L433.2 69.0" fill="none" stroke="#1422d6" stroke-width="0.70" stroke-opacity="0.83" stroke-dasharray="0.9 0.4"/>
<path d="M461.3 81.2 L460.7 81.3 L460.1 81.5 L459.7 82.1 L459.6 82.7 L459.7 83.6 L459.3 84.2 L458.7 84.7 L457.9 84.9 L457.0 84.7 L456.4 84.2 L456.7 83.6 L457.3 83.2 L457.9 83.2 L458.6 83.7 L459.2 83.8 L459.7 83.4 L459.7 82.8" fill="none" stroke="#1422d6" stroke-width="0.70" stroke-opacity="0.76" stroke-dasharray="0.9 0.4"/>
<path d="M461.8 79.6 L461.3 80.0 L460.7 80.6 L460.5 81.3 L460.7 82.1 L461.2 82.7 L461.9 83.1 L462.7 83.0 L462.6 82.2 L461.8 82.0 L460.9 82.2 L460.3 82.6 L459.9 83.0 L459.1 83.3 L458.5 83.3 L457.7 83.1 L457.1 83.0 L456.6 82.8 L455.8 82.7 L455.3 82.2 L455.0 81.4 L455.3 80.7" fill="none" stroke="#1422d6" stroke-width="0.70" stroke-opacity="0.76" stroke-dasharray="0.9 0.4"/>
<path d="M460.0 88.1 L459.9 87.4 L459.8 86.9 L459.4 86.1 L458.9 85.4 L458.6 84.9 L458.2 84.1 L457.8 83.5 L457.1 83.1 L456.5 83.0 L455.8 82.9 L455.5 82.1 L455.8 81.6 L456.4 81.0 L456.7 80.5 L456.9 79.7 L456.9 78.9 L456.6 78.4 L456.6 77.7 L456.6 76.9 L457.3 76.5 L457.9 76.0 L458.4 75.3 L458.7 74.5 L459.0 73.9 L459.3 73.4" fill="none" stroke="#1422d6" stroke-width="0.70" stroke-opacity="0.76" stroke-dasharray="0.9 0.4"/>
<path d="M450.2 62.8 L451.2 65.3 L452.2 68.3" fill="none" stroke="#1422d6" stroke-width="0.70" stroke-opacity="0.83" stroke-dasharray="0.9 0.4"/>
<path d="M438.0 103.3 L439.2 106.3 L440.7 110.8" fill="none" stroke="#1422d6" stroke-width="0.70" stroke-opacity="0.83" stroke-dasharray="0.9 0.4"/>
<rect x="435.9" y="88.4" width="0.8" height="0.8" fill="#1422d6" fill-opacity="0.75"/>
<rect x="420.6" y="74.3" width="0.8" height="0.8" fill="#1422d6" fill-opacity="0.75"/>
<rect x="457.4" y="92.1" width="0.8" height="0.8" fill="#1422d6" fill-opacity="0.75"/>
<rect x="459.8" y="84.4" width="0.8" height="0.8" fill="#1422d6" fill-opacity="0.75"/>
<rect x="436.9" y="78.9" width="0.8" height="0.8" fill="#1422d6" fill-opacity="0.75"/>
<rect x="432.9" y="93.2" width="0.8" height="0.8" fill="#1422d6" fill-opacity="0.75"/>
<rect x="437.7" y="108.3" width="0.8" height="0.8" fill="#1422d6" fill-opacity="0.75"/>
<rect x="442.1" y="105.9" width="0.8" height="0.8" fill="#1422d6" fill-opacity="0.75"/>
<rect x="439.8" y="93.2" width="0.8" height="0.8" fill="#1422d6" fill-opacity="0.75"/>
<rect x="422.9" y="95.7" width="0.8" height="0.8" fill="#1422d6" fill-opacity="0.75"/>
<rect x="447.9" y="67.5" width="0.8" height="0.8" fill="#1422d6" fill-opacity="0.75"/>
<rect x="423.0" y="92.6" width="0.8" height="0.8" fill="#1422d6" fill-opacity="0.75"/>
<rect x="416.2" y="95.8" width="0.8" height="0.8" fill="#1422d6" fill-opacity="0.75"/>
<rect x="445.7" y="63.9" width="0.8" height="0.8" fill="#1422d6" fill-opacity="0.75"/>
<rect x="424.8" y="72.8" width="0.8" height="0.8" fill="#1422d6" fill-opacity="0.75"/>
<rect x="434.9" y="85.3" width="0.8" height="0.8" fill="#1422d6" fill-opacity="0.75"/>
<rect x="425.0" y="101.3" width="0.8" height="0.8" fill="#1422d6" fill-opacity="0.75"/>
<rect x="446.5" y="107.2" width="0.8" height="0.8" fill="#1422d6" fill-opacity="0.75"/>
<rect x="454.4" y="81.5" width="0.8" height="0.8" fill="#1422d6" fill-opacity="0.75"/>
<rect x="438.5" y="77.2" width="0.8" height="0.8" fill="#1422d6" fill-opacity="0.75"/>
<rect x="449.5" y="90.4" width="0.8" height="0.8" fill="#1422d6" fill-opacity="0.75"/>
<rect x="433.9" y="92.7" width="0.8" height="0.8" fill="#1422d6" fill-opacity="0.75"/>
<rect x="421.9" y="87.4" width="0.8" height="0.8" fill="#1422d6" fill-opacity="0.75"/>
<rect x="448.1" y="89.8" width="0.8" height="0.8" fill="#1422d6" fill-opacity="0.75"/>
<rect x="436.4" y="94.0" width="0.8" height="0.8" fill="#1422d6" fill-opacity="0.75"/>
<rect x="429.0" y="71.7" width="0.8" height="0.8" fill="#1422d6" fill-opacity="0.75"/>
<rect x="447.5" y="67.6" width="0.8" height="0.8" fill="#1422d6" fill-opacity="0.75"/>
<rect x="451.1" y="89.1" width="0.8" height="0.8" fill="#1422d6" fill-opacity="0.75"/>
<rect x="440.2" y="83.4" width="0.8" height="0.8" fill="#1422d6" fill-opacity="0.75"/>
<rect x="414.8" y="90.4" width="0.8" height="0.8" fill="#1422d6" fill-opacity="0.75"/>
<rect x="435.7" y="91.1" width="0.8" height="0.8" fill="#1422d6" fill-opacity="0.75"/>
<rect x="441.1" y="68.1" width="0.8" height="0.8" fill="#1422d6" fill-opacity="0.75"/>
<rect x="434.8" y="67.5" width="0.8" height="0.8" fill="#1422d6" fill-opacity="0.75"/>
<rect x="420.9" y="76.0" width="0.8" height="0.8" fill="#1422d6" fill-opacity="0.75"/>
<rect x="451.7" y="77.9" width="0.8" height="0.8" fill="#1422d6" fill-opacity="0.75"/>
<rect x="446.1" y="103.9" width="0.8" height="0.8" fill="#1422d6" fill-opacity="0.75"/>
<rect x="447.0" y="82.1" width="0.8" height="0.8" fill="#1422d6" fill-opacity="0.75"/>
<rect x="449.7" y="92.2" width="0.8" height="0.8" fill="#1422d6" fill-opacity="0.75"/>
<rect x="438.5" y="97.8" width="0.8" height="0.8" fill="#1422d6" fill-opacity="0.75"/>
<rect x="427.3" y="101.2" width="0.8" height="0.8" fill="#1422d6" fill-opacity="0.75"/>
<rect x="446.5" y="75.3" width="0.8" height="0.8" fill="#1422d6" fill-opacity="0.75"/>
<rect x="458.6" y="74.8" width="0.8" height="0.8" fill="#1422d6" fill-opacity="0.75"/>
<rect x="441.8" y="66.2" width="0.8" height="0.8" fill="#1422d6" fill-opacity="0.75"/>
<rect x="448.0" y="95.3" width="0.8" height="0.8" fill="#1422d6" fill-opacity="0.75"/>
<rect x="422.6" y="86.7" width="0.8" height="0.8" fill="#1422d6" fill-opacity="0.75"/>
<rect x="456.3" y="80.8" width="0.8" height="0.8" fill="#1422d6" fill-opacity="0.75"/>
<rect x="450.3" y="83.1" width="0.8" height="0.8" fill="#1422d6" fill-opacity="0.75"/>
<rect x="447.0" y="71.8" width="0.8" height="0.8" fill="#1422d6" fill-opacity="0.75"/>
<rect x="430.1" y="64.6" width="0.8" height="0.8" fill="#1422d6" fill-opacity="0.75"/>
<rect x="440.1" y="67.6" width="0.8" height="0.8" fill="#1422d6" fill-opacity="0.75"/>
<rect x="434.3" y="106.2" width="0.8" height="0.8" fill="#1422d6" fill-opacity="0.75"/>
<rect x="432.3" y="89.1" width="0.8" height="0.8" fill="#1422d6" fill-opacity="0.75"/>
<rect x="447.5" y="67.6" width="0.8" height="0.8" fill="#1422d6" fill-opacity="0.75"/>
<rect x="421.7" y="93.6" width="0.8" height="0.8" fill="#1422d6" fill-opacity="0.75"/>
<rect x="418.2" y="96.5" width="0.8" height="0.8" fill="#1422d6" fill-opacity="0.75"/>
<rect x="454.1" y="94.4" width="0.8" height="0.8" fill="#1422d6" fill-opacity="0.75"/>
<rect x="422.8" y="98.5" width="0.8" height="0.8" fill="#1422d6" fill-opacity="0.75"/>
<rect x="419.5" y="69.7" width="0.8" height="0.8" fill="#1422d6" fill-opacity="0.75"/>
<rect x="456.8" y="95.8" width="0.8" height="0.8" fill="#1422d6" fill-opacity="0.75"/>
<rect x="416.6" y="83.8" width="0.8" height="0.8" fill="#1422d6" fill-opacity="0.75"/>
<rect x="435.5" y="73.8" width="1.2" height="1.2" fill="#ffb000"/>
<rect x="435.9" y="76.2" width="1.2" height="1.2" fill="#ffb000"/>
<rect x="436.5" y="76.6" width="1.2" height="1.2" fill="#ffb000"/>
<rect x="439.4" y="76.6" width="1.2" height="1.2" fill="#ffb000"/>
<rect x="434.7" y="75.0" width="1.2" height="1.2" fill="#ffb000"/>
<rect x="432.8" y="73.0" width="1.2" height="1.2" fill="#ffb000"/>
<rect x="438.1" y="75.3" width="1.2" height="1.2" fill="#ffb000"/>
<rect x="431.8" y="75.2" width="1.2" height="1.2" fill="#ffb000"/>
<rect x="434.5" y="73.5" width="1.2" height="1.2" fill="#ffb000"/>
<rect x="438.3" y="73.4" width="1.2" height="1.2" fill="#ffb000"/>
<rect x="440.0" y="74.0" width="1.2" height="1.2" fill="#ffb000"/>
<rect x="432.9" y="72.7" width="1.2" height="1.2" fill="#ffb000"/>
<rect x="436.0" y="74.1" width="1.2" height="1.2" fill="#ffb000"/>
<rect x="435.3" y="75.9" width="1.2" height="1.2" fill="#ffb000"/>
<rect x="432.4" y="73.0" width="1.2" height="1.2" fill="#ffb000"/>
<rect x="433.7" y="78.2" width="1.2" height="1.2" fill="#ffb000"/>
<rect x="437.3" y="76.3" width="1.2" height="1.2" fill="#ffb000"/>
<rect x="433.0" y="74.6" width="1.2" height="1.2" fill="#ffb000"/>
<rect x="435.3" y="77.7" width="1.2" height="1.2" fill="#80e020"/>
<rect x="437.2" y="78.6" width="1.2" height="1.2" fill="#80e020"/>
<rect x="440.2" y="77.9" width="1.2" height="1.2" fill="#80e020"/>
<rect x="437.1" y="76.2" width="1.2" height="1.2" fill="#80e020"/>
<rect x="434.0" y="78.1" width="1.2" height="1.2" fill="#80e020"/>
<rect x="434.5" y="74.6" width="1.2" height="1.2" fill="#80e020"/>
<rect x="435.5" y="77.2" width="1.2" height="1.2" fill="#80e020"/>
<rect x="441.4" y="77.1" width="1.2" height="1.2" fill="#80e020"/>
<rect x="438.4" y="79.5" width="1.2" height="1.2" fill="#80e020"/>
<rect x="432.4" y="77.5" width="1.2" height="1.2" fill="#80e020"/>
<rect x="438.4" y="76.1" width="1.2" height="1.2" fill="#80e020"/>
<rect x="439.7" y="78.1" width="1.2" height="1.2" fill="#80e020"/>
<rect x="439.4" y="79.0" width="1.2" height="1.2" fill="#80e020"/>
<rect x="432.6" y="76.2" width="1.2" height="1.2" fill="#80e020"/>
<rect x="436.3" y="74.3" width="1.2" height="1.2" fill="#80e020"/>
<rect x="438.7" y="78.8" width="1.2" height="1.2" fill="#80e020"/>
<rect x="440.7" y="72.5" width="1.2" height="1.2" fill="#40e040"/>
<rect x="441.7" y="73.3" width="1.2" height="1.2" fill="#40e040"/>
<rect x="439.5" y="70.3" width="1.2" height="1.2" fill="#40e040"/>
<rect x="439.2" y="73.6" width="1.2" height="1.2" fill="#40e040"/>
<rect x="438.8" y="72.1" width="1.2" height="1.2" fill="#40e040"/>
<rect x="439.1" y="72.5" width="1.2" height="1.2" fill="#40e040"/>
<rect x="439.6" y="70.3" width="1.2" height="1.2" fill="#40e040"/>
<rect x="439.9" y="71.1" width="1.2" height="1.2" fill="#40e040"/>
<rect x="446.4" y="76.3" width="1.1" height="1.1" fill="#ff4000"/>
<rect x="448.3" y="77.0" width="1.1" height="1.1" fill="#ff4000"/>
<rect x="446.4" y="74.8" width="1.1" height="1.1" fill="#ff4000"/>
<rect x="448.2" y="73.4" width="1.1" height="1.1" fill="#ff4000"/>
<rect x="447.9" y="76.6" width="1.1" height="1.1" fill="#ff4000"/>
<rect x="446.7" y="75.8" width="1.1" height="1.1" fill="#ff4000"/>
<rect x="447.0" y="74.9" width="1.1" height="1.1" fill="#ff4000"/>
<rect x="442.3" y="81.9" width="0.9" height="0.9" fill="#60e0e0"/>
<rect x="446.4" y="83.2" width="0.9" height="0.9" fill="#60e0e0"/>
<rect x="445.5" y="84.4" width="0.9" height="0.9" fill="#60e0e0"/>
<rect x="443.9" y="82.7" width="0.9" height="0.9" fill="#60e0e0"/>
<rect x="444.4" y="79.9" width="0.9" height="0.9" fill="#60e0e0"/>
<rect x="442.3" y="82.8" width="0.9" height="0.9" fill="#60e0e0"/>
<path d="M287.6 140.6 L288.0 141.0 L288.6 141.6 L288.9 142.3 L288.8 142.8 L288.4 143.3 L287.8 144.0 L287.2 144.6 L286.8 145.2 L286.8 145.8 L287.4 146.3 L287.9 146.3 L288.7 146.1 L289.3 145.7 L289.7 145.2 L290.0 144.5 L289.9 143.6 L289.5 143.2 L288.8 143.0 L288.1 143.1 L287.5 143.5 L287.1 143.8 L286.7 144.5 L286.3 145.1 L286.4 145.8 L286.7 146.2 L287.5 146.5 L288.3 146.5" fill="none" stroke="#1422d6" stroke-width="0.70" stroke-opacity="0.90" stroke-dasharray="0.9 0.4"/>
<path d="M286.2 142.4 L286.8 142.5 L287.5 143.0 L288.2 143.6 L288.4 144.3 L288.8 144.7 L289.3 145.2 L289.8 145.4 L290.4 145.5 L290.9 145.2 L291.5 144.9 L291.9 144.4 L292.0 143.5 L291.5 142.8 L291.0 142.3 L290.4 141.9 L289.6 141.7 L288.9 141.8 L288.4 141.6 L287.9 141.3 L287.1 141.2 L286.3 141.6 L285.8 142.2" fill="none" stroke="#1422d6" stroke-width="0.70" stroke-opacity="0.90" stroke-dasharray="0.9 0.4"/>
<path d="M286.6 139.4 L287.1 139.5 L288.0 139.8 L288.4 140.3 L288.6 141.1 L288.6 141.7 L288.6 142.5 L288.4 143.1 L288.0 143.7 L287.3 144.1 L286.6 144.3 L286.0 144.2 L286.3 143.5 L286.6 143.0 L286.7 142.3 L287.1 141.9 L287.7 141.7 L288.3 141.7 L289.0 141.9 L289.6 142.4 L290.4 142.6 L291.2 142.5 L291.8 142.0 L292.4 141.7 L293.1 141.2" fill="none" stroke="#1422d6" stroke-width="0.70" stroke-opacity="0.90" stroke-dasharray="0.9 0.4"/>
<path d="M300.0 144.2 L300.2 143.3 L300.1 142.7 L299.8 142.0 L299.3 141.7 L299.0 141.3 L298.8 140.5 L298.9 139.7 L299.7 139.9 L299.9 140.8 L299.8 141.5 L299.4 142.0 L298.9 142.7 L298.3 143.1 L297.7 143.2 L297.2 143.7 L297.1 144.3 L297.1 145.0 L297.3 145.6 L297.3 146.3 L297.3 147.1 L298.2 147.3 L298.9 147.1 L299.5 146.8 L300.1 146.4 L300.5 145.7 L300.5 145.1 L300.2 144.4 L299.8 143.7 L299.4 143.1 L299.1 142.6" fill="none" stroke="#1422d6" stroke-width="0.90" stroke-opacity="1.00" stroke-dasharray="0.9 0.4"/>
<path d="M297.9 147.2 L297.1 146.9 L296.6 146.3 L296.4 145.6 L296.7 144.9 L297.4 144.4 L298.2 144.0 L298.7 143.7 L299.5 143.6 L300.3 143.4 L300.9 143.6 L301.5 143.8 L302.0 144.4 L302.0 145.2 L302.4 145.8 L302.3 146.4 L301.8 146.9 L301.0 147.0 L300.4 147.0 L299.7 147.1 L299.2 147.6 L298.5 147.7 L297.7 147.2 L297.2 147.3 L296.7 146.9 L296.8 146.1 L297.0 145.4" fill="none" stroke="#1422d6" stroke-width="0.90" stroke-opacity="1.00" stroke-dasharray="0.9 0.4"/>
<path d="M308.6 147.9 L308.1 147.4 L307.4 147.1 L306.8 146.9 L306.0 146.9 L305.5 147.2 L304.8 147.3 L304.1 147.0 L303.5 146.7 L302.8 146.2 L302.5 145.5 L303.3 145.3 L303.9 144.9 L304.3 144.6 L305.0 144.2 L305.9 144.2 L306.6 144.2 L307.3 144.7 L308.0 145.3 L308.1 146.0 L307.8 146.8" fill="none" stroke="#1422d6" stroke-width="0.70" stroke-opacity="1.00" stroke-dasharray="0.9 0.4"/>
<path d="M314.0 151.0 L313.4 150.6 L312.9 150.3 L312.1 149.9 L311.4 149.5 L310.7 149.2 L310.0 149.2 L309.4 149.4 L308.7 149.7 L308.3 150.2 L308.3 150.8 L308.5 151.4 L309.0 152.0 L309.8 152.3 L310.6 152.2 L311.3 152.0 L311.8 151.7 L312.2 151.2 L312.6 150.4" fill="none" stroke="#1422d6" stroke-width="0.70" stroke-opacity="1.00" stroke-dasharray="0.9 0.4"/>
<path d="M306.4 148.9 L305.9 148.2 L305.3 147.8 L304.7 147.8 L304.0 148.1 L303.2 147.8 L302.6 147.4 L302.2 147.0 L302.7 146.6 L303.6 146.5 L304.2 146.7 L304.8 147.0 L305.1 147.6 L305.1 148.4 L305.0 149.1 L304.4 149.4 L303.7 149.4 L303.1 149.0 L302.9 148.2 L303.1 147.5 L303.4 146.9 L304.1 146.6 L304.7 146.7 L305.4 147.3 L305.7 147.9 L305.6 148.6 L305.2 149.3 L304.6 149.7" fill="none" stroke="#1422d6" stroke-width="0.70" stroke-opacity="1.00" stroke-dasharray="0.9 0.4"/>
<path d="M311.4 153.9 L311.0 153.5 L310.5 153.1 L309.6 152.9 L309.1 152.9 L308.4 153.2 L308.5 153.8 L308.8 154.3 L309.4 154.9 L309.8 155.4 L309.9 156.0 L310.1 156.7 L310.3 157.5 L310.3 158.2 L310.8 158.9 L311.3 159.4 L311.9 159.7" fill="none" stroke="#1422d6" stroke-width="0.70" stroke-opacity="0.94" stroke-dasharray="0.9 0.4"/>
<path d="M314.3 154.6 L314.0 155.3 L313.9 156.1 L314.3 156.8 L314.8 157.1 L315.4 157.1 L316.2 156.8 L316.6 156.4 L316.8 155.9 L316.7 155.3 L316.3 154.6 L315.6 154.2 L315.2 153.6 L315.3 153.0 L314.8 152.6 L314.3 152.5 L313.6 152.1 L313.0 151.9 L312.4 151.8 L311.6 152.0" fill="none" stroke="#1422d6" stroke-width="0.70" stroke-opacity="0.94" stroke-dasharray="0.9 0.4"/>
<path d="M329.7 146.2 L329.8 146.9 L329.8 147.5 L330.5 148.1 L331.2 148.3 L331.8 148.3 L332.1 148.9 L332.0 149.5 L331.3 149.6 L330.7 149.8 L330.2 150.1 L330.0 150.6 L330.0 151.3 L330.1 152.1 L330.1 152.9 L329.9 153.7 L329.8 154.4 L329.9 155.0 L330.4 155.6 L330.9 155.8 L331.7 156.0 L332.0 155.3 L331.4 154.7 L330.8 154.5 L329.9 154.5 L329.4 154.6 L328.8 155.2 L328.7 155.9 L328.5 156.5 L328.5 157.3 L328.9 158.1" fill="none" stroke="#1422d6" stroke-width="0.70" stroke-opacity="0.94" stroke-dasharray="0.9 0.4"/>
<path d="M323.4 147.2 L324.2 147.3 L324.9 146.9 L325.2 146.4 L325.1 145.5 L324.6 144.9 L324.1 144.6 L323.6 144.2 L322.9 144.1 L322.4 144.4 L322.1 145.0 L322.0 145.5 L321.9 146.3 L322.3 146.7 L322.9 147.0 L323.7 147.4 L324.3 147.1 L324.6 146.7 L324.7 146.0 L325.2 145.4" fill="none" stroke="#1422d6" stroke-width="0.70" stroke-opacity="0.94" stroke-dasharray="0.9 0.4"/>
<path d="M327.3 151.4 L326.6 151.4 L325.7 151.1 L325.2 151.7 L325.7 152.2 L326.4 152.3 L327.3 152.3 L327.8 152.6 L328.3 152.8 L329.0 153.1 L329.8 153.2 L330.6 153.0 L331.2 152.9 L330.9 152.3 L330.3 151.8 L329.7 151.2 L329.0 150.7 L328.4 150.5 L327.9 150.6 L327.1 150.7 L326.4 150.6 L325.7 151.2 L325.6 151.9 L325.7 152.5 L325.9 153.3 L326.2 153.8 L326.8 154.5 L327.6 154.7 L328.1 155.2 L328.5 155.8 L328.7 156.4 L328.8 157.1 L329.5 157.2" fill="none" stroke="#1422d6" stroke-width="0.90" stroke-opacity="1.00" stroke-dasharray="0.9 0.4"/>
<path d="M326.7 154.2 L326.0 154.3 L325.7 153.7 L325.8 152.9 L326.4 152.7 L327.0 152.8 L327.6 152.7 L328.4 152.2 L328.7 151.5 L328.6 150.9 L329.1 150.2 L329.6 149.5 L329.9 150.4 L329.8 151.2 L329.4 151.9 L328.8 152.5 L328.3 152.9 L327.5 153.0 L326.7 152.6 L326.5 152.0 L326.4 151.2 L326.8 150.8" fill="none" stroke="#1422d6" stroke-width="0.90" stroke-opacity="1.00" stroke-dasharray="0.9 0.4"/>
<path d="M287.6 158.4 L288.2 158.5 L289.0 158.3 L289.7 158.0 L290.4 158.0 L291.3 158.1 L291.8 158.4 L292.5 158.7 L292.8 159.4 L292.8 160.2 L292.6 160.7 L292.1 161.3 L291.3 161.5 L290.7 161.3 L290.2 161.1 L289.6 160.6 L289.3 159.8 L289.3 159.3 L289.7 158.7 L290.4 158.2 L291.0 158.1 L291.7 158.3 L292.4 158.8 L293.2 158.9 L293.9 159.0 L294.4 158.7 L295.1 158.2 L295.6 157.7" fill="none" stroke="#1422d6" stroke-width="0.70" stroke-opacity="0.86" stroke-dasharray="0.9 0.4"/>
<path d="M292.9 158.1 L292.3 158.1 L291.7 157.8 L291.4 157.4 L291.1 156.9 L290.8 156.4 L290.8 155.6 L291.1 154.9 L291.6 154.6 L292.3 154.4 L293.0 154.4 L293.6 154.4 L294.2 154.5 L294.8 154.5 L295.4 154.4 L296.0 154.0 L296.6 153.5 L297.1 153.8 L297.5 154.4 L297.3 155.3 L297.7 156.0 L298.0 156.5" fill="none" stroke="#1422d6" stroke-width="0.70" stroke-opacity="0.86" stroke-dasharray="0.9 0.4"/>
<path d="M295.7 162.5 L294.9 162.2 L294.6 161.5 L293.9 161.3 L293.1 161.4 L293.4 161.9 L294.2 161.7 L294.9 161.3 L295.1 160.8 L295.1 159.9 L294.9 159.3 L295.1 158.5 L295.8 158.1 L296.4 158.0 L297.1 158.2 L297.8 158.4" fill="none" stroke="#1422d6" stroke-width="0.90" stroke-opacity="1.00" stroke-dasharray="0.9 0.4"/>
<path d="M302.7 164.2 L302.8 163.7 L302.8 162.9 L302.0 163.2 L301.7 163.7 L301.7 164.4 L301.9 165.1 L301.6 165.8 L301.1 166.2 L300.5 166.2 L299.6 166.1 L299.0 166.0 L298.5 165.5 L298.4 164.6 L298.7 163.9 L299.4 163.6" fill="none" stroke="#1422d6" stroke-width="0.70" stroke-opacity="0.83" stroke-dasharray="0.9 0.4"/>
<path d="M304.0 169.0 L304.0 169.5 L303.7 170.3 L302.9 170.8 L302.4 170.4 L302.2 169.6 L302.1 168.8 L302.1 168.1 L302.6 167.4 L303.0 166.9 L303.6 166.3 L304.3 166.0 L305.1 166.2 L305.6 167.0 L305.8 167.8 L305.8 168.6 L305.5 169.2 L305.0 169.8 L304.6 170.3 L303.9 170.8 L303.3 171.0" fill="none" stroke="#1422d6" stroke-width="0.70" stroke-opacity="0.83" stroke-dasharray="0.9 0.4"/>
<path d="M331.0 146.9 L331.3 147.7 L331.6 148.3 L332.1 148.8 L332.9 149.1 L333.6 149.2 L334.2 149.4 L334.7 150.1 L334.8 151.0 L334.7 151.6 L334.4 152.1 L333.9 152.5 L333.2 152.6 L332.4 152.3 L332.0 151.6 L331.8 150.9 L331.8 150.1 L331.8 149.4 L332.0 148.8 L332.4 148.1 L332.8 147.6 L333.5 147.3 L334.2 147.4 L334.8 147.5 L335.4 147.6 L336.2 147.9 L336.7 148.4 L336.0 149.0 L335.4 149.5 L334.8 150.2" fill="none" stroke="#1422d6" stroke-width="0.70" stroke-opacity="0.76" stroke-dasharray="0.9 0.4"/>
<path d="M308.5 139.0 L309.0 138.6 L309.3 138.1 L309.0 137.3 L308.7 136.6 L308.1 136.0 L307.4 135.8 L306.7 135.9 L306.1 136.1 L305.7 136.8 L305.5 137.6 L305.6 138.2 L305.3 138.7 L304.7 139.0 L303.9 139.0 L304.3 138.5 L304.9 138.0 L305.1 137.4 L305.8 137.0 L306.5 136.8 L307.2 136.8" fill="none" stroke="#1422d6" stroke-width="0.70" stroke-opacity="0.80" stroke-dasharray="0.9 0.4"/>
<path d="M300.4 129.3 L299.8 129.6 L299.4 130.2 L300.0 130.7 L300.7 130.7 L301.5 130.5 L302.1 130.2 L302.7 129.7 L303.0 128.9 L302.9 128.3 L302.6 127.8 L302.8 127.2 L303.4 127.2 L303.9 127.4 L304.4 127.8 L304.6 128.5" fill="none" stroke="#1422d6" stroke-width="0.70" stroke-opacity="0.73" stroke-dasharray="0.9 0.4"/>
<path d="M324.5 125.5 L325.5 128.0 L326.5 131.0" fill="none" stroke="#1422d6" stroke-width="0.70" stroke-opacity="0.83" stroke-dasharray="0.9 0.4"/>
<path d="M312.3 166.0 L313.5 169.0 L315.0 173.5" fill="none" stroke="#1422d6" stroke-width="0.70" stroke-opacity="0.83" stroke-dasharray="0.9 0.4"/>
<rect x="326.0" y="141.0" width="0.8" height="0.8" fill="#1422d6" fill-opacity="0.75"/>
<rect x="295.0" y="158.1" width="0.8" height="0.8" fill="#1422d6" fill-opacity="0.75"/>
<rect x="324.1" y="150.8" width="0.8" height="0.8" fill="#1422d6" fill-opacity="0.75"/>
<rect x="313.4" y="150.1" width="0.8" height="0.8" fill="#1422d6" fill-opacity="0.75"/>
<rect x="316.2" y="141.6" width="0.8" height="0.8" fill="#1422d6" fill-opacity="0.75"/>
<rect x="289.9" y="144.9" width="0.8" height="0.8" fill="#1422d6" fill-opacity="0.75"/>
<rect x="316.0" y="128.5" width="0.8" height="0.8" fill="#1422d6" fill-opacity="0.75"/>
<rect x="326.2" y="139.4" width="0.8" height="0.8" fill="#1422d6" fill-opacity="0.75"/>
<rect x="299.1" y="168.0" width="0.8" height="0.8" fill="#1422d6" fill-opacity="0.75"/>
<rect x="325.2" y="153.4" width="0.8" height="0.8" fill="#1422d6" fill-opacity="0.75"/>
<rect x="287.9" y="149.2" width="0.8" height="0.8" fill="#1422d6" fill-opacity="0.75"/>
<rect x="305.1" y="167.5" width="0.8" height="0.8" fill="#1422d6" fill-opacity="0.75"/>
<rect x="318.2" y="170.3" width="0.8" height="0.8" fill="#1422d6" fill-opacity="0.75"/>
<rect x="308.5" y="162.8" width="0.8" height="0.8" fill="#1422d6" fill-opacity="0.75"/>
<rect x="323.3" y="130.0" width="0.8" height="0.8" fill="#1422d6" fill-opacity="0.75"/>
<rect x="301.4" y="150.2" width="0.8" height="0.8" fill="#1422d6" fill-opacity="0.75"/>
<rect x="325.0" y="158.9" width="0.8" height="0.8" fill="#1422d6" fill-opacity="0.75"/>
<rect x="320.7" y="138.6" width="0.8" height="0.8" fill="#1422d6" fill-opacity="0.75"/>
<rect x="317.1" y="153.8" width="0.8" height="0.8" fill="#1422d6" fill-opacity="0.75"/>
<rect x="310.3" y="140.5" width="0.8" height="0.8" fill="#1422d6" fill-opacity="0.75"/>
<rect x="309.2" y="157.4" width="0.8" height="0.8" fill="#1422d6" fill-opacity="0.75"/>
<rect x="323.4" y="164.5" width="0.8" height="0.8" fill="#1422d6" fill-opacity="0.75"/>
<rect x="322.0" y="127.3" width="0.8" height="0.8" fill="#1422d6" fill-opacity="0.75"/>
<rect x="320.6" y="130.0" width="0.8" height="0.8" fill="#1422d6" fill-opacity="0.75"/>
<rect x="306.3" y="145.9" width="0.8" height="0.8" fill="#1422d6" fill-opacity="0.75"/>
<rect x="311.4" y="163.8" width="0.8" height="0.8" fill="#1422d6" fill-opacity="0.75"/>
<rect x="298.7" y="154.5" width="0.8" height="0.8" fill="#1422d6" fill-opacity="0.75"/>
<rect x="296.7" y="156.2" width="0.8" height="0.8" fill="#1422d6" fill-opacity="0.75"/>
<rect x="297.8" y="158.1" width="0.8" height="0.8" fill="#1422d6" fill-opacity="0.75"/>
<rect x="296.3" y="133.2" width="0.8" height="0.8" fill="#1422d6" fill-opacity="0.75"/>
<rect x="291.7" y="159.3" width="0.8" height="0.8" fill="#1422d6" fill-opacity="0.75"/>
<rect x="332.7" y="144.7" width="0.8" height="0.8" fill="#1422d6" fill-opacity="0.75"/>
<rect x="307.4" y="145.0" width="0.8" height="0.8" fill="#1422d6" fill-opacity="0.75"/>
<rect x="293.8" y="146.5" width="0.8" height="0.8" fill="#1422d6" fill-opacity="0.75"/>
<rect x="306.6" y="133.0" width="0.8" height="0.8" fill="#1422d6" fill-opacity="0.75"/>
<rect x="308.6" y="168.9" width="0.8" height="0.8" fill="#1422d6" fill-opacity="0.75"/>
<rect x="301.6" y="162.7" width="0.8" height="0.8" fill="#1422d6" fill-opacity="0.75"/>
<rect x="318.3" y="130.5" width="0.8" height="0.8" fill="#1422d6" fill-opacity="0.75"/>
<rect x="316.7" y="169.9" width="0.8" height="0.8" fill="#1422d6" fill-opacity="0.75"/>
<rect x="296.2" y="133.0" width="0.8" height="0.8" fill="#1422d6" fill-opacity="0.75"/>
<rect x="298.8" y="166.9" width="0.8" height="0.8" fill="#1422d6" fill-opacity="0.75"/>
<rect x="296.7" y="167.5" width="0.8" height="0.8" fill="#1422d6" fill-opacity="0.75"/>
<rect x="325.1" y="156.3" width="0.8" height="0.8" fill="#1422d6" fill-opacity="0.75"/>
<rect x="297.6" y="154.5" width="0.8" height="0.8" fill="#1422d6" fill-opacity="0.75"/>
<rect x="330.7" y="138.4" width="0.8" height="0.8" fill="#1422d6" fill-opacity="0.75"/>
<rect x="321.6" y="138.6" width="0.8" height="0.8" fill="#1422d6" fill-opacity="0.75"/>
<rect x="326.8" y="145.5" width="0.8" height="0.8" fill="#1422d6" fill-opacity="0.75"/>
<rect x="323.7" y="168.0" width="0.8" height="0.8" fill="#1422d6" fill-opacity="0.75"/>
<rect x="335.2" y="140.8" width="0.8" height="0.8" fill="#1422d6" fill-opacity="0.75"/>
<rect x="298.3" y="163.5" width="0.8" height="0.8" fill="#1422d6" fill-opacity="0.75"/>
<rect x="308.9" y="136.4" width="0.8" height="0.8" fill="#1422d6" fill-opacity="0.75"/>
<rect x="327.4" y="156.0" width="0.8" height="0.8" fill="#1422d6" fill-opacity="0.75"/>
<rect x="301.5" y="165.2" width="0.8" height="0.8" fill="#1422d6" fill-opacity="0.75"/>
<rect x="311.1" y="165.3" width="0.8" height="0.8" fill="#1422d6" fill-opacity="0.75"/>
<rect x="302.9" y="155.9" width="0.8" height="0.8" fill="#1422d6" fill-opacity="0.75"/>
<rect x="321.9" y="143.7" width="0.8" height="0.8" fill="#1422d6" fill-opacity="0.75"/>
<rect x="305.2" y="160.8" width="0.8" height="0.8" fill="#1422d6" fill-opacity="0.75"/>
<rect x="330.5" y="142.7" width="0.8" height="0.8" fill="#1422d6" fill-opacity="0.75"/>
<rect x="318.6" y="138.4" width="0.8" height="0.8" fill="#1422d6" fill-opacity="0.75"/>
<rect x="316.6" y="171.3" width="0.8" height="0.8" fill="#1422d6" fill-opacity="0.75"/>
<rect x="334.1" y="156.8" width="0.8" height="0.8" fill="#1422d6" fill-opacity="0.75"/>
<rect x="333.1" y="137.5" width="0.8" height="0.8" fill="#1422d6" fill-opacity="0.75"/>
<rect x="293.1" y="142.2" width="0.8" height="0.8" fill="#1422d6" fill-opacity="0.75"/>
<rect x="308.2" y="163.2" width="0.8" height="0.8" fill="#1422d6" fill-opacity="0.75"/>
<rect x="312.4" y="156.0" width="0.8" height="0.8" fill="#1422d6" fill-opacity="0.75"/>
<rect x="306.6" y="155.4" width="0.8" height="0.8" fill="#1422d6" fill-opacity="0.75"/>
<rect x="310.3" y="147.7" width="0.8" height="0.8" fill="#1422d6" fill-opacity="0.75"/>
<rect x="302.0" y="146.1" width="0.8" height="0.8" fill="#1422d6" fill-opacity="0.75"/>
<rect x="289.1" y="148.5" width="0.8" height="0.8" fill="#1422d6" fill-opacity="0.75"/>
<rect x="319.7" y="159.8" width="0.8" height="0.8" fill="#1422d6" fill-opacity="0.75"/>
<rect x="307.5" y="125.4" width="0.8" height="0.8" fill="#1422d6" fill-opacity="0.75"/>
<rect x="297.0" y="133.9" width="0.8" height="0.8" fill="#1422d6" fill-opacity="0.75"/>
<rect x="295.7" y="161.7" width="0.8" height="0.8" fill="#1422d6" fill-opacity="0.75"/>
<rect x="331.7" y="160.4" width="0.8" height="0.8" fill="#1422d6" fill-opacity="0.75"/>
<rect x="293.0" y="141.5" width="0.8" height="0.8" fill="#1422d6" fill-opacity="0.75"/>
<rect x="313.9" y="130.8" width="0.8" height="0.8" fill="#1422d6" fill-opacity="0.75"/>
<rect x="314.7" y="135.7" width="0.8" height="0.8" fill="#1422d6" fill-opacity="0.75"/>
<rect x="314.4" y="133.1" width="0.8" height="0.8" fill="#1422d6" fill-opacity="0.75"/>
<rect x="324.2" y="163.8" width="0.8" height="0.8" fill="#1422d6" fill-opacity="0.75"/>
<rect x="323.4" y="130.1" width="0.8" height="0.8" fill="#1422d6" fill-opacity="0.75"/>
<rect x="295.0" y="134.4" width="0.8" height="0.8" fill="#1422d6" fill-opacity="0.75"/>
<rect x="301.6" y="156.8" width="0.8" height="0.8" fill="#1422d6" fill-opacity="0.75"/>
<rect x="309.4" y="144.7" width="0.8" height="0.8" fill="#1422d6" fill-opacity="0.75"/>
<rect x="310.4" y="153.8" width="0.8" height="0.8" fill="#1422d6" fill-opacity="0.75"/>
<rect x="329.0" y="142.0" width="0.8" height="0.8" fill="#1422d6" fill-opacity="0.75"/>
<rect x="323.7" y="132.5" width="0.8" height="0.8" fill="#1422d6" fill-opacity="0.75"/>
<rect x="316.7" y="131.8" width="0.8" height="0.8" fill="#1422d6" fill-opacity="0.75"/>
<rect x="328.0" y="137.4" width="0.8" height="0.8" fill="#1422d6" fill-opacity="0.75"/>
<rect x="305.1" y="138.8" width="0.8" height="0.8" fill="#1422d6" fill-opacity="0.75"/>
<rect x="300.5" y="156.9" width="0.8" height="0.8" fill="#1422d6" fill-opacity="0.75"/>
<rect x="315.4" y="167.9" width="0.8" height="0.8" fill="#1422d6" fill-opacity="0.75"/>
<rect x="304.6" y="125.7" width="0.8" height="0.8" fill="#1422d6" fill-opacity="0.75"/>
<rect x="317.9" y="156.8" width="0.8" height="0.8" fill="#1422d6" fill-opacity="0.75"/>
<rect x="294.1" y="158.4" width="0.8" height="0.8" fill="#1422d6" fill-opacity="0.75"/>
<rect x="314.2" y="131.7" width="0.8" height="0.8" fill="#1422d6" fill-opacity="0.75"/>
<rect x="301.3" y="144.0" width="0.8" height="0.8" fill="#1422d6" fill-opacity="0.75"/>
<rect x="316.0" y="165.3" width="0.8" height="0.8" fill="#1422d6" fill-opacity="0.75"/>
<rect x="319.0" y="164.2" width="0.8" height="0.8" fill="#1422d6" fill-opacity="0.75"/>
<rect x="301.9" y="134.7" width="0.8" height="0.8" fill="#1422d6" fill-opacity="0.75"/>
<rect x="323.8" y="132.5" width="0.8" height="0.8" fill="#1422d6" fill-opacity="0.75"/>
<rect x="334.2" y="145.0" width="0.8" height="0.8" fill="#1422d6" fill-opacity="0.75"/>
<rect x="334.6" y="147.2" width="0.8" height="0.8" fill="#1422d6" fill-opacity="0.75"/>
<rect x="309.2" y="127.9" width="0.8" height="0.8" fill="#1422d6" fill-opacity="0.75"/>
<rect x="290.8" y="141.1" width="0.8" height="0.8" fill="#1422d6" fill-opacity="0.75"/>
<rect x="326.4" y="147.2" width="0.8" height="0.8" fill="#1422d6" fill-opacity="0.75"/>
<rect x="323.9" y="133.0" width="0.8" height="0.8" fill="#1422d6" fill-opacity="0.75"/>
<rect x="313.4" y="157.2" width="0.8" height="0.8" fill="#1422d6" fill-opacity="0.75"/>
<rect x="312.3" y="171.3" width="0.8" height="0.8" fill="#1422d6" fill-opacity="0.75"/>
<rect x="291.9" y="144.4" width="0.8" height="0.8" fill="#1422d6" fill-opacity="0.75"/>
<rect x="302.8" y="152.1" width="0.8" height="0.8" fill="#1422d6" fill-opacity="0.75"/>
<rect x="324.9" y="159.4" width="0.8" height="0.8" fill="#1422d6" fill-opacity="0.75"/>
<rect x="333.2" y="159.3" width="0.8" height="0.8" fill="#1422d6" fill-opacity="0.75"/>
<rect x="306.5" y="141.9" width="0.8" height="0.8" fill="#1422d6" fill-opacity="0.75"/>
<rect x="293.5" y="139.3" width="0.8" height="0.8" fill="#1422d6" fill-opacity="0.75"/>
<rect x="308.8" y="170.0" width="0.8" height="0.8" fill="#1422d6" fill-opacity="0.75"/>
<rect x="311.3" y="149.4" width="0.8" height="0.8" fill="#1422d6" fill-opacity="0.75"/>
<rect x="299.0" y="159.9" width="0.8" height="0.8" fill="#1422d6" fill-opacity="0.75"/>
<rect x="333.0" y="156.2" width="0.8" height="0.8" fill="#1422d6" fill-opacity="0.75"/>
<rect x="327.8" y="157.8" width="0.8" height="0.8" fill="#1422d6" fill-opacity="0.75"/>
<rect x="304.2" y="152.0" width="0.8" height="0.8" fill="#1422d6" fill-opacity="0.75"/>
<rect x="317.5" y="159.8" width="0.8" height="0.8" fill="#1422d6" fill-opacity="0.75"/>
<rect x="316.3" y="155.5" width="0.8" height="0.8" fill="#1422d6" fill-opacity="0.75"/>
<rect x="328.6" y="148.1" width="0.8" height="0.8" fill="#1422d6" fill-opacity="0.75"/>
<rect x="334.8" y="151.9" width="0.8" height="0.8" fill="#1422d6" fill-opacity="0.75"/>
<rect x="320.9" y="165.5" width="0.8" height="0.8" fill="#1422d6" fill-opacity="0.75"/>
<rect x="292.7" y="142.4" width="0.8" height="0.8" fill="#1422d6" fill-opacity="0.75"/>
<rect x="320.2" y="169.0" width="0.8" height="0.8" fill="#1422d6" fill-opacity="0.75"/>
<rect x="303.3" y="145.7" width="0.8" height="0.8" fill="#1422d6" fill-opacity="0.75"/>
<rect x="318.1" y="154.5" width="0.8" height="0.8" fill="#1422d6" fill-opacity="0.75"/>
<rect x="312.7" y="171.5" width="0.8" height="0.8" fill="#1422d6" fill-opacity="0.75"/>
<rect x="310.5" y="144.1" width="0.8" height="0.8" fill="#1422d6" fill-opacity="0.75"/>
<rect x="295.2" y="154.9" width="0.8" height="0.8" fill="#1422d6" fill-opacity="0.75"/>
<rect x="298.4" y="162.9" width="0.8" height="0.8" fill="#1422d6" fill-opacity="0.75"/>
<rect x="291.2" y="156.1" width="0.8" height="0.8" fill="#1422d6" fill-opacity="0.75"/>
<rect x="312.6" y="170.3" width="0.8" height="0.8" fill="#1422d6" fill-opacity="0.75"/>
<rect x="328.4" y="150.0" width="0.8" height="0.8" fill="#1422d6" fill-opacity="0.75"/>
<rect x="305.8" y="153.5" width="0.8" height="0.8" fill="#1422d6" fill-opacity="0.75"/>
<rect x="301.8" y="152.2" width="0.8" height="0.8" fill="#1422d6" fill-opacity="0.75"/>
<rect x="289.7" y="146.2" width="0.8" height="0.8" fill="#1422d6" fill-opacity="0.75"/>
<rect x="287.8" y="141.8" width="0.8" height="0.8" fill="#1422d6" fill-opacity="0.75"/>
<rect x="333.3" y="150.3" width="0.8" height="0.8" fill="#1422d6" fill-opacity="0.75"/>
<rect x="306.0" y="168.3" width="0.8" height="0.8" fill="#1422d6" fill-opacity="0.75"/>
<rect x="315.7" y="139.7" width="0.8" height="0.8" fill="#1422d6" fill-opacity="0.75"/>
<rect x="301.2" y="138.9" width="0.8" height="0.8" fill="#1422d6" fill-opacity="0.75"/>
<rect x="318.5" y="136.9" width="0.8" height="0.8" fill="#1422d6" fill-opacity="0.75"/>
<rect x="315.6" y="142.3" width="0.8" height="0.8" fill="#1422d6" fill-opacity="0.75"/>
<rect x="315.9" y="129.6" width="0.8" height="0.8" fill="#1422d6" fill-opacity="0.75"/>
<rect x="335.4" y="143.2" width="0.8" height="0.8" fill="#1422d6" fill-opacity="0.75"/>
<rect x="314.1" y="168.4" width="0.8" height="0.8" fill="#1422d6" fill-opacity="0.75"/>
<rect x="324.7" y="138.3" width="0.8" height="0.8" fill="#1422d6" fill-opacity="0.75"/>
<rect x="320.8" y="163.5" width="0.8" height="0.8" fill="#1422d6" fill-opacity="0.75"/>
<rect x="311.4" y="138.9" width="0.8" height="0.8" fill="#1422d6" fill-opacity="0.75"/>
<rect x="310.5" y="126.2" width="0.8" height="0.8" fill="#1422d6" fill-opacity="0.75"/>
<rect x="311.2" y="131.0" width="0.8" height="0.8" fill="#1422d6" fill-opacity="0.75"/>
<rect x="301.2" y="127.3" width="0.8" height="0.8" fill="#1422d6" fill-opacity="0.75"/>
<rect x="302.4" y="154.7" width="0.8" height="0.8" fill="#1422d6" fill-opacity="0.75"/>
<rect x="314.8" y="154.3" width="0.8" height="0.8" fill="#1422d6" fill-opacity="0.75"/>
<rect x="305.0" y="164.8" width="0.8" height="0.8" fill="#1422d6" fill-opacity="0.75"/>
<rect x="297.1" y="160.5" width="0.8" height="0.8" fill="#1422d6" fill-opacity="0.75"/>
<rect x="290.6" y="142.1" width="0.8" height="0.8" fill="#1422d6" fill-opacity="0.75"/>
<rect x="305.0" y="171.6" width="0.8" height="0.8" fill="#1422d6" fill-opacity="0.75"/>
<rect x="319.8" y="126.5" width="0.8" height="0.8" fill="#1422d6" fill-opacity="0.75"/>
<rect x="331.6" y="153.6" width="0.8" height="0.8" fill="#1422d6" fill-opacity="0.75"/>
<rect x="296.6" y="152.9" width="0.8" height="0.8" fill="#1422d6" fill-opacity="0.75"/>
<rect x="309.3" y="140.6" width="0.8" height="0.8" fill="#1422d6" fill-opacity="0.75"/>
<rect x="309.5" y="149.3" width="0.8" height="0.8" fill="#1422d6" fill-opacity="0.75"/>
<rect x="324.8" y="140.1" width="0.8" height="0.8" fill="#1422d6" fill-opacity="0.75"/>
<rect x="286.8" y="147.6" width="0.8" height="0.8" fill="#1422d6" fill-opacity="0.75"/>
<rect x="292.9" y="151.5" width="0.8" height="0.8" fill="#1422d6" fill-opacity="0.75"/>
<rect x="314.3" y="172.2" width="0.8" height="0.8" fill="#1422d6" fill-opacity="0.75"/>
<rect x="307.1" y="125.3" width="0.8" height="0.8" fill="#1422d6" fill-opacity="0.75"/>
<rect x="308.0" y="157.4" width="0.8" height="0.8" fill="#1422d6" fill-opacity="0.75"/>
<rect x="314.9" y="138.2" width="0.8" height="0.8" fill="#1422d6" fill-opacity="0.75"/>
<rect x="302.9" y="129.7" width="0.8" height="0.8" fill="#1422d6" fill-opacity="0.75"/>
<rect x="305.4" y="127.9" width="0.8" height="0.8" fill="#1422d6" fill-opacity="0.75"/>
<rect x="307.3" y="159.5" width="0.8" height="0.8" fill="#1422d6" fill-opacity="0.75"/>
<rect x="324.1" y="168.1" width="0.8" height="0.8" fill="#1422d6" fill-opacity="0.75"/>
<rect x="306.6" y="150.1" width="0.8" height="0.8" fill="#1422d6" fill-opacity="0.75"/>
<rect x="301.3" y="137.1" width="0.8" height="0.8" fill="#1422d6" fill-opacity="0.75"/>
<rect x="330.5" y="145.6" width="0.8" height="0.8" fill="#1422d6" fill-opacity="0.75"/>
<rect x="302.8" y="139.6" width="0.8" height="0.8" fill="#1422d6" fill-opacity="0.75"/>
<rect x="319.0" y="153.1" width="0.8" height="0.8" fill="#1422d6" fill-opacity="0.75"/>
<rect x="317.2" y="153.8" width="0.8" height="0.8" fill="#1422d6" fill-opacity="0.75"/>
<rect x="308.0" y="167.8" width="0.8" height="0.8" fill="#1422d6" fill-opacity="0.75"/>
<rect x="312.7" y="134.6" width="0.8" height="0.8" fill="#1422d6" fill-opacity="0.75"/>
<rect x="308.0" y="141.7" width="0.8" height="0.8" fill="#1422d6" fill-opacity="0.75"/>
<rect x="320.2" y="159.8" width="0.8" height="0.8" fill="#1422d6" fill-opacity="0.75"/>
<rect x="313.4" y="161.3" width="0.8" height="0.8" fill="#1422d6" fill-opacity="0.75"/>
<rect x="313.6" y="151.2" width="0.8" height="0.8" fill="#1422d6" fill-opacity="0.75"/>
<rect x="316.2" y="148.4" width="0.8" height="0.8" fill="#1422d6" fill-opacity="0.75"/>
<rect x="322.6" y="159.8" width="0.8" height="0.8" fill="#1422d6" fill-opacity="0.75"/>
<rect x="308.2" y="129.6" width="0.8" height="0.8" fill="#1422d6" fill-opacity="0.75"/>
<rect x="314.9" y="131.9" width="0.8" height="0.8" fill="#1422d6" fill-opacity="0.75"/>
<rect x="297.0" y="159.5" width="0.8" height="0.8" fill="#1422d6" fill-opacity="0.75"/>
<rect x="325.6" y="154.0" width="0.8" height="0.8" fill="#1422d6" fill-opacity="0.75"/>
<rect x="302.1" y="156.0" width="0.8" height="0.8" fill="#1422d6" fill-opacity="0.75"/>
<rect x="324.9" y="163.9" width="0.8" height="0.8" fill="#1422d6" fill-opacity="0.75"/>
<rect x="316.8" y="153.4" width="0.8" height="0.8" fill="#1422d6" fill-opacity="0.75"/>
<rect x="305.2" y="156.0" width="0.8" height="0.8" fill="#1422d6" fill-opacity="0.75"/>
<rect x="301.9" y="164.9" width="0.8" height="0.8" fill="#1422d6" fill-opacity="0.75"/>
<rect x="313.0" y="143.4" width="0.8" height="0.8" fill="#1422d6" fill-opacity="0.75"/>
<rect x="321.4" y="156.8" width="0.8" height="0.8" fill="#1422d6" fill-opacity="0.75"/>
<rect x="319.0" y="150.3" width="0.8" height="0.8" fill="#1422d6" fill-opacity="0.75"/>
<rect x="326.2" y="141.1" width="0.8" height="0.8" fill="#1422d6" fill-opacity="0.75"/>
<rect x="318.2" y="144.1" width="0.8" height="0.8" fill="#1422d6" fill-opacity="0.75"/>
<rect x="325.2" y="133.3" width="0.8" height="0.8" fill="#1422d6" fill-opacity="0.75"/>
<rect x="316.3" y="136.8" width="0.8" height="0.8" fill="#1422d6" fill-opacity="0.75"/>
<rect x="309.4" y="167.0" width="0.8" height="0.8" fill="#1422d6" fill-opacity="0.75"/>
<rect x="318.0" y="131.1" width="0.8" height="0.8" fill="#1422d6" fill-opacity="0.75"/>
<rect x="309.7" y="167.4" width="0.8" height="0.8" fill="#1422d6" fill-opacity="0.75"/>
<rect x="326.6" y="167.6" width="0.8" height="0.8" fill="#1422d6" fill-opacity="0.75"/>
<rect x="308.1" y="140.3" width="0.8" height="0.8" fill="#1422d6" fill-opacity="0.75"/>
<rect x="312.4" y="143.9" width="0.8" height="0.8" fill="#1422d6" fill-opacity="0.75"/>
<rect x="298.6" y="159.7" width="0.8" height="0.8" fill="#1422d6" fill-opacity="0.75"/>
<rect x="317.3" y="171.3" width="0.8" height="0.8" fill="#1422d6" fill-opacity="0.75"/>
<rect x="320.5" y="145.8" width="0.8" height="0.8" fill="#1422d6" fill-opacity="0.75"/>
<rect x="303.0" y="135.8" width="0.8" height="0.8" fill="#1422d6" fill-opacity="0.75"/>
<rect x="303.1" y="130.4" width="0.8" height="0.8" fill="#1422d6" fill-opacity="0.75"/>
<rect x="324.5" y="143.6" width="0.8" height="0.8" fill="#1422d6" fill-opacity="0.75"/>
<rect x="294.6" y="157.3" width="0.8" height="0.8" fill="#1422d6" fill-opacity="0.75"/>
<rect x="305.1" y="140.3" width="0.8" height="0.8" fill="#1422d6" fill-opacity="0.75"/>
<rect x="307.9" y="151.2" width="0.8" height="0.8" fill="#1422d6" fill-opacity="0.75"/>
<rect x="294.0" y="152.1" width="0.8" height="0.8" fill="#1422d6" fill-opacity="0.75"/>
<rect x="313.6" y="124.8" width="0.8" height="0.8" fill="#1422d6" fill-opacity="0.75"/>
<rect x="310.6" y="142.5" width="0.8" height="0.8" fill="#1422d6" fill-opacity="0.75"/>
<rect x="331.0" y="156.1" width="0.8" height="0.8" fill="#1422d6" fill-opacity="0.75"/>
<rect x="290.5" y="142.3" width="0.8" height="0.8" fill="#1422d6" fill-opacity="0.75"/>
<rect x="312.1" y="134.5" width="0.8" height="0.8" fill="#1422d6" fill-opacity="0.75"/>
<rect x="311.0" y="147.9" width="0.8" height="0.8" fill="#1422d6" fill-opacity="0.75"/>
<rect x="302.7" y="135.3" width="0.8" height="0.8" fill="#1422d6" fill-opacity="0.75"/>
<rect x="312.7" y="165.8" width="0.8" height="0.8" fill="#1422d6" fill-opacity="0.75"/>
<rect x="335.0" y="143.3" width="0.8" height="0.8" fill="#1422d6" fill-opacity="0.75"/>
<rect x="315.8" y="132.2" width="0.8" height="0.8" fill="#1422d6" fill-opacity="0.75"/>
<rect x="321.1" y="154.0" width="0.8" height="0.8" fill="#1422d6" fill-opacity="0.75"/>
<rect x="316.2" y="165.1" width="0.8" height="0.8" fill="#1422d6" fill-opacity="0.75"/>
<rect x="314.1" y="162.3" width="0.8" height="0.8" fill="#1422d6" fill-opacity="0.75"/>
<rect x="297.1" y="136.5" width="0.8" height="0.8" fill="#1422d6" fill-opacity="0.75"/>
<rect x="301.7" y="170.1" width="0.8" height="0.8" fill="#1422d6" fill-opacity="0.75"/>
<rect x="302.8" y="139.8" width="0.8" height="0.8" fill="#1422d6" fill-opacity="0.75"/>
<rect x="310.0" y="168.7" width="0.8" height="0.8" fill="#1422d6" fill-opacity="0.75"/>
<rect x="294.4" y="146.9" width="0.8" height="0.8" fill="#1422d6" fill-opacity="0.75"/>
<rect x="296.0" y="141.4" width="0.8" height="0.8" fill="#1422d6" fill-opacity="0.75"/>
<rect x="318.3" y="141.1" width="0.8" height="0.8" fill="#1422d6" fill-opacity="0.75"/>
<rect x="290.2" y="158.1" width="0.8" height="0.8" fill="#1422d6" fill-opacity="0.75"/>
<rect x="313.4" y="163.7" width="0.8" height="0.8" fill="#1422d6" fill-opacity="0.75"/>
<rect x="331.8" y="144.4" width="0.8" height="0.8" fill="#1422d6" fill-opacity="0.75"/>
<rect x="301.2" y="169.1" width="0.8" height="0.8" fill="#1422d6" fill-opacity="0.75"/>
<rect x="288.5" y="144.3" width="0.8" height="0.8" fill="#1422d6" fill-opacity="0.75"/>
<rect x="307.0" y="136.7" width="0.8" height="0.8" fill="#1422d6" fill-opacity="0.75"/>
<rect x="313.7" y="133.3" width="0.8" height="0.8" fill="#1422d6" fill-opacity="0.75"/>
<rect x="327.2" y="131.7" width="0.8" height="0.8" fill="#1422d6" fill-opacity="0.75"/>
<rect x="302.0" y="130.6" width="0.8" height="0.8" fill="#1422d6" fill-opacity="0.75"/>
<rect x="306.3" y="154.6" width="0.8" height="0.8" fill="#1422d6" fill-opacity="0.75"/>
<rect x="310.6" y="132.4" width="0.8" height="0.8" fill="#1422d6" fill-opacity="0.75"/>
<rect x="322.2" y="142.9" width="0.8" height="0.8" fill="#1422d6" fill-opacity="0.75"/>
<rect x="310.2" y="131.2" width="0.8" height="0.8" fill="#1422d6" fill-opacity="0.75"/>
<rect x="317.4" y="151.4" width="0.8" height="0.8" fill="#1422d6" fill-opacity="0.75"/>
<rect x="316.5" y="163.2" width="0.8" height="0.8" fill="#1422d6" fill-opacity="0.75"/>
<rect x="302.9" y="151.4" width="0.8" height="0.8" fill="#1422d6" fill-opacity="0.75"/>
<rect x="288.5" y="141.9" width="0.8" height="0.8" fill="#1422d6" fill-opacity="0.75"/>
<rect x="314.6" y="136.1" width="1.4" height="1.4" fill="#30e030"/>
<rect x="305.1" y="140.7" width="1.4" height="1.4" fill="#30e030"/>
<rect x="315.8" y="139.2" width="1.4" height="1.4" fill="#30e030"/>
<rect x="307.9" y="135.4" width="1.4" height="1.4" fill="#30e030"/>
<rect x="306.6" y="136.0" width="1.4" height="1.4" fill="#30e030"/>
<rect x="308.7" y="136.1" width="1.4" height="1.4" fill="#30e030"/>
<rect x="309.3" y="139.7" width="1.4" height="1.4" fill="#30e030"/>
<rect x="309.1" y="137.2" width="1.4" height="1.4" fill="#30e030"/>
<rect x="306.5" y="140.3" width="1.4" height="1.4" fill="#30e030"/>
<rect x="315.4" y="135.8" width="1.4" height="1.4" fill="#30e030"/>
<rect x="314.5" y="138.3" width="1.4" height="1.4" fill="#30e030"/>
<rect x="313.2" y="141.3" width="1.4" height="1.4" fill="#30e030"/>
<rect x="314.2" y="137.2" width="1.4" height="1.4" fill="#30e030"/>
<rect x="315.5" y="137.3" width="1.4" height="1.4" fill="#30e030"/>
<rect x="315.5" y="138.4" width="1.4" height="1.4" fill="#30e030"/>
<rect x="305.9" y="137.4" width="1.4" height="1.4" fill="#30e030"/>
<rect x="314.1" y="134.7" width="1.4" height="1.4" fill="#30e030"/>
<rect x="312.4" y="139.4" width="1.4" height="1.4" fill="#30e030"/>
<rect x="312.3" y="135.4" width="1.4" height="1.4" fill="#30e030"/>
<rect x="305.7" y="140.7" width="1.4" height="1.4" fill="#30e030"/>
<rect x="309.5" y="133.4" width="1.4" height="1.4" fill="#30e030"/>
<rect x="306.3" y="134.1" width="1.4" height="1.4" fill="#30e030"/>
<rect x="313.3" y="134.3" width="1.4" height="1.4" fill="#30e030"/>
<rect x="303.7" y="137.4" width="1.4" height="1.4" fill="#30e030"/>
<rect x="311.0" y="142.2" width="1.4" height="1.4" fill="#30e030"/>
<rect x="303.9" y="135.9" width="1.4" height="1.4" fill="#30e030"/>
<rect x="309.3" y="135.2" width="1.4" height="1.4" fill="#30e030"/>
<rect x="304.8" y="135.2" width="1.4" height="1.4" fill="#30e030"/>
<rect x="309.2" y="138.3" width="1.4" height="1.4" fill="#30e030"/>
<rect x="309.5" y="140.0" width="1.4" height="1.4" fill="#30e030"/>
<rect x="304.6" y="137.0" width="1.4" height="1.4" fill="#30e030"/>
<rect x="305.6" y="140.0" width="1.4" height="1.4" fill="#30e030"/>
<rect x="307.4" y="140.5" width="1.4" height="1.4" fill="#30e030"/>
<rect x="307.2" y="138.5" width="1.4" height="1.4" fill="#30e030"/>
<rect x="309.0" y="133.8" width="1.4" height="1.4" fill="#30e030"/>
<rect x="315.5" y="137.3" width="1.4" height="1.4" fill="#30e030"/>
<rect x="311.6" y="138.4" width="1.4" height="1.4" fill="#30e030"/>
<rect x="310.6" y="138.6" width="1.4" height="1.4" fill="#30e030"/>
<rect x="304.9" y="136.7" width="1.4" height="1.4" fill="#30e030"/>
<rect x="306.3" y="141.1" width="1.4" height="1.4" fill="#30e030"/>
<rect x="304.7" y="134.1" width="1.4" height="1.4" fill="#ffd000"/>
<rect x="307.7" y="138.0" width="1.4" height="1.4" fill="#ffd000"/>
<rect x="304.3" y="134.6" width="1.4" height="1.4" fill="#ffd000"/>
<rect x="309.5" y="137.9" width="1.4" height="1.4" fill="#ffd000"/>
<rect x="312.5" y="136.3" width="1.4" height="1.4" fill="#ffd000"/>
<rect x="310.8" y="135.7" width="1.4" height="1.4" fill="#ffd000"/>
<rect x="312.0" y="133.1" width="1.4" height="1.4" fill="#ffd000"/>
<rect x="311.6" y="133.5" width="1.4" height="1.4" fill="#ffd000"/>
<rect x="310.3" y="136.5" width="1.4" height="1.4" fill="#ffd000"/>
<rect x="309.3" y="137.5" width="1.4" height="1.4" fill="#ffd000"/>
<rect x="307.7" y="137.9" width="1.4" height="1.4" fill="#ffd000"/>
<rect x="304.7" y="134.4" width="1.4" height="1.4" fill="#ffd000"/>
<rect x="305.3" y="135.6" width="1.4" height="1.4" fill="#ffd000"/>
<rect x="314.6" y="135.3" width="1.4" height="1.4" fill="#ffd000"/>
<rect x="312.3" y="133.6" width="1.4" height="1.4" fill="#ffd000"/>
<rect x="306.0" y="135.6" width="1.4" height="1.4" fill="#ffd000"/>
<rect x="313.1" y="134.8" width="1.4" height="1.4" fill="#ffd000"/>
<rect x="311.6" y="137.3" width="1.4" height="1.4" fill="#ffd000"/>
<rect x="312.7" y="137.2" width="1.4" height="1.4" fill="#ffd000"/>
<rect x="308.3" y="135.2" width="1.4" height="1.4" fill="#ffd000"/>
<rect x="313.6" y="137.0" width="1.4" height="1.4" fill="#ffd000"/>
<rect x="304.3" y="136.2" width="1.4" height="1.4" fill="#ffd000"/>
<rect x="310.0" y="137.8" width="1.4" height="1.4" fill="#ffd000"/>
<rect x="313.6" y="136.1" width="1.4" height="1.4" fill="#ffd000"/>
<rect x="307.0" y="134.2" width="1.4" height="1.4" fill="#ffd000"/>
<rect x="308.2" y="136.0" width="1.4" height="1.4" fill="#ffd000"/>
<rect x="310.1" y="132.5" width="1.4" height="1.4" fill="#ffd000"/>
<rect x="308.7" y="138.1" width="1.4" height="1.4" fill="#ffd000"/>
<rect x="312.9" y="136.3" width="1.4" height="1.4" fill="#ffd000"/>
<rect x="313.8" y="136.7" width="1.4" height="1.4" fill="#ffd000"/>
<rect x="308.7" y="132.5" width="1.4" height="1.4" fill="#ffd000"/>
<rect x="310.7" y="134.2" width="1.4" height="1.4" fill="#ffd000"/>
<rect x="306.8" y="134.8" width="1.4" height="1.4" fill="#ffd000"/>
<rect x="307.7" y="133.4" width="1.4" height="1.4" fill="#ffd000"/>
<rect x="311.0" y="133.1" width="1.4" height="1.4" fill="#ffd000"/>
<rect x="311.3" y="133.8" width="1.3" height="1.3" fill="#ff6000"/>
<rect x="312.5" y="133.1" width="1.3" height="1.3" fill="#ff6000"/>
<rect x="309.2" y="132.2" width="1.3" height="1.3" fill="#ff6000"/>
<rect x="309.3" y="134.4" width="1.3" height="1.3" fill="#ff6000"/>
<rect x="311.1" y="131.9" width="1.3" height="1.3" fill="#ff6000"/>
<rect x="309.3" y="131.5" width="1.3" height="1.3" fill="#ff6000"/>
<rect x="311.7" y="133.6" width="1.3" height="1.3" fill="#ff6000"/>
<rect x="307.8" y="132.4" width="1.3" height="1.3" fill="#ff6000"/>
<rect x="307.7" y="134.0" width="1.3" height="1.3" fill="#ff6000"/>
<rect x="309.2" y="133.9" width="1.3" height="1.3" fill="#ff6000"/>
<rect x="309.1" y="134.0" width="1.3" height="1.3" fill="#ff6000"/>
<rect x="310.1" y="132.7" width="1.3" height="1.3" fill="#ff6000"/>
<rect x="314.9" y="141.4" width="1.2" height="1.2" fill="#30c0ff"/>
<rect x="310.0" y="142.2" width="1.2" height="1.2" fill="#30c0ff"/>
<rect x="311.8" y="139.0" width="1.2" height="1.2" fill="#30c0ff"/>
<rect x="314.8" y="139.8" width="1.2" height="1.2" fill="#30c0ff"/>
<rect x="314.6" y="141.2" width="1.2" height="1.2" fill="#30c0ff"/>
<rect x="316.2" y="140.0" width="1.2" height="1.2" fill="#30c0ff"/>
<rect x="310.5" y="142.4" width="1.2" height="1.2" fill="#30c0ff"/>
<rect x="311.8" y="140.7" width="1.2" height="1.2" fill="#30c0ff"/>
<rect x="308.5" y="141.1" width="1.2" height="1.2" fill="#30c0ff"/>
<rect x="314.6" y="139.7" width="1.2" height="1.2" fill="#30c0ff"/>
<rect x="311.7" y="141.9" width="1.2" height="1.2" fill="#30c0ff"/>
<rect x="308.2" y="140.6" width="1.2" height="1.2" fill="#30c0ff"/>
<rect x="314.0" y="141.0" width="1.2" height="1.2" fill="#30c0ff"/>
<rect x="312.8" y="141.5" width="1.2" height="1.2" fill="#30c0ff"/>
<rect x="310.2" y="140.4" width="1.2" height="1.2" fill="#30c0ff"/>
<rect x="309.5" y="141.5" width="1.2" height="1.2" fill="#30c0ff"/>
<rect x="312.6" y="141.3" width="1.2" height="1.2" fill="#30c0ff"/>
<rect x="313.3" y="139.4" width="1.2" height="1.2" fill="#30c0ff"/>
<rect x="323.0" y="141.1" width="1.4" height="1.4" fill="#a00000"/>
<rect x="320.1" y="138.6" width="1.4" height="1.4" fill="#a00000"/>
<rect x="322.1" y="138.7" width="1.4" height="1.4" fill="#a00000"/>
<rect x="320.6" y="137.4" width="1.4" height="1.4" fill="#a00000"/>
<rect x="324.1" y="138.3" width="1.4" height="1.4" fill="#a00000"/>
<rect x="320.6" y="139.6" width="1.4" height="1.4" fill="#a00000"/>
<rect x="321.4" y="139.3" width="1.4" height="1.4" fill="#a00000"/>
<rect x="324.7" y="139.1" width="1.4" height="1.4" fill="#a00000"/>
<rect x="322.7" y="140.1" width="1.4" height="1.4" fill="#a00000"/>
<rect x="323.8" y="140.5" width="1.4" height="1.4" fill="#a00000"/>
<rect x="321.4" y="139.6" width="1.4" height="1.4" fill="#a00000"/>
<rect x="321.8" y="138.4" width="1.4" height="1.4" fill="#a00000"/>
<rect x="321.7" y="140.0" width="1.4" height="1.4" fill="#a00000"/>
<rect x="321.3" y="140.0" width="1.4" height="1.4" fill="#a00000"/>
<rect x="320.1" y="141.0" width="1.2" height="1.2" fill="#ff4000"/>
<rect x="320.3" y="140.6" width="1.2" height="1.2" fill="#ff4000"/>
<rect x="320.1" y="140.7" width="1.2" height="1.2" fill="#ff4000"/>
<rect x="318.6" y="140.5" width="1.2" height="1.2" fill="#ff4000"/>
<rect x="318.8" y="140.9" width="1.2" height="1.2" fill="#ff4000"/>
<rect x="321.5" y="141.4" width="1.2" height="1.2" fill="#ff4000"/>
<rect x="318.0" y="151.2" width="1.0" height="1.0" fill="#60e0e0"/>
<rect x="318.0" y="148.5" width="1.0" height="1.0" fill="#60e0e0"/>
<rect x="318.6" y="146.6" width="1.0" height="1.0" fill="#60e0e0"/>
<rect x="319.3" y="146.3" width="1.0" height="1.0" fill="#60e0e0"/>
<rect x="319.3" y="151.2" width="1.0" height="1.0" fill="#60e0e0"/>
<rect x="320.0" y="148.9" width="1.0" height="1.0" fill="#60e0e0"/>
<rect x="318.8" y="146.2" width="1.0" height="1.0" fill="#60e0e0"/>
<rect x="319.5" y="151.7" width="1.0" height="1.0" fill="#60e0e0"/>
<path d="M362.5 142.2 L363.0 142.6 L363.2 143.4 L363.0 144.0 L362.4 144.5 L361.9 144.5 L361.1 144.3 L360.8 143.7 L360.3 143.4 L359.6 143.3 L358.8 143.4 L358.3 143.8 L358.1 144.4 L358.2 145.0 L358.7 145.5 L359.3 145.6 L359.9 145.5" fill="none" stroke="#1422d6" stroke-width="0.70" stroke-opacity="0.90" stroke-dasharray="0.9 0.4"/>
<path d="M356.8 147.0 L357.2 147.5 L357.8 147.8 L358.6 147.7 L359.0 147.1 L359.4 146.5 L359.3 146.0 L358.9 145.4 L358.2 145.1 L357.4 145.3 L356.9 145.6 L356.3 146.0 L356.0 146.5 L356.2 147.1 L357.0 147.6 L357.8 147.6 L358.6 147.4 L359.3 147.6 L359.7 148.0 L359.8 148.7 L359.6 149.5 L359.3 150.0 L358.9 150.6" fill="none" stroke="#1422d6" stroke-width="0.70" stroke-opacity="0.90" stroke-dasharray="0.9 0.4"/>
<path d="M353.5 135.8 L353.2 136.3 L352.8 136.7 L352.2 137.0 L351.6 137.4 L351.1 137.8 L350.5 138.3 L350.1 138.9 L349.9 139.6 L349.9 140.2 L349.9 140.9 L350.0 141.6 L350.4 142.2 L350.8 142.9 L351.5 143.5 L351.8 144.0" fill="none" stroke="#1422d6" stroke-width="0.70" stroke-opacity="0.90" stroke-dasharray="0.9 0.4"/>
<path d="M353.9 145.6 L353.6 146.3 L353.4 147.2 L353.2 148.0 L353.1 148.7 L353.5 149.5 L353.8 150.0 L354.5 150.2 L355.3 150.3 L356.1 150.2 L356.6 149.9 L357.2 149.4 L357.4 148.6 L357.3 148.1 L356.8 147.6 L356.0 147.4 L355.1 147.2 L354.5 147.2 L354.0 147.4 L353.5 147.9 L353.3 148.5 L353.2 149.2 L353.2 150.1 L353.8 150.1 L354.4 150.0 L355.0 149.5 L355.6 148.8 L355.7 148.2 L355.6 147.6 L355.2 146.9" fill="none" stroke="#1422d6" stroke-width="0.70" stroke-opacity="0.90" stroke-dasharray="0.9 0.4"/>
<path d="M358.5 136.5 L358.2 137.1 L357.8 137.4 L356.9 137.8 L356.2 137.8 L355.5 137.7 L355.0 137.2 L354.7 136.6 L354.5 136.1 L354.7 135.3 L354.4 134.6 L354.1 134.0 L353.6 134.6 L353.9 135.3 L354.5 135.8 L355.1 135.9 L355.7 135.7 L356.2 135.3 L356.5 134.5" fill="none" stroke="#1422d6" stroke-width="0.70" stroke-opacity="0.90" stroke-dasharray="0.9 0.4"/>
<path d="M355.8 139.7 L355.4 139.0 L354.8 138.6 L354.0 138.5 L353.4 139.0 L353.1 139.8 L353.0 140.5 L353.2 141.3 L353.7 141.9 L354.4 142.3 L355.0 142.2 L355.7 142.0 L356.0 141.4 L356.1 140.9 L355.7 140.2 L355.2 139.9 L354.5 139.8 L354.0 140.1 L353.7 140.7 L353.8 141.4 L354.4 141.9 L354.8 142.5 L354.8 143.2 L354.3 143.7 L353.8 144.0 L353.2 144.1 L352.3 143.9 L352.0 143.5 L352.0 142.7 L352.1 141.8 L352.5 141.3 L353.2 141.2 L353.8 141.6 L354.1 142.2" fill="none" stroke="#1422d6" stroke-width="0.70" stroke-opacity="0.90" stroke-dasharray="0.9 0.4"/>
<path d="M360.8 145.2 L361.4 145.3 L362.0 145.3 L362.6 145.1 L363.0 144.7 L363.4 144.1 L363.4 143.3 L363.0 142.5 L362.6 141.9 L362.0 141.2 L361.5 140.7 L361.0 140.2 L360.4 140.1 L359.6 140.3 L359.1 140.7 L358.4 140.9 L357.7 141.1 L357.0 141.0 L356.2 140.8 L355.5 140.6 L354.8 140.4 L354.1 140.6 L353.3 140.9 L352.4 141.2 L351.7 141.2 L351.0 140.9 L350.5 140.5 L350.0 140.0" fill="none" stroke="#1422d6" stroke-width="0.70" stroke-opacity="0.90" stroke-dasharray="0.9 0.4"/>
<path d="M354.9 135.6 L354.9 136.4 L354.6 137.0 L353.9 137.5 L353.2 137.5 L352.4 137.3 L351.8 136.8 L351.4 136.1 L351.9 135.6 L352.5 135.3 L353.1 135.1 L353.9 135.2 L354.7 135.4 L355.2 135.7 L355.6 136.2" fill="none" stroke="#1422d6" stroke-width="0.70" stroke-opacity="0.90" stroke-dasharray="0.9 0.4"/>
<path d="M363.9 139.0 L364.6 138.4 L365.2 138.4 L365.9 138.9 L366.1 139.5 L366.6 140.1 L367.1 140.4 L367.7 140.1 L367.1 139.5 L366.3 139.5 L365.4 139.7 L365.1 140.2 L365.1 141.1 L365.6 141.5 L366.4 141.7 L367.2 141.6 L368.0 141.3" fill="none" stroke="#1422d6" stroke-width="0.70" stroke-opacity="0.90" stroke-dasharray="0.9 0.4"/>
<path d="M362.8 147.0 L363.2 146.5 L363.4 145.8 L363.4 145.2 L363.4 144.4 L363.2 143.6 L362.6 143.1 L361.9 142.9 L361.3 143.2 L361.0 143.6 L360.8 144.4 L360.8 145.1 L361.3 145.8 L361.8 146.1 L362.5 146.6 L363.1 146.5 L363.6 146.0 L363.7 145.3 L363.2 144.7 L362.4 144.4 L361.6 144.5 L360.8 144.9 L360.4 145.4 L360.3 146.1 L360.3 146.7 L360.7 147.1 L361.5 147.3 L362.1 147.2" fill="none" stroke="#1422d6" stroke-width="0.70" stroke-opacity="0.97" stroke-dasharray="0.9 0.4"/>
<path d="M362.6 148.0 L362.0 148.7 L361.6 149.4 L361.8 150.1 L362.3 149.4 L362.2 148.8 L361.9 148.3 L361.3 148.0 L361.0 147.5 L361.2 146.7 L360.9 146.1 L360.4 145.5 L359.7 145.2 L358.9 145.3 L358.4 145.7 L358.1 146.4" fill="none" stroke="#1422d6" stroke-width="0.70" stroke-opacity="0.97" stroke-dasharray="0.9 0.4"/>
<path d="M361.4 145.4 L360.9 145.8 L360.1 145.9 L359.6 146.1 L359.1 146.5 L358.2 146.5 L357.6 146.7 L356.9 146.8 L356.7 146.3 L356.6 145.6 L357.0 144.8 L357.7 144.2 L358.0 143.7 L358.2 142.9 L359.0 142.6 L359.9 142.4 L360.6 142.7 L361.4 142.9 L362.0 143.2 L362.8 143.3 L363.4 143.3 L363.9 142.9 L364.3 142.5 L363.4 142.3" fill="none" stroke="#1422d6" stroke-width="0.70" stroke-opacity="0.97" stroke-dasharray="0.9 0.4"/>
<path d="M363.2 144.7 L363.9 144.2 L364.6 144.2 L365.2 144.6 L364.8 145.2 L364.1 145.6 L363.5 145.5 L363.0 145.2 L362.8 144.4 L362.8 143.7 L363.1 142.9 L363.9 142.6 L364.8 142.3 L365.5 142.7 L365.9 143.5 L365.7 144.2 L365.6 144.8 L365.1 145.5 L364.9 146.2 L365.0 146.8" fill="none" stroke="#1422d6" stroke-width="0.70" stroke-opacity="0.97" stroke-dasharray="0.9 0.4"/>
<path d="M372.7 146.9 L372.8 147.7 L372.5 148.3 L372.1 148.8 L371.4 149.4 L371.1 150.1 L370.7 150.8 L370.1 151.2 L369.5 151.3 L368.8 151.2 L368.3 150.9 L367.7 150.2 L367.3 149.5 L366.9 148.7 L366.6 148.0 L366.8 147.1 L367.4 146.5 L368.1 146.3 L368.8 146.1 L369.6 145.9 L370.3 145.8 L370.9 145.8 L371.5 146.0 L372.0 146.1 L372.7 146.6 L373.2 147.3 L373.5 147.8 L373.9 148.4 L373.8 149.0 L373.7 149.7 L373.2 150.4 L372.5 150.9 L371.7 151.0 L370.8 151.0" fill="none" stroke="#1422d6" stroke-width="0.70" stroke-opacity="0.90" stroke-dasharray="0.9 0.4"/>
<path d="M373.4 150.0 L373.5 149.2 L373.4 148.3 L373.1 147.6 L372.7 147.0 L372.1 146.7 L371.5 146.8 L371.0 147.1 L370.8 147.8 L371.0 148.4 L371.5 149.1 L372.3 149.4 L373.1 149.2 L373.8 149.5 L374.5 149.5 L375.1 149.1 L375.3 148.6 L375.3 148.0 L375.2 147.4 L374.9 146.8 L374.3 146.3 L373.5 146.0 L372.8 146.0 L372.1 146.5" fill="none" stroke="#1422d6" stroke-width="0.70" stroke-opacity="0.90" stroke-dasharray="0.9 0.4"/>
<path d="M375.6 147.9 L375.6 147.0 L375.1 146.5 L374.4 145.9 L373.7 146.0 L373.1 146.3 L372.6 146.9 L372.7 147.6 L372.9 148.2 L373.6 148.7 L374.4 148.9 L375.0 148.9 L375.5 148.6 L376.0 148.2 L376.3 147.5 L376.1 146.8 L375.6 146.6 L374.8 146.6 L374.1 146.4" fill="none" stroke="#1422d6" stroke-width="0.70" stroke-opacity="0.90" stroke-dasharray="0.9 0.4"/>
<path d="M377.2 145.9 L377.2 146.6 L377.4 147.2 L378.1 147.9 L378.9 148.1 L379.6 147.8 L380.1 147.5 L380.5 146.9 L380.1 146.4 L379.2 146.2 L378.4 146.3 L377.8 146.0 L377.4 145.5 L377.4 144.6 L377.5 143.9 L378.0 143.2 L377.8 142.6" fill="none" stroke="#1422d6" stroke-width="0.70" stroke-opacity="0.90" stroke-dasharray="0.9 0.4"/>
<path d="M369.2 150.2 L369.8 149.8 L370.1 149.2 L369.9 148.3 L369.2 147.9 L368.6 147.8 L367.8 148.0 L367.1 148.4 L366.5 148.9 L365.9 149.1 L365.0 148.9 L364.6 148.2 L364.7 147.5 L365.2 147.0 L366.0 146.8 L366.6 147.2 L367.0 147.6 L367.8 148.1 L368.6 148.1 L369.3 147.9 L369.7 147.2 L369.7 146.5" fill="none" stroke="#1422d6" stroke-width="0.70" stroke-opacity="0.90" stroke-dasharray="0.9 0.4"/>
<path d="M368.1 149.0 L367.8 148.3 L367.5 147.6 L367.1 146.9 L366.7 146.4 L366.0 146.1 L365.4 145.8 L364.7 145.6 L364.5 144.8 L365.0 144.1 L365.5 143.9 L366.3 143.9 L367.1 143.9 L367.8 143.8 L368.4 143.2 L368.7 142.7 L369.4 142.5 L369.9 142.6 L370.6 142.6 L371.1 142.8 L371.9 142.8 L372.5 142.5 L373.2 142.6 L373.9 142.7 L374.6 142.9 L375.4 142.8 L375.5 143.6 L375.7 144.2 L375.5 144.9 L375.3 145.4 L375.3 146.1 L375.5 146.9 L375.8 147.5 L376.0 148.1 L376.3 148.6" fill="none" stroke="#1422d6" stroke-width="0.70" stroke-opacity="0.90" stroke-dasharray="0.9 0.4"/>
<path d="M376.9 151.6 L376.9 151.0 L376.7 150.3 L376.2 150.8 L376.2 151.4 L376.6 152.1 L376.8 152.7 L376.5 153.5 L375.9 154.1 L375.2 154.5 L374.5 154.5 L373.9 154.1 L373.7 153.4 L373.2 153.1 L372.6 153.0 L371.9 153.2 L371.5 154.0 L371.9 154.5 L372.6 154.6 L373.4 154.3 L373.9 154.0 L374.2 153.5 L374.3 152.7 L373.9 151.9 L373.2 151.7 L372.5 151.6 L372.7 152.4 L373.3 152.9 L373.7 153.3 L374.4 153.3 L374.9 153.0 L375.3 152.3 L375.9 152.1" fill="none" stroke="#1422d6" stroke-width="0.90" stroke-opacity="1.00" stroke-dasharray="0.9 0.4"/>
<path d="M379.0 153.8 L378.4 154.4 L377.8 154.7 L377.0 154.9 L376.3 154.7 L375.6 154.5 L374.8 154.1 L374.2 154.3 L373.4 154.5 L372.7 154.9 L372.2 155.3 L371.3 155.2 L370.5 154.9 L371.0 154.3 L371.7 154.4 L372.5 154.7 L373.1 155.2 L373.8 155.6 L374.7 155.9 L375.4 155.8 L376.2 155.6 L376.7 155.1 L377.2 154.5" fill="none" stroke="#1422d6" stroke-width="0.90" stroke-opacity="1.00" stroke-dasharray="0.9 0.4"/>
<path d="M376.7 150.6 L377.5 150.9 L378.2 151.1 L379.1 151.2 L379.8 151.6 L380.1 152.2 L380.4 152.9 L380.8 153.6 L381.4 153.8 L381.9 154.2 L381.9 155.0 L381.4 155.8 L381.1 156.4 L380.7 157.1 L380.2 157.5" fill="none" stroke="#1422d6" stroke-width="0.90" stroke-opacity="1.00" stroke-dasharray="0.9 0.4"/>
<path d="M372.1 156.0 L371.7 155.5 L371.5 154.8 L371.3 154.0 L372.1 153.6 L372.7 153.5 L373.3 153.6 L374.0 153.9 L374.5 154.6 L374.7 155.2 L374.8 156.0 L374.8 156.7 L375.3 157.4 L375.9 157.8 L376.4 158.0 L377.2 158.2 L378.0 158.0 L378.7 157.6 L379.3 157.1 L379.6 156.4 L379.6 155.5" fill="none" stroke="#1422d6" stroke-width="0.90" stroke-opacity="1.00" stroke-dasharray="0.9 0.4"/>
<path d="M378.7 158.5 L377.8 158.6 L377.0 158.8 L376.6 159.3 L376.1 160.0 L376.0 160.8 L375.2 161.1 L374.5 160.9 L374.0 160.4 L373.6 159.7 L373.4 158.9 L373.1 158.2 L372.5 157.8 L371.9 157.5 L371.1 157.1 L370.7 156.5 L370.6 156.0 L370.8 155.5 L371.2 155.0 L371.7 154.4 L372.1 153.7" fill="none" stroke="#1422d6" stroke-width="0.90" stroke-opacity="1.00" stroke-dasharray="0.9 0.4"/>
<path d="M379.3 152.7 L378.6 152.8 L378.0 152.8 L377.1 152.8 L376.4 153.0 L375.7 153.3 L375.1 153.9 L374.6 154.6 L374.3 155.4 L374.5 156.0 L374.9 156.7 L375.2 157.2 L375.8 157.5 L376.5 157.4 L377.3 157.0" fill="none" stroke="#1422d6" stroke-width="0.90" stroke-opacity="1.00" stroke-dasharray="0.9 0.4"/>
<path d="M376.8 153.6 L377.5 153.6 L378.0 153.9 L378.2 154.5 L378.1 155.2 L377.6 155.7 L376.8 155.8 L376.2 155.4 L375.9 154.8 L375.9 154.0 L376.2 153.3 L376.8 152.8 L377.5 152.6 L378.2 152.9 L378.7 152.9 L379.4 152.4 L379.5 151.9 L379.7 151.2 L379.1 151.3 L378.8 151.9" fill="none" stroke="#1422d6" stroke-width="0.90" stroke-opacity="1.00" stroke-dasharray="0.9 0.4"/>
<path d="M374.8 160.0 L374.2 160.6 L373.5 160.3 L372.9 159.7 L372.6 159.1 L372.5 158.4 L372.2 157.6 L371.5 157.2 L371.9 156.5 L372.5 156.3 L373.1 156.2 L373.9 156.3 L374.5 156.7 L374.8 157.4 L374.9 158.0 L374.7 158.6 L374.2 159.0 L373.4 159.0 L372.7 158.9 L372.3 158.4 L371.6 157.9 L371.2 157.4 L371.9 156.9 L372.6 156.9 L373.1 157.3 L373.4 158.1 L373.4 158.9 L373.2 159.7 L373.7 160.1 L374.5 160.4 L375.4 160.3 L376.1 160.7 L376.7 160.5 L377.3 160.2 L378.0 160.1" fill="none" stroke="#1422d6" stroke-width="0.90" stroke-opacity="1.00" stroke-dasharray="0.9 0.4"/>
<path d="M391.7 154.5 L392.1 155.0 L392.4 155.6 L392.2 156.2 L391.5 156.8 L390.9 156.8 L390.4 156.4 L389.9 155.7 L390.1 154.8 L390.7 154.3 L391.3 154.1 L392.2 154.2 L392.7 154.6 L392.8 155.3 L392.6 156.1 L391.9 156.6 L391.0 156.8 L390.5 156.5 L390.0 156.0 L390.0 155.3 L390.3 154.6 L390.8 154.3 L391.5 154.2 L392.1 154.4 L392.9 154.8 L393.2 155.3 L393.2 156.0" fill="none" stroke="#1422d6" stroke-width="0.70" stroke-opacity="0.97" stroke-dasharray="0.9 0.4"/>
<path d="M388.2 149.5 L388.3 150.4 L388.1 151.1 L387.8 151.8 L387.4 152.2 L386.7 152.6 L385.9 152.8 L385.2 153.2 L384.7 153.9 L384.4 154.4 L384.5 155.2 L384.5 155.9 L384.6 156.4 L385.2 156.3 L385.8 155.8 L386.3 155.3 L386.6 154.6 L386.5 153.7 L386.2 153.2 L385.7 153.0 L384.9 152.6 L384.1 152.4 L383.3 152.4 L383.2 151.6 L383.3 150.8 L384.2 150.6 L384.8 150.5" fill="none" stroke="#1422d6" stroke-width="0.70" stroke-opacity="0.97" stroke-dasharray="0.9 0.4"/>
<path d="M389.5 142.3 L390.2 142.4 L390.8 142.2 L391.5 141.8 L392.2 141.9 L392.5 142.3 L393.0 142.9 L393.4 143.6 L393.6 144.2 L393.9 145.0 L394.7 145.4 L395.3 145.9 L395.8 146.5 L396.1 147.2 L396.2 147.8 L396.3 148.5 L396.1 149.3 L396.1 150.1 L395.8 150.6 L395.1 151.2 L394.9 151.7 L394.9 152.2" fill="none" stroke="#1422d6" stroke-width="0.70" stroke-opacity="0.97" stroke-dasharray="0.9 0.4"/>
<path d="M387.5 149.3 L386.9 149.2 L386.1 149.1 L385.5 148.9 L385.2 148.2 L384.9 147.5 L385.0 146.8 L385.7 146.2 L386.3 145.6 L387.1 145.4 L387.8 145.7 L388.2 146.1 L388.9 146.7 L389.3 147.2 L389.4 148.1 L389.1 148.6 L388.5 149.0 L387.8 149.2 L387.1 148.9 L386.7 148.3 L386.2 147.6 L386.3 146.9 L386.7 146.2 L387.1 145.8 L387.9 145.6" fill="none" stroke="#1422d6" stroke-width="0.70" stroke-opacity="0.97" stroke-dasharray="0.9 0.4"/>
<path d="M392.3 144.5 L391.7 145.0 L390.8 145.1 L390.2 145.0 L389.5 144.5 L389.3 143.8 L389.4 142.9 L389.9 142.5 L390.6 142.1 L391.2 142.1 L391.3 142.7 L391.1 143.3 L390.6 143.9 L390.0 144.1 L389.2 143.7 L388.6 143.3 L388.4 142.7 L388.3 142.1 L388.9 141.8 L389.5 142.0 L390.0 142.1 L390.7 142.0 L391.3 142.4 L392.0 142.7 L392.8 143.0 L393.2 143.7 L393.7 144.4 L394.4 144.8 L394.1 145.5 L393.5 145.8 L392.8 145.6 L392.5 145.2 L392.1 144.5 L392.1 144.0" fill="none" stroke="#1422d6" stroke-width="0.70" stroke-opacity="0.97" stroke-dasharray="0.9 0.4"/>
<path d="M391.4 155.0 L390.8 155.1 L390.3 155.5 L390.1 156.3 L390.2 157.0 L390.6 157.5 L391.3 157.8 L392.0 157.7 L392.8 157.5 L393.2 157.0 L393.5 156.5 L393.4 155.6 L393.1 155.1 L392.4 154.6 L391.6 154.4 L390.7 154.5 L390.2 154.9 L390.0 155.4 L390.1 156.1 L390.0 156.8 L389.8 157.3 L389.5 157.9 L389.4 158.6 L389.7 159.2 L390.1 159.7 L390.7 160.3 L391.5 160.4 L392.1 160.4" fill="none" stroke="#1422d6" stroke-width="0.70" stroke-opacity="0.97" stroke-dasharray="0.9 0.4"/>
<path d="M395.2 154.6 L394.7 153.9 L394.1 153.8 L393.6 154.0 L393.3 154.7 L393.1 155.3 L393.0 155.9 L393.2 156.6 L393.6 156.9 L394.2 157.0 L394.8 156.9 L395.0 156.3 L395.1 155.6 L395.7 155.1 L395.7 154.5 L395.7 153.7 L395.4 153.2 L395.3 152.6 L395.7 152.0 L396.4 151.8 L396.7 151.2 L396.9 150.6 L396.7 149.8 L396.2 149.2 L395.6 148.6 L395.1 148.2" fill="none" stroke="#1422d6" stroke-width="0.70" stroke-opacity="0.97" stroke-dasharray="0.9 0.4"/>
<path d="M391.9 152.5 L391.4 153.2 L390.7 153.7 L390.0 154.0 L389.4 154.1 L388.9 154.5 L388.7 155.1 L388.4 155.8 L387.8 156.3 L387.1 156.7 L386.4 156.7 L385.8 156.4 L385.5 156.0 L385.2 155.4 L385.0 154.8 L385.0 154.3 L385.5 153.7 L386.2 153.3 L386.6 152.8 L386.9 152.0 L386.9 151.3 L386.6 150.7 L386.2 150.0 L385.9 149.1 L385.7 148.4 L385.8 147.8 L386.1 147.0 L386.5 146.4 L387.0 145.9 L387.6 145.5 L387.9 145.1 L388.1 144.5" fill="none" stroke="#1422d6" stroke-width="0.70" stroke-opacity="0.97" stroke-dasharray="0.9 0.4"/>
<path d="M394.2 157.3 L393.9 156.6 L393.5 156.1 L393.1 155.8 L392.4 155.6 L391.8 155.9 L391.4 156.4 L391.3 157.2 L391.8 157.6 L392.6 157.6 L393.2 157.3 L393.5 156.8 L393.5 156.1 L393.8 155.6 L394.4 155.2 L394.8 154.7 L394.6 153.8 L394.1 153.2 L393.5 152.9 L392.7 152.7 L392.1 153.0 L391.5 153.1 L390.9 153.0" fill="none" stroke="#1422d6" stroke-width="0.70" stroke-opacity="0.97" stroke-dasharray="0.9 0.4"/>
<path d="M391.9 150.4 L391.3 150.7 L391.0 151.4 L391.2 152.3 L391.7 152.8 L392.5 153.3 L393.3 153.3 L394.1 153.0 L394.0 152.4 L393.3 152.3 L392.6 152.0 L392.0 151.4 L391.8 150.9 L392.0 150.3 L392.0 149.6 L391.6 148.8 L391.1 148.5 L390.6 148.8 L390.1 149.1 L389.6 149.6 L389.9 150.4 L390.4 150.8 L391.0 150.9 L391.7 150.5 L392.1 149.8 L392.2 148.9 L392.0 148.1 L391.5 148.4 L391.4 149.1" fill="none" stroke="#1422d6" stroke-width="0.90" stroke-opacity="1.00" stroke-dasharray="0.9 0.4"/>
<path d="M392.4 154.1 L393.0 154.1 L393.8 154.2 L393.5 153.3 L393.4 152.5 L393.4 151.6 L393.5 150.8 L393.2 149.9 L392.4 150.1 L391.9 150.4 L391.5 151.1 L391.4 151.6 L391.6 152.3 L392.1 152.9 L392.9 153.2 L393.7 153.3 L394.5 153.4 L394.5 152.6 L393.9 152.3 L393.2 152.6 L392.6 152.8 L392.0 153.1 L391.3 153.4 L390.9 153.9 L390.3 154.6 L390.1 155.2 L389.9 156.0 L390.6 156.1 L391.3 156.4 L391.9 156.9 L392.7 156.9" fill="none" stroke="#1422d6" stroke-width="0.90" stroke-opacity="1.00" stroke-dasharray="0.9 0.4"/>
<path d="M391.6 154.3 L390.8 154.0 L390.2 153.7 L389.3 153.4 L388.7 153.2 L388.3 152.7 L388.1 152.0 L388.5 151.5 L389.0 151.1 L389.2 150.3 L389.2 149.5 L389.5 149.0 L390.1 149.1 L390.6 149.5 L391.1 150.1 L391.3 150.9 L391.8 151.4 L392.3 151.7 L393.0 151.6 L393.6 151.5 L394.2 151.1 L393.8 150.7 L393.0 150.7 L392.3 150.8 L391.7 151.0 L391.1 151.5 L390.4 152.1 L390.0 152.8 L389.7 153.6 L389.7 154.2 L389.9 154.7 L390.3 155.1 L390.9 155.6" fill="none" stroke="#1422d6" stroke-width="0.90" stroke-opacity="1.00" stroke-dasharray="0.9 0.4"/>
<path d="M392.8 155.6 L392.7 156.2 L392.0 156.5 L391.1 156.4 L390.5 156.3 L390.0 156.0 L389.4 155.3 L389.3 154.8 L389.3 154.0 L389.3 153.5 L388.8 152.9 L388.8 152.0 L389.1 151.4 L389.4 150.7 L389.6 149.9 L389.4 149.2 L390.0 148.8 L390.6 148.9 L391.3 148.6 L391.9 148.3 L392.4 148.4 L392.9 149.1 L393.3 149.5" fill="none" stroke="#1422d6" stroke-width="0.90" stroke-opacity="1.00" stroke-dasharray="0.9 0.4"/>
<path d="M392.0 155.8 L392.9 155.8 L393.4 155.4 L393.9 154.9 L394.0 154.3 L394.2 153.7 L393.9 152.9 L393.4 152.3 L393.1 151.6 L393.0 151.0 L393.3 150.3 L393.9 149.6 L394.2 150.4 L393.7 150.8 L393.0 151.0 L392.4 150.9 L391.9 150.6 L391.7 150.0 L391.9 149.4 L392.4 149.1 L393.2 148.9 L393.3 149.6" fill="none" stroke="#1422d6" stroke-width="0.90" stroke-opacity="1.00" stroke-dasharray="0.9 0.4"/>
<path d="M357.2 161.6 L356.7 161.1 L356.3 160.4 L355.8 159.8 L355.9 158.9 L356.3 158.2 L356.3 157.4 L356.3 156.8 L355.8 156.2 L355.2 156.0 L354.5 156.2 L353.9 156.6 L353.6 157.2 L353.6 157.8 L353.9 158.6 L354.2 159.3 L354.7 160.0 L355.5 160.2 L356.3 160.5 L357.0 160.4 L357.8 160.2 L358.3 159.9 L358.8 159.2" fill="none" stroke="#1422d6" stroke-width="0.70" stroke-opacity="0.86" stroke-dasharray="0.9 0.4"/>
<path d="M355.0 159.6 L355.4 159.1 L356.2 158.7 L356.9 158.5 L357.7 158.4 L358.2 158.5 L358.7 158.9 L359.0 159.5 L358.8 160.2 L358.1 160.7 L357.5 161.0 L356.9 160.9 L356.4 160.6 L355.9 160.0 L355.7 159.1 L355.8 158.5 L356.2 157.8 L356.9 157.7 L357.8 157.7 L358.6 157.9 L359.0 158.4 L358.9 159.3" fill="none" stroke="#1422d6" stroke-width="0.70" stroke-opacity="0.86" stroke-dasharray="0.9 0.4"/>
<path d="M359.0 155.7 L359.5 156.2 L360.2 156.4 L361.0 156.6 L361.9 156.4 L362.2 157.1 L362.0 157.9 L361.3 157.9 L360.6 157.4 L360.2 156.8 L360.1 156.2 L360.1 155.5 L359.7 154.8 L359.1 154.4 L358.2 154.5 L357.4 154.4 L356.6 154.3 L355.8 154.6 L355.0 154.5 L354.4 154.8 L353.6 154.9 L353.1 155.7 L352.6 155.8 L352.0 155.6 L351.6 156.1 L351.8 156.7 L352.3 157.5 L352.8 157.9 L353.4 157.8 L354.0 157.5 L354.6 157.1 L354.8 156.2 L355.2 155.6 L355.7 155.1 L356.3 154.9" fill="none" stroke="#1422d6" stroke-width="0.70" stroke-opacity="0.86" stroke-dasharray="0.9 0.4"/>
<path d="M361.0 162.1 L360.9 162.6 L361.1 163.3 L360.6 163.7 L359.7 163.8 L358.9 163.7 L358.3 164.0 L357.7 164.6 L356.8 164.5 L356.2 164.5 L355.5 164.2 L354.7 163.9 L353.9 163.8 L353.2 164.1 L352.6 163.8 L352.3 163.2 L352.5 162.5 L352.6 161.9 L352.2 161.1 L351.8 160.4 L351.2 160.1 L350.6 160.0 L349.7 160.3 L350.0 160.9 L350.6 160.9 L351.2 160.8 L351.9 161.2 L352.4 161.6 L352.6 162.2 L352.6 162.9 L352.8 163.7 L353.7 163.5" fill="none" stroke="#1422d6" stroke-width="0.70" stroke-opacity="0.86" stroke-dasharray="0.9 0.4"/>
<path d="M359.6 160.2 L359.9 159.5 L359.9 158.8 L359.5 158.1 L359.2 157.6 L359.0 157.0 L359.1 156.3 L359.5 155.6 L360.1 155.1 L360.4 155.6 L360.0 156.1 L359.2 156.5 L358.5 156.8 L357.9 156.6 L357.4 156.3 L356.9 155.7" fill="none" stroke="#1422d6" stroke-width="0.70" stroke-opacity="0.86" stroke-dasharray="0.9 0.4"/>
<path d="M369.7 166.8 L370.6 166.6 L371.3 166.2 L371.6 165.7 L371.4 165.0 L371.2 164.4 L370.9 163.6 L370.5 163.2 L369.9 162.8 L369.3 162.3 L368.7 162.2 L368.1 162.3 L367.6 162.6 L367.0 162.9 L366.2 162.9 L365.5 162.7 L364.8 162.4 L364.2 162.9 L364.0 163.7 L364.0 164.3 L364.3 164.9 L364.8 165.7 L365.4 166.1 L366.0 166.2 L366.7 166.1 L367.2 165.8" fill="none" stroke="#1422d6" stroke-width="0.70" stroke-opacity="0.86" stroke-dasharray="0.9 0.4"/>
<path d="M367.5 162.6 L368.3 162.6 L368.9 162.2 L369.5 162.4 L370.2 162.9 L371.1 163.0 L371.9 162.9 L372.5 163.5 L373.2 164.1 L373.5 164.7 L373.3 165.4 L372.7 166.0 L372.1 166.4 L371.6 166.7 L370.7 166.8 L369.9 166.6 L369.2 166.2 L368.9 165.4 L369.0 164.6 L369.3 164.0 L369.9 163.5 L370.4 163.3 L370.9 162.6 L370.1 162.3 L369.6 162.6 L369.3 163.1 L368.7 163.3 L368.2 163.1 L367.8 162.4 L367.3 163.0 L367.2 163.8 L366.7 164.3 L366.3 164.8" fill="none" stroke="#1422d6" stroke-width="0.70" stroke-opacity="0.86" stroke-dasharray="0.9 0.4"/>
<path d="M367.1 168.5 L367.7 168.8 L368.0 169.3 L367.9 169.9 L367.3 170.4 L366.7 170.3 L366.2 169.8 L366.4 169.0 L366.9 168.2 L367.0 167.6 L366.8 167.0 L366.2 166.4 L365.6 166.3 L364.9 166.8 L364.6 167.4" fill="none" stroke="#1422d6" stroke-width="0.70" stroke-opacity="0.86" stroke-dasharray="0.9 0.4"/>
<path d="M360.0 165.1 L360.1 165.7 L360.6 166.3 L361.1 166.7 L361.7 167.1 L362.5 167.4 L363.1 167.3 L363.8 167.0 L364.5 166.5 L365.4 166.5 L366.3 166.6 L367.0 166.8 L367.4 167.3 L368.0 167.6 L368.9 167.8 L369.5 167.5 L370.2 167.7 L370.8 167.9 L371.3 168.3 L372.0 168.8 L372.6 169.2 L372.9 169.9 L372.1 170.1 L371.5 169.6 L371.4 169.0 L371.2 168.4 L370.8 167.8 L370.0 167.4 L369.6 166.6" fill="none" stroke="#1422d6" stroke-width="0.70" stroke-opacity="0.86" stroke-dasharray="0.9 0.4"/>
<path d="M359.8 166.3 L359.0 166.4 L358.7 167.1 L359.0 167.6 L359.5 168.1 L360.0 168.5 L360.4 169.0 L361.0 169.3 L361.7 169.5 L362.5 169.7 L363.2 170.1 L363.9 170.1 L364.4 170.6 L365.0 170.8 L365.6 170.7 L366.2 170.5 L366.7 170.2 L367.5 170.3 L368.3 170.5 L368.8 170.3 L369.3 170.1 L370.0 170.3 L370.7 170.5 L371.3 170.0 L371.6 169.3 L372.4 169.0" fill="none" stroke="#1422d6" stroke-width="0.70" stroke-opacity="0.86" stroke-dasharray="0.9 0.4"/>
<path d="M370.3 166.9 L371.0 167.4 L371.8 167.5 L372.4 167.2 L372.9 166.4 L373.1 165.6 L373.0 164.9 L372.4 164.4 L371.5 164.4 L371.1 164.8 L370.7 165.3 L370.4 165.9 L370.3 166.6 L370.7 167.4 L371.2 167.8 L371.8 168.1 L372.7 168.2 L373.2 168.0 L373.7 167.5 L373.9 166.8 L373.6 166.1 L373.2 165.5 L372.6 165.3 L371.8 165.6 L371.2 166.1 L370.6 166.6 L370.5 167.2 L370.8 167.9 L371.3 168.3 L371.9 168.7 L372.6 168.5 L373.0 168.0 L373.0 167.1 L372.7 166.4" fill="none" stroke="#1422d6" stroke-width="0.70" stroke-opacity="0.86" stroke-dasharray="0.9 0.4"/>
<path d="M387.8 165.8 L388.5 165.8 L389.2 165.7 L389.8 165.5 L389.3 164.9 L388.6 165.0 L388.1 165.7 L387.8 166.1 L387.4 166.8 L387.5 167.5 L388.1 168.1 L388.7 168.2 L389.2 167.9 L389.3 167.1 L389.4 166.5 L389.1 166.0 L388.9 165.3 L388.7 164.5 L389.0 163.9 L388.9 163.2 L388.7 162.7 L388.0 162.5 L387.4 162.8 L386.7 162.7 L385.9 162.6 L385.3 162.2 L384.8 161.5" fill="none" stroke="#1422d6" stroke-width="0.70" stroke-opacity="0.86" stroke-dasharray="0.9 0.4"/>
<path d="M380.7 166.1 L380.4 166.6 L380.4 167.3 L380.5 168.0 L381.0 168.4 L381.6 168.6 L382.4 168.2 L382.9 168.0 L383.4 167.5 L383.5 166.8 L383.6 166.0 L383.3 165.3 L383.0 164.7 L382.5 164.4 L381.7 164.1 L381.2 163.9 L380.4 163.9 L379.8 164.0 L379.2 164.3 L379.7 164.8 L380.2 165.3 L380.8 165.4 L381.5 165.3 L382.1 164.9 L382.4 164.2 L382.5 163.6 L382.4 162.9 L382.1 162.5 L381.5 162.3 L380.8 162.5 L381.1 163.4 L380.9 163.9 L380.6 164.7" fill="none" stroke="#1422d6" stroke-width="0.70" stroke-opacity="0.86" stroke-dasharray="0.9 0.4"/>
<path d="M385.8 161.9 L385.5 162.7 L384.8 163.2 L384.2 163.3 L383.5 163.3 L382.9 163.3 L382.3 163.0 L381.7 162.7 L381.2 162.1 L382.0 162.0 L382.7 162.2 L383.2 162.8 L383.4 163.3 L383.2 164.1 L382.9 164.7 L382.3 165.2 L381.7 165.6 L381.0 165.9 L380.4 166.1 L379.7 166.1 L378.8 166.2 L379.2 165.5 L379.9 165.2 L380.5 165.3 L381.1 165.7 L381.4 166.4 L381.4 167.0 L381.4 167.9" fill="none" stroke="#1422d6" stroke-width="0.70" stroke-opacity="0.86" stroke-dasharray="0.9 0.4"/>
<path d="M380.9 167.9 L381.4 168.4 L381.5 169.0 L382.0 169.6 L382.8 169.7 L383.5 169.7 L384.2 169.4 L384.9 169.4 L385.5 169.2 L385.9 168.5 L385.9 167.8 L386.5 167.1 L387.3 167.0 L388.1 167.2 L388.9 167.1" fill="none" stroke="#1422d6" stroke-width="0.70" stroke-opacity="0.86" stroke-dasharray="0.9 0.4"/>
<path d="M369.0 127.3 L368.8 126.8 L368.4 126.1 L367.8 126.7 L367.6 127.6 L367.6 128.1 L367.9 128.7 L368.5 129.0 L369.0 129.4 L369.6 129.9 L369.9 130.5 L370.2 131.0 L370.1 131.7 L369.8 132.3 L369.3 132.9 L368.7 133.1 L367.8 132.8 L367.3 132.4 L367.0 131.8 L367.0 131.2 L367.0 130.6 L367.4 130.1 L367.7 129.6 L368.1 129.1 L368.2 128.3 L368.1 127.7 L367.8 127.1 L367.4 126.3 L366.6 126.8 L366.0 127.0 L365.6 127.5 L365.2 128.0 L364.9 128.7 L364.8 129.3" fill="none" stroke="#1422d6" stroke-width="0.70" stroke-opacity="0.83" stroke-dasharray="0.9 0.4"/>
<path d="M365.8 132.8 L366.4 133.2 L367.1 133.3 L367.6 133.2 L368.0 132.7 L368.1 131.8 L367.7 131.0 L367.2 130.5 L366.6 130.2 L366.0 130.3 L365.4 130.8 L364.9 131.5 L364.9 132.3 L365.2 133.1 L365.8 133.6 L366.6 133.7 L367.2 133.6 L368.0 133.4 L368.7 133.0 L368.9 132.4 L368.9 131.9 L368.6 131.3 L368.0 131.1 L367.4 131.4 L366.9 131.9 L366.6 132.5 L366.7 133.3 L367.0 133.8 L367.4 134.3 L368.0 134.7 L368.3 133.9 L368.1 133.2 L367.4 132.7 L366.5 132.6 L365.8 133.1" fill="none" stroke="#1422d6" stroke-width="0.70" stroke-opacity="0.83" stroke-dasharray="0.9 0.4"/>
<path d="M364.2 130.4 L364.0 131.1 L364.1 132.0 L364.3 132.5 L364.9 133.1 L365.5 133.6 L366.1 133.8 L366.7 133.9 L367.2 133.5 L367.4 132.9 L367.6 132.3 L367.1 131.5 L366.7 131.0 L366.2 130.8 L365.4 130.9 L364.8 131.1 L364.3 131.3 L363.8 131.7 L363.5 132.3 L364.3 132.7" fill="none" stroke="#1422d6" stroke-width="0.70" stroke-opacity="0.83" stroke-dasharray="0.9 0.4"/>
<path d="M396.6 147.3 L396.0 147.1 L395.4 147.0 L395.0 147.4 L394.3 147.4 L393.7 147.0 L393.2 146.4 L393.3 145.8 L393.9 145.6 L394.7 146.2 L395.3 146.4 L396.1 146.4 L396.6 146.1 L397.2 145.6 L397.5 145.1 L397.4 144.5 L397.3 143.8 L396.6 143.4 L395.7 143.5 L395.2 143.7 L394.6 144.2 L394.2 144.7 L394.0 145.4 L394.1 146.0 L394.6 146.5" fill="none" stroke="#1422d6" stroke-width="0.70" stroke-opacity="0.76" stroke-dasharray="0.9 0.4"/>
<path d="M394.0 138.3 L394.2 137.6 L394.9 138.0 L395.7 138.3 L396.4 138.5 L397.1 138.2 L397.6 137.8 L398.0 137.3 L398.7 136.8 L399.1 137.4 L399.6 137.9 L399.7 138.5 L399.8 139.2 L399.7 139.9 L399.7 140.5 L399.8 141.0 L400.0 141.8 L399.9 142.5 L399.7 143.2 L399.4 143.8 L399.1 144.6 L398.9 145.3 L398.4 145.8 L397.9 146.2 L397.4 146.5 L396.7 146.7" fill="none" stroke="#1422d6" stroke-width="0.70" stroke-opacity="0.76" stroke-dasharray="0.9 0.4"/>
<path d="M395.9 144.9 L396.5 145.0 L397.0 145.5 L397.6 145.8 L398.4 145.6 L399.1 145.1 L399.2 144.4 L398.9 143.7 L398.4 143.4 L397.7 143.6 L397.0 143.9 L396.5 144.4 L396.3 145.1 L396.2 145.6 L396.2 146.5 L396.6 147.0 L397.1 147.6 L397.7 147.7 L398.4 147.7" fill="none" stroke="#1422d6" stroke-width="0.70" stroke-opacity="0.76" stroke-dasharray="0.9 0.4"/>
<path d="M387.3 125.5 L388.3 128.0 L389.3 131.0" fill="none" stroke="#1422d6" stroke-width="0.70" stroke-opacity="0.83" stroke-dasharray="0.9 0.4"/>
<path d="M375.1 166.0 L376.3 169.0 L377.8 173.5" fill="none" stroke="#1422d6" stroke-width="0.70" stroke-opacity="0.83" stroke-dasharray="0.9 0.4"/>
<rect x="385.5" y="141.2" width="0.8" height="0.8" fill="#1422d6" fill-opacity="0.75"/>
<rect x="388.3" y="167.1" width="0.8" height="0.8" fill="#1422d6" fill-opacity="0.75"/>
<rect x="370.1" y="144.2" width="0.8" height="0.8" fill="#1422d6" fill-opacity="0.75"/>
<rect x="384.3" y="155.7" width="0.8" height="0.8" fill="#1422d6" fill-opacity="0.75"/>
<rect x="373.1" y="128.7" width="0.8" height="0.8" fill="#1422d6" fill-opacity="0.75"/>
<rect x="362.6" y="145.8" width="0.8" height="0.8" fill="#1422d6" fill-opacity="0.75"/>
<rect x="377.4" y="133.1" width="0.8" height="0.8" fill="#1422d6" fill-opacity="0.75"/>
<rect x="388.1" y="157.7" width="0.8" height="0.8" fill="#1422d6" fill-opacity="0.75"/>
<rect x="386.2" y="143.5" width="0.8" height="0.8" fill="#1422d6" fill-opacity="0.75"/>
<rect x="366.1" y="168.2" width="0.8" height="0.8" fill="#1422d6" fill-opacity="0.75"/>
<rect x="371.7" y="137.3" width="0.8" height="0.8" fill="#1422d6" fill-opacity="0.75"/>
<rect x="365.8" y="168.6" width="0.8" height="0.8" fill="#1422d6" fill-opacity="0.75"/>
<rect x="391.2" y="143.3" width="0.8" height="0.8" fill="#1422d6" fill-opacity="0.75"/>
<rect x="387.2" y="142.2" width="0.8" height="0.8" fill="#1422d6" fill-opacity="0.75"/>
<rect x="374.6" y="139.9" width="0.8" height="0.8" fill="#1422d6" fill-opacity="0.75"/>
<rect x="386.0" y="168.8" width="0.8" height="0.8" fill="#1422d6" fill-opacity="0.75"/>
<rect x="383.5" y="139.5" width="0.8" height="0.8" fill="#1422d6" fill-opacity="0.75"/>
<rect x="364.4" y="139.6" width="0.8" height="0.8" fill="#1422d6" fill-opacity="0.75"/>
<rect x="379.4" y="149.0" width="0.8" height="0.8" fill="#1422d6" fill-opacity="0.75"/>
<rect x="385.8" y="168.7" width="0.8" height="0.8" fill="#1422d6" fill-opacity="0.75"/>
<rect x="367.6" y="166.9" width="0.8" height="0.8" fill="#1422d6" fill-opacity="0.75"/>
<rect x="390.9" y="151.9" width="0.8" height="0.8" fill="#1422d6" fill-opacity="0.75"/>
<rect x="371.9" y="145.1" width="0.8" height="0.8" fill="#1422d6" fill-opacity="0.75"/>
<rect x="357.4" y="135.0" width="0.8" height="0.8" fill="#1422d6" fill-opacity="0.75"/>
<rect x="384.5" y="163.6" width="0.8" height="0.8" fill="#1422d6" fill-opacity="0.75"/>
<rect x="368.9" y="170.4" width="0.8" height="0.8" fill="#1422d6" fill-opacity="0.75"/>
<rect x="378.3" y="159.2" width="0.8" height="0.8" fill="#1422d6" fill-opacity="0.75"/>
<rect x="367.5" y="126.2" width="0.8" height="0.8" fill="#1422d6" fill-opacity="0.75"/>
<rect x="381.2" y="128.6" width="0.8" height="0.8" fill="#1422d6" fill-opacity="0.75"/>
<rect x="385.6" y="149.3" width="0.8" height="0.8" fill="#1422d6" fill-opacity="0.75"/>
<rect x="378.8" y="137.5" width="0.8" height="0.8" fill="#1422d6" fill-opacity="0.75"/>
<rect x="369.5" y="127.3" width="0.8" height="0.8" fill="#1422d6" fill-opacity="0.75"/>
<rect x="392.3" y="132.2" width="0.8" height="0.8" fill="#1422d6" fill-opacity="0.75"/>
<rect x="385.4" y="152.0" width="0.8" height="0.8" fill="#1422d6" fill-opacity="0.75"/>
<rect x="373.2" y="171.1" width="0.8" height="0.8" fill="#1422d6" fill-opacity="0.75"/>
<rect x="370.5" y="160.9" width="0.8" height="0.8" fill="#1422d6" fill-opacity="0.75"/>
<rect x="374.0" y="125.4" width="0.8" height="0.8" fill="#1422d6" fill-opacity="0.75"/>
<rect x="385.4" y="152.5" width="0.8" height="0.8" fill="#1422d6" fill-opacity="0.75"/>
<rect x="361.3" y="144.5" width="0.8" height="0.8" fill="#1422d6" fill-opacity="0.75"/>
<rect x="360.5" y="152.2" width="0.8" height="0.8" fill="#1422d6" fill-opacity="0.75"/>
<rect x="369.2" y="164.5" width="0.8" height="0.8" fill="#1422d6" fill-opacity="0.75"/>
<rect x="358.4" y="133.1" width="0.8" height="0.8" fill="#1422d6" fill-opacity="0.75"/>
<rect x="381.0" y="143.0" width="0.8" height="0.8" fill="#1422d6" fill-opacity="0.75"/>
<rect x="396.3" y="152.7" width="0.8" height="0.8" fill="#1422d6" fill-opacity="0.75"/>
<rect x="358.5" y="159.6" width="0.8" height="0.8" fill="#1422d6" fill-opacity="0.75"/>
<rect x="355.0" y="157.0" width="0.8" height="0.8" fill="#1422d6" fill-opacity="0.75"/>
<rect x="381.4" y="170.4" width="0.8" height="0.8" fill="#1422d6" fill-opacity="0.75"/>
<rect x="366.1" y="143.0" width="0.8" height="0.8" fill="#1422d6" fill-opacity="0.75"/>
<rect x="386.1" y="146.2" width="0.8" height="0.8" fill="#1422d6" fill-opacity="0.75"/>
<rect x="381.7" y="141.4" width="0.8" height="0.8" fill="#1422d6" fill-opacity="0.75"/>
<rect x="369.8" y="169.8" width="0.8" height="0.8" fill="#1422d6" fill-opacity="0.75"/>
<rect x="372.7" y="143.3" width="0.8" height="0.8" fill="#1422d6" fill-opacity="0.75"/>
<rect x="389.8" y="146.3" width="0.8" height="0.8" fill="#1422d6" fill-opacity="0.75"/>
<rect x="373.4" y="148.5" width="0.8" height="0.8" fill="#1422d6" fill-opacity="0.75"/>
<rect x="353.1" y="150.0" width="0.8" height="0.8" fill="#1422d6" fill-opacity="0.75"/>
<rect x="377.8" y="151.5" width="0.8" height="0.8" fill="#1422d6" fill-opacity="0.75"/>
<rect x="359.2" y="153.3" width="0.8" height="0.8" fill="#1422d6" fill-opacity="0.75"/>
<rect x="378.0" y="124.8" width="0.8" height="0.8" fill="#1422d6" fill-opacity="0.75"/>
<rect x="350.0" y="149.9" width="0.8" height="0.8" fill="#1422d6" fill-opacity="0.75"/>
<rect x="365.7" y="154.3" width="0.8" height="0.8" fill="#1422d6" fill-opacity="0.75"/>
<rect x="378.4" y="139.7" width="1.3" height="1.3" fill="#ffc000"/>
<rect x="376.6" y="140.5" width="1.3" height="1.3" fill="#ffc000"/>
<rect x="373.4" y="137.0" width="1.3" height="1.3" fill="#ffc000"/>
<rect x="377.8" y="140.7" width="1.3" height="1.3" fill="#ffc000"/>
<rect x="379.8" y="138.8" width="1.3" height="1.3" fill="#ffc000"/>
<rect x="378.2" y="137.8" width="1.3" height="1.3" fill="#ffc000"/>
<rect x="380.8" y="138.0" width="1.3" height="1.3" fill="#ffc000"/>
<rect x="375.1" y="137.0" width="1.3" height="1.3" fill="#ffc000"/>
<rect x="375.9" y="138.7" width="1.3" height="1.3" fill="#ffc000"/>
<rect x="374.4" y="138.6" width="1.3" height="1.3" fill="#ffc000"/>
<rect x="379.2" y="138.6" width="1.3" height="1.3" fill="#ffc000"/>
<rect x="373.5" y="137.5" width="1.3" height="1.3" fill="#ffc000"/>
<rect x="374.3" y="137.4" width="1.3" height="1.3" fill="#ffc000"/>
<rect x="373.6" y="137.0" width="1.3" height="1.3" fill="#ffc000"/>
<rect x="376.8" y="138.2" width="1.3" height="1.3" fill="#ffc000"/>
<rect x="375.6" y="136.1" width="1.3" height="1.3" fill="#ffc000"/>
<rect x="377.0" y="134.9" width="1.3" height="1.3" fill="#ffc000"/>
<rect x="377.0" y="138.0" width="1.3" height="1.3" fill="#ffc000"/>
<rect x="374.5" y="140.7" width="1.2" height="1.2" fill="#40e040"/>
<rect x="379.3" y="138.4" width="1.2" height="1.2" fill="#40e040"/>
<rect x="379.9" y="139.3" width="1.2" height="1.2" fill="#40e040"/>
<rect x="374.0" y="141.3" width="1.2" height="1.2" fill="#40e040"/>
<rect x="379.0" y="138.5" width="1.2" height="1.2" fill="#40e040"/>
<rect x="376.8" y="139.9" width="1.2" height="1.2" fill="#40e040"/>
<rect x="377.4" y="138.8" width="1.2" height="1.2" fill="#40e040"/>
<rect x="375.6" y="140.7" width="1.2" height="1.2" fill="#40e040"/>
<rect x="373.2" y="140.4" width="1.2" height="1.2" fill="#40e040"/>
<rect x="379.8" y="141.1" width="1.2" height="1.2" fill="#40e040"/>
<rect x="379.5" y="140.0" width="1.2" height="1.2" fill="#40e040"/>
<rect x="374.6" y="140.4" width="1.2" height="1.2" fill="#40e040"/>
<rect x="376.4" y="134.3" width="1.2" height="1.2" fill="#ff4000"/>
<rect x="378.1" y="132.5" width="1.2" height="1.2" fill="#ff4000"/>
<rect x="378.9" y="134.3" width="1.2" height="1.2" fill="#ff4000"/>
<rect x="376.6" y="134.0" width="1.2" height="1.2" fill="#ff4000"/>
<rect x="376.5" y="133.2" width="1.2" height="1.2" fill="#ff4000"/>
<rect x="376.9" y="134.2" width="1.2" height="1.2" fill="#ff4000"/>
<rect x="385.7" y="138.5" width="1.2" height="1.2" fill="#ff2000"/>
<rect x="385.4" y="138.9" width="1.2" height="1.2" fill="#ff2000"/>
<rect x="386.5" y="137.4" width="1.2" height="1.2" fill="#ff2000"/>
<rect x="385.1" y="137.1" width="1.2" height="1.2" fill="#ff2000"/>
<rect x="384.6" y="138.7" width="1.2" height="1.2" fill="#ff2000"/>
<rect x="386.6" y="137.4" width="1.2" height="1.2" fill="#ff2000"/>
<rect x="370.0" y="151.6" width="1.0" height="1.0" fill="#a0e000"/>
<rect x="370.4" y="151.0" width="1.0" height="1.0" fill="#a0e000"/>
<rect x="370.1" y="152.0" width="1.0" height="1.0" fill="#a0e000"/>
<path d="M417.7 150.5 L418.3 149.9 L419.0 149.8 L419.6 149.8 L420.4 149.9 L421.1 150.3 L421.4 150.9 L421.4 151.6 L420.8 151.2 L420.5 150.7 L420.1 149.9 L420.2 149.2 L420.4 148.7 L420.6 148.0 L421.0 147.6 L421.8 147.5 L422.6 147.5" fill="none" stroke="#1422d6" stroke-width="0.70" stroke-opacity="0.90" stroke-dasharray="0.9 0.4"/>
<path d="M424.9 150.4 L425.1 149.7 L424.9 149.1 L424.4 148.7 L423.9 148.3 L423.3 148.2 L422.7 148.2 L422.2 148.3 L421.5 148.9 L421.2 149.3 L420.8 150.0 L420.4 150.6 L419.9 151.1 L419.4 151.3 L419.2 150.8 L419.0 150.2 L418.9 149.6 L418.4 148.9 L417.8 148.3 L417.0 148.2 L416.2 148.4" fill="none" stroke="#1422d6" stroke-width="0.70" stroke-opacity="0.90" stroke-dasharray="0.9 0.4"/>
<path d="M419.1 147.1 L419.3 147.9 L419.6 148.3 L420.4 148.5 L421.2 148.6 L422.0 148.6 L422.5 148.1 L423.0 147.5 L423.2 146.9 L423.3 146.2 L423.0 145.6 L422.2 145.4 L421.6 145.3 L420.7 145.3 L420.1 145.7 L419.6 146.5 L419.6 147.0 L420.0 147.7" fill="none" stroke="#1422d6" stroke-width="0.70" stroke-opacity="0.90" stroke-dasharray="0.9 0.4"/>
<path d="M421.8 141.0 L422.3 140.5 L422.5 139.7 L422.3 138.9 L421.9 138.4 L421.1 138.1 L420.2 137.9 L419.4 137.9 L418.7 138.0 L418.0 137.8 L417.4 137.6 L416.9 137.2 L416.4 136.6 L416.2 135.8 L416.5 135.0 L416.6 134.4 L417.3 134.7 L417.9 135.0 L418.4 135.7 L418.8 136.4 L419.1 137.1 L419.2 137.9 L419.2 138.5 L419.1 139.1 L419.0 139.8 L418.8 140.3 L418.3 141.0 L417.9 141.6 L417.1 142.0 L416.4 142.2 L415.9 142.2 L415.3 141.8 L414.6 141.4" fill="none" stroke="#1422d6" stroke-width="0.70" stroke-opacity="0.90" stroke-dasharray="0.9 0.4"/>
<path d="M426.6 147.4 L425.8 147.4 L425.2 147.3 L424.5 147.4 L423.6 147.3 L423.1 147.1 L422.6 146.7 L422.1 146.1 L422.2 145.5 L422.4 144.7 L423.0 144.1 L423.6 143.9 L424.5 144.2 L424.8 144.6 L425.0 145.2 L424.8 145.9 L424.3 146.3 L423.6 146.6 L422.7 146.7 L422.0 146.5 L421.2 146.7 L420.8 147.3 L420.6 148.0 L420.1 148.7" fill="none" stroke="#1422d6" stroke-width="0.70" stroke-opacity="0.90" stroke-dasharray="0.9 0.4"/>
<path d="M421.3 151.2 L421.8 151.9 L422.5 152.2 L423.4 152.1 L424.0 151.6 L424.4 151.3 L424.9 150.8 L425.3 150.1 L425.8 149.6 L426.4 149.5 L427.2 149.8 L427.3 149.0 L427.1 148.3 L426.7 147.8 L426.2 147.5 L425.5 147.6 L424.8 148.0 L424.5 148.8 L424.5 149.5 L424.8 150.1 L424.8 150.7 L424.3 151.4 L423.9 150.9 L423.8 150.1 L424.0 149.5 L424.5 148.8 L425.2 148.7 L425.9 149.0 L426.4 149.6 L426.5 150.2 L425.7 150.1 L425.2 149.8 L424.8 149.0 L425.1 148.2 L425.7 147.8" fill="none" stroke="#1422d6" stroke-width="0.70" stroke-opacity="0.90" stroke-dasharray="0.9 0.4"/>
<path d="M421.1 134.1 L420.3 133.9 L419.9 133.6 L419.5 133.2 L419.0 133.3 L418.4 133.8 L417.9 134.3 L417.4 134.6 L416.8 134.7 L416.2 134.3 L415.4 134.5 L415.0 135.2 L414.7 135.9 L414.4 136.5 L413.9 137.0 L413.4 137.4 L412.7 137.5 L412.4 138.0 L412.3 138.6 L412.3 139.3 L412.6 139.8 L412.6 140.7 L412.3 141.4 L411.7 142.0 L411.9 142.8 L411.8 143.5" fill="none" stroke="#1422d6" stroke-width="0.70" stroke-opacity="0.90" stroke-dasharray="0.9 0.4"/>
<path d="M421.9 137.4 L422.3 136.9 L422.5 136.0 L422.3 135.4 L421.8 134.9 L420.9 134.7 L420.2 134.7 L419.7 135.0 L419.2 135.7 L419.2 136.2 L419.7 137.0 L420.4 137.4 L421.1 137.4 L421.7 137.1 L422.0 136.6 L421.9 135.9 L421.3 135.4 L420.7 135.4 L420.2 135.8 L419.7 136.4 L419.4 137.1 L419.4 137.7 L419.1 138.5 L418.2 138.7 L417.5 138.7 L416.8 138.6 L416.2 138.0 L415.5 137.7 L414.8 137.6" fill="none" stroke="#1422d6" stroke-width="0.70" stroke-opacity="0.90" stroke-dasharray="0.9 0.4"/>
<path d="M420.2 151.3 L420.0 150.6 L419.5 150.0 L419.3 149.3 L419.1 148.4 L419.0 147.9 L419.3 147.1 L419.8 146.8 L420.5 146.5 L421.0 146.2 L421.8 146.4 L422.3 146.8 L422.4 147.7 L422.5 148.3 L422.6 149.1 L422.5 149.9 L422.1 150.6 L421.7 151.1 L421.4 151.8 L420.8 151.3 L420.4 150.8 L420.4 150.2 L420.6 149.5 L421.0 149.0 L421.9 148.8 L422.7 148.6 L423.3 148.7 L424.0 149.2 L424.4 149.9 L424.5 150.6 L424.1 151.3 L423.5 151.0 L423.1 150.6 L422.7 150.1" fill="none" stroke="#1422d6" stroke-width="0.70" stroke-opacity="0.90" stroke-dasharray="0.9 0.4"/>
<path d="M423.7 144.6 L424.3 144.6 L424.9 144.7 L425.4 145.3 L425.5 145.9 L425.5 146.5 L425.0 146.8 L424.2 146.7 L423.7 146.0 L423.7 145.3 L424.3 144.7 L425.2 144.6 L425.6 144.9 L425.8 145.6 L425.5 146.4 L425.9 147.1 L426.4 147.7 L427.2 147.7 L427.8 147.1 L428.1 146.3 L427.7 145.9 L427.1 145.7 L426.3 146.0 L425.8 146.6 L425.8 147.4 L426.1 148.1 L426.7 148.3 L427.4 148.0 L427.2 147.4 L426.8 147.0 L426.1 147.0 L425.4 147.4 L424.9 148.0" fill="none" stroke="#1422d6" stroke-width="0.70" stroke-opacity="0.97" stroke-dasharray="0.9 0.4"/>
<path d="M425.6 145.8 L425.4 146.3 L424.9 146.9 L424.1 147.2 L423.4 147.3 L422.7 147.0 L422.3 146.3 L422.2 145.6 L422.4 145.0 L423.1 144.4 L423.8 144.2 L424.6 144.5 L425.1 145.0 L425.4 145.9 L425.3 146.5 L424.9 146.9 L424.1 147.1 L423.5 146.7 L423.0 146.3 L422.7 145.5 L422.9 144.8 L423.5 144.3 L423.9 143.6 L423.7 142.9 L423.0 142.4 L422.4 142.5" fill="none" stroke="#1422d6" stroke-width="0.70" stroke-opacity="0.97" stroke-dasharray="0.9 0.4"/>
<path d="M426.5 144.0 L427.1 143.8 L427.8 144.1 L428.5 144.6 L427.8 145.1 L427.1 145.4 L426.4 145.4 L425.9 145.0 L425.3 144.9 L424.6 145.0 L423.7 145.2 L423.3 145.8 L423.4 146.6 L423.8 147.3 L424.3 147.8 L425.0 148.1 L425.7 147.8 L426.0 147.2 L425.8 146.5 L425.3 146.1 L424.5 145.9 L424.0 146.3" fill="none" stroke="#1422d6" stroke-width="0.70" stroke-opacity="0.97" stroke-dasharray="0.9 0.4"/>
<path d="M422.6 146.9 L423.3 147.3 L423.9 147.2 L424.5 146.9 L424.7 146.4 L424.4 145.8 L423.9 145.2 L423.3 144.6 L422.6 144.3 L421.9 144.5 L421.4 145.0 L421.2 145.6 L421.6 146.3 L422.0 146.8 L422.7 147.0 L423.2 146.6 L423.5 146.1 L423.6 145.2 L423.4 144.7 L422.9 144.2" fill="none" stroke="#1422d6" stroke-width="0.70" stroke-opacity="0.97" stroke-dasharray="0.9 0.4"/>
<path d="M439.5 148.9 L439.5 148.1 L440.0 147.6 L440.7 147.2 L441.4 146.9 L442.1 147.0 L442.8 147.2 L443.2 147.8 L443.4 148.6 L443.2 149.2 L442.6 149.8 L442.0 150.3 L441.3 150.9 L440.5 151.2 L440.0 151.6 L439.3 152.0 L438.8 152.3 L438.0 152.7 L437.4 152.9" fill="none" stroke="#1422d6" stroke-width="0.70" stroke-opacity="0.90" stroke-dasharray="0.9 0.4"/>
<path d="M435.9 152.5 L435.6 153.0 L435.0 153.4 L434.2 153.6 L433.6 153.3 L433.0 152.9 L432.4 152.4 L432.0 152.1 L431.4 152.0 L430.7 151.7 L430.2 151.4 L429.4 151.0 L429.0 150.6 L428.4 150.3 L428.2 149.5 L427.9 148.9 L427.3 148.3 L427.3 147.6 L426.9 146.9" fill="none" stroke="#1422d6" stroke-width="0.70" stroke-opacity="0.90" stroke-dasharray="0.9 0.4"/>
<path d="M433.5 151.6 L433.9 151.0 L433.9 150.1 L433.6 149.6 L433.5 148.8 L433.4 148.0 L433.5 147.1 L434.0 146.4 L434.6 145.9 L435.2 145.7 L435.9 146.0 L436.4 146.3 L436.9 146.8 L437.1 147.4 L436.9 148.0" fill="none" stroke="#1422d6" stroke-width="0.70" stroke-opacity="0.90" stroke-dasharray="0.9 0.4"/>
<path d="M434.6 143.5 L434.5 142.9 L434.7 142.3 L435.2 142.9 L435.3 143.6 L435.1 144.3 L434.7 144.8 L434.5 145.6 L434.6 146.2 L434.8 146.9 L435.1 147.4 L435.7 147.8 L436.6 147.8 L437.1 148.2 L437.5 148.9 L437.9 149.7 L438.1 150.3 L437.9 151.0 L437.6 151.8 L436.9 152.3 L436.3 152.7 L435.6 152.8 L434.8 152.6 L434.3 152.1 L433.7 151.9 L433.1 151.8 L432.7 151.4 L432.6 150.8 L432.9 150.1 L433.5 149.5 L434.0 149.3" fill="none" stroke="#1422d6" stroke-width="0.70" stroke-opacity="0.90" stroke-dasharray="0.9 0.4"/>
<path d="M438.2 149.4 L438.8 149.9 L439.3 150.6 L439.6 151.2 L440.2 151.6 L440.3 150.7 L440.3 150.1 L440.0 149.5 L439.3 149.1 L438.4 148.8 L437.6 148.8 L436.9 149.3 L436.1 149.6 L435.3 149.5 L434.7 149.6 L434.3 150.2 L434.3 151.0 L434.7 151.7 L435.3 152.0 L435.9 152.2 L436.5 152.2 L437.1 151.6 L437.5 150.9 L437.5 150.3" fill="none" stroke="#1422d6" stroke-width="0.70" stroke-opacity="0.90" stroke-dasharray="0.9 0.4"/>
<path d="M432.8 147.5 L433.5 148.0 L434.0 148.5 L434.5 149.0 L434.9 149.6 L435.0 150.3 L434.9 151.0 L434.4 151.6 L433.9 151.8 L433.3 151.7 L432.8 151.2 L432.7 150.5 L432.5 149.7 L432.7 149.2 L433.0 148.5 L433.3 147.9 L434.1 147.6 L434.8 147.7 L435.6 147.8 L436.2 148.1 L437.0 148.5 L437.6 148.4 L438.2 148.1 L438.9 147.8 L439.4 147.5" fill="none" stroke="#1422d6" stroke-width="0.70" stroke-opacity="0.90" stroke-dasharray="0.9 0.4"/>
<path d="M439.8 152.6 L439.2 152.9 L438.6 153.3 L438.1 154.1 L437.6 154.3 L437.2 154.8 L436.9 155.5 L436.9 156.3 L437.0 157.0 L437.3 157.7 L438.0 157.9 L438.5 158.1 L439.0 158.4 L439.4 158.8 L439.7 159.6 L439.8 160.3 L439.5 161.1 L438.9 160.7 L438.8 160.0 L438.8 159.2 L439.2 158.6 L439.7 158.1 L440.0 157.7 L440.2 156.9" fill="none" stroke="#1422d6" stroke-width="0.90" stroke-opacity="1.00" stroke-dasharray="0.9 0.4"/>
<path d="M439.8 154.0 L440.1 154.5 L440.8 155.0 L441.3 155.1 L442.0 155.2 L442.7 155.1 L443.6 154.7 L444.2 154.5 L443.7 154.0 L443.1 153.8 L442.6 154.0 L442.2 154.4 L441.6 155.0 L441.2 155.3 L440.4 155.7 L439.6 156.0 L439.0 155.8 L438.5 155.4 L437.8 154.9 L437.0 154.6 L436.4 154.7 L435.6 155.1 L435.0 155.6 L434.4 155.9 L433.9 155.8 L434.1 155.3 L435.0 155.2 L435.6 155.3 L436.2 155.4 L436.6 155.9" fill="none" stroke="#1422d6" stroke-width="0.90" stroke-opacity="1.00" stroke-dasharray="0.9 0.4"/>
<path d="M443.5 154.3 L443.7 155.1 L443.4 155.7 L442.6 156.0 L441.7 156.0 L441.3 155.5 L440.8 154.8 L440.9 154.1 L441.2 153.4 L441.8 152.7 L442.5 152.3 L443.2 152.2 L443.0 152.8 L442.5 153.3 L441.9 153.2 L441.4 152.7 L441.1 152.1 L441.2 151.2 L441.6 150.7 L442.1 151.2 L441.7 151.9 L441.3 152.2 L440.6 152.2 L440.0 152.0" fill="none" stroke="#1422d6" stroke-width="0.90" stroke-opacity="1.00" stroke-dasharray="0.9 0.4"/>
<path d="M436.5 156.2 L437.0 155.8 L437.6 155.3 L438.4 155.2 L439.1 155.2 L439.9 155.5 L440.4 155.9 L440.7 156.3 L441.2 156.6 L442.0 156.7 L442.7 156.6 L443.4 156.4 L444.2 156.2 L444.0 155.6 L444.1 154.7 L444.5 153.9 L444.3 153.1" fill="none" stroke="#1422d6" stroke-width="0.90" stroke-opacity="1.00" stroke-dasharray="0.9 0.4"/>
<path d="M440.8 156.9 L440.1 157.2 L439.5 157.3 L438.6 157.2 L437.8 156.8 L437.5 156.3 L437.4 155.5 L437.5 154.6 L437.9 154.1 L438.6 153.6 L439.1 153.6 L439.9 153.2 L440.3 152.6 L440.5 151.8 L440.5 151.2 L440.0 150.6 L439.3 150.6 L438.5 150.8 L438.1 151.3 L437.7 151.9 L437.7 152.7" fill="none" stroke="#1422d6" stroke-width="0.90" stroke-opacity="1.00" stroke-dasharray="0.9 0.4"/>
<path d="M437.7 153.9 L436.9 153.9 L436.1 153.7 L435.6 153.3 L435.3 152.6 L435.2 152.0 L436.0 151.8 L436.6 152.0 L437.4 152.3 L437.9 152.8 L438.1 153.4 L438.2 154.2 L437.9 154.7 L437.5 155.2 L437.0 155.7" fill="none" stroke="#1422d6" stroke-width="0.90" stroke-opacity="1.00" stroke-dasharray="0.9 0.4"/>
<path d="M436.8 158.7 L437.1 158.1 L437.6 157.6 L438.4 157.4 L439.1 157.4 L439.8 157.6 L440.3 157.9 L440.7 158.4 L441.3 158.8 L442.1 158.6 L442.5 157.9 L442.4 157.2 L441.7 156.8 L441.1 156.8 L440.5 157.1 L440.0 157.6 L439.3 158.0 L438.6 157.8 L438.2 157.5" fill="none" stroke="#1422d6" stroke-width="0.90" stroke-opacity="1.00" stroke-dasharray="0.9 0.4"/>
<path d="M441.4 152.4 L441.1 153.2 L441.2 154.0 L441.6 154.4 L441.8 155.0 L442.5 155.4 L443.2 155.6 L443.8 155.3 L444.2 154.7 L443.7 154.3 L443.1 153.8 L442.2 153.5 L441.7 153.3 L441.1 152.8 L440.6 152.3 L440.5 151.5 L440.5 150.7 L440.8 150.0 L441.5 150.3 L441.4 151.1 L441.0 151.8 L440.5 152.2 L440.0 152.8 L439.2 153.0 L438.3 153.1" fill="none" stroke="#1422d6" stroke-width="0.90" stroke-opacity="1.00" stroke-dasharray="0.9 0.4"/>
<path d="M456.7 146.9 L456.1 146.5 L455.7 146.1 L455.3 145.6 L455.0 144.9 L454.9 144.2 L454.9 143.7 L455.2 142.9 L455.6 142.3 L456.2 142.7 L455.9 143.2 L455.4 143.4 L454.6 143.4 L453.7 143.1 L453.2 142.9" fill="none" stroke="#1422d6" stroke-width="0.70" stroke-opacity="0.97" stroke-dasharray="0.9 0.4"/>
<path d="M447.5 151.6 L448.1 151.4 L448.8 151.5 L449.6 151.9 L450.2 152.5 L450.4 153.1 L450.5 153.8 L450.1 154.5 L449.7 155.2 L449.2 155.7 L448.6 156.1 L447.9 156.4 L447.4 156.3 L447.7 155.5 L448.1 155.0 L448.8 154.4 L449.4 154.2 L450.2 154.1 L450.8 154.3 L451.1 154.9 L451.4 155.7" fill="none" stroke="#1422d6" stroke-width="0.70" stroke-opacity="0.97" stroke-dasharray="0.9 0.4"/>
<path d="M452.1 142.6 L451.6 141.9 L451.1 142.0 L450.5 142.6 L450.1 143.0 L449.3 143.4 L448.6 143.7 L448.8 144.6 L449.3 144.9 L449.9 145.1 L450.7 145.1 L451.4 145.0 L452.0 144.6 L452.6 144.7 L453.2 145.4 L453.3 146.2 L453.1 146.8 L452.5 147.2 L451.9 147.4 L451.2 147.4 L450.7 147.2 L450.4 146.6 L450.5 145.8 L450.3 145.0 L450.0 144.5 L449.4 144.2 L448.9 144.1" fill="none" stroke="#1422d6" stroke-width="0.70" stroke-opacity="0.97" stroke-dasharray="0.9 0.4"/>
<path d="M450.3 149.6 L451.0 149.5 L451.6 149.6 L452.1 150.0 L452.4 150.5 L452.7 151.2 L452.7 151.8 L452.5 152.5 L452.2 153.1 L451.7 153.4 L451.1 153.5 L450.5 153.5 L450.1 153.0 L449.8 152.2 L449.7 151.5 L449.6 150.8 L450.0 150.2 L450.5 149.7 L451.4 149.6 L451.9 149.7 L452.4 150.4 L452.7 151.3 L452.5 152.0 L452.1 152.5 L451.9 153.3" fill="none" stroke="#1422d6" stroke-width="0.70" stroke-opacity="0.97" stroke-dasharray="0.9 0.4"/>
<path d="M457.2 149.8 L456.5 149.3 L456.2 148.8 L456.4 147.9 L456.6 147.3 L457.1 146.8 L457.7 146.5 L458.6 146.5 L458.6 147.3 L457.8 147.6 L457.0 147.7 L456.5 147.3 L456.3 146.6 L456.6 146.0 L457.3 145.5 L458.1 145.6 L458.1 146.4 L457.5 146.8 L456.6 147.1 L456.1 146.9 L455.7 146.4 L455.4 145.8" fill="none" stroke="#1422d6" stroke-width="0.70" stroke-opacity="0.97" stroke-dasharray="0.9 0.4"/>
<path d="M457.0 156.6 L457.3 157.0 L457.9 157.3 L458.5 156.9 L458.8 156.3 L458.8 155.7 L458.4 155.0 L457.9 154.4 L457.2 153.9 L456.4 153.8 L455.7 154.2 L455.2 154.7 L454.8 155.3 L454.7 156.1 L454.3 156.8 L454.0 157.3 L453.4 157.8 L452.7 158.3 L451.9 158.5 L451.3 159.0 L451.0 159.5" fill="none" stroke="#1422d6" stroke-width="0.70" stroke-opacity="0.97" stroke-dasharray="0.9 0.4"/>
<path d="M452.6 158.9 L453.2 159.1 L453.8 159.1 L454.7 158.9 L455.3 158.5 L456.0 158.2 L456.6 158.0 L457.1 157.7 L457.7 157.4 L458.0 156.6 L458.2 156.1 L458.1 155.5 L458.5 154.9 L458.4 154.2 L458.7 153.4 L458.6 152.6 L458.7 151.8 L458.6 151.1 L458.4 150.5 L458.6 149.9 L458.8 149.3 L458.4 148.6 L458.2 147.8 L458.0 147.1 L457.2 146.9 L456.5 146.7 L455.9 146.8 L455.2 147.3 L455.0 147.9 L454.9 148.5" fill="none" stroke="#1422d6" stroke-width="0.70" stroke-opacity="0.97" stroke-dasharray="0.9 0.4"/>
<path d="M451.2 153.6 L451.0 154.2 L450.9 154.7 L451.1 155.3 L451.7 155.9 L452.4 156.2 L453.0 156.0 L453.9 156.1 L454.3 156.5 L454.9 157.1 L455.7 157.3 L456.3 157.4 L456.9 157.2 L457.5 156.6 L458.0 156.1 L457.6 155.6 L456.9 155.3 L456.1 155.2 L455.3 155.1 L454.7 155.3 L454.1 155.8 L453.9 156.3 L453.6 156.9 L453.6 157.5 L453.5 158.2 L453.1 158.8" fill="none" stroke="#1422d6" stroke-width="0.70" stroke-opacity="0.97" stroke-dasharray="0.9 0.4"/>
<path d="M454.6 150.6 L455.1 151.0 L455.4 151.6 L455.4 152.2 L455.2 152.9 L454.8 153.3 L454.6 154.0 L454.7 154.8 L455.2 155.5 L455.5 156.0 L456.4 156.2 L456.9 156.1 L457.6 155.9 L458.1 155.6 L458.5 155.1 L457.9 154.5 L457.8 153.8 L457.9 153.2 L458.4 152.8 L459.1 152.6 L459.3 152.0 L459.0 151.5 L458.5 151.0 L458.0 150.4 L457.7 149.6 L457.8 148.9 L458.1 148.3 L458.9 148.0 L458.7 148.6 L458.2 148.9 L457.4 149.2 L456.6 149.0 L456.2 148.4 L456.1 147.8 L456.2 147.1" fill="none" stroke="#1422d6" stroke-width="0.70" stroke-opacity="0.97" stroke-dasharray="0.9 0.4"/>
<path d="M454.8 153.9 L454.9 154.6 L454.8 155.4 L454.6 156.2 L454.3 156.7 L453.7 156.3 L453.4 155.9 L453.3 155.2 L453.5 154.5 L453.9 154.1 L454.6 153.6 L455.4 153.4 L455.9 153.6 L456.5 154.0 L456.8 154.7" fill="none" stroke="#1422d6" stroke-width="0.90" stroke-opacity="1.00" stroke-dasharray="0.9 0.4"/>
<path d="M451.9 152.4 L451.9 151.8 L452.2 151.3 L452.5 150.7 L453.0 150.5 L453.6 150.5 L454.3 150.9 L454.9 151.5 L455.4 152.2 L455.9 152.9 L456.0 153.6 L456.0 154.3 L455.9 155.1 L455.6 155.7 L455.1 156.1 L454.5 156.2 L453.7 156.0 L453.1 155.5 L452.6 155.0 L452.1 154.6 L451.6 153.9 L452.0 153.1 L452.4 152.3 L452.8 152.0 L453.5 151.7 L454.3 151.6 L455.1 151.7 L455.7 152.0 L456.0 152.6 L456.0 153.2 L456.1 154.0 L455.8 154.7 L455.3 155.3 L454.7 155.5 L453.9 155.6" fill="none" stroke="#1422d6" stroke-width="0.90" stroke-opacity="1.00" stroke-dasharray="0.9 0.4"/>
<path d="M452.3 153.2 L453.0 153.2 L453.8 153.5 L454.4 154.0 L454.4 154.8 L454.2 155.5 L454.1 156.1 L453.7 156.8 L453.0 157.1 L452.6 156.5 L452.9 155.9 L453.3 155.4 L454.2 155.2 L454.8 155.3 L455.3 155.8" fill="none" stroke="#1422d6" stroke-width="0.90" stroke-opacity="1.00" stroke-dasharray="0.9 0.4"/>
<path d="M454.8 152.2 L454.9 151.4 L454.6 150.7 L454.1 150.1 L453.4 149.8 L452.7 149.7 L451.9 149.4 L451.0 149.5 L450.5 149.8 L450.1 150.2 L450.0 150.8 L450.0 151.3 L450.0 152.0 L450.2 152.6 L450.8 152.7" fill="none" stroke="#1422d6" stroke-width="0.90" stroke-opacity="1.00" stroke-dasharray="0.9 0.4"/>
<path d="M453.6 155.0 L452.9 155.0 L452.2 155.1 L451.4 155.0 L451.0 154.4 L451.0 153.5 L451.1 152.8 L451.2 152.2 L451.6 151.6 L452.3 151.0 L452.6 150.4 L452.4 149.7 L452.7 148.8 L453.5 148.6 L454.2 148.8 L454.9 148.6" fill="none" stroke="#1422d6" stroke-width="0.90" stroke-opacity="1.00" stroke-dasharray="0.9 0.4"/>
<path d="M418.4 163.7 L418.1 164.2 L417.2 164.4 L417.2 163.7 L417.6 163.0 L418.0 162.5 L418.5 162.0 L419.4 162.1 L420.2 162.5 L420.5 163.0 L420.7 163.8 L420.6 164.4 L420.0 165.0 L419.3 164.9 L419.4 164.3 L419.5 163.5 L419.9 162.8 L420.5 162.4 L421.3 162.5 L422.0 163.0 L422.2 163.8 L422.2 164.6 L421.7 164.6 L421.1 164.1 L420.9 163.5" fill="none" stroke="#1422d6" stroke-width="0.70" stroke-opacity="0.86" stroke-dasharray="0.9 0.4"/>
<path d="M418.5 161.5 L418.5 160.9 L419.0 160.4 L419.5 160.3 L420.2 159.9 L420.5 159.1 L420.2 158.4 L419.8 157.7 L419.0 157.2 L418.5 157.2 L417.9 157.3 L417.5 157.9 L417.5 158.6 L418.0 159.1 L418.7 159.2 L419.3 159.1 L419.8 158.6 L419.9 158.0 L419.5 157.3 L418.8 156.9 L418.1 156.9 L417.5 157.3 L416.9 157.8 L416.3 158.2 L415.5 158.0 L415.1 157.6 L414.8 157.0 L415.2 156.2 L415.6 155.6 L416.2 155.4 L416.9 154.8" fill="none" stroke="#1422d6" stroke-width="0.70" stroke-opacity="0.86" stroke-dasharray="0.9 0.4"/>
<path d="M423.7 160.8 L422.9 160.5 L422.5 160.0 L422.1 159.2 L422.0 158.7 L421.9 157.9 L422.1 157.3 L422.4 156.8 L423.0 156.2 L423.6 155.8 L423.8 156.3 L424.0 157.0 L424.0 157.6 L423.6 158.1 L423.0 158.2 L422.5 158.2 L422.0 158.0 L421.5 157.7 L421.2 157.1 L420.6 156.6 L419.9 156.3 L419.1 156.3" fill="none" stroke="#1422d6" stroke-width="0.70" stroke-opacity="0.86" stroke-dasharray="0.9 0.4"/>
<path d="M422.7 159.9 L422.3 159.3 L422.1 158.5 L422.5 157.8 L422.7 157.0 L422.8 156.2 L422.7 155.5 L422.2 155.1 L421.6 155.6 L421.1 156.4 L420.8 156.9 L420.9 157.7 L421.1 158.3 L421.5 158.8 L422.1 159.4 L422.8 159.7 L423.5 160.0 L423.9 160.7 L423.9 161.2 L423.9 161.8 L423.7 162.7 L423.5 163.2 L422.7 163.0" fill="none" stroke="#1422d6" stroke-width="0.70" stroke-opacity="0.86" stroke-dasharray="0.9 0.4"/>
<path d="M415.4 161.3 L414.9 161.5 L414.6 162.0 L414.4 162.5 L415.1 162.5 L415.7 163.0 L415.9 163.6 L416.0 164.2 L416.6 164.4 L417.2 164.3 L418.0 164.4 L418.8 164.3 L419.4 164.5 L419.9 165.0 L420.5 164.5 L420.3 163.9 L420.5 163.4 L421.0 163.0 L421.6 162.7 L422.4 162.6 L423.1 162.9 L423.7 163.4 L424.5 163.4 L425.2 163.0 L425.6 162.5 L425.7 161.9" fill="none" stroke="#1422d6" stroke-width="0.70" stroke-opacity="0.86" stroke-dasharray="0.9 0.4"/>
<path d="M436.8 167.1 L436.5 166.6 L436.1 166.1 L435.5 165.7 L434.7 165.7 L434.1 165.4 L433.7 164.9 L433.7 164.3 L433.9 163.7 L434.6 163.3 L435.2 163.2 L435.3 163.9 L435.2 164.7 L435.0 165.5 L434.5 166.0 L433.9 166.1 L433.3 166.0 L432.9 165.4 L432.8 164.7 L432.9 164.0 L433.3 163.4 L433.8 162.9" fill="none" stroke="#1422d6" stroke-width="0.70" stroke-opacity="0.86" stroke-dasharray="0.9 0.4"/>
<path d="M428.3 167.1 L428.0 167.6 L427.7 168.4 L427.5 169.2 L427.7 169.9 L428.0 170.4 L428.8 170.1 L429.1 169.7 L429.1 168.9 L428.7 168.2 L428.3 167.8 L427.6 167.7 L426.9 168.0 L426.4 168.5 L426.4 169.4 L426.6 170.0 L427.1 170.6 L427.9 170.9 L428.7 170.8 L429.3 170.4 L429.9 170.4 L430.7 170.5 L431.4 170.2 L432.0 170.4 L432.4 169.8 L432.8 169.0 L432.6 168.3 L432.3 167.8 L431.5 167.5 L430.8 167.5 L430.1 168.0" fill="none" stroke="#1422d6" stroke-width="0.70" stroke-opacity="0.86" stroke-dasharray="0.9 0.4"/>
<path d="M425.2 167.2 L425.3 167.8 L425.3 168.4 L425.1 169.3 L424.9 170.2 L425.5 170.9 L426.1 170.9 L426.7 170.9 L427.5 170.5 L428.1 170.5 L428.8 170.2 L429.3 170.0 L429.9 170.2 L430.4 170.6 L431.2 170.6 L431.8 170.1 L432.6 170.0 L433.2 169.7 L433.9 169.2 L434.2 168.4" fill="none" stroke="#1422d6" stroke-width="0.70" stroke-opacity="0.86" stroke-dasharray="0.9 0.4"/>
<path d="M434.8 166.9 L435.3 166.3 L435.5 165.6 L435.5 164.7 L435.4 164.0 L434.8 163.4 L434.1 162.9 L433.3 163.1 L432.7 163.4 L432.5 164.0 L432.4 164.8 L432.8 165.5 L433.4 166.0 L434.0 166.1 L434.6 166.0 L435.1 165.6 L435.2 164.8 L435.1 164.0 L434.8 163.4 L434.2 162.8 L433.7 163.1 L433.2 163.4 L432.7 163.8 L432.2 164.5 L432.2 165.1 L432.3 166.0" fill="none" stroke="#1422d6" stroke-width="0.70" stroke-opacity="0.86" stroke-dasharray="0.9 0.4"/>
<path d="M427.9 167.5 L428.1 166.9 L428.2 166.2 L428.3 165.4 L428.1 164.9 L427.4 164.5 L426.5 164.7 L426.1 165.3 L425.8 166.1 L425.9 166.6 L426.2 167.2 L426.8 167.5 L427.6 167.7 L428.3 167.3 L428.8 166.7 L429.1 166.0 L429.1 165.5 L428.8 164.9 L428.0 164.6 L427.4 164.7 L426.9 165.2 L426.9 165.7 L427.2 166.5 L427.6 167.0 L428.2 167.5 L428.8 167.4 L429.4 167.0 L429.6 166.5 L429.8 165.8 L429.5 165.3 L429.1 164.8 L428.4 164.6 L428.0 164.1 L428.0 163.4" fill="none" stroke="#1422d6" stroke-width="0.70" stroke-opacity="0.86" stroke-dasharray="0.9 0.4"/>
<path d="M433.0 163.6 L432.2 163.6 L431.5 163.1 L430.9 163.3 L430.4 163.8 L430.2 164.5 L430.1 165.2 L430.4 165.7 L430.9 166.2 L431.7 166.2 L432.4 166.1 L432.9 165.7 L433.4 165.0 L433.4 164.4 L432.9 163.9" fill="none" stroke="#1422d6" stroke-width="0.70" stroke-opacity="0.86" stroke-dasharray="0.9 0.4"/>
<path d="M446.6 167.4 L446.4 166.8 L446.0 166.1 L445.1 165.8 L444.3 165.7 L443.5 166.0 L442.8 166.5 L442.4 167.0 L443.1 167.4 L443.9 167.6 L444.5 167.7 L445.2 167.4 L445.5 166.9 L446.3 166.6 L446.8 166.5 L447.4 166.7 L447.9 167.3 L448.1 168.2 L447.8 168.9" fill="none" stroke="#1422d6" stroke-width="0.70" stroke-opacity="0.86" stroke-dasharray="0.9 0.4"/>
<path d="M449.6 163.5 L448.7 163.2 L448.0 163.3 L447.4 163.6 L447.1 164.4 L446.5 164.9 L445.8 165.0 L445.1 164.4 L445.1 163.6 L445.5 163.0 L446.2 162.8 L447.0 162.9 L447.6 163.5 L448.1 164.0 L448.3 164.7 L448.3 165.6 L447.9 166.3 L447.2 166.8 L446.4 166.9 L445.7 167.2 L445.4 167.9 L445.7 168.5 L446.1 168.9 L446.9 169.2 L447.5 168.8 L447.8 168.2 L447.9 167.4 L447.9 166.7 L447.5 166.1 L446.8 165.8 L446.0 165.9 L445.3 165.9 L444.7 165.5 L444.3 164.8 L443.8 164.3" fill="none" stroke="#1422d6" stroke-width="0.70" stroke-opacity="0.86" stroke-dasharray="0.9 0.4"/>
<path d="M450.0 168.4 L450.4 169.1 L450.3 169.9 L449.7 169.6 L449.1 169.4 L448.4 169.1 L447.7 169.3 L447.3 169.8 L446.7 169.9 L446.0 169.9 L445.3 169.6 L444.8 169.2 L444.5 168.5 L443.8 168.0 L443.1 167.6 L442.2 167.6 L441.9 166.9 L441.7 166.4 L441.8 165.8 L441.8 165.1 L442.0 164.5 L442.6 164.2 L443.3 164.2" fill="none" stroke="#1422d6" stroke-width="0.70" stroke-opacity="0.86" stroke-dasharray="0.9 0.4"/>
<path d="M450.0 165.2 L449.3 164.9 L448.5 165.0 L448.0 165.2 L447.7 165.7 L447.6 166.5 L447.4 167.4 L446.9 167.8 L446.2 168.4 L445.4 168.8 L444.8 168.7 L444.3 168.3 L443.9 167.7 L443.8 166.9 L443.9 166.2 L444.2 165.6 L444.7 165.1 L445.4 165.0 L446.2 165.1 L446.8 165.6 L447.1 166.2 L447.1 167.0 L447.1 167.6 L446.8 168.4 L446.2 168.9 L445.6 169.2" fill="none" stroke="#1422d6" stroke-width="0.70" stroke-opacity="0.86" stroke-dasharray="0.9 0.4"/>
<path d="M431.7 129.4 L432.0 129.8 L432.7 130.4 L433.4 130.3 L434.0 130.0 L434.5 129.5 L434.7 128.7 L434.4 127.9 L434.0 127.5 L433.4 127.5 L432.8 127.7 L432.4 128.2 L432.4 128.8 L432.7 129.4 L433.1 130.0 L433.8 130.3 L434.6 130.3 L435.4 130.0 L435.8 129.6 L435.9 129.0 L435.1 128.6 L434.5 128.8 L434.1 129.5 L434.2 130.3 L433.8 131.0 L433.3 131.5 L432.5 131.8 L431.9 131.7 L431.4 131.2 L431.4 130.6 L430.9 129.9 L430.3 129.5 L429.5 129.5" fill="none" stroke="#1422d6" stroke-width="0.70" stroke-opacity="0.83" stroke-dasharray="0.9 0.4"/>
<path d="M433.0 130.1 L433.3 130.8 L434.0 131.1 L434.7 131.1 L435.4 131.0 L436.2 130.8 L436.8 130.3 L436.4 129.6 L435.7 129.5 L434.8 129.5 L434.2 129.7 L433.5 130.0 L433.1 130.4 L432.8 131.0 L432.8 131.8 L433.2 132.4 L433.8 132.8 L434.4 133.1 L435.1 133.0 L435.7 133.1 L435.5 132.3 L435.1 131.9 L434.5 131.7 L434.0 131.2 L433.7 130.7 L433.1 130.1 L432.3 130.0 L431.5 129.8 L430.8 129.7 L430.0 129.3 L429.7 128.8 L429.3 128.3 L428.9 127.6 L429.0 127.0" fill="none" stroke="#1422d6" stroke-width="0.70" stroke-opacity="0.83" stroke-dasharray="0.9 0.4"/>
<path d="M433.8 131.7 L433.7 132.5 L433.6 133.1 L433.6 133.9 L433.8 134.5 L433.5 135.0 L432.7 135.3 L432.0 135.3 L431.4 135.0 L431.0 134.6 L430.7 134.0 L430.2 133.6 L429.8 133.0 L429.3 132.3 L429.2 131.5 L429.0 130.9 L428.7 130.2 L428.1 129.9 L427.2 130.1 L426.4 130.2 L425.8 130.6 L426.4 131.2 L426.8 131.6 L427.1 132.3 L427.0 133.1 L427.4 133.7 L427.9 134.1 L428.6 134.3" fill="none" stroke="#1422d6" stroke-width="0.70" stroke-opacity="0.83" stroke-dasharray="0.9 0.4"/>
<path d="M458.0 145.4 L458.5 145.0 L459.3 144.8 L459.9 144.7 L460.5 144.6 L461.1 144.8 L461.7 144.9 L462.3 145.0 L462.6 144.4 L462.6 143.8 L462.1 143.2 L462.1 142.4 L462.2 141.7 L461.8 141.2 L461.7 140.5 L461.9 139.8 L461.3 139.3 L461.0 138.7 L460.8 138.2 L460.9 137.4 L461.2 136.9 L461.7 137.4" fill="none" stroke="#1422d6" stroke-width="0.70" stroke-opacity="0.76" stroke-dasharray="0.9 0.4"/>
<path d="M457.7 145.6 L457.5 146.4 L457.0 147.0 L456.5 147.3 L456.1 146.7 L455.6 146.0 L455.6 145.2 L455.8 144.4 L456.1 143.8 L456.5 143.0 L456.6 142.4 L456.3 141.8 L455.7 141.3 L456.0 140.5 L456.6 140.2 L457.3 139.7 L457.8 139.0 L458.0 138.2 L457.9 137.6 L457.5 137.1 L456.8 137.0 L456.5 137.4 L457.0 138.1 L457.4 138.6 L458.1 138.7 L458.8 138.4 L459.3 137.7 L459.3 137.0 L459.0 136.2 L458.6 135.6 L458.1 136.0 L458.0 136.6" fill="none" stroke="#1422d6" stroke-width="0.70" stroke-opacity="0.76" stroke-dasharray="0.9 0.4"/>
<path d="M459.4 138.4 L459.9 137.9 L460.2 137.1 L460.0 136.6 L459.4 136.2 L458.6 135.8 L457.9 135.7 L457.6 136.5 L457.9 137.2 L458.3 137.6 L459.0 138.0 L459.6 138.3 L460.3 138.2 L460.7 137.8 L460.8 136.9 L460.5 136.4 L459.8 136.0 L459.2 135.9" fill="none" stroke="#1422d6" stroke-width="0.70" stroke-opacity="0.76" stroke-dasharray="0.9 0.4"/>
<path d="M450.2 125.5 L451.2 128.0 L452.2 131.0" fill="none" stroke="#1422d6" stroke-width="0.70" stroke-opacity="0.83" stroke-dasharray="0.9 0.4"/>
<path d="M438.0 166.0 L439.2 169.0 L440.7 173.5" fill="none" stroke="#1422d6" stroke-width="0.70" stroke-opacity="0.83" stroke-dasharray="0.9 0.4"/>
<rect x="440.9" y="163.5" width="0.8" height="0.8" fill="#1422d6" fill-opacity="0.75"/>
<rect x="446.1" y="147.8" width="0.8" height="0.8" fill="#1422d6" fill-opacity="0.75"/>
<rect x="426.2" y="134.9" width="0.8" height="0.8" fill="#1422d6" fill-opacity="0.75"/>
<rect x="455.6" y="148.7" width="0.8" height="0.8" fill="#1422d6" fill-opacity="0.75"/>
<rect x="417.5" y="139.6" width="0.8" height="0.8" fill="#1422d6" fill-opacity="0.75"/>
<rect x="435.0" y="144.0" width="0.8" height="0.8" fill="#1422d6" fill-opacity="0.75"/>
<rect x="447.5" y="166.7" width="0.8" height="0.8" fill="#1422d6" fill-opacity="0.75"/>
<rect x="443.3" y="155.6" width="0.8" height="0.8" fill="#1422d6" fill-opacity="0.75"/>
<rect x="435.7" y="158.8" width="0.8" height="0.8" fill="#1422d6" fill-opacity="0.75"/>
<rect x="425.7" y="151.6" width="0.8" height="0.8" fill="#1422d6" fill-opacity="0.75"/>
<rect x="421.0" y="150.3" width="0.8" height="0.8" fill="#1422d6" fill-opacity="0.75"/>
<rect x="442.1" y="136.8" width="0.8" height="0.8" fill="#1422d6" fill-opacity="0.75"/>
<rect x="436.4" y="132.4" width="0.8" height="0.8" fill="#1422d6" fill-opacity="0.75"/>
<rect x="425.0" y="169.2" width="0.8" height="0.8" fill="#1422d6" fill-opacity="0.75"/>
<rect x="438.2" y="166.1" width="0.8" height="0.8" fill="#1422d6" fill-opacity="0.75"/>
<rect x="448.1" y="139.2" width="0.8" height="0.8" fill="#1422d6" fill-opacity="0.75"/>
<rect x="450.0" y="168.3" width="0.8" height="0.8" fill="#1422d6" fill-opacity="0.75"/>
<rect x="419.6" y="151.4" width="0.8" height="0.8" fill="#1422d6" fill-opacity="0.75"/>
<rect x="438.2" y="140.7" width="0.8" height="0.8" fill="#1422d6" fill-opacity="0.75"/>
<rect x="445.0" y="152.0" width="0.8" height="0.8" fill="#1422d6" fill-opacity="0.75"/>
<rect x="444.1" y="170.3" width="0.8" height="0.8" fill="#1422d6" fill-opacity="0.75"/>
<rect x="449.1" y="147.3" width="0.8" height="0.8" fill="#1422d6" fill-opacity="0.75"/>
<rect x="435.3" y="164.4" width="0.8" height="0.8" fill="#1422d6" fill-opacity="0.75"/>
<rect x="426.3" y="134.9" width="0.8" height="0.8" fill="#1422d6" fill-opacity="0.75"/>
<rect x="432.3" y="142.0" width="0.8" height="0.8" fill="#1422d6" fill-opacity="0.75"/>
<rect x="436.2" y="127.9" width="0.8" height="0.8" fill="#1422d6" fill-opacity="0.75"/>
<rect x="435.4" y="135.5" width="0.8" height="0.8" fill="#1422d6" fill-opacity="0.75"/>
<rect x="446.2" y="164.9" width="0.8" height="0.8" fill="#1422d6" fill-opacity="0.75"/>
<rect x="414.0" y="149.8" width="0.8" height="0.8" fill="#1422d6" fill-opacity="0.75"/>
<rect x="431.6" y="144.9" width="0.8" height="0.8" fill="#1422d6" fill-opacity="0.75"/>
<rect x="437.9" y="172.5" width="0.8" height="0.8" fill="#1422d6" fill-opacity="0.75"/>
<rect x="443.6" y="131.8" width="0.8" height="0.8" fill="#1422d6" fill-opacity="0.75"/>
<rect x="428.8" y="133.6" width="0.8" height="0.8" fill="#1422d6" fill-opacity="0.75"/>
<rect x="445.6" y="151.4" width="0.8" height="0.8" fill="#1422d6" fill-opacity="0.75"/>
<rect x="441.1" y="133.0" width="0.8" height="0.8" fill="#1422d6" fill-opacity="0.75"/>
<rect x="430.2" y="145.1" width="0.8" height="0.8" fill="#1422d6" fill-opacity="0.75"/>
<rect x="446.7" y="128.6" width="0.8" height="0.8" fill="#1422d6" fill-opacity="0.75"/>
<rect x="433.6" y="153.6" width="0.8" height="0.8" fill="#1422d6" fill-opacity="0.75"/>
<rect x="431.6" y="159.5" width="0.8" height="0.8" fill="#1422d6" fill-opacity="0.75"/>
<rect x="429.1" y="157.4" width="0.8" height="0.8" fill="#1422d6" fill-opacity="0.75"/>
<rect x="444.1" y="146.2" width="0.8" height="0.8" fill="#1422d6" fill-opacity="0.75"/>
<rect x="456.4" y="137.1" width="0.8" height="0.8" fill="#1422d6" fill-opacity="0.75"/>
<rect x="435.1" y="135.2" width="0.8" height="0.8" fill="#1422d6" fill-opacity="0.75"/>
<rect x="433.7" y="147.8" width="0.8" height="0.8" fill="#1422d6" fill-opacity="0.75"/>
<rect x="458.3" y="140.6" width="0.8" height="0.8" fill="#1422d6" fill-opacity="0.75"/>
<rect x="418.1" y="150.8" width="0.8" height="0.8" fill="#1422d6" fill-opacity="0.75"/>
<rect x="439.0" y="168.9" width="0.8" height="0.8" fill="#1422d6" fill-opacity="0.75"/>
<rect x="438.8" y="167.6" width="0.8" height="0.8" fill="#1422d6" fill-opacity="0.75"/>
<rect x="436.4" y="126.5" width="0.8" height="0.8" fill="#1422d6" fill-opacity="0.75"/>
<rect x="418.2" y="156.5" width="0.8" height="0.8" fill="#1422d6" fill-opacity="0.75"/>
<rect x="431.7" y="143.6" width="0.8" height="0.8" fill="#1422d6" fill-opacity="0.75"/>
<rect x="415.1" y="151.2" width="0.8" height="0.8" fill="#1422d6" fill-opacity="0.75"/>
<rect x="428.2" y="157.2" width="0.8" height="0.8" fill="#1422d6" fill-opacity="0.75"/>
<rect x="446.3" y="155.7" width="0.8" height="0.8" fill="#1422d6" fill-opacity="0.75"/>
<rect x="418.1" y="148.9" width="0.8" height="0.8" fill="#1422d6" fill-opacity="0.75"/>
<rect x="455.7" y="156.1" width="0.8" height="0.8" fill="#1422d6" fill-opacity="0.75"/>
<rect x="444.1" y="164.7" width="0.8" height="0.8" fill="#1422d6" fill-opacity="0.75"/>
<rect x="442.3" y="131.4" width="0.8" height="0.8" fill="#1422d6" fill-opacity="0.75"/>
<rect x="420.9" y="166.1" width="0.8" height="0.8" fill="#1422d6" fill-opacity="0.75"/>
<rect x="451.4" y="129.2" width="0.8" height="0.8" fill="#1422d6" fill-opacity="0.75"/>
<rect x="440.2" y="137.3" width="1.2" height="1.2" fill="#40e040"/>
<rect x="440.9" y="136.8" width="1.2" height="1.2" fill="#40e040"/>
<rect x="440.7" y="138.4" width="1.2" height="1.2" fill="#40e040"/>
<rect x="438.3" y="135.9" width="1.2" height="1.2" fill="#40e040"/>
<rect x="438.2" y="137.9" width="1.2" height="1.2" fill="#40e040"/>
<rect x="441.9" y="137.7" width="1.2" height="1.2" fill="#40e040"/>
<rect x="438.3" y="140.2" width="1.2" height="1.2" fill="#40e040"/>
<rect x="439.3" y="140.0" width="1.2" height="1.2" fill="#40e040"/>
<rect x="438.2" y="140.5" width="1.2" height="1.2" fill="#40e040"/>
<rect x="440.0" y="137.1" width="1.2" height="1.2" fill="#40e040"/>
<rect x="439.4" y="138.8" width="1.2" height="1.2" fill="#40e040"/>
<rect x="439.7" y="140.1" width="1.2" height="1.2" fill="#40e040"/>
<rect x="442.5" y="137.5" width="1.2" height="1.2" fill="#40e040"/>
<rect x="437.7" y="138.2" width="1.2" height="1.2" fill="#40e040"/>
<rect x="443.2" y="134.7" width="1.2" height="1.2" fill="#60e060"/>
<rect x="441.0" y="134.1" width="1.2" height="1.2" fill="#60e060"/>
<rect x="442.1" y="133.3" width="1.2" height="1.2" fill="#60e060"/>
<rect x="441.2" y="133.5" width="1.2" height="1.2" fill="#60e060"/>
<rect x="443.0" y="133.7" width="1.2" height="1.2" fill="#60e060"/>
<rect x="442.2" y="133.3" width="1.2" height="1.2" fill="#60e060"/>
<rect x="436.9" y="141.1" width="1.1" height="1.1" fill="#40c0ff"/>
<rect x="440.8" y="143.1" width="1.1" height="1.1" fill="#40c0ff"/>
<rect x="441.0" y="143.1" width="1.1" height="1.1" fill="#40c0ff"/>
<rect x="438.0" y="141.1" width="1.1" height="1.1" fill="#40c0ff"/>
<rect x="441.7" y="141.7" width="1.1" height="1.1" fill="#40c0ff"/>
<rect x="439.7" y="142.6" width="1.1" height="1.1" fill="#40c0ff"/>
<rect x="437.3" y="142.8" width="1.1" height="1.1" fill="#40c0ff"/>
<rect x="441.3" y="143.0" width="1.1" height="1.1" fill="#40c0ff"/>
<rect x="447.8" y="138.8" width="1.1" height="1.1" fill="#ff5020"/>
<rect x="447.8" y="141.1" width="1.1" height="1.1" fill="#ff5020"/>
<rect x="450.0" y="139.5" width="1.1" height="1.1" fill="#ff5020"/>
<rect x="448.9" y="138.7" width="1.1" height="1.1" fill="#ff5020"/>
<rect x="449.3" y="138.2" width="1.1" height="1.1" fill="#ff5020"/>
<rect x="449.2" y="140.9" width="1.1" height="1.1" fill="#ff5020"/>
<rect x="447.3" y="140.9" width="1.1" height="1.1" fill="#ff5020"/>
<rect x="449.5" y="140.0" width="1.1" height="1.1" fill="#ff5020"/>
<rect x="448.7" y="140.5" width="1.1" height="1.1" fill="#ff5020"/>
<rect x="450.1" y="138.1" width="1.1" height="1.1" fill="#ff5020"/>
<rect x="283.5" y="58.8" width="57.0" height="56.5" fill="none" stroke="#111" stroke-width="1.1" />
<line x1="280.2" y1="61.8" x2="283.5" y2="61.8" stroke="#111" stroke-width="1.1" />
<line x1="287.5" y1="115.3" x2="287.5" y2="118.3" stroke="#111" stroke-width="1.1" />
<line x1="280.2" y1="68.0" x2="283.5" y2="68.0" stroke="#111" stroke-width="1.1" />
<line x1="293.7" y1="115.3" x2="293.7" y2="118.3" stroke="#111" stroke-width="1.1" />
<line x1="280.2" y1="74.2" x2="283.5" y2="74.2" stroke="#111" stroke-width="1.1" />
<line x1="299.9" y1="115.3" x2="299.9" y2="118.3" stroke="#111" stroke-width="1.1" />
<line x1="280.2" y1="80.4" x2="283.5" y2="80.4" stroke="#111" stroke-width="1.1" />
<line x1="306.1" y1="115.3" x2="306.1" y2="118.3" stroke="#111" stroke-width="1.1" />
<line x1="280.2" y1="86.6" x2="283.5" y2="86.6" stroke="#111" stroke-width="1.1" />
<line x1="312.3" y1="115.3" x2="312.3" y2="118.3" stroke="#111" stroke-width="1.1" />
<line x1="280.2" y1="92.8" x2="283.5" y2="92.8" stroke="#111" stroke-width="1.1" />
<line x1="318.5" y1="115.3" x2="318.5" y2="118.3" stroke="#111" stroke-width="1.1" />
<line x1="280.2" y1="99.0" x2="283.5" y2="99.0" stroke="#111" stroke-width="1.1" />
<line x1="324.7" y1="115.3" x2="324.7" y2="118.3" stroke="#111" stroke-width="1.1" />
<line x1="280.2" y1="105.19999999999999" x2="283.5" y2="105.19999999999999" stroke="#111" stroke-width="1.1" />
<line x1="330.9" y1="115.3" x2="330.9" y2="118.3" stroke="#111" stroke-width="1.1" />
<line x1="280.2" y1="111.4" x2="283.5" y2="111.4" stroke="#111" stroke-width="1.1" />
<line x1="337.1" y1="115.3" x2="337.1" y2="118.3" stroke="#111" stroke-width="1.1" />
<rect x="346.3" y="58.8" width="57.0" height="56.5" fill="none" stroke="#111" stroke-width="1.1" />
<line x1="343.0" y1="61.8" x2="346.3" y2="61.8" stroke="#111" stroke-width="1.1" />
<line x1="350.3" y1="115.3" x2="350.3" y2="118.3" stroke="#111" stroke-width="1.1" />
<line x1="343.0" y1="68.0" x2="346.3" y2="68.0" stroke="#111" stroke-width="1.1" />
<line x1="356.5" y1="115.3" x2="356.5" y2="118.3" stroke="#111" stroke-width="1.1" />
<line x1="343.0" y1="74.2" x2="346.3" y2="74.2" stroke="#111" stroke-width="1.1" />
<line x1="362.7" y1="115.3" x2="362.7" y2="118.3" stroke="#111" stroke-width="1.1" />
<line x1="343.0" y1="80.4" x2="346.3" y2="80.4" stroke="#111" stroke-width="1.1" />
<line x1="368.90000000000003" y1="115.3" x2="368.90000000000003" y2="118.3" stroke="#111" stroke-width="1.1" />
<line x1="343.0" y1="86.6" x2="346.3" y2="86.6" stroke="#111" stroke-width="1.1" />
<line x1="375.1" y1="115.3" x2="375.1" y2="118.3" stroke="#111" stroke-width="1.1" />
<line x1="343.0" y1="92.8" x2="346.3" y2="92.8" stroke="#111" stroke-width="1.1" />
<line x1="381.3" y1="115.3" x2="381.3" y2="118.3" stroke="#111" stroke-width="1.1" />
<line x1="343.0" y1="99.0" x2="346.3" y2="99.0" stroke="#111" stroke-width="1.1" />
<line x1="387.5" y1="115.3" x2="387.5" y2="118.3" stroke="#111" stroke-width="1.1" />
<line x1="343.0" y1="105.19999999999999" x2="346.3" y2="105.19999999999999" stroke="#111" stroke-width="1.1" />
<line x1="393.7" y1="115.3" x2="393.7" y2="118.3" stroke="#111" stroke-width="1.1" />
<line x1="343.0" y1="111.4" x2="346.3" y2="111.4" stroke="#111" stroke-width="1.1" />
<line x1="399.90000000000003" y1="115.3" x2="399.90000000000003" y2="118.3" stroke="#111" stroke-width="1.1" />
<rect x="409.2" y="58.8" width="57.0" height="56.5" fill="none" stroke="#111" stroke-width="1.1" />
<line x1="405.9" y1="61.8" x2="409.2" y2="61.8" stroke="#111" stroke-width="1.1" />
<line x1="413.2" y1="115.3" x2="413.2" y2="118.3" stroke="#111" stroke-width="1.1" />
<line x1="405.9" y1="68.0" x2="409.2" y2="68.0" stroke="#111" stroke-width="1.1" />
<line x1="419.4" y1="115.3" x2="419.4" y2="118.3" stroke="#111" stroke-width="1.1" />
<line x1="405.9" y1="74.2" x2="409.2" y2="74.2" stroke="#111" stroke-width="1.1" />
<line x1="425.59999999999997" y1="115.3" x2="425.59999999999997" y2="118.3" stroke="#111" stroke-width="1.1" />
<line x1="405.9" y1="80.4" x2="409.2" y2="80.4" stroke="#111" stroke-width="1.1" />
<line x1="431.8" y1="115.3" x2="431.8" y2="118.3" stroke="#111" stroke-width="1.1" />
<line x1="405.9" y1="86.6" x2="409.2" y2="86.6" stroke="#111" stroke-width="1.1" />
<line x1="438.0" y1="115.3" x2="438.0" y2="118.3" stroke="#111" stroke-width="1.1" />
<line x1="405.9" y1="92.8" x2="409.2" y2="92.8" stroke="#111" stroke-width="1.1" />
<line x1="444.2" y1="115.3" x2="444.2" y2="118.3" stroke="#111" stroke-width="1.1" />
<line x1="405.9" y1="99.0" x2="409.2" y2="99.0" stroke="#111" stroke-width="1.1" />
<line x1="450.4" y1="115.3" x2="450.4" y2="118.3" stroke="#111" stroke-width="1.1" />
<line x1="405.9" y1="105.19999999999999" x2="409.2" y2="105.19999999999999" stroke="#111" stroke-width="1.1" />
<line x1="456.59999999999997" y1="115.3" x2="456.59999999999997" y2="118.3" stroke="#111" stroke-width="1.1" />
<line x1="405.9" y1="111.4" x2="409.2" y2="111.4" stroke="#111" stroke-width="1.1" />
<line x1="462.8" y1="115.3" x2="462.8" y2="118.3" stroke="#111" stroke-width="1.1" />
<rect x="283.5" y="121.5" width="57.0" height="56.5" fill="none" stroke="#111" stroke-width="1.1" />
<line x1="280.2" y1="124.5" x2="283.5" y2="124.5" stroke="#111" stroke-width="1.1" />
<line x1="287.5" y1="178.0" x2="287.5" y2="181.0" stroke="#111" stroke-width="1.1" />
<line x1="280.2" y1="130.7" x2="283.5" y2="130.7" stroke="#111" stroke-width="1.1" />
<line x1="293.7" y1="178.0" x2="293.7" y2="181.0" stroke="#111" stroke-width="1.1" />
<line x1="280.2" y1="136.9" x2="283.5" y2="136.9" stroke="#111" stroke-width="1.1" />
<line x1="299.9" y1="178.0" x2="299.9" y2="181.0" stroke="#111" stroke-width="1.1" />
<line x1="280.2" y1="143.1" x2="283.5" y2="143.1" stroke="#111" stroke-width="1.1" />
<line x1="306.1" y1="178.0" x2="306.1" y2="181.0" stroke="#111" stroke-width="1.1" />
<line x1="280.2" y1="149.3" x2="283.5" y2="149.3" stroke="#111" stroke-width="1.1" />
<line x1="312.3" y1="178.0" x2="312.3" y2="181.0" stroke="#111" stroke-width="1.1" />
<line x1="280.2" y1="155.5" x2="283.5" y2="155.5" stroke="#111" stroke-width="1.1" />
<line x1="318.5" y1="178.0" x2="318.5" y2="181.0" stroke="#111" stroke-width="1.1" />
<line x1="280.2" y1="161.7" x2="283.5" y2="161.7" stroke="#111" stroke-width="1.1" />
<line x1="324.7" y1="178.0" x2="324.7" y2="181.0" stroke="#111" stroke-width="1.1" />
<line x1="280.2" y1="167.9" x2="283.5" y2="167.9" stroke="#111" stroke-width="1.1" />
<line x1="330.9" y1="178.0" x2="330.9" y2="181.0" stroke="#111" stroke-width="1.1" />
<line x1="280.2" y1="174.1" x2="283.5" y2="174.1" stroke="#111" stroke-width="1.1" />
<line x1="337.1" y1="178.0" x2="337.1" y2="181.0" stroke="#111" stroke-width="1.1" />
<rect x="346.3" y="121.5" width="57.0" height="56.5" fill="none" stroke="#111" stroke-width="1.1" />
<line x1="343.0" y1="124.5" x2="346.3" y2="124.5" stroke="#111" stroke-width="1.1" />
<line x1="350.3" y1="178.0" x2="350.3" y2="181.0" stroke="#111" stroke-width="1.1" />
<line x1="343.0" y1="130.7" x2="346.3" y2="130.7" stroke="#111" stroke-width="1.1" />
<line x1="356.5" y1="178.0" x2="356.5" y2="181.0" stroke="#111" stroke-width="1.1" />
<line x1="343.0" y1="136.9" x2="346.3" y2="136.9" stroke="#111" stroke-width="1.1" />
<line x1="362.7" y1="178.0" x2="362.7" y2="181.0" stroke="#111" stroke-width="1.1" />
<line x1="343.0" y1="143.1" x2="346.3" y2="143.1" stroke="#111" stroke-width="1.1" />
<line x1="368.90000000000003" y1="178.0" x2="368.90000000000003" y2="181.0" stroke="#111" stroke-width="1.1" />
<line x1="343.0" y1="149.3" x2="346.3" y2="149.3" stroke="#111" stroke-width="1.1" />
<line x1="375.1" y1="178.0" x2="375.1" y2="181.0" stroke="#111" stroke-width="1.1" />
<line x1="343.0" y1="155.5" x2="346.3" y2="155.5" stroke="#111" stroke-width="1.1" />
<line x1="381.3" y1="178.0" x2="381.3" y2="181.0" stroke="#111" stroke-width="1.1" />
<line x1="343.0" y1="161.7" x2="346.3" y2="161.7" stroke="#111" stroke-width="1.1" />
<line x1="387.5" y1="178.0" x2="387.5" y2="181.0" stroke="#111" stroke-width="1.1" />
<line x1="343.0" y1="167.9" x2="346.3" y2="167.9" stroke="#111" stroke-width="1.1" />
<line x1="393.7" y1="178.0" x2="393.7" y2="181.0" stroke="#111" stroke-width="1.1" />
<line x1="343.0" y1="174.1" x2="346.3" y2="174.1" stroke="#111" stroke-width="1.1" />
<line x1="399.90000000000003" y1="178.0" x2="399.90000000000003" y2="181.0" stroke="#111" stroke-width="1.1" />
<rect x="409.2" y="121.5" width="57.0" height="56.5" fill="none" stroke="#111" stroke-width="1.1" />
<line x1="405.9" y1="124.5" x2="409.2" y2="124.5" stroke="#111" stroke-width="1.1" />
<line x1="413.2" y1="178.0" x2="413.2" y2="181.0" stroke="#111" stroke-width="1.1" />
<line x1="405.9" y1="130.7" x2="409.2" y2="130.7" stroke="#111" stroke-width="1.1" />
<line x1="419.4" y1="178.0" x2="419.4" y2="181.0" stroke="#111" stroke-width="1.1" />
<line x1="405.9" y1="136.9" x2="409.2" y2="136.9" stroke="#111" stroke-width="1.1" />
<line x1="425.59999999999997" y1="178.0" x2="425.59999999999997" y2="181.0" stroke="#111" stroke-width="1.1" />
<line x1="405.9" y1="143.1" x2="409.2" y2="143.1" stroke="#111" stroke-width="1.1" />
<line x1="431.8" y1="178.0" x2="431.8" y2="181.0" stroke="#111" stroke-width="1.1" />
<line x1="405.9" y1="149.3" x2="409.2" y2="149.3" stroke="#111" stroke-width="1.1" />
<line x1="438.0" y1="178.0" x2="438.0" y2="181.0" stroke="#111" stroke-width="1.1" />
<line x1="405.9" y1="155.5" x2="409.2" y2="155.5" stroke="#111" stroke-width="1.1" />
<line x1="444.2" y1="178.0" x2="444.2" y2="181.0" stroke="#111" stroke-width="1.1" />
<line x1="405.9" y1="161.7" x2="409.2" y2="161.7" stroke="#111" stroke-width="1.1" />
<line x1="450.4" y1="178.0" x2="450.4" y2="181.0" stroke="#111" stroke-width="1.1" />
<line x1="405.9" y1="167.9" x2="409.2" y2="167.9" stroke="#111" stroke-width="1.1" />
<line x1="456.59999999999997" y1="178.0" x2="456.59999999999997" y2="181.0" stroke="#111" stroke-width="1.1" />
<line x1="405.9" y1="174.1" x2="409.2" y2="174.1" stroke="#111" stroke-width="1.1" />
<line x1="462.8" y1="178.0" x2="462.8" y2="181.0" stroke="#111" stroke-width="1.1" />
<defs><linearGradient id="jet" x1="0" y1="0" x2="0" y2="1"><stop offset="0" stop-color="#7a0000"/><stop offset="0.15" stop-color="#ff0000"/><stop offset="0.33" stop-color="#ff8000"/><stop offset="0.48" stop-color="#ffff00"/><stop offset="0.58" stop-color="#80ff40"/><stop offset="0.72" stop-color="#30f0f0"/><stop offset="0.87" stop-color="#0050ff"/><stop offset="1" stop-color="#0000a0"/></linearGradient></defs>
<rect x="466.0" y="58.2" width="1.8" height="57.2" fill="#808080" />
<rect x="467.8" y="58.2" width="5.2" height="57.2" fill="url(#jet)" />
<line x1="473.2" y1="58.2" x2="473.2" y2="115.4" stroke="#222" stroke-width="0.8" />
<line x1="467.8" y1="58.4" x2="473.4" y2="58.4" stroke="#222" stroke-width="0.8" />
<line x1="473" y1="59.2" x2="475.2" y2="59.2" stroke="#111" stroke-width="1.1" />
<text x="475.6" y="61.800000000000004" font-size="7.3" fill="#222">567</text>
<line x1="473" y1="73.2" x2="475.2" y2="73.2" stroke="#111" stroke-width="1.1" />
<text x="475.6" y="75.8" font-size="7.3" fill="#222">146</text>
<line x1="473" y1="86.8" x2="475.2" y2="86.8" stroke="#111" stroke-width="1.1" />
<text x="475.6" y="89.39999999999999" font-size="7.3" fill="#222">37</text>
<line x1="473" y1="100.8" x2="475.2" y2="100.8" stroke="#111" stroke-width="1.1" />
<text x="475.6" y="103.39999999999999" font-size="7.3" fill="#222">9</text>
<line x1="473" y1="114.9" x2="475.2" y2="114.9" stroke="#111" stroke-width="1.1" />
<text x="475.6" y="117.5" font-size="7.3" fill="#222">0</text>
<line x1="491.6" y1="59.0" x2="491.6" y2="177.8" stroke="#111" stroke-width="1.2" />
<text x="503.6" y="130.5" font-size="10.0" fill="#333" textLength="24.9" lengthAdjust="spacingAndGlyphs" transform="rotate(-90 503.6 130.5)">CD56</text>
<line x1="274.2" y1="187.8" x2="274.2" y2="89.0" stroke="#111" stroke-width="1.1" />
<polygon points="274.2,83.3 271.4,89.6 277.0,89.6" fill="#111"/>
<line x1="273.7" y1="187.3" x2="442.0" y2="187.3" stroke="#111" stroke-width="1.1" />
<polygon points="447.4,187.3 441.3,184.8 441.3,189.8" fill="#111"/>
<text x="278.7" y="76.0" font-size="8.2" fill="#333" textLength="21.2" lengthAdjust="spacingAndGlyphs" transform="rotate(-90 278.7 76.0)">tSNE2</text>
<text x="449.7" y="190.4" font-size="8.2" fill="#333" textLength="20.2" lengthAdjust="spacingAndGlyphs">tSNE1</text>
<text x="265.0" y="98.7" font-size="10.4" fill="#444" textLength="22.7" lengthAdjust="spacingAndGlyphs" transform="rotate(-90 265.0 98.7)">BMMC</text>
<text x="265.0" y="160.0" font-size="10.4" fill="#444" textLength="21.2" lengthAdjust="spacingAndGlyphs" transform="rotate(-90 265.0 160.0)">PBMC</text>
<text x="10.5" y="231.3" font-size="10.2" fill="#000" font-weight="bold" textLength="7.5" lengthAdjust="spacingAndGlyphs">C</text>
<text x="265.0" y="230.5" font-size="10.2" fill="#000" font-weight="bold" textLength="8.0" lengthAdjust="spacingAndGlyphs">D</text>
<text x="72.5" y="251.8" font-size="8.3" fill="#222" textLength="20.0" lengthAdjust="spacingAndGlyphs">K562</text>
<text x="137.9" y="228.8" font-size="8.3" fill="#1f4ec2" textLength="29.4" lengthAdjust="spacingAndGlyphs">Healthy</text>
<text x="133.8" y="239.2" font-size="8.3" fill="#1f4ec2" textLength="38.3" lengthAdjust="spacingAndGlyphs">PBMC NK</text>
<text x="138.7" y="251.8" font-size="8.3" fill="#222" textLength="27.4" lengthAdjust="spacingAndGlyphs">+ K562</text>
<text x="209.0" y="228.8" font-size="8.3" fill="#d01f38" textLength="22.0" lengthAdjust="spacingAndGlyphs">B-ALL</text>
<text x="200.0" y="239.2" font-size="8.3" fill="#d01f38" textLength="38.4" lengthAdjust="spacingAndGlyphs">PBMC NK</text>
<text x="206.6" y="251.8" font-size="8.3" fill="#222" textLength="28.0" lengthAdjust="spacingAndGlyphs">+ K562</text>
<text x="297.0" y="251.8" font-size="8.3" fill="#222" textLength="30.5" lengthAdjust="spacingAndGlyphs">MOLT-4</text>
<text x="362.5" y="228.8" font-size="8.3" fill="#1f4ec2" textLength="30.0" lengthAdjust="spacingAndGlyphs">Healthy</text>
<text x="358.0" y="239.2" font-size="8.3" fill="#1f4ec2" textLength="39.0" lengthAdjust="spacingAndGlyphs">PBMC NK</text>
<text x="359.5" y="251.8" font-size="8.3" fill="#222" textLength="38.0" lengthAdjust="spacingAndGlyphs">+ MOLT-4</text>
<text x="436.3" y="228.8" font-size="8.3" fill="#d01f38" textLength="22.2" lengthAdjust="spacingAndGlyphs">B-ALL</text>
<text x="427.0" y="239.2" font-size="8.3" fill="#d01f38" textLength="39.2" lengthAdjust="spacingAndGlyphs">PBMC NK</text>
<text x="429.5" y="251.8" font-size="8.3" fill="#222" textLength="37.5" lengthAdjust="spacingAndGlyphs">+ MOLT-4</text>
<rect x="12.2" y="257.1" width="18.8" height="59.999999999999986" fill="#c9c9c9" stroke="#111" stroke-width="1.3" />
<text x="23.4" y="308.1" font-size="9.0" fill="#2a2a2a" textLength="44.3" lengthAdjust="spacingAndGlyphs" transform="rotate(-90 23.4 308.1)">Experiment 1</text>
<rect x="12.2" y="324.3" width="18.8" height="59.40000000000002" fill="#c9c9c9" stroke="#111" stroke-width="1.3" />
<text x="23.4" y="375.0" font-size="9.0" fill="#2a2a2a" textLength="44.3" lengthAdjust="spacingAndGlyphs" transform="rotate(-90 23.4 375.0)">Experiment 2</text>
<rect x="12.2" y="391.1" width="18.8" height="59.60000000000001" fill="#c9c9c9" stroke="#111" stroke-width="1.3" />
<text x="23.4" y="441.9" font-size="9.0" fill="#2a2a2a" textLength="44.3" lengthAdjust="spacingAndGlyphs" transform="rotate(-90 23.4 441.9)">Experiment 3</text>
<line x1="43.1" y1="462.5" x2="43.1" y2="295.0" stroke="#111" stroke-width="1.1" />
<polygon points="43.1,289.1 40.6,295.4 45.6,295.4" fill="#111"/>
<line x1="42.6" y1="462.0" x2="184.5" y2="462.0" stroke="#111" stroke-width="1.1" />
<polygon points="190.0,462.0 184.0,459.5 184.0,464.5" fill="#111"/>
<text x="47.3" y="283.5" font-size="7.7" fill="#333" textLength="21.9" lengthAdjust="spacingAndGlyphs" transform="rotate(-90 47.3 283.5)">7-AAD</text>
<text x="203.0" y="465.8" font-size="7.7" fill="#333" textLength="40.0" lengthAdjust="spacingAndGlyphs">CFSE-Violet</text>
<line x1="269.7" y1="461.8" x2="269.7" y2="295.0" stroke="#111" stroke-width="1.1" />
<polygon points="269.7,289.0 267.2,295.3 272.2,295.3" fill="#111"/>
<line x1="269.2" y1="461.3" x2="410.5" y2="461.3" stroke="#111" stroke-width="1.1" />
<polygon points="416.2,461.3 410.2,458.8 410.2,463.8" fill="#111"/>
<text x="273.5" y="282.9" font-size="7.7" fill="#333" textLength="21.7" lengthAdjust="spacingAndGlyphs" transform="rotate(-90 273.5 282.9)">7-AAD</text>
<text x="429.9" y="465.5" font-size="7.7" fill="#333" textLength="39.8" lengthAdjust="spacingAndGlyphs">CFSE-Violet</text>
<defs><radialGradient id="dens" cx="0.5" cy="0.5" r="0.5"><stop offset="0" stop-color="#2ae62a"/><stop offset="0.55" stop-color="#2ee83a"/><stop offset="0.72" stop-color="#44ec80"/><stop offset="0.82" stop-color="#58e8d8"/><stop offset="0.91" stop-color="#40a0ff"/><stop offset="1" stop-color="#0a14f4"/></radialGradient><radialGradient id="hot" cx="0.5" cy="0.5" r="0.5"><stop offset="0" stop-color="#ff0000"/><stop offset="0.32" stop-color="#ff1000"/><stop offset="0.5" stop-color="#ffa000"/><stop offset="0.68" stop-color="#e8f000"/><stop offset="0.85" stop-color="#80f010" stop-opacity="0.6"/><stop offset="1" stop-color="#40ea20" stop-opacity="0"/></radialGradient><filter id="soft" x="-10%" y="-10%" width="120%" height="120%"><feGaussianBlur stdDeviation="0.35"/></filter></defs>
<rect x="53.9" y="257.9" width="59.9" height="60.5" fill="#fff"/>
<g filter="url(#soft)">
<ellipse cx="88.2" cy="274.0" rx="1.63" ry="1.63" fill="#0a14f4"/>
<ellipse cx="91.2" cy="279.8" rx="2.91" ry="4.6" fill="#0a14f4"/>
<ellipse cx="93.2" cy="278.3" rx="1.85" ry="1.85" fill="#0a14f4"/>
<ellipse cx="89.4" cy="283.6" rx="1.74" ry="1.74" fill="#0a14f4"/>
<ellipse cx="94.5" cy="297.5" rx="7.15" ry="8.1" fill="#0a14f4" transform="rotate(20 94.5 297.5)"/>
<ellipse cx="92.5" cy="304.5" rx="3.54" ry="4.6" fill="#0a14f4" transform="rotate(20 92.5 304.5)"/>
<ellipse cx="96.5" cy="291.5" rx="4.92" ry="2.8" fill="#0a14f4"/>
<ellipse cx="94.6" cy="298.0" rx="4.77" ry="5.72" fill="url(#dens)" transform="rotate(25 94.6 298.0)"/>
<ellipse cx="94.6" cy="297.9" rx="2.6" ry="3.0" fill="url(#hot)" transform="rotate(25 94.6 297.9)"/>
</g>
<line x1="77.0" y1="257.9" x2="77.0" y2="318.4" stroke="#707070" stroke-width="1.0" stroke-opacity="0.9"/>
<line x1="53.9" y1="288.6" x2="113.8" y2="288.6" stroke="#c8c8c8" stroke-width="1.0" stroke-opacity="0.9"/>
<rect x="53.9" y="257.9" width="59.9" height="60.5" fill="none" stroke="#333" stroke-width="0.9"/>
<line x1="51.5" y1="262.79999999999995" x2="53.9" y2="262.79999999999995" stroke="#333" stroke-width="0.8"/>
<line x1="59.199999999999996" y1="318.4" x2="59.199999999999996" y2="320.2" stroke="#333" stroke-width="0.8"/>
<line x1="51.5" y1="275.19999999999993" x2="53.9" y2="275.19999999999993" stroke="#333" stroke-width="0.8"/>
<line x1="71.6" y1="318.4" x2="71.6" y2="320.2" stroke="#333" stroke-width="0.8"/>
<line x1="51.5" y1="287.59999999999997" x2="53.9" y2="287.59999999999997" stroke="#333" stroke-width="0.8"/>
<line x1="84.0" y1="318.4" x2="84.0" y2="320.2" stroke="#333" stroke-width="0.8"/>
<line x1="51.5" y1="299.99999999999994" x2="53.9" y2="299.99999999999994" stroke="#333" stroke-width="0.8"/>
<line x1="96.4" y1="318.4" x2="96.4" y2="320.2" stroke="#333" stroke-width="0.8"/>
<line x1="51.5" y1="312.4" x2="53.9" y2="312.4" stroke="#333" stroke-width="0.8"/>
<line x1="108.8" y1="318.4" x2="108.8" y2="320.2" stroke="#333" stroke-width="0.8"/>
<text x="55.3" y="266.4" font-size="7.4" fill="#1a1a1a">0</text>
<text x="110.5" y="266.4" font-size="7.4" fill="#1a1a1a" text-anchor="end">2.41</text>
<text x="55.3" y="315.5" font-size="7.4" fill="#1a1a1a">0</text>
<text x="110.5" y="315.5" font-size="7.4" fill="#1a1a1a" text-anchor="end">97.6</text>
<rect x="122.3" y="257.7" width="60.2" height="60.5" fill="#fff"/>
<g filter="url(#soft)">
<ellipse cx="157.3" cy="272.8" rx="6.51" ry="5.87" fill="#0a14f4"/>
<ellipse cx="160.0" cy="280.0" rx="5.45" ry="4.92" fill="#0a14f4"/>
<ellipse cx="163.8" cy="280.5" rx="4.6" ry="8.1" fill="#0a14f4" transform="rotate(-28 163.8 280.5)"/>
<ellipse cx="163.0" cy="292.0" rx="7.36" ry="11.28" fill="#0a14f4" transform="rotate(12 163.0 292.0)"/>
<ellipse cx="155.0" cy="289.5" rx="3.86" ry="2.06" fill="#0a14f4" transform="rotate(-20 155.0 289.5)"/>
<ellipse cx="160.5" cy="301.5" rx="3.33" ry="3.86" fill="#0a14f4"/>
<ellipse cx="162.6" cy="291.6" rx="5.94" ry="11.24" fill="url(#dens)" transform="rotate(12 162.6 291.6)"/>
<ellipse cx="157.4" cy="274.3" rx="1.8" ry="1.8" fill="#80f0d8"/>
<ellipse cx="162.6" cy="293.3" rx="2.6" ry="3.4" fill="url(#hot)" transform="rotate(12 162.6 293.3)"/>
</g>
<line x1="145.7" y1="257.7" x2="145.7" y2="318.2" stroke="#707070" stroke-width="1.0" stroke-opacity="0.9"/>
<line x1="122.3" y1="288.5" x2="182.5" y2="288.5" stroke="#c0c0c0" stroke-width="1.0" stroke-opacity="0.9"/>
<rect x="122.3" y="257.7" width="60.2" height="60.5" fill="none" stroke="#333" stroke-width="0.9"/>
<line x1="119.89999999999999" y1="262.59999999999997" x2="122.3" y2="262.59999999999997" stroke="#333" stroke-width="0.8"/>
<line x1="127.6" y1="318.2" x2="127.6" y2="320.0" stroke="#333" stroke-width="0.8"/>
<line x1="119.89999999999999" y1="274.99999999999994" x2="122.3" y2="274.99999999999994" stroke="#333" stroke-width="0.8"/>
<line x1="140.0" y1="318.2" x2="140.0" y2="320.0" stroke="#333" stroke-width="0.8"/>
<line x1="119.89999999999999" y1="287.4" x2="122.3" y2="287.4" stroke="#333" stroke-width="0.8"/>
<line x1="152.4" y1="318.2" x2="152.4" y2="320.0" stroke="#333" stroke-width="0.8"/>
<line x1="119.89999999999999" y1="299.79999999999995" x2="122.3" y2="299.79999999999995" stroke="#333" stroke-width="0.8"/>
<line x1="164.8" y1="318.2" x2="164.8" y2="320.0" stroke="#333" stroke-width="0.8"/>
<line x1="119.89999999999999" y1="312.2" x2="122.3" y2="312.2" stroke="#333" stroke-width="0.8"/>
<line x1="177.2" y1="318.2" x2="177.2" y2="320.0" stroke="#333" stroke-width="0.8"/>
<text x="123.7" y="266.2" font-size="7.4" fill="#1a1a1a">0.074</text>
<text x="179.2" y="266.2" font-size="7.4" fill="#1a1a1a" text-anchor="end">25.5</text>
<text x="123.7" y="315.3" font-size="7.4" fill="#1a1a1a">0.037</text>
<text x="179.2" y="315.3" font-size="7.4" fill="#1a1a1a" text-anchor="end">74.4</text>
<rect x="191.1" y="257.9" width="61.0" height="61.10000000000002" fill="#fff"/>
<g filter="url(#soft)">
<ellipse cx="227.2" cy="273.5" rx="6.3" ry="5.24" fill="#0a14f4"/>
<ellipse cx="222.0" cy="271.5" rx="2.69" ry="1.95" fill="#0a14f4" transform="rotate(-20 222.0 271.5)"/>
<ellipse cx="229.5" cy="281.5" rx="5.24" ry="5.98" fill="#0a14f4"/>
<ellipse cx="230.5" cy="276.5" rx="4.18" ry="3.54" fill="#0a14f4"/>
<ellipse cx="231.0" cy="294.0" rx="7.36" ry="8.95" fill="#0a14f4" transform="rotate(20 231.0 294.0)"/>
<ellipse cx="231.9" cy="294.2" rx="5.51" ry="7.0" fill="url(#dens)" transform="rotate(20 231.9 294.2)"/>
<ellipse cx="231.9" cy="294.0" rx="2.5" ry="3.0" fill="url(#hot)" transform="rotate(20 231.9 294.0)"/>
</g>
<line x1="214.9" y1="257.9" x2="214.9" y2="319.0" stroke="#707070" stroke-width="1.0" stroke-opacity="0.9"/>
<line x1="191.1" y1="288.5" x2="252.1" y2="288.5" stroke="#444" stroke-width="1.0" stroke-opacity="0.9"/>
<rect x="191.1" y="257.9" width="61.0" height="61.10000000000002" fill="none" stroke="#333" stroke-width="0.9"/>
<line x1="188.7" y1="262.79999999999995" x2="191.1" y2="262.79999999999995" stroke="#333" stroke-width="0.8"/>
<line x1="196.4" y1="319.0" x2="196.4" y2="320.8" stroke="#333" stroke-width="0.8"/>
<line x1="188.7" y1="275.19999999999993" x2="191.1" y2="275.19999999999993" stroke="#333" stroke-width="0.8"/>
<line x1="208.8" y1="319.0" x2="208.8" y2="320.8" stroke="#333" stroke-width="0.8"/>
<line x1="188.7" y1="287.59999999999997" x2="191.1" y2="287.59999999999997" stroke="#333" stroke-width="0.8"/>
<line x1="221.20000000000002" y1="319.0" x2="221.20000000000002" y2="320.8" stroke="#333" stroke-width="0.8"/>
<line x1="188.7" y1="299.99999999999994" x2="191.1" y2="299.99999999999994" stroke="#333" stroke-width="0.8"/>
<line x1="233.60000000000002" y1="319.0" x2="233.60000000000002" y2="320.8" stroke="#333" stroke-width="0.8"/>
<line x1="188.7" y1="312.4" x2="191.1" y2="312.4" stroke="#333" stroke-width="0.8"/>
<line x1="246.0" y1="319.0" x2="246.0" y2="320.8" stroke="#333" stroke-width="0.8"/>
<text x="192.5" y="266.4" font-size="7.4" fill="#1a1a1a">0</text>
<text x="248.79999999999998" y="266.4" font-size="7.4" fill="#1a1a1a" text-anchor="end">10.7</text>
<text x="192.5" y="316.1" font-size="7.4" fill="#1a1a1a">0</text>
<text x="248.79999999999998" y="316.1" font-size="7.4" fill="#1a1a1a" text-anchor="end">89.3</text>
<rect x="54.6" y="324.3" width="59.199999999999996" height="60.69999999999999" fill="#fff"/>
<g filter="url(#soft)">
<ellipse cx="90.2" cy="345.0" rx="6.62" ry="6.3" fill="#0a14f4"/>
<ellipse cx="93.5" cy="349.0" rx="2.8" ry="3.33" fill="#0a14f4"/>
<ellipse cx="94.6" cy="352.5" rx="1.42" ry="1.85" fill="#0a14f4"/>
<ellipse cx="94.6" cy="359.5" rx="2.27" ry="2.8" fill="#0a14f4"/>
<ellipse cx="93.8" cy="366.2" rx="9.69" ry="6.93" fill="#0a14f4" transform="rotate(-25 93.8 366.2)"/>
<ellipse cx="95.6" cy="367.4" rx="6.15" ry="4.24" fill="url(#dens)" transform="rotate(-30 95.6 367.4)"/>
<ellipse cx="95.6" cy="367.6" rx="3.0" ry="2.2" fill="url(#hot)" transform="rotate(-30 95.6 367.6)"/>
</g>
<line x1="76.5" y1="324.3" x2="76.5" y2="385.0" stroke="#707070" stroke-width="1.0" stroke-opacity="0.9"/>
<line x1="54.6" y1="358.3" x2="113.8" y2="358.3" stroke="#5a5a5a" stroke-width="1.0" stroke-opacity="0.9"/>
<rect x="54.6" y="324.3" width="59.199999999999996" height="60.69999999999999" fill="none" stroke="#333" stroke-width="0.9"/>
<line x1="52.2" y1="329.2" x2="54.6" y2="329.2" stroke="#333" stroke-width="0.8"/>
<line x1="59.9" y1="385.0" x2="59.9" y2="386.8" stroke="#333" stroke-width="0.8"/>
<line x1="52.2" y1="341.59999999999997" x2="54.6" y2="341.59999999999997" stroke="#333" stroke-width="0.8"/>
<line x1="72.3" y1="385.0" x2="72.3" y2="386.8" stroke="#333" stroke-width="0.8"/>
<line x1="52.2" y1="354.0" x2="54.6" y2="354.0" stroke="#333" stroke-width="0.8"/>
<line x1="84.7" y1="385.0" x2="84.7" y2="386.8" stroke="#333" stroke-width="0.8"/>
<line x1="52.2" y1="366.4" x2="54.6" y2="366.4" stroke="#333" stroke-width="0.8"/>
<line x1="97.1" y1="385.0" x2="97.1" y2="386.8" stroke="#333" stroke-width="0.8"/>
<line x1="52.2" y1="378.8" x2="54.6" y2="378.8" stroke="#333" stroke-width="0.8"/>
<line x1="109.5" y1="385.0" x2="109.5" y2="386.8" stroke="#333" stroke-width="0.8"/>
<text x="56.0" y="334.40000000000003" font-size="7.4" fill="#1a1a1a">0</text>
<text x="110.5" y="334.40000000000003" font-size="7.4" fill="#1a1a1a" text-anchor="end">6.39</text>
<text x="56.0" y="382.1" font-size="7.4" fill="#1a1a1a">0</text>
<text x="110.5" y="382.1" font-size="7.4" fill="#1a1a1a" text-anchor="end">93.6</text>
<rect x="122.3" y="324.3" width="60.2" height="60.69999999999999" fill="#fff"/>
<g filter="url(#soft)">
<ellipse cx="158.9" cy="342.5" rx="6.72" ry="6.09" fill="#0a14f4"/>
<ellipse cx="154.5" cy="337.5" rx="1.63" ry="2.48" fill="#0a14f4"/>
<ellipse cx="165.0" cy="340.0" rx="1.53" ry="2.27" fill="#0a14f4"/>
<ellipse cx="163.0" cy="353.0" rx="5.98" ry="6.51" fill="#0a14f4"/>
<ellipse cx="161.5" cy="366.0" rx="10.75" ry="6.51" fill="#0a14f4" transform="rotate(-35 161.5 366.0)"/>
<ellipse cx="166.5" cy="362.0" rx="4.92" ry="10.75" fill="#0a14f4"/>
<ellipse cx="164.4" cy="362.0" rx="5.09" ry="12.19" fill="url(#dens)" transform="rotate(5 164.4 362.0)"/>
<ellipse cx="159.8" cy="344.2" rx="1.6" ry="2.4" fill="#80f0d8"/>
<ellipse cx="163.9" cy="367.4" rx="2.6" ry="2.6" fill="url(#hot)"/>
</g>
<line x1="145.7" y1="324.3" x2="145.7" y2="385.0" stroke="#707070" stroke-width="1.0" stroke-opacity="0.9"/>
<line x1="122.3" y1="358.3" x2="182.5" y2="358.3" stroke="#4a4a4a" stroke-width="1.0" stroke-opacity="0.9"/>
<rect x="122.3" y="324.3" width="60.2" height="60.69999999999999" fill="none" stroke="#333" stroke-width="0.9"/>
<line x1="119.89999999999999" y1="329.2" x2="122.3" y2="329.2" stroke="#333" stroke-width="0.8"/>
<line x1="127.6" y1="385.0" x2="127.6" y2="386.8" stroke="#333" stroke-width="0.8"/>
<line x1="119.89999999999999" y1="341.59999999999997" x2="122.3" y2="341.59999999999997" stroke="#333" stroke-width="0.8"/>
<line x1="140.0" y1="385.0" x2="140.0" y2="386.8" stroke="#333" stroke-width="0.8"/>
<line x1="119.89999999999999" y1="354.0" x2="122.3" y2="354.0" stroke="#333" stroke-width="0.8"/>
<line x1="152.4" y1="385.0" x2="152.4" y2="386.8" stroke="#333" stroke-width="0.8"/>
<line x1="119.89999999999999" y1="366.4" x2="122.3" y2="366.4" stroke="#333" stroke-width="0.8"/>
<line x1="164.8" y1="385.0" x2="164.8" y2="386.8" stroke="#333" stroke-width="0.8"/>
<line x1="119.89999999999999" y1="378.8" x2="122.3" y2="378.8" stroke="#333" stroke-width="0.8"/>
<line x1="177.2" y1="385.0" x2="177.2" y2="386.8" stroke="#333" stroke-width="0.8"/>
<text x="123.7" y="334.40000000000003" font-size="7.4" fill="#1a1a1a">0.12</text>
<text x="179.2" y="334.40000000000003" font-size="7.4" fill="#1a1a1a" text-anchor="end">19.9</text>
<text x="123.7" y="382.1" font-size="7.4" fill="#1a1a1a">0.058</text>
<text x="179.2" y="382.1" font-size="7.4" fill="#1a1a1a" text-anchor="end">80.0</text>
<rect x="191.1" y="324.4" width="60.900000000000006" height="61.200000000000045" fill="#fff"/>
<g filter="url(#soft)">
<ellipse cx="227.0" cy="342.5" rx="7.57" ry="6.51" fill="#0a14f4"/>
<ellipse cx="230.0" cy="348.0" rx="5.45" ry="4.39" fill="#0a14f4"/>
<ellipse cx="231.5" cy="353.0" rx="5.03" ry="6.51" fill="#0a14f4"/>
<ellipse cx="231.0" cy="365.0" rx="10.54" ry="7.36" fill="#0a14f4" transform="rotate(-30 231.0 365.0)"/>
<ellipse cx="235.5" cy="363.0" rx="4.6" ry="7.57" fill="#0a14f4"/>
<ellipse cx="232.2" cy="364.5" rx="5.09" ry="8.48" fill="url(#dens)" transform="rotate(8 232.2 364.5)"/>
<ellipse cx="227.7" cy="343.6" rx="2.2" ry="1.5" fill="#80f0d8"/>
<ellipse cx="232.4" cy="367.5" rx="2.5" ry="2.4" fill="url(#hot)"/>
</g>
<line x1="214.0" y1="324.4" x2="214.0" y2="385.6" stroke="#707070" stroke-width="1.0" stroke-opacity="0.9"/>
<line x1="191.1" y1="358.0" x2="252.0" y2="358.0" stroke="#3a3a3a" stroke-width="1.0" stroke-opacity="0.9"/>
<rect x="191.1" y="324.4" width="60.900000000000006" height="61.200000000000045" fill="none" stroke="#333" stroke-width="0.9"/>
<line x1="188.7" y1="329.29999999999995" x2="191.1" y2="329.29999999999995" stroke="#333" stroke-width="0.8"/>
<line x1="196.4" y1="385.6" x2="196.4" y2="387.40000000000003" stroke="#333" stroke-width="0.8"/>
<line x1="188.7" y1="341.69999999999993" x2="191.1" y2="341.69999999999993" stroke="#333" stroke-width="0.8"/>
<line x1="208.8" y1="385.6" x2="208.8" y2="387.40000000000003" stroke="#333" stroke-width="0.8"/>
<line x1="188.7" y1="354.09999999999997" x2="191.1" y2="354.09999999999997" stroke="#333" stroke-width="0.8"/>
<line x1="221.20000000000002" y1="385.6" x2="221.20000000000002" y2="387.40000000000003" stroke="#333" stroke-width="0.8"/>
<line x1="188.7" y1="366.49999999999994" x2="191.1" y2="366.49999999999994" stroke="#333" stroke-width="0.8"/>
<line x1="233.60000000000002" y1="385.6" x2="233.60000000000002" y2="387.40000000000003" stroke="#333" stroke-width="0.8"/>
<line x1="188.7" y1="378.9" x2="191.1" y2="378.9" stroke="#333" stroke-width="0.8"/>
<line x1="246.0" y1="385.6" x2="246.0" y2="387.40000000000003" stroke="#333" stroke-width="0.8"/>
<text x="192.5" y="334.5" font-size="7.4" fill="#1a1a1a">0.039</text>
<text x="248.7" y="334.5" font-size="7.4" fill="#1a1a1a" text-anchor="end">13.7</text>
<text x="192.5" y="382.70000000000005" font-size="7.4" fill="#1a1a1a">0</text>
<text x="248.7" y="382.70000000000005" font-size="7.4" fill="#1a1a1a" text-anchor="end">86.3</text>
<rect x="53.9" y="392.3" width="60.1" height="60.69999999999999" fill="#fff"/>
<g filter="url(#soft)">
<ellipse cx="86.0" cy="404.7" rx="6.51" ry="4.71" fill="#0a14f4"/>
<ellipse cx="89.2" cy="412.5" rx="4.6" ry="5.45" fill="#0a14f4"/>
<ellipse cx="91.2" cy="428.5" rx="7.78" ry="9.9" fill="#0a14f4" transform="rotate(30 91.2 428.5)"/>
<ellipse cx="81.0" cy="426.8" rx="1.85" ry="1.21" fill="#0a14f4"/>
<ellipse cx="91.2" cy="428.0" rx="5.09" ry="6.57" fill="url(#dens)" transform="rotate(30 91.2 428.0)"/>
<ellipse cx="91.2" cy="427.9" rx="2.6" ry="3.0" fill="url(#hot)" transform="rotate(30 91.2 427.9)"/>
</g>
<line x1="76.8" y1="392.3" x2="76.8" y2="453.0" stroke="#707070" stroke-width="1.0" stroke-opacity="0.9"/>
<line x1="53.9" y1="419.8" x2="114.0" y2="419.8" stroke="#666" stroke-width="1.0" stroke-opacity="0.9"/>
<rect x="53.9" y="392.3" width="60.1" height="60.69999999999999" fill="none" stroke="#333" stroke-width="0.9"/>
<line x1="51.5" y1="397.2" x2="53.9" y2="397.2" stroke="#333" stroke-width="0.8"/>
<line x1="59.199999999999996" y1="453.0" x2="59.199999999999996" y2="454.8" stroke="#333" stroke-width="0.8"/>
<line x1="51.5" y1="409.59999999999997" x2="53.9" y2="409.59999999999997" stroke="#333" stroke-width="0.8"/>
<line x1="71.6" y1="453.0" x2="71.6" y2="454.8" stroke="#333" stroke-width="0.8"/>
<line x1="51.5" y1="422.0" x2="53.9" y2="422.0" stroke="#333" stroke-width="0.8"/>
<line x1="84.0" y1="453.0" x2="84.0" y2="454.8" stroke="#333" stroke-width="0.8"/>
<line x1="51.5" y1="434.4" x2="53.9" y2="434.4" stroke="#333" stroke-width="0.8"/>
<line x1="96.4" y1="453.0" x2="96.4" y2="454.8" stroke="#333" stroke-width="0.8"/>
<line x1="51.5" y1="446.8" x2="53.9" y2="446.8" stroke="#333" stroke-width="0.8"/>
<line x1="108.8" y1="453.0" x2="108.8" y2="454.8" stroke="#333" stroke-width="0.8"/>
<text x="55.3" y="402.40000000000003" font-size="7.4" fill="#1a1a1a">0</text>
<text x="110.7" y="402.40000000000003" font-size="7.4" fill="#1a1a1a" text-anchor="end">4.38</text>
<text x="55.3" y="450.1" font-size="7.4" fill="#1a1a1a">0</text>
<text x="110.7" y="450.1" font-size="7.4" fill="#1a1a1a" text-anchor="end">95.6</text>
<rect x="122.3" y="392.3" width="60.2" height="60.69999999999999" fill="#fff"/>
<g filter="url(#soft)">
<ellipse cx="154.2" cy="403.3" rx="8.52" ry="6.51" fill="#0a14f4"/>
<ellipse cx="151.5" cy="406.0" rx="5.45" ry="5.45" fill="#0a14f4"/>
<ellipse cx="158.5" cy="407.5" rx="5.98" ry="4.92" fill="#0a14f4"/>
<ellipse cx="158.5" cy="414.0" rx="7.04" ry="7.04" fill="#0a14f4"/>
<ellipse cx="157.0" cy="429.5" rx="11.28" ry="7.04" fill="#0a14f4" transform="rotate(-40 157.0 429.5)"/>
<ellipse cx="162.0" cy="425.0" rx="5.98" ry="11.28" fill="#0a14f4"/>
<ellipse cx="159.3" cy="424.5" rx="5.09" ry="11.13" fill="url(#dens)" transform="rotate(5 159.3 424.5)"/>
<ellipse cx="154.0" cy="404.3" rx="2.6" ry="2.0" fill="#4a8cff"/>
<ellipse cx="159.6" cy="428.3" rx="2.6" ry="3.0" fill="url(#hot)" transform="rotate(10 159.6 428.3)"/>
</g>
<line x1="145.5" y1="392.3" x2="145.5" y2="453.0" stroke="#707070" stroke-width="1.0" stroke-opacity="0.9"/>
<line x1="122.3" y1="419.8" x2="182.5" y2="419.8" stroke="#555" stroke-width="1.0" stroke-opacity="0.9"/>
<rect x="122.3" y="392.3" width="60.2" height="60.69999999999999" fill="none" stroke="#333" stroke-width="0.9"/>
<line x1="119.89999999999999" y1="397.2" x2="122.3" y2="397.2" stroke="#333" stroke-width="0.8"/>
<line x1="127.6" y1="453.0" x2="127.6" y2="454.8" stroke="#333" stroke-width="0.8"/>
<line x1="119.89999999999999" y1="409.59999999999997" x2="122.3" y2="409.59999999999997" stroke="#333" stroke-width="0.8"/>
<line x1="140.0" y1="453.0" x2="140.0" y2="454.8" stroke="#333" stroke-width="0.8"/>
<line x1="119.89999999999999" y1="422.0" x2="122.3" y2="422.0" stroke="#333" stroke-width="0.8"/>
<line x1="152.4" y1="453.0" x2="152.4" y2="454.8" stroke="#333" stroke-width="0.8"/>
<line x1="119.89999999999999" y1="434.4" x2="122.3" y2="434.4" stroke="#333" stroke-width="0.8"/>
<line x1="164.8" y1="453.0" x2="164.8" y2="454.8" stroke="#333" stroke-width="0.8"/>
<line x1="119.89999999999999" y1="446.8" x2="122.3" y2="446.8" stroke="#333" stroke-width="0.8"/>
<line x1="177.2" y1="453.0" x2="177.2" y2="454.8" stroke="#333" stroke-width="0.8"/>
<text x="123.7" y="402.40000000000003" font-size="7.4" fill="#1a1a1a">0.11</text>
<text x="179.2" y="402.40000000000003" font-size="7.4" fill="#1a1a1a" text-anchor="end">15.0</text>
<text x="123.7" y="450.1" font-size="7.4" fill="#1a1a1a">0.094</text>
<text x="179.2" y="450.1" font-size="7.4" fill="#1a1a1a" text-anchor="end">84.8</text>
<rect x="191.4" y="392.4" width="60.599999999999994" height="60.900000000000034" fill="#fff"/>
<g filter="url(#soft)">
<ellipse cx="224.0" cy="403.8" rx="6.93" ry="4.81" fill="#0a14f4"/>
<ellipse cx="226.5" cy="412.5" rx="4.39" ry="5.45" fill="#0a14f4"/>
<ellipse cx="228.0" cy="427.0" rx="8.63" ry="10.75" fill="#0a14f4" transform="rotate(15 228.0 427.0)"/>
<ellipse cx="219.0" cy="427.0" rx="2.06" ry="1.21" fill="#0a14f4"/>
<ellipse cx="228.4" cy="426.0" rx="4.66" ry="9.01" fill="url(#dens)" transform="rotate(10 228.4 426.0)"/>
<ellipse cx="228.4" cy="428.1" rx="2.5" ry="3.0" fill="url(#hot)" transform="rotate(10 228.4 428.1)"/>
</g>
<line x1="213.9" y1="392.4" x2="213.9" y2="453.3" stroke="#707070" stroke-width="1.0" stroke-opacity="0.9"/>
<line x1="191.4" y1="419.9" x2="252.0" y2="419.9" stroke="#4a4a4a" stroke-width="1.0" stroke-opacity="0.9"/>
<rect x="191.4" y="392.4" width="60.599999999999994" height="60.900000000000034" fill="none" stroke="#333" stroke-width="0.9"/>
<line x1="189.0" y1="397.29999999999995" x2="191.4" y2="397.29999999999995" stroke="#333" stroke-width="0.8"/>
<line x1="196.70000000000002" y1="453.3" x2="196.70000000000002" y2="455.1" stroke="#333" stroke-width="0.8"/>
<line x1="189.0" y1="409.69999999999993" x2="191.4" y2="409.69999999999993" stroke="#333" stroke-width="0.8"/>
<line x1="209.10000000000002" y1="453.3" x2="209.10000000000002" y2="455.1" stroke="#333" stroke-width="0.8"/>
<line x1="189.0" y1="422.09999999999997" x2="191.4" y2="422.09999999999997" stroke="#333" stroke-width="0.8"/>
<line x1="221.50000000000003" y1="453.3" x2="221.50000000000003" y2="455.1" stroke="#333" stroke-width="0.8"/>
<line x1="189.0" y1="434.49999999999994" x2="191.4" y2="434.49999999999994" stroke="#333" stroke-width="0.8"/>
<line x1="233.90000000000003" y1="453.3" x2="233.90000000000003" y2="455.1" stroke="#333" stroke-width="0.8"/>
<line x1="189.0" y1="446.9" x2="191.4" y2="446.9" stroke="#333" stroke-width="0.8"/>
<line x1="246.3" y1="453.3" x2="246.3" y2="455.1" stroke="#333" stroke-width="0.8"/>
<text x="192.8" y="402.5" font-size="7.4" fill="#1a1a1a">0</text>
<text x="248.7" y="402.5" font-size="7.4" fill="#1a1a1a" text-anchor="end">10.0</text>
<text x="192.8" y="450.40000000000003" font-size="7.4" fill="#1a1a1a">0.034</text>
<text x="248.7" y="450.40000000000003" font-size="7.4" fill="#1a1a1a" text-anchor="end">89.9</text>
<rect x="279.6" y="257.3" width="60.19999999999999" height="59.099999999999966" fill="#fff"/>
<g filter="url(#soft)">
<ellipse cx="313.0" cy="284.2" rx="3.12" ry="3.54" fill="#0a14f4"/>
<ellipse cx="315.0" cy="292.5" rx="4.18" ry="5.45" fill="#0a14f4"/>
<ellipse cx="310.0" cy="290.7" rx="1.42" ry="1.42" fill="#0a14f4"/>
<ellipse cx="312.8" cy="298.5" rx="3.12" ry="2.8" fill="#0a14f4"/>
<ellipse cx="311.7" cy="306.0" rx="7.04" ry="7.89" fill="#0a14f4"/>
<ellipse cx="311.8" cy="306.2" rx="5.51" ry="6.15" fill="url(#dens)"/>
<ellipse cx="311.8" cy="306.2" rx="2.8" ry="3.0" fill="url(#hot)"/>
</g>
<line x1="300.9" y1="257.3" x2="300.9" y2="316.4" stroke="#707070" stroke-width="1.0" stroke-opacity="0.9"/>
<line x1="279.6" y1="296.7" x2="339.8" y2="296.7" stroke="#bdbdbd" stroke-width="1.0" stroke-opacity="0.9"/>
<rect x="279.6" y="257.3" width="60.19999999999999" height="59.099999999999966" fill="none" stroke="#333" stroke-width="0.9"/>
<line x1="277.20000000000005" y1="262.2" x2="279.6" y2="262.2" stroke="#333" stroke-width="0.8"/>
<line x1="284.90000000000003" y1="316.4" x2="284.90000000000003" y2="318.2" stroke="#333" stroke-width="0.8"/>
<line x1="277.20000000000005" y1="274.59999999999997" x2="279.6" y2="274.59999999999997" stroke="#333" stroke-width="0.8"/>
<line x1="297.3" y1="316.4" x2="297.3" y2="318.2" stroke="#333" stroke-width="0.8"/>
<line x1="277.20000000000005" y1="287.0" x2="279.6" y2="287.0" stroke="#333" stroke-width="0.8"/>
<line x1="309.70000000000005" y1="316.4" x2="309.70000000000005" y2="318.2" stroke="#333" stroke-width="0.8"/>
<line x1="277.20000000000005" y1="299.4" x2="279.6" y2="299.4" stroke="#333" stroke-width="0.8"/>
<line x1="322.1" y1="316.4" x2="322.1" y2="318.2" stroke="#333" stroke-width="0.8"/>
<line x1="277.20000000000005" y1="311.8" x2="279.6" y2="311.8" stroke="#333" stroke-width="0.8"/>
<line x1="334.50000000000006" y1="316.4" x2="334.50000000000006" y2="318.2" stroke="#333" stroke-width="0.8"/>
<text x="281.0" y="265.8" font-size="7.4" fill="#1a1a1a">0</text>
<text x="336.5" y="265.8" font-size="7.4" fill="#1a1a1a" text-anchor="end">5.02</text>
<text x="281.0" y="313.5" font-size="7.4" fill="#1a1a1a">0</text>
<text x="336.5" y="313.5" font-size="7.4" fill="#1a1a1a" text-anchor="end">95.0</text>
<rect x="348.0" y="256.9" width="60.5" height="59.60000000000002" fill="#fff"/>
<g filter="url(#soft)">
<ellipse cx="378.8" cy="281.5" rx="7.89" ry="4.92" fill="#0a14f4"/>
<ellipse cx="385.0" cy="279.0" rx="1.74" ry="1.74" fill="#0a14f4"/>
<ellipse cx="377.5" cy="287.5" rx="4.39" ry="3.33" fill="#0a14f4"/>
<ellipse cx="383.5" cy="287.0" rx="2.8" ry="3.33" fill="#0a14f4"/>
<ellipse cx="380.0" cy="300.0" rx="7.57" ry="13.93" fill="#0a14f4"/>
<ellipse cx="380.6" cy="300.5" rx="5.51" ry="12.19" fill="url(#dens)"/>
<ellipse cx="380.3" cy="305.6" rx="2.7" ry="3.2" fill="url(#hot)"/>
</g>
<line x1="368.5" y1="256.9" x2="368.5" y2="316.5" stroke="#707070" stroke-width="1.0" stroke-opacity="0.9"/>
<line x1="348.0" y1="296.6" x2="408.5" y2="296.6" stroke="#444" stroke-width="1.0" stroke-opacity="0.9"/>
<rect x="348.0" y="256.9" width="60.5" height="59.60000000000002" fill="none" stroke="#333" stroke-width="0.9"/>
<line x1="345.6" y1="261.79999999999995" x2="348.0" y2="261.79999999999995" stroke="#333" stroke-width="0.8"/>
<line x1="353.3" y1="316.5" x2="353.3" y2="318.3" stroke="#333" stroke-width="0.8"/>
<line x1="345.6" y1="274.19999999999993" x2="348.0" y2="274.19999999999993" stroke="#333" stroke-width="0.8"/>
<line x1="365.7" y1="316.5" x2="365.7" y2="318.3" stroke="#333" stroke-width="0.8"/>
<line x1="345.6" y1="286.59999999999997" x2="348.0" y2="286.59999999999997" stroke="#333" stroke-width="0.8"/>
<line x1="378.1" y1="316.5" x2="378.1" y2="318.3" stroke="#333" stroke-width="0.8"/>
<line x1="345.6" y1="298.99999999999994" x2="348.0" y2="298.99999999999994" stroke="#333" stroke-width="0.8"/>
<line x1="390.5" y1="316.5" x2="390.5" y2="318.3" stroke="#333" stroke-width="0.8"/>
<line x1="345.6" y1="311.4" x2="348.0" y2="311.4" stroke="#333" stroke-width="0.8"/>
<line x1="402.90000000000003" y1="316.5" x2="402.90000000000003" y2="318.3" stroke="#333" stroke-width="0.8"/>
<text x="349.4" y="265.4" font-size="7.4" fill="#1a1a1a">0</text>
<text x="405.2" y="265.4" font-size="7.4" fill="#1a1a1a" text-anchor="end">23.0</text>
<text x="349.4" y="313.6" font-size="7.4" fill="#1a1a1a">0</text>
<text x="405.2" y="313.6" font-size="7.4" fill="#1a1a1a" text-anchor="end">77.0</text>
<rect x="416.5" y="256.9" width="60.0" height="59.60000000000002" fill="#fff"/>
<g filter="url(#soft)">
<ellipse cx="441.5" cy="276.5" rx="2.27" ry="2.27" fill="#0a14f4"/>
<ellipse cx="444.2" cy="273.0" rx="1.0" ry="1.0" fill="#0a14f4"/>
<ellipse cx="450.8" cy="280.0" rx="3.54" ry="3.54" fill="#0a14f4"/>
<ellipse cx="448.5" cy="289.0" rx="5.77" ry="7.89" fill="#0a14f4"/>
<ellipse cx="448.2" cy="296.5" rx="3.86" ry="3.33" fill="#0a14f4"/>
<ellipse cx="448.6" cy="305.0" rx="7.57" ry="8.63" fill="#0a14f4" transform="rotate(10 448.6 305.0)"/>
<ellipse cx="448.8" cy="306.4" rx="5.51" ry="6.36" fill="url(#dens)" transform="rotate(10 448.8 306.4)"/>
<ellipse cx="448.8" cy="306.6" rx="2.8" ry="3.0" fill="url(#hot)"/>
</g>
<line x1="436.9" y1="256.9" x2="436.9" y2="316.5" stroke="#707070" stroke-width="1.0" stroke-opacity="0.9"/>
<line x1="416.5" y1="296.6" x2="476.5" y2="296.6" stroke="#555" stroke-width="1.0" stroke-opacity="0.9"/>
<rect x="416.5" y="256.9" width="60.0" height="59.60000000000002" fill="none" stroke="#333" stroke-width="0.9"/>
<line x1="414.1" y1="261.79999999999995" x2="416.5" y2="261.79999999999995" stroke="#333" stroke-width="0.8"/>
<line x1="421.8" y1="316.5" x2="421.8" y2="318.3" stroke="#333" stroke-width="0.8"/>
<line x1="414.1" y1="274.19999999999993" x2="416.5" y2="274.19999999999993" stroke="#333" stroke-width="0.8"/>
<line x1="434.2" y1="316.5" x2="434.2" y2="318.3" stroke="#333" stroke-width="0.8"/>
<line x1="414.1" y1="286.59999999999997" x2="416.5" y2="286.59999999999997" stroke="#333" stroke-width="0.8"/>
<line x1="446.6" y1="316.5" x2="446.6" y2="318.3" stroke="#333" stroke-width="0.8"/>
<line x1="414.1" y1="298.99999999999994" x2="416.5" y2="298.99999999999994" stroke="#333" stroke-width="0.8"/>
<line x1="459.0" y1="316.5" x2="459.0" y2="318.3" stroke="#333" stroke-width="0.8"/>
<line x1="414.1" y1="311.4" x2="416.5" y2="311.4" stroke="#333" stroke-width="0.8"/>
<line x1="471.40000000000003" y1="316.5" x2="471.40000000000003" y2="318.3" stroke="#333" stroke-width="0.8"/>
<text x="417.9" y="265.4" font-size="7.4" fill="#1a1a1a">0</text>
<text x="473.2" y="265.4" font-size="7.4" fill="#1a1a1a" text-anchor="end">8.29</text>
<text x="417.9" y="313.6" font-size="7.4" fill="#1a1a1a">0</text>
<text x="473.2" y="313.6" font-size="7.4" fill="#1a1a1a" text-anchor="end">91.7</text>
<rect x="279.6" y="324.2" width="60.0" height="59.30000000000001" fill="#fff"/>
<g filter="url(#soft)">
<ellipse cx="313.5" cy="356.0" rx="3.86" ry="9.16" fill="#0a14f4"/>
<ellipse cx="317.0" cy="359.6" rx="2.48" ry="2.27" fill="#0a14f4"/>
<ellipse cx="313.2" cy="365.5" rx="3.54" ry="3.33" fill="#0a14f4"/>
<ellipse cx="311.5" cy="373.0" rx="7.89" ry="8.95" fill="#0a14f4"/>
<ellipse cx="308.5" cy="375.0" rx="4.92" ry="5.98" fill="#0a14f4"/>
<ellipse cx="313.0" cy="373.8" rx="5.51" ry="6.15" fill="url(#dens)"/>
<ellipse cx="313.0" cy="373.8" rx="2.8" ry="3.0" fill="url(#hot)"/>
</g>
<line x1="299.6" y1="324.2" x2="299.6" y2="383.5" stroke="#707070" stroke-width="1.0" stroke-opacity="0.9"/>
<line x1="279.6" y1="364.5" x2="339.6" y2="364.5" stroke="#555" stroke-width="1.0" stroke-opacity="0.9"/>
<rect x="279.6" y="324.2" width="60.0" height="59.30000000000001" fill="none" stroke="#333" stroke-width="0.9"/>
<line x1="277.20000000000005" y1="329.09999999999997" x2="279.6" y2="329.09999999999997" stroke="#333" stroke-width="0.8"/>
<line x1="284.90000000000003" y1="383.5" x2="284.90000000000003" y2="385.3" stroke="#333" stroke-width="0.8"/>
<line x1="277.20000000000005" y1="341.49999999999994" x2="279.6" y2="341.49999999999994" stroke="#333" stroke-width="0.8"/>
<line x1="297.3" y1="383.5" x2="297.3" y2="385.3" stroke="#333" stroke-width="0.8"/>
<line x1="277.20000000000005" y1="353.9" x2="279.6" y2="353.9" stroke="#333" stroke-width="0.8"/>
<line x1="309.70000000000005" y1="383.5" x2="309.70000000000005" y2="385.3" stroke="#333" stroke-width="0.8"/>
<line x1="277.20000000000005" y1="366.29999999999995" x2="279.6" y2="366.29999999999995" stroke="#333" stroke-width="0.8"/>
<line x1="322.1" y1="383.5" x2="322.1" y2="385.3" stroke="#333" stroke-width="0.8"/>
<line x1="277.20000000000005" y1="378.7" x2="279.6" y2="378.7" stroke="#333" stroke-width="0.8"/>
<line x1="334.50000000000006" y1="383.5" x2="334.50000000000006" y2="385.3" stroke="#333" stroke-width="0.8"/>
<text x="281.0" y="332.7" font-size="7.4" fill="#1a1a1a">0</text>
<text x="336.3" y="332.7" font-size="7.4" fill="#1a1a1a" text-anchor="end">4.95</text>
<text x="281.0" y="380.6" font-size="7.4" fill="#1a1a1a">0</text>
<text x="336.3" y="380.6" font-size="7.4" fill="#1a1a1a" text-anchor="end">95.0</text>
<rect x="348.0" y="323.9" width="60.5" height="60.0" fill="#fff"/>
<g filter="url(#soft)">
<ellipse cx="379.0" cy="346.0" rx="6.51" ry="4.39" fill="#0a14f4"/>
<ellipse cx="385.5" cy="343.0" rx="1.0" ry="1.74" fill="#0a14f4"/>
<ellipse cx="382.0" cy="362.0" rx="7.36" ry="19.23" fill="#0a14f4"/>
<ellipse cx="381.2" cy="367.0" rx="5.72" ry="14.31" fill="url(#dens)"/>
<ellipse cx="381.2" cy="373.5" rx="2.8" ry="3.0" fill="url(#hot)"/>
</g>
<line x1="368.5" y1="323.9" x2="368.5" y2="383.9" stroke="#707070" stroke-width="1.0" stroke-opacity="0.9"/>
<line x1="348.0" y1="364.5" x2="408.5" y2="364.5" stroke="#555" stroke-width="1.0" stroke-opacity="0.9"/>
<rect x="348.0" y="323.9" width="60.5" height="60.0" fill="none" stroke="#333" stroke-width="0.9"/>
<line x1="345.6" y1="328.79999999999995" x2="348.0" y2="328.79999999999995" stroke="#333" stroke-width="0.8"/>
<line x1="353.3" y1="383.9" x2="353.3" y2="385.7" stroke="#333" stroke-width="0.8"/>
<line x1="345.6" y1="341.19999999999993" x2="348.0" y2="341.19999999999993" stroke="#333" stroke-width="0.8"/>
<line x1="365.7" y1="383.9" x2="365.7" y2="385.7" stroke="#333" stroke-width="0.8"/>
<line x1="345.6" y1="353.59999999999997" x2="348.0" y2="353.59999999999997" stroke="#333" stroke-width="0.8"/>
<line x1="378.1" y1="383.9" x2="378.1" y2="385.7" stroke="#333" stroke-width="0.8"/>
<line x1="345.6" y1="365.99999999999994" x2="348.0" y2="365.99999999999994" stroke="#333" stroke-width="0.8"/>
<line x1="390.5" y1="383.9" x2="390.5" y2="385.7" stroke="#333" stroke-width="0.8"/>
<line x1="345.6" y1="378.4" x2="348.0" y2="378.4" stroke="#333" stroke-width="0.8"/>
<line x1="402.90000000000003" y1="383.9" x2="402.90000000000003" y2="385.7" stroke="#333" stroke-width="0.8"/>
<text x="349.4" y="332.4" font-size="7.4" fill="#1a1a1a">0</text>
<text x="405.2" y="332.4" font-size="7.4" fill="#1a1a1a" text-anchor="end">14.8</text>
<text x="349.4" y="381.0" font-size="7.4" fill="#1a1a1a">0</text>
<text x="405.2" y="381.0" font-size="7.4" fill="#1a1a1a" text-anchor="end">85.2</text>
<rect x="416.5" y="324.2" width="60.5" height="59.80000000000001" fill="#fff"/>
<g filter="url(#soft)">
<ellipse cx="450.5" cy="352.0" rx="4.71" ry="8.63" fill="#0a14f4"/>
<ellipse cx="452.0" cy="361.0" rx="4.92" ry="4.39" fill="#0a14f4"/>
<ellipse cx="445.5" cy="358.5" rx="2.27" ry="1.42" fill="#0a14f4"/>
<ellipse cx="449.5" cy="365.5" rx="3.86" ry="3.33" fill="#0a14f4"/>
<ellipse cx="449.3" cy="373.0" rx="7.57" ry="8.63" fill="#0a14f4"/>
<ellipse cx="449.7" cy="373.8" rx="5.51" ry="6.15" fill="url(#dens)"/>
<ellipse cx="449.7" cy="373.8" rx="2.8" ry="3.0" fill="url(#hot)"/>
</g>
<line x1="437.7" y1="324.2" x2="437.7" y2="384.0" stroke="#707070" stroke-width="1.0" stroke-opacity="0.9"/>
<line x1="416.5" y1="364.5" x2="477.0" y2="364.5" stroke="#999" stroke-width="1.0" stroke-opacity="0.9"/>
<rect x="416.5" y="324.2" width="60.5" height="59.80000000000001" fill="none" stroke="#333" stroke-width="0.9"/>
<line x1="414.1" y1="329.09999999999997" x2="416.5" y2="329.09999999999997" stroke="#333" stroke-width="0.8"/>
<line x1="421.8" y1="384.0" x2="421.8" y2="385.8" stroke="#333" stroke-width="0.8"/>
<line x1="414.1" y1="341.49999999999994" x2="416.5" y2="341.49999999999994" stroke="#333" stroke-width="0.8"/>
<line x1="434.2" y1="384.0" x2="434.2" y2="385.8" stroke="#333" stroke-width="0.8"/>
<line x1="414.1" y1="353.9" x2="416.5" y2="353.9" stroke="#333" stroke-width="0.8"/>
<line x1="446.6" y1="384.0" x2="446.6" y2="385.8" stroke="#333" stroke-width="0.8"/>
<line x1="414.1" y1="366.29999999999995" x2="416.5" y2="366.29999999999995" stroke="#333" stroke-width="0.8"/>
<line x1="459.0" y1="384.0" x2="459.0" y2="385.8" stroke="#333" stroke-width="0.8"/>
<line x1="414.1" y1="378.7" x2="416.5" y2="378.7" stroke="#333" stroke-width="0.8"/>
<line x1="471.40000000000003" y1="384.0" x2="471.40000000000003" y2="385.8" stroke="#333" stroke-width="0.8"/>
<text x="417.9" y="332.7" font-size="7.4" fill="#1a1a1a">0</text>
<text x="473.7" y="332.7" font-size="7.4" fill="#1a1a1a" text-anchor="end">7.30</text>
<text x="417.9" y="381.1" font-size="7.4" fill="#1a1a1a">0</text>
<text x="473.7" y="381.1" font-size="7.4" fill="#1a1a1a" text-anchor="end">92.7</text>
<rect x="279.6" y="392.2" width="60.299999999999955" height="60.5" fill="#fff"/>
<g filter="url(#soft)">
<ellipse cx="309.0" cy="423.0" rx="3.97" ry="8.1" fill="#0a14f4"/>
<ellipse cx="311.0" cy="433.0" rx="2.8" ry="2.8" fill="#0a14f4"/>
<ellipse cx="308.0" cy="444.0" rx="8.63" ry="7.57" fill="#0a14f4"/>
<ellipse cx="307.8" cy="443.9" rx="6.36" ry="5.09" fill="url(#dens)"/>
<ellipse cx="307.8" cy="443.9" rx="3.0" ry="2.6" fill="url(#hot)"/>
</g>
<line x1="300.7" y1="392.2" x2="300.7" y2="452.7" stroke="#707070" stroke-width="1.0" stroke-opacity="0.9"/>
<line x1="279.6" y1="432.7" x2="339.9" y2="432.7" stroke="#555" stroke-width="1.0" stroke-opacity="0.9"/>
<rect x="279.6" y="392.2" width="60.299999999999955" height="60.5" fill="none" stroke="#333" stroke-width="0.9"/>
<line x1="277.20000000000005" y1="397.09999999999997" x2="279.6" y2="397.09999999999997" stroke="#333" stroke-width="0.8"/>
<line x1="284.90000000000003" y1="452.7" x2="284.90000000000003" y2="454.5" stroke="#333" stroke-width="0.8"/>
<line x1="277.20000000000005" y1="409.49999999999994" x2="279.6" y2="409.49999999999994" stroke="#333" stroke-width="0.8"/>
<line x1="297.3" y1="452.7" x2="297.3" y2="454.5" stroke="#333" stroke-width="0.8"/>
<line x1="277.20000000000005" y1="421.9" x2="279.6" y2="421.9" stroke="#333" stroke-width="0.8"/>
<line x1="309.70000000000005" y1="452.7" x2="309.70000000000005" y2="454.5" stroke="#333" stroke-width="0.8"/>
<line x1="277.20000000000005" y1="434.29999999999995" x2="279.6" y2="434.29999999999995" stroke="#333" stroke-width="0.8"/>
<line x1="322.1" y1="452.7" x2="322.1" y2="454.5" stroke="#333" stroke-width="0.8"/>
<line x1="277.20000000000005" y1="446.7" x2="279.6" y2="446.7" stroke="#333" stroke-width="0.8"/>
<line x1="334.50000000000006" y1="452.7" x2="334.50000000000006" y2="454.5" stroke="#333" stroke-width="0.8"/>
<text x="281.0" y="400.7" font-size="7.4" fill="#1a1a1a">0</text>
<text x="336.59999999999997" y="400.7" font-size="7.4" fill="#1a1a1a" text-anchor="end">4.2</text>
<text x="281.0" y="449.8" font-size="7.4" fill="#1a1a1a">0</text>
<text x="336.59999999999997" y="449.8" font-size="7.4" fill="#1a1a1a" text-anchor="end">95.8</text>
<rect x="347.7" y="391.9" width="60.80000000000001" height="60.5" fill="#fff"/>
<g filter="url(#soft)">
<ellipse cx="375.0" cy="416.0" rx="6.3" ry="4.92" fill="#0a14f4"/>
<ellipse cx="379.2" cy="415.8" rx="2.8" ry="2.8" fill="#0a14f4"/>
<ellipse cx="376.5" cy="432.0" rx="7.57" ry="18.7" fill="#0a14f4"/>
<ellipse cx="376.2" cy="434.0" rx="5.94" ry="15.9" fill="url(#dens)"/>
<ellipse cx="372.3" cy="415.8" rx="2.5" ry="2.5" fill="#4a8cff"/>
<ellipse cx="375.7" cy="443.5" rx="3.0" ry="2.6" fill="url(#hot)"/>
</g>
<line x1="368.5" y1="391.9" x2="368.5" y2="452.4" stroke="#707070" stroke-width="1.0" stroke-opacity="0.9"/>
<line x1="347.7" y1="432.4" x2="408.5" y2="432.4" stroke="#444" stroke-width="1.0" stroke-opacity="0.9"/>
<rect x="347.7" y="391.9" width="60.80000000000001" height="60.5" fill="none" stroke="#333" stroke-width="0.9"/>
<line x1="345.3" y1="396.79999999999995" x2="347.7" y2="396.79999999999995" stroke="#333" stroke-width="0.8"/>
<line x1="353.0" y1="452.4" x2="353.0" y2="454.2" stroke="#333" stroke-width="0.8"/>
<line x1="345.3" y1="409.19999999999993" x2="347.7" y2="409.19999999999993" stroke="#333" stroke-width="0.8"/>
<line x1="365.4" y1="452.4" x2="365.4" y2="454.2" stroke="#333" stroke-width="0.8"/>
<line x1="345.3" y1="421.59999999999997" x2="347.7" y2="421.59999999999997" stroke="#333" stroke-width="0.8"/>
<line x1="377.8" y1="452.4" x2="377.8" y2="454.2" stroke="#333" stroke-width="0.8"/>
<line x1="345.3" y1="433.99999999999994" x2="347.7" y2="433.99999999999994" stroke="#333" stroke-width="0.8"/>
<line x1="390.2" y1="452.4" x2="390.2" y2="454.2" stroke="#333" stroke-width="0.8"/>
<line x1="345.3" y1="446.4" x2="347.7" y2="446.4" stroke="#333" stroke-width="0.8"/>
<line x1="402.6" y1="452.4" x2="402.6" y2="454.2" stroke="#333" stroke-width="0.8"/>
<text x="349.09999999999997" y="400.4" font-size="7.4" fill="#1a1a1a">0</text>
<text x="405.2" y="400.4" font-size="7.4" fill="#1a1a1a" text-anchor="end">22.3</text>
<text x="349.09999999999997" y="449.5" font-size="7.4" fill="#1a1a1a">0</text>
<text x="405.2" y="449.5" font-size="7.4" fill="#1a1a1a" text-anchor="end">77.7</text>
<rect x="417.3" y="392.3" width="59.89999999999998" height="60.19999999999999" fill="#fff"/>
<g filter="url(#soft)">
<ellipse cx="445.5" cy="421.0" rx="5.24" ry="7.04" fill="#0a14f4"/>
<ellipse cx="446.5" cy="429.0" rx="5.45" ry="3.33" fill="#0a14f4"/>
<ellipse cx="452.0" cy="430.0" rx="2.06" ry="1.74" fill="#0a14f4"/>
<ellipse cx="445.5" cy="432.0" rx="4.39" ry="3.33" fill="#0a14f4"/>
<ellipse cx="445.0" cy="441.0" rx="7.57" ry="8.63" fill="#0a14f4"/>
<ellipse cx="444.8" cy="443.5" rx="5.72" ry="5.09" fill="url(#dens)"/>
<ellipse cx="444.3" cy="443.8" rx="2.8" ry="2.5" fill="url(#hot)"/>
</g>
<line x1="437.3" y1="392.3" x2="437.3" y2="452.5" stroke="#707070" stroke-width="1.0" stroke-opacity="0.9"/>
<line x1="417.3" y1="432.1" x2="477.2" y2="432.1" stroke="#444" stroke-width="1.0" stroke-opacity="0.9"/>
<rect x="417.3" y="392.3" width="59.89999999999998" height="60.19999999999999" fill="none" stroke="#333" stroke-width="0.9"/>
<line x1="414.90000000000003" y1="397.2" x2="417.3" y2="397.2" stroke="#333" stroke-width="0.8"/>
<line x1="422.6" y1="452.5" x2="422.6" y2="454.3" stroke="#333" stroke-width="0.8"/>
<line x1="414.90000000000003" y1="409.59999999999997" x2="417.3" y2="409.59999999999997" stroke="#333" stroke-width="0.8"/>
<line x1="435.0" y1="452.5" x2="435.0" y2="454.3" stroke="#333" stroke-width="0.8"/>
<line x1="414.90000000000003" y1="422.0" x2="417.3" y2="422.0" stroke="#333" stroke-width="0.8"/>
<line x1="447.40000000000003" y1="452.5" x2="447.40000000000003" y2="454.3" stroke="#333" stroke-width="0.8"/>
<line x1="414.90000000000003" y1="434.4" x2="417.3" y2="434.4" stroke="#333" stroke-width="0.8"/>
<line x1="459.8" y1="452.5" x2="459.8" y2="454.3" stroke="#333" stroke-width="0.8"/>
<line x1="414.90000000000003" y1="446.8" x2="417.3" y2="446.8" stroke="#333" stroke-width="0.8"/>
<line x1="472.20000000000005" y1="452.5" x2="472.20000000000005" y2="454.3" stroke="#333" stroke-width="0.8"/>
<text x="418.7" y="400.8" font-size="7.4" fill="#1a1a1a">0</text>
<text x="473.9" y="400.8" font-size="7.4" fill="#1a1a1a" text-anchor="end">7.01</text>
<text x="418.7" y="449.6" font-size="7.4" fill="#1a1a1a">0</text>
<text x="473.9" y="449.6" font-size="7.4" fill="#1a1a1a" text-anchor="end">93.0</text>
<text x="120.9" y="488.5" font-size="9.2" fill="#111" textLength="117.0" lengthAdjust="spacingAndGlyphs">NK specific cytotoxicity (%)</text>
<line x1="128.0" y1="508.7" x2="228.6" y2="508.7" stroke="#111" stroke-width="1.4" />
<line x1="128.0" y1="579.8" x2="228.6" y2="579.8" stroke="#111" stroke-width="1.4" />
<line x1="128.0" y1="508.0" x2="128.0" y2="580.5" stroke="#111" stroke-width="1.4" />
<line x1="228.6" y1="508.0" x2="228.6" y2="580.5" stroke="#111" stroke-width="1.4" />
<line x1="128.0" y1="508.7" x2="128.0" y2="505.4" stroke="#111" stroke-width="1.1" />
<line x1="128.0" y1="579.8" x2="128.0" y2="583.0999999999999" stroke="#111" stroke-width="1.1" />
<text x="128.0" y="501.5" font-size="7.6" fill="#222" text-anchor="middle">0</text>
<text x="128.0" y="593.4" font-size="7.6" fill="#222" text-anchor="middle">0</text>
<line x1="148.12" y1="508.7" x2="148.12" y2="505.4" stroke="#111" stroke-width="1.1" />
<line x1="148.12" y1="579.8" x2="148.12" y2="583.0999999999999" stroke="#111" stroke-width="1.1" />
<text x="148.12" y="501.5" font-size="7.6" fill="#222" text-anchor="middle">5</text>
<text x="148.12" y="593.4" font-size="7.6" fill="#222" text-anchor="middle">5</text>
<line x1="168.24" y1="508.7" x2="168.24" y2="505.4" stroke="#111" stroke-width="1.1" />
<line x1="168.24" y1="579.8" x2="168.24" y2="583.0999999999999" stroke="#111" stroke-width="1.1" />
<text x="168.24" y="501.5" font-size="7.6" fill="#222" text-anchor="middle">10</text>
<text x="168.24" y="593.4" font-size="7.6" fill="#222" text-anchor="middle">10</text>
<line x1="188.35999999999999" y1="508.7" x2="188.35999999999999" y2="505.4" stroke="#111" stroke-width="1.1" />
<line x1="188.35999999999999" y1="579.8" x2="188.35999999999999" y2="583.0999999999999" stroke="#111" stroke-width="1.1" />
<text x="188.35999999999999" y="501.5" font-size="7.6" fill="#222" text-anchor="middle">15</text>
<text x="188.35999999999999" y="593.4" font-size="7.6" fill="#222" text-anchor="middle">15</text>
<line x1="208.48" y1="508.7" x2="208.48" y2="505.4" stroke="#111" stroke-width="1.1" />
<line x1="208.48" y1="579.8" x2="208.48" y2="583.0999999999999" stroke="#111" stroke-width="1.1" />
<text x="208.48" y="501.5" font-size="7.6" fill="#222" text-anchor="middle">20</text>
<text x="208.48" y="593.4" font-size="7.6" fill="#222" text-anchor="middle">20</text>
<line x1="228.6" y1="508.7" x2="228.6" y2="505.4" stroke="#111" stroke-width="1.1" />
<line x1="228.6" y1="579.8" x2="228.6" y2="583.0999999999999" stroke="#111" stroke-width="1.1" />
<text x="228.6" y="501.5" font-size="7.6" fill="#222" text-anchor="middle">25</text>
<text x="228.6" y="593.4" font-size="7.6" fill="#222" text-anchor="middle">25</text>
<line x1="123.2" y1="529.3" x2="128.0" y2="529.3" stroke="#111" stroke-width="1.2" />
<line x1="123.2" y1="559.8" x2="128.0" y2="559.8" stroke="#111" stroke-width="1.2" />
<circle cx="151.1" cy="559.8" r="2.8" fill="#c8001c"/>
<circle cx="159.0" cy="559.8" r="2.8" fill="#c8001c"/>
<circle cx="161.8" cy="559.8" r="2.8" fill="#c8001c"/>
<circle cx="172.3" cy="529.3" r="2.8" fill="#0a3cb0"/>
<circle cx="185.9" cy="529.3" r="2.8" fill="#0a3cb0"/>
<circle cx="222.7" cy="529.3" r="2.8" fill="#0a3cb0"/>
<line x1="151.1" y1="559.8" x2="172.3" y2="529.3" stroke="#111" stroke-width="1.3" />
<line x1="159.0" y1="559.8" x2="185.9" y2="529.3" stroke="#111" stroke-width="1.3" />
<line x1="161.8" y1="559.8" x2="222.7" y2="529.3" stroke="#111" stroke-width="1.3" />
<text x="119.6" y="527.2" font-size="8.2" fill="#1f4ec2" text-anchor="end" textLength="52.3" lengthAdjust="spacingAndGlyphs">Healthy PBMC</text>
<text x="119.6" y="537.7" font-size="8.2" fill="#1f4ec2" text-anchor="end" textLength="28.6" lengthAdjust="spacingAndGlyphs">NK cells</text>
<text x="119.6" y="557.2" font-size="8.2" fill="#d01f38" text-anchor="end" textLength="45.5" lengthAdjust="spacingAndGlyphs">B-ALL PBMC</text>
<text x="119.6" y="568.8" font-size="8.2" fill="#d01f38" text-anchor="end" textLength="28.6" lengthAdjust="spacingAndGlyphs">NK cells</text>
<text x="89.8" y="612.9" font-size="10.0" fill="#222" textLength="149.4" lengthAdjust="spacingAndGlyphs">K562 = NK-sensitive erythroleukemia target</text>
<text x="60.6" y="559.0" font-size="9.2" fill="#222" font-style="italic" textLength="34.8" lengthAdjust="spacingAndGlyphs" transform="rotate(-90 60.6 559.0)">P=0.0295</text>
<text x="321.3" y="488.5" font-size="9.2" fill="#111" textLength="117.2" lengthAdjust="spacingAndGlyphs">NK specific cytotoxicity (%)</text>
<line x1="331.3" y1="508.7" x2="431.0" y2="508.7" stroke="#111" stroke-width="1.4" />
<line x1="331.3" y1="579.8" x2="431.0" y2="579.8" stroke="#111" stroke-width="1.4" />
<line x1="331.3" y1="508.0" x2="331.3" y2="580.5" stroke="#111" stroke-width="1.4" />
<line x1="431.0" y1="508.0" x2="431.0" y2="580.5" stroke="#111" stroke-width="1.4" />
<line x1="331.3" y1="508.7" x2="331.3" y2="505.4" stroke="#111" stroke-width="1.1" />
<line x1="331.3" y1="579.8" x2="331.3" y2="583.0999999999999" stroke="#111" stroke-width="1.1" />
<text x="331.3" y="501.5" font-size="7.6" fill="#222" text-anchor="middle">0</text>
<text x="331.3" y="593.4" font-size="7.6" fill="#222" text-anchor="middle">0</text>
<line x1="356.225" y1="508.7" x2="356.225" y2="505.4" stroke="#111" stroke-width="1.1" />
<line x1="356.225" y1="579.8" x2="356.225" y2="583.0999999999999" stroke="#111" stroke-width="1.1" />
<text x="356.225" y="501.5" font-size="7.6" fill="#222" text-anchor="middle">5</text>
<text x="356.225" y="593.4" font-size="7.6" fill="#222" text-anchor="middle">5</text>
<line x1="381.15" y1="508.7" x2="381.15" y2="505.4" stroke="#111" stroke-width="1.1" />
<line x1="381.15" y1="579.8" x2="381.15" y2="583.0999999999999" stroke="#111" stroke-width="1.1" />
<text x="381.15" y="501.5" font-size="7.6" fill="#222" text-anchor="middle">10</text>
<text x="381.15" y="593.4" font-size="7.6" fill="#222" text-anchor="middle">10</text>
<line x1="406.075" y1="508.7" x2="406.075" y2="505.4" stroke="#111" stroke-width="1.1" />
<line x1="406.075" y1="579.8" x2="406.075" y2="583.0999999999999" stroke="#111" stroke-width="1.1" />
<text x="406.075" y="501.5" font-size="7.6" fill="#222" text-anchor="middle">15</text>
<text x="406.075" y="593.4" font-size="7.6" fill="#222" text-anchor="middle">15</text>
<line x1="431.0" y1="508.7" x2="431.0" y2="505.4" stroke="#111" stroke-width="1.1" />
<line x1="431.0" y1="579.8" x2="431.0" y2="583.0999999999999" stroke="#111" stroke-width="1.1" />
<text x="431.0" y="501.5" font-size="7.6" fill="#222" text-anchor="middle">20</text>
<text x="431.0" y="593.4" font-size="7.6" fill="#222" text-anchor="middle">20</text>
<line x1="326.5" y1="529.3" x2="331.3" y2="529.3" stroke="#111" stroke-width="1.2" />
<line x1="431.0" y1="529.3" x2="435.6" y2="529.3" stroke="#111" stroke-width="1.2" />
<line x1="326.5" y1="559.8" x2="331.3" y2="559.8" stroke="#111" stroke-width="1.2" />
<line x1="431.0" y1="559.8" x2="435.6" y2="559.8" stroke="#111" stroke-width="1.2" />
<circle cx="343.8" cy="560.3" r="2.8" fill="#c8001c"/>
<circle cx="345.8" cy="560.3" r="2.8" fill="#c8001c"/>
<circle cx="347.8" cy="560.3" r="2.8" fill="#c8001c"/>
<circle cx="349.0" cy="560.3" r="2.8" fill="#c8001c"/>
<circle cx="382.9" cy="529.3" r="2.8" fill="#0a3cb0"/>
<circle cx="425.6" cy="529.3" r="2.8" fill="#0a3cb0"/>
<line x1="346.5" y1="560.3" x2="382.9" y2="529.3" stroke="#111" stroke-width="1.3" />
<line x1="348.5" y1="560.3" x2="425.6" y2="529.3" stroke="#111" stroke-width="1.7" />
<text x="322.6" y="527.2" font-size="8.2" fill="#1f4ec2" text-anchor="end" textLength="52.3" lengthAdjust="spacingAndGlyphs">Healthy PBMC</text>
<text x="322.6" y="537.7" font-size="8.2" fill="#1f4ec2" text-anchor="end" textLength="28.6" lengthAdjust="spacingAndGlyphs">NK cells</text>
<text x="322.6" y="557.2" font-size="8.2" fill="#d01f38" text-anchor="end" textLength="45.5" lengthAdjust="spacingAndGlyphs">B-ALL PBMC</text>
<text x="322.6" y="568.8" font-size="8.2" fill="#d01f38" text-anchor="end" textLength="28.6" lengthAdjust="spacingAndGlyphs">NK cells</text>
<text x="322.9" y="612.9" font-size="10.0" fill="#222" textLength="116.6" lengthAdjust="spacingAndGlyphs">MOLT-4 = NK-sensitive T-ALL target</text>
<text x="264.0" y="556.8" font-size="9.2" fill="#222" font-style="italic" textLength="35.0" lengthAdjust="spacingAndGlyphs" transform="rotate(-90 264.0 556.8)">P=0.0056</text>
<rect x="0" y="0" width="520" height="1.5" fill="#000" />
<rect x="0" y="0" width="1.5" height="623" fill="#000" />
<rect x="518.2" y="0" width="1.8" height="623" fill="#000" />
<rect x="0" y="620.9" width="520" height="2.1" fill="#000" />
</svg>
</body></html>
